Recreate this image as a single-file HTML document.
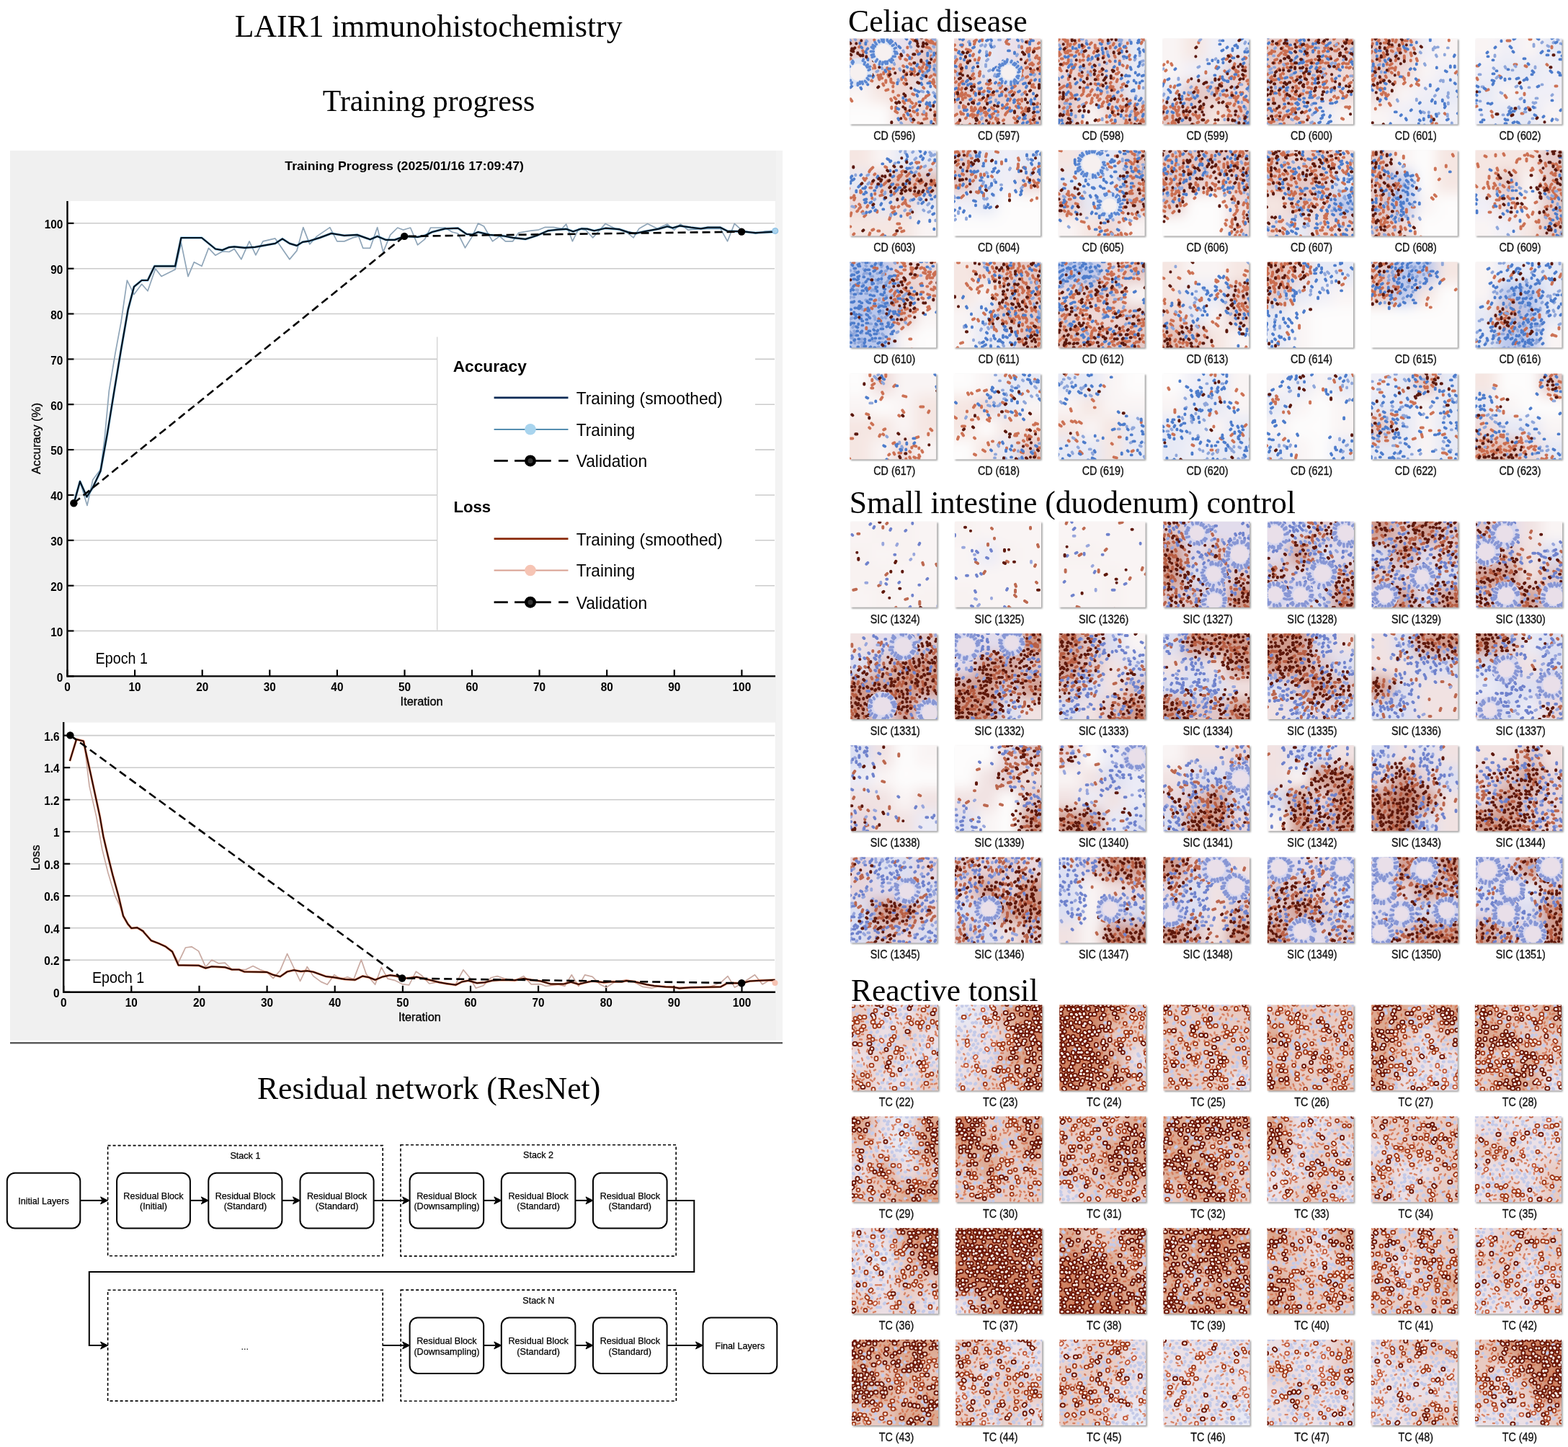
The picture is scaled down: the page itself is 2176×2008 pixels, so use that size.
<!DOCTYPE html>
<html><head><meta charset="utf-8"><title>LAIR1 immunohistochemistry</title>
<style>html,body{margin:0;padding:0;background:#fff;}body{width:2176px;height:2008px;overflow:hidden;}svg{display:block;}.cW{fill:#fdfcfc}.cw{fill:#f9f4f4}.cs{fill:#f9f3f2}.cp{fill:#f5e6e2}.cl{fill:#f0eff7}.cg{fill:#e9e2ee}.cb{fill:#e6e9f5}.cB{fill:#b9c7ec}.cm{fill:#eed9d8}.cM{fill:#e4c8c6}.cr{fill:#eed6d0}.cR{fill:#e2bcb2}.cD{fill:#d4a090}.sW{fill:#fdfcfc}.sw{fill:#f9f4f4}.ss{fill:#f8f2f1}.sp{fill:#f1e2e2}.sl{fill:#ebebf6}.sg{fill:#e2dcec}.sb{fill:#dcdff2}.sB{fill:#cdd4f0}.sm{fill:#e8d6dc}.sM{fill:#e0c6c8}.sr{fill:#eccfc8}.sR{fill:#cf9a8c}.sD{fill:#b87868}.t1{fill:#e8e9f4}.t2{fill:#ebe0e6}.t3{fill:#e8cac2}.t4{fill:#dca890}.t5{fill:#cc8466}</style>
</head><body>
<svg width="2176" height="2008" viewBox="0 0 2176 2008">
<defs><filter id="bl" x="-30%" y="-30%" width="160%" height="160%"><feGaussianBlur stdDeviation="9"/></filter><filter id="sh" x="-10%" y="-10%" width="120%" height="120%"><feGaussianBlur stdDeviation="0.9"/></filter><rect id="q00" x="-20" y="-20" width="51" height="51"/><rect id="q01" x="30" y="-20" width="31" height="51"/><rect id="q02" x="60" y="-20" width="31" height="51"/><rect id="q03" x="90" y="-20" width="51" height="51"/><rect id="q10" x="-20" y="30" width="51" height="31"/><rect id="q11" x="30" y="30" width="31" height="31"/><rect id="q12" x="60" y="30" width="31" height="31"/><rect id="q13" x="90" y="30" width="51" height="31"/><rect id="q20" x="-20" y="60" width="51" height="31"/><rect id="q21" x="30" y="60" width="31" height="31"/><rect id="q22" x="60" y="60" width="31" height="31"/><rect id="q23" x="90" y="60" width="51" height="31"/><rect id="q30" x="-20" y="90" width="51" height="51"/><rect id="q31" x="30" y="90" width="31" height="51"/><rect id="q32" x="60" y="90" width="31" height="51"/><rect id="q33" x="90" y="90" width="51" height="51"/></defs>
<rect width="2176" height="2008" fill="#fff"/>
<text x="594.6" y="50.7" font-family="'Liberation Serif', 'Times New Roman', serif" font-size="43.7" text-anchor="middle" textLength="537.8" lengthAdjust="spacingAndGlyphs">LAIR1 immunohistochemistry</text>
<text x="595.1" y="153.5" font-family="'Liberation Serif', 'Times New Roman', serif" font-size="42" text-anchor="middle" textLength="294.5" lengthAdjust="spacingAndGlyphs">Training progress</text>
<text x="595.1" y="1525" font-family="'Liberation Serif', 'Times New Roman', serif" font-size="43.7" text-anchor="middle" textLength="476.4" lengthAdjust="spacingAndGlyphs">Residual network (ResNet)</text>
<rect x="14" y="209" width="1072" height="1235" fill="#f0f0f0"/>
<rect x="1077" y="209" width="9" height="1235" fill="#f3f3f3"/>
<rect x="14" y="1446.2" width="1072" height="2.2" fill="#4a4a4a"/>
<text x="561.1" y="235.6" font-family="'Liberation Sans', Arial, sans-serif" font-weight="bold" font-size="16.6" text-anchor="middle" textLength="331.6" lengthAdjust="spacingAndGlyphs">Training Progress (2025/01/16 17:09:47)</text>
<rect x="93.5" y="279" width="982.5" height="659.4" fill="#fff"/>
<line x1="102.5" y1="875.5" x2="1075" y2="875.5" stroke="#cbcbcb" stroke-width="1.6"/>
<line x1="102.5" y1="812.7" x2="1075" y2="812.7" stroke="#cbcbcb" stroke-width="1.6"/>
<line x1="102.5" y1="749.8" x2="1075" y2="749.8" stroke="#cbcbcb" stroke-width="1.6"/>
<line x1="102.5" y1="687.0" x2="1075" y2="687.0" stroke="#cbcbcb" stroke-width="1.6"/>
<line x1="102.5" y1="624.1" x2="1075" y2="624.1" stroke="#cbcbcb" stroke-width="1.6"/>
<line x1="102.5" y1="561.2" x2="1075" y2="561.2" stroke="#cbcbcb" stroke-width="1.6"/>
<line x1="102.5" y1="498.4" x2="1075" y2="498.4" stroke="#cbcbcb" stroke-width="1.6"/>
<line x1="102.5" y1="435.5" x2="1075" y2="435.5" stroke="#cbcbcb" stroke-width="1.6"/>
<line x1="102.5" y1="372.7" x2="1075" y2="372.7" stroke="#cbcbcb" stroke-width="1.6"/>
<line x1="102.5" y1="309.8" x2="1075" y2="309.8" stroke="#cbcbcb" stroke-width="1.6"/>
<rect x="606.7" y="467.5" width="441.3" height="406.5" fill="#fff"/>
<line x1="606.7" y1="467.5" x2="606.7" y2="874.4" stroke="#cfcfcf" stroke-width="1.2"/>
<line x1="93.5" y1="938.4" x2="102.5" y2="938.4" stroke="#000" stroke-width="2.2"/>
<text x="87.4" y="945.7" font-family="'Liberation Sans', Arial, sans-serif" font-weight="bold" font-size="16.4" text-anchor="end" textLength="8.6" lengthAdjust="spacingAndGlyphs">0</text>
<line x1="93.5" y1="875.5" x2="102.5" y2="875.5" stroke="#000" stroke-width="2.2"/>
<text x="87.4" y="882.8" font-family="'Liberation Sans', Arial, sans-serif" font-weight="bold" font-size="16.4" text-anchor="end" textLength="17.1" lengthAdjust="spacingAndGlyphs">10</text>
<line x1="93.5" y1="812.7" x2="102.5" y2="812.7" stroke="#000" stroke-width="2.2"/>
<text x="87.4" y="820.0" font-family="'Liberation Sans', Arial, sans-serif" font-weight="bold" font-size="16.4" text-anchor="end" textLength="17.1" lengthAdjust="spacingAndGlyphs">20</text>
<line x1="93.5" y1="749.8" x2="102.5" y2="749.8" stroke="#000" stroke-width="2.2"/>
<text x="87.4" y="757.1" font-family="'Liberation Sans', Arial, sans-serif" font-weight="bold" font-size="16.4" text-anchor="end" textLength="17.1" lengthAdjust="spacingAndGlyphs">30</text>
<line x1="93.5" y1="687.0" x2="102.5" y2="687.0" stroke="#000" stroke-width="2.2"/>
<text x="87.4" y="694.3" font-family="'Liberation Sans', Arial, sans-serif" font-weight="bold" font-size="16.4" text-anchor="end" textLength="17.1" lengthAdjust="spacingAndGlyphs">40</text>
<line x1="93.5" y1="624.1" x2="102.5" y2="624.1" stroke="#000" stroke-width="2.2"/>
<text x="87.4" y="631.4" font-family="'Liberation Sans', Arial, sans-serif" font-weight="bold" font-size="16.4" text-anchor="end" textLength="17.1" lengthAdjust="spacingAndGlyphs">50</text>
<line x1="93.5" y1="561.2" x2="102.5" y2="561.2" stroke="#000" stroke-width="2.2"/>
<text x="87.4" y="568.5" font-family="'Liberation Sans', Arial, sans-serif" font-weight="bold" font-size="16.4" text-anchor="end" textLength="17.1" lengthAdjust="spacingAndGlyphs">60</text>
<line x1="93.5" y1="498.4" x2="102.5" y2="498.4" stroke="#000" stroke-width="2.2"/>
<text x="87.4" y="505.7" font-family="'Liberation Sans', Arial, sans-serif" font-weight="bold" font-size="16.4" text-anchor="end" textLength="17.1" lengthAdjust="spacingAndGlyphs">70</text>
<line x1="93.5" y1="435.5" x2="102.5" y2="435.5" stroke="#000" stroke-width="2.2"/>
<text x="87.4" y="442.8" font-family="'Liberation Sans', Arial, sans-serif" font-weight="bold" font-size="16.4" text-anchor="end" textLength="17.1" lengthAdjust="spacingAndGlyphs">80</text>
<line x1="93.5" y1="372.7" x2="102.5" y2="372.7" stroke="#000" stroke-width="2.2"/>
<text x="87.4" y="380.0" font-family="'Liberation Sans', Arial, sans-serif" font-weight="bold" font-size="16.4" text-anchor="end" textLength="17.1" lengthAdjust="spacingAndGlyphs">90</text>
<line x1="93.5" y1="309.8" x2="102.5" y2="309.8" stroke="#000" stroke-width="2.2"/>
<text x="87.4" y="317.1" font-family="'Liberation Sans', Arial, sans-serif" font-weight="bold" font-size="16.4" text-anchor="end" textLength="25.7" lengthAdjust="spacingAndGlyphs">100</text>
<line x1="93.5" y1="938.4" x2="93.5" y2="929.4" stroke="#000" stroke-width="2.2"/>
<text x="93.5" y="958.8" font-family="'Liberation Sans', Arial, sans-serif" font-weight="bold" font-size="16.4" text-anchor="middle" textLength="8.6" lengthAdjust="spacingAndGlyphs">0</text>
<line x1="187.1" y1="938.4" x2="187.1" y2="929.4" stroke="#000" stroke-width="2.2"/>
<text x="187.1" y="958.8" font-family="'Liberation Sans', Arial, sans-serif" font-weight="bold" font-size="16.4" text-anchor="middle" textLength="17.1" lengthAdjust="spacingAndGlyphs">10</text>
<line x1="280.7" y1="938.4" x2="280.7" y2="929.4" stroke="#000" stroke-width="2.2"/>
<text x="280.7" y="958.8" font-family="'Liberation Sans', Arial, sans-serif" font-weight="bold" font-size="16.4" text-anchor="middle" textLength="17.1" lengthAdjust="spacingAndGlyphs">20</text>
<line x1="374.3" y1="938.4" x2="374.3" y2="929.4" stroke="#000" stroke-width="2.2"/>
<text x="374.3" y="958.8" font-family="'Liberation Sans', Arial, sans-serif" font-weight="bold" font-size="16.4" text-anchor="middle" textLength="17.1" lengthAdjust="spacingAndGlyphs">30</text>
<line x1="467.9" y1="938.4" x2="467.9" y2="929.4" stroke="#000" stroke-width="2.2"/>
<text x="467.9" y="958.8" font-family="'Liberation Sans', Arial, sans-serif" font-weight="bold" font-size="16.4" text-anchor="middle" textLength="17.1" lengthAdjust="spacingAndGlyphs">40</text>
<line x1="561.5" y1="938.4" x2="561.5" y2="929.4" stroke="#000" stroke-width="2.2"/>
<text x="561.5" y="958.8" font-family="'Liberation Sans', Arial, sans-serif" font-weight="bold" font-size="16.4" text-anchor="middle" textLength="17.1" lengthAdjust="spacingAndGlyphs">50</text>
<line x1="655.0" y1="938.4" x2="655.0" y2="929.4" stroke="#000" stroke-width="2.2"/>
<text x="655.0" y="958.8" font-family="'Liberation Sans', Arial, sans-serif" font-weight="bold" font-size="16.4" text-anchor="middle" textLength="17.1" lengthAdjust="spacingAndGlyphs">60</text>
<line x1="748.6" y1="938.4" x2="748.6" y2="929.4" stroke="#000" stroke-width="2.2"/>
<text x="748.6" y="958.8" font-family="'Liberation Sans', Arial, sans-serif" font-weight="bold" font-size="16.4" text-anchor="middle" textLength="17.1" lengthAdjust="spacingAndGlyphs">70</text>
<line x1="842.2" y1="938.4" x2="842.2" y2="929.4" stroke="#000" stroke-width="2.2"/>
<text x="842.2" y="958.8" font-family="'Liberation Sans', Arial, sans-serif" font-weight="bold" font-size="16.4" text-anchor="middle" textLength="17.1" lengthAdjust="spacingAndGlyphs">80</text>
<line x1="935.8" y1="938.4" x2="935.8" y2="929.4" stroke="#000" stroke-width="2.2"/>
<text x="935.8" y="958.8" font-family="'Liberation Sans', Arial, sans-serif" font-weight="bold" font-size="16.4" text-anchor="middle" textLength="17.1" lengthAdjust="spacingAndGlyphs">90</text>
<line x1="1029.4" y1="938.4" x2="1029.4" y2="929.4" stroke="#000" stroke-width="2.2"/>
<text x="1029.4" y="958.8" font-family="'Liberation Sans', Arial, sans-serif" font-weight="bold" font-size="16.4" text-anchor="middle" textLength="25.7" lengthAdjust="spacingAndGlyphs">100</text>
<line x1="93.5" y1="279" x2="93.5" y2="939.4" stroke="#000" stroke-width="2.4"/>
<line x1="92.5" y1="938.4" x2="1076" y2="938.4" stroke="#000" stroke-width="2.4"/>
<text x="585.1" y="978.9" font-family="'Liberation Sans', Arial, sans-serif" font-size="17.2" text-anchor="middle" stroke="#000" stroke-width="0.35" textLength="59" lengthAdjust="spacingAndGlyphs">Iteration</text>
<text transform="translate(55.6,608.5) rotate(-90)" font-family="'Liberation Sans', Arial, sans-serif" font-size="16.8" text-anchor="middle" stroke="#000" stroke-width="0.3" textLength="99" lengthAdjust="spacingAndGlyphs">Accuracy (%)</text>
<text x="132.6" y="920.6" font-family="'Liberation Sans', Arial, sans-serif" font-size="21.4" textLength="72.4" lengthAdjust="spacingAndGlyphs">Epoch 1</text>
<polyline points="102.6,695.5 111.0,668.1 121.0,701.4 128.8,665.7 139.5,651.4 145.0,610.0 151.4,541.9 160.0,490.0 168.1,446.7 176.4,389.0 186.0,408.6 196.7,394.3 205.0,403.8 215.7,372.9 224.0,383.6 243.1,374.0 251.4,337.1 261.0,383.6 269.3,363.8 280.0,369.3 289.5,344.3 299.0,354.3 308.6,349.0 318.1,349.5 325.2,345.5 334.8,359.8 346.0,334.9 354.9,353.9 364.9,334.9 381.9,330.9 401.9,359.9 411.9,347.9 420.8,315.6 429.8,338.9 439.8,327.9 457.8,315.6 467.8,334.9 477.8,334.9 489.7,329.9 497.7,327.9 503.7,344.3 513.7,344.3 523.7,315.6 531.7,349.9 541.7,325.9 551.7,316.0 559.6,319.0 569.6,316.0 579.6,339.9 589.6,331.9 597.6,316.0 617.6,316.0 627.5,322.0 635.5,324.0 645.5,343.9 655.5,327.9 663.5,310.0 671.5,314.0 683.5,334.9 693.4,327.9 701.4,334.9 711.7,334.8 719.5,323.1 737.0,320.2 746.7,319.2 756.5,315.3 768.1,315.3 779.8,317.3 785.7,311.0 794.4,334.8 803.2,317.3 812.9,319.2 822.7,329.9 840.2,310.4 853.8,317.3 869.4,322.1 879.1,329.9 886.9,317.3 898.6,310.4 912.2,317.3 925.9,311.0 935.6,319.2 944.3,311.0 955.1,319.2 972.6,317.3 984.3,317.3 999.8,317.3 1009.6,334.8 1019.3,310.4 1029.0,319.2 1048.5,324.1 1062.2,320.8 1075.8,320.2" fill="none" stroke="#8fa5b8" stroke-width="1.7" stroke-linejoin="round"/>
<polyline points="103.8,694.3 111.0,668.1 120.5,689.5 128.8,676.4 139.5,653.8 149.0,601.4 158.6,541.9 168.1,484.8 177.6,430.0 186.0,397.9 196.7,389.0 205.0,389.0 214.5,369.3 243.1,369.3 251.4,330.0 280.0,330.0 299.0,345.5 308.6,347.1 318.1,343.1 325.2,342.4 339.5,343.8 354.0,342.9 367.9,340.3 381.9,337.9 391.9,331.3 401.9,337.9 411.9,340.9 419.9,335.9 429.8,334.3 443.8,329.9 459.8,323.9 477.8,326.9 495.7,325.9 513.7,332.3 523.7,327.9 535.7,332.9 547.7,332.9 561.6,327.9 579.6,328.9 589.6,326.9 599.6,322.0 617.6,317.4 635.5,316.6 647.5,324.9 655.5,325.5 663.5,322.0 679.5,325.9 699.4,327.5 711.7,329.9 729.2,331.9 744.8,327.0 760.4,320.2 774.0,318.6 785.7,317.8 795.4,321.2 807.1,317.3 814.9,317.6 824.6,320.2 840.2,316.7 859.7,318.2 871.3,322.1 881.1,324.1 894.7,321.2 914.2,317.6 925.9,314.3 933.6,316.3 943.4,313.4 959.0,315.7 972.6,317.3 982.3,315.7 999.8,315.7 1009.6,320.8 1029.0,321.2 1048.5,323.1 1075.8,321.7" fill="none" stroke="#35a0dc" stroke-width="3.4" stroke-linejoin="round" opacity="0.5"/>
<polyline points="103.8,694.3 111.0,668.1 120.5,689.5 128.8,676.4 139.5,653.8 149.0,601.4 158.6,541.9 168.1,484.8 177.6,430.0 186.0,397.9 196.7,389.0 205.0,389.0 214.5,369.3 243.1,369.3 251.4,330.0 280.0,330.0 299.0,345.5 308.6,347.1 318.1,343.1 325.2,342.4 339.5,343.8 354.0,342.9 367.9,340.3 381.9,337.9 391.9,331.3 401.9,337.9 411.9,340.9 419.9,335.9 429.8,334.3 443.8,329.9 459.8,323.9 477.8,326.9 495.7,325.9 513.7,332.3 523.7,327.9 535.7,332.9 547.7,332.9 561.6,327.9 579.6,328.9 589.6,326.9 599.6,322.0 617.6,317.4 635.5,316.6 647.5,324.9 655.5,325.5 663.5,322.0 679.5,325.9 699.4,327.5 711.7,329.9 729.2,331.9 744.8,327.0 760.4,320.2 774.0,318.6 785.7,317.8 795.4,321.2 807.1,317.3 814.9,317.6 824.6,320.2 840.2,316.7 859.7,318.2 871.3,322.1 881.1,324.1 894.7,321.2 914.2,317.6 925.9,314.3 933.6,316.3 943.4,313.4 959.0,315.7 972.6,317.3 982.3,315.7 999.8,315.7 1009.6,320.8 1029.0,321.2 1048.5,323.1 1075.8,321.7" fill="none" stroke="#04121f" stroke-width="2.2" stroke-linejoin="round"/>
<polyline points="102.4,698.2 561.2,327.9 1029.1,321.6" fill="none" stroke="#000" stroke-width="2.6" stroke-dasharray="11,6"/>
<circle cx="102.4" cy="698.2" r="5.2" fill="#000"/>
<circle cx="561.2" cy="327.9" r="5.2" fill="#000"/>
<circle cx="1029.1" cy="321.6" r="5.2" fill="#000"/>
<circle cx="1075.8" cy="320.4" r="4" fill="#a9d3ee" stroke="#7fb8e0" stroke-width="1"/>
<text x="628.7" y="515.6" font-family="'Liberation Sans', Arial, sans-serif" font-weight="bold" font-size="22.7">Accuracy</text>
<line x1="685.6" y1="551.8" x2="788.5" y2="551.8" stroke="#0a2a55" stroke-width="2.8"/>
<text x="799.7" y="560.7" font-family="'Liberation Sans', Arial, sans-serif" font-size="24" textLength="203.2" lengthAdjust="spacingAndGlyphs">Training (smoothed)</text>
<line x1="685.6" y1="595.8" x2="788.5" y2="595.8" stroke="#3d7ea6" stroke-width="1.8"/>
<circle cx="736" cy="595.8" r="7.8" fill="#a8d4ee"/>
<text x="799.7" y="604.7" font-family="'Liberation Sans', Arial, sans-serif" font-size="24" textLength="81.5" lengthAdjust="spacingAndGlyphs">Training</text>
<line x1="685.6" y1="639.4" x2="704.8" y2="639.4" stroke="#000" stroke-width="2.8"/>
<line x1="714.1" y1="639.4" x2="731" y2="639.4" stroke="#000" stroke-width="2.8"/>
<line x1="741" y1="639.4" x2="764.7" y2="639.4" stroke="#000" stroke-width="2.8"/>
<line x1="775.2" y1="639.4" x2="788.5" y2="639.4" stroke="#000" stroke-width="2.8"/>
<circle cx="736" cy="639.4" r="8" fill="#000"/><circle cx="736" cy="639.4" r="3.5" fill="#333"/>
<text x="799.7" y="648.3" font-family="'Liberation Sans', Arial, sans-serif" font-size="24" textLength="98.4" lengthAdjust="spacingAndGlyphs">Validation</text>
<text x="629.4" y="710.6" font-family="'Liberation Sans', Arial, sans-serif" font-weight="bold" font-size="22.2">Loss</text>
<line x1="685.6" y1="747.6" x2="788.5" y2="747.6" stroke="#8a2a08" stroke-width="2.8"/>
<text x="799.7" y="756.5" font-family="'Liberation Sans', Arial, sans-serif" font-size="24" textLength="203.2" lengthAdjust="spacingAndGlyphs">Training (smoothed)</text>
<line x1="685.6" y1="791.5" x2="788.5" y2="791.5" stroke="#d8a090" stroke-width="1.8"/>
<circle cx="736" cy="791.5" r="7.8" fill="#f6c4b4"/>
<text x="799.7" y="800.4" font-family="'Liberation Sans', Arial, sans-serif" font-size="24" textLength="81.5" lengthAdjust="spacingAndGlyphs">Training</text>
<line x1="685.6" y1="835.7" x2="704.8" y2="835.7" stroke="#000" stroke-width="2.8"/>
<line x1="714.1" y1="835.7" x2="731" y2="835.7" stroke="#000" stroke-width="2.8"/>
<line x1="741" y1="835.7" x2="764.7" y2="835.7" stroke="#000" stroke-width="2.8"/>
<line x1="775.2" y1="835.7" x2="788.5" y2="835.7" stroke="#000" stroke-width="2.8"/>
<circle cx="736" cy="835.7" r="8" fill="#000"/><circle cx="736" cy="835.7" r="3.5" fill="#333"/>
<text x="799.7" y="844.6" font-family="'Liberation Sans', Arial, sans-serif" font-size="24" textLength="98.4" lengthAdjust="spacingAndGlyphs">Validation</text>
<rect x="88.2" y="1002.6" width="987.8" height="374.79999999999995" fill="#fff"/>
<line x1="97.2" y1="1332.3" x2="1075" y2="1332.3" stroke="#cbcbcb" stroke-width="1.6"/>
<line x1="97.2" y1="1287.8" x2="1075" y2="1287.8" stroke="#cbcbcb" stroke-width="1.6"/>
<line x1="97.2" y1="1243.2" x2="1075" y2="1243.2" stroke="#cbcbcb" stroke-width="1.6"/>
<line x1="97.2" y1="1198.7" x2="1075" y2="1198.7" stroke="#cbcbcb" stroke-width="1.6"/>
<line x1="97.2" y1="1154.2" x2="1075" y2="1154.2" stroke="#cbcbcb" stroke-width="1.6"/>
<line x1="97.2" y1="1109.7" x2="1075" y2="1109.7" stroke="#cbcbcb" stroke-width="1.6"/>
<line x1="97.2" y1="1065.2" x2="1075" y2="1065.2" stroke="#cbcbcb" stroke-width="1.6"/>
<line x1="97.2" y1="1020.6" x2="1075" y2="1020.6" stroke="#cbcbcb" stroke-width="1.6"/>
<line x1="88.2" y1="1376.8" x2="97.2" y2="1376.8" stroke="#000" stroke-width="2.2"/>
<text x="82.6" y="1383.8" font-family="'Liberation Sans', Arial, sans-serif" font-weight="bold" font-size="16.4" text-anchor="end" textLength="8.6" lengthAdjust="spacingAndGlyphs">0</text>
<line x1="88.2" y1="1332.3" x2="97.2" y2="1332.3" stroke="#000" stroke-width="2.2"/>
<text x="82.6" y="1339.3" font-family="'Liberation Sans', Arial, sans-serif" font-weight="bold" font-size="16.4" text-anchor="end" textLength="21.4" lengthAdjust="spacingAndGlyphs">0.2</text>
<line x1="88.2" y1="1287.8" x2="97.2" y2="1287.8" stroke="#000" stroke-width="2.2"/>
<text x="82.6" y="1294.8" font-family="'Liberation Sans', Arial, sans-serif" font-weight="bold" font-size="16.4" text-anchor="end" textLength="21.4" lengthAdjust="spacingAndGlyphs">0.4</text>
<line x1="88.2" y1="1243.2" x2="97.2" y2="1243.2" stroke="#000" stroke-width="2.2"/>
<text x="82.6" y="1250.2" font-family="'Liberation Sans', Arial, sans-serif" font-weight="bold" font-size="16.4" text-anchor="end" textLength="21.4" lengthAdjust="spacingAndGlyphs">0.6</text>
<line x1="88.2" y1="1198.7" x2="97.2" y2="1198.7" stroke="#000" stroke-width="2.2"/>
<text x="82.6" y="1205.7" font-family="'Liberation Sans', Arial, sans-serif" font-weight="bold" font-size="16.4" text-anchor="end" textLength="21.4" lengthAdjust="spacingAndGlyphs">0.8</text>
<line x1="88.2" y1="1154.2" x2="97.2" y2="1154.2" stroke="#000" stroke-width="2.2"/>
<text x="82.6" y="1161.2" font-family="'Liberation Sans', Arial, sans-serif" font-weight="bold" font-size="16.4" text-anchor="end" textLength="8.6" lengthAdjust="spacingAndGlyphs">1</text>
<line x1="88.2" y1="1109.7" x2="97.2" y2="1109.7" stroke="#000" stroke-width="2.2"/>
<text x="82.6" y="1116.7" font-family="'Liberation Sans', Arial, sans-serif" font-weight="bold" font-size="16.4" text-anchor="end" textLength="21.4" lengthAdjust="spacingAndGlyphs">1.2</text>
<line x1="88.2" y1="1065.2" x2="97.2" y2="1065.2" stroke="#000" stroke-width="2.2"/>
<text x="82.6" y="1072.2" font-family="'Liberation Sans', Arial, sans-serif" font-weight="bold" font-size="16.4" text-anchor="end" textLength="21.4" lengthAdjust="spacingAndGlyphs">1.4</text>
<line x1="88.2" y1="1020.6" x2="97.2" y2="1020.6" stroke="#000" stroke-width="2.2"/>
<text x="82.6" y="1027.6" font-family="'Liberation Sans', Arial, sans-serif" font-weight="bold" font-size="16.4" text-anchor="end" textLength="21.4" lengthAdjust="spacingAndGlyphs">1.6</text>
<line x1="88.2" y1="1376.8" x2="88.2" y2="1367.8" stroke="#000" stroke-width="2.2"/>
<text x="88.2" y="1397.2" font-family="'Liberation Sans', Arial, sans-serif" font-weight="bold" font-size="16.4" text-anchor="middle" textLength="8.6" lengthAdjust="spacingAndGlyphs">0</text>
<line x1="182.3" y1="1376.8" x2="182.3" y2="1367.8" stroke="#000" stroke-width="2.2"/>
<text x="182.3" y="1397.2" font-family="'Liberation Sans', Arial, sans-serif" font-weight="bold" font-size="16.4" text-anchor="middle" textLength="17.1" lengthAdjust="spacingAndGlyphs">10</text>
<line x1="276.5" y1="1376.8" x2="276.5" y2="1367.8" stroke="#000" stroke-width="2.2"/>
<text x="276.5" y="1397.2" font-family="'Liberation Sans', Arial, sans-serif" font-weight="bold" font-size="16.4" text-anchor="middle" textLength="17.1" lengthAdjust="spacingAndGlyphs">20</text>
<line x1="370.6" y1="1376.8" x2="370.6" y2="1367.8" stroke="#000" stroke-width="2.2"/>
<text x="370.6" y="1397.2" font-family="'Liberation Sans', Arial, sans-serif" font-weight="bold" font-size="16.4" text-anchor="middle" textLength="17.1" lengthAdjust="spacingAndGlyphs">30</text>
<line x1="464.7" y1="1376.8" x2="464.7" y2="1367.8" stroke="#000" stroke-width="2.2"/>
<text x="464.7" y="1397.2" font-family="'Liberation Sans', Arial, sans-serif" font-weight="bold" font-size="16.4" text-anchor="middle" textLength="17.1" lengthAdjust="spacingAndGlyphs">40</text>
<line x1="558.9" y1="1376.8" x2="558.9" y2="1367.8" stroke="#000" stroke-width="2.2"/>
<text x="558.9" y="1397.2" font-family="'Liberation Sans', Arial, sans-serif" font-weight="bold" font-size="16.4" text-anchor="middle" textLength="17.1" lengthAdjust="spacingAndGlyphs">50</text>
<line x1="653.0" y1="1376.8" x2="653.0" y2="1367.8" stroke="#000" stroke-width="2.2"/>
<text x="653.0" y="1397.2" font-family="'Liberation Sans', Arial, sans-serif" font-weight="bold" font-size="16.4" text-anchor="middle" textLength="17.1" lengthAdjust="spacingAndGlyphs">60</text>
<line x1="747.1" y1="1376.8" x2="747.1" y2="1367.8" stroke="#000" stroke-width="2.2"/>
<text x="747.1" y="1397.2" font-family="'Liberation Sans', Arial, sans-serif" font-weight="bold" font-size="16.4" text-anchor="middle" textLength="17.1" lengthAdjust="spacingAndGlyphs">70</text>
<line x1="841.2" y1="1376.8" x2="841.2" y2="1367.8" stroke="#000" stroke-width="2.2"/>
<text x="841.2" y="1397.2" font-family="'Liberation Sans', Arial, sans-serif" font-weight="bold" font-size="16.4" text-anchor="middle" textLength="17.1" lengthAdjust="spacingAndGlyphs">80</text>
<line x1="935.4" y1="1376.8" x2="935.4" y2="1367.8" stroke="#000" stroke-width="2.2"/>
<text x="935.4" y="1397.2" font-family="'Liberation Sans', Arial, sans-serif" font-weight="bold" font-size="16.4" text-anchor="middle" textLength="17.1" lengthAdjust="spacingAndGlyphs">90</text>
<line x1="1029.5" y1="1376.8" x2="1029.5" y2="1367.8" stroke="#000" stroke-width="2.2"/>
<text x="1029.5" y="1397.2" font-family="'Liberation Sans', Arial, sans-serif" font-weight="bold" font-size="16.4" text-anchor="middle" textLength="25.7" lengthAdjust="spacingAndGlyphs">100</text>
<line x1="88.2" y1="1002" x2="88.2" y2="1377.8" stroke="#000" stroke-width="2.4"/>
<line x1="87.2" y1="1376.8" x2="1076" y2="1376.8" stroke="#000" stroke-width="2.4"/>
<text x="582.4" y="1416.8" font-family="'Liberation Sans', Arial, sans-serif" font-size="17.2" text-anchor="middle" stroke="#000" stroke-width="0.35" textLength="59" lengthAdjust="spacingAndGlyphs">Iteration</text>
<text transform="translate(55.4,1190.2) rotate(-90)" font-family="'Liberation Sans', Arial, sans-serif" font-size="16.8" text-anchor="middle" stroke="#000" stroke-width="0.3">Loss</text>
<text x="127.9" y="1363.9" font-family="'Liberation Sans', Arial, sans-serif" font-size="21.4" textLength="72.4" lengthAdjust="spacingAndGlyphs">Epoch 1</text>
<polyline points="106.1,1026.5 116.7,1029.2 124.0,1090.9 133.7,1133.1 141.8,1178.5 149.9,1211.0 159.7,1243.5 166.2,1256.4 171.0,1271.1 177.5,1282.4 182.4,1288.1 190.5,1287.3 200.2,1294.3 209.9,1305.3 219.6,1308.9 229.4,1313.3 239.1,1320.6 247.6,1335.7 257.4,1315.0 265.9,1313.8 275.6,1319.9 285.4,1341.8 293.9,1332.0 303.6,1336.9 312.2,1336.2 321.9,1345.5 331.6,1345.5 341.0,1345.5 351.1,1340.6 360.8,1345.5 370.6,1349.1 379.1,1357.6 388.8,1346.7 398.6,1323.5 408.7,1345.0 416.6,1361.5 426.2,1341.5 434.9,1354.6 445.4,1362.4 454.2,1366.3 463.8,1352.8 473.4,1358.9 482.1,1355.8 490.9,1358.9 501.3,1331.8 508.3,1351.9 520.6,1366.3 529.3,1342.3 538.0,1358.1 548.5,1360.7 558.1,1365.6 567.7,1366.8 577.4,1348.1 585.2,1353.7 595.7,1365.0 609.7,1362.4 620.2,1365.9 632.4,1365.6 642.9,1345.8 651.6,1356.3 660.4,1371.2 670.8,1367.7 681.3,1356.8 690.1,1354.6 700.5,1358.1 714.5,1360.7 726.8,1354.6 737.2,1365.9 750.0,1365.6 757.5,1368.5 775.0,1365.9 783.7,1368.5 793.3,1352.8 802.9,1368.5 811.6,1352.8 822.1,1355.4 832.6,1365.9 841.3,1370.3 853.6,1362.4 869.3,1359.8 879.8,1362.4 892.0,1369.4 904.3,1371.2 914.7,1368.5 934.0,1369.8 958.4,1370.3 984.6,1369.8 1000.3,1363.3 1010.0,1354.6 1019.6,1370.3 1030.0,1364.2 1047.5,1352.8 1058.0,1365.9 1066.8,1360.7 1075.5,1362.4" fill="none" stroke="#c9aaa2" stroke-width="1.7" stroke-linejoin="round"/>
<polyline points="96.9,1056.0 106.1,1026.0 115.8,1028.4 119.9,1047.1 125.6,1073.0 133.7,1110.4 138.6,1133.1 143.4,1160.7 149.9,1188.3 156.4,1214.3 164.5,1243.5 171.0,1271.1 177.5,1282.4 182.4,1288.1 190.5,1287.3 198.6,1292.2 200.2,1294.3 209.9,1305.3 219.6,1308.9 229.4,1313.3 239.1,1320.6 247.6,1339.4 275.6,1339.8 285.4,1343.5 293.9,1341.3 312.2,1342.3 321.9,1345.5 331.6,1345.5 338.9,1348.4 370.6,1349.1 379.1,1352.8 388.8,1355.2 398.6,1348.4 407.9,1346.2 417.5,1348.1 426.2,1347.2 434.9,1348.8 452.4,1355.1 462.9,1356.3 478.6,1358.9 492.6,1359.8 503.1,1354.6 511.8,1356.3 520.6,1359.8 531.0,1355.4 541.5,1353.3 550.3,1354.6 558.1,1357.5 567.7,1357.2 578.2,1355.8 592.2,1358.9 609.7,1363.3 620.2,1365.0 632.4,1366.8 641.1,1362.4 649.9,1360.7 662.1,1364.2 672.6,1363.3 683.1,1360.7 697.0,1359.8 714.5,1360.3 726.8,1358.1 737.2,1359.8 750.5,1361.5 764.5,1365.6 781.9,1365.6 792.4,1362.8 802.9,1365.9 813.4,1363.3 822.1,1361.5 837.9,1363.3 848.3,1362.4 862.3,1362.4 869.3,1361.0 879.8,1362.1 897.3,1366.3 907.7,1368.0 923.5,1369.4 934.0,1369.8 942.7,1371.5 958.4,1370.3 984.6,1369.8 1000.3,1369.4 1009.1,1364.5 1019.6,1364.2 1029.2,1364.5 1040.5,1361.5 1054.5,1360.7 1075.5,1359.8" fill="none" stroke="#e8541a" stroke-width="3.2" stroke-linejoin="round" opacity="0.6"/>
<polyline points="96.9,1056.0 106.1,1026.0 115.8,1028.4 119.9,1047.1 125.6,1073.0 133.7,1110.4 138.6,1133.1 143.4,1160.7 149.9,1188.3 156.4,1214.3 164.5,1243.5 171.0,1271.1 177.5,1282.4 182.4,1288.1 190.5,1287.3 198.6,1292.2 200.2,1294.3 209.9,1305.3 219.6,1308.9 229.4,1313.3 239.1,1320.6 247.6,1339.4 275.6,1339.8 285.4,1343.5 293.9,1341.3 312.2,1342.3 321.9,1345.5 331.6,1345.5 338.9,1348.4 370.6,1349.1 379.1,1352.8 388.8,1355.2 398.6,1348.4 407.9,1346.2 417.5,1348.1 426.2,1347.2 434.9,1348.8 452.4,1355.1 462.9,1356.3 478.6,1358.9 492.6,1359.8 503.1,1354.6 511.8,1356.3 520.6,1359.8 531.0,1355.4 541.5,1353.3 550.3,1354.6 558.1,1357.5 567.7,1357.2 578.2,1355.8 592.2,1358.9 609.7,1363.3 620.2,1365.0 632.4,1366.8 641.1,1362.4 649.9,1360.7 662.1,1364.2 672.6,1363.3 683.1,1360.7 697.0,1359.8 714.5,1360.3 726.8,1358.1 737.2,1359.8 750.5,1361.5 764.5,1365.6 781.9,1365.6 792.4,1362.8 802.9,1365.9 813.4,1363.3 822.1,1361.5 837.9,1363.3 848.3,1362.4 862.3,1362.4 869.3,1361.0 879.8,1362.1 897.3,1366.3 907.7,1368.0 923.5,1369.4 934.0,1369.8 942.7,1371.5 958.4,1370.3 984.6,1369.8 1000.3,1369.4 1009.1,1364.5 1019.6,1364.2 1029.2,1364.5 1040.5,1361.5 1054.5,1360.7 1075.5,1359.8" fill="none" stroke="#2a0800" stroke-width="2.0" stroke-linejoin="round"/>
<polyline points="97.4,1020.4 558.1,1357.5 1029.2,1364.3" fill="none" stroke="#000" stroke-width="2.6" stroke-dasharray="11,6"/>
<circle cx="97.4" cy="1020.4" r="5.2" fill="#000"/>
<circle cx="558.1" cy="1357.5" r="5.2" fill="#000"/>
<circle cx="1029.2" cy="1364.3" r="5.2" fill="#000"/>
<circle cx="1075.5" cy="1364" r="4" fill="#f6c2b2"/>
<rect x="149.6" y="1589.6" width="381.6" height="153.20000000000005" fill="none" stroke="#000" stroke-width="1.6" stroke-dasharray="4,3"/>
<text x="340.4" y="1608.1" font-family="'Liberation Sans', Arial, sans-serif" font-size="12.6" text-anchor="middle" stroke="#000" stroke-width="0.25">Stack 1</text>
<rect x="556.0" y="1588.8" width="382.20000000000005" height="154.29999999999995" fill="none" stroke="#000" stroke-width="1.6" stroke-dasharray="4,3"/>
<text x="747.1" y="1607.3" font-family="'Liberation Sans', Arial, sans-serif" font-size="12.6" text-anchor="middle" stroke="#000" stroke-width="0.25">Stack 2</text>
<rect x="149.6" y="1790.3" width="381.6" height="153.79999999999995" fill="none" stroke="#000" stroke-width="1.6" stroke-dasharray="4,3"/>
<rect x="556.2" y="1790.1" width="382.19999999999993" height="154.10000000000014" fill="none" stroke="#000" stroke-width="1.6" stroke-dasharray="4,3"/>
<text x="747.3" y="1808.6" font-family="'Liberation Sans', Arial, sans-serif" font-size="12.6" text-anchor="middle" stroke="#000" stroke-width="0.25">Stack N</text>
<text x="339.7" y="1872.5" font-family="'Liberation Sans', Arial, sans-serif" font-size="12.6" text-anchor="middle">...</text>
<rect x="9.8" y="1627.8" width="101.5" height="76.60000000000014" rx="11" ry="11" fill="#fff" stroke="#000" stroke-width="2"/>
<text x="60.5" y="1670.8" font-family="'Liberation Sans', Arial, sans-serif" font-size="12.6" text-anchor="middle" stroke="#000" stroke-width="0.25">Initial Layers</text>
<rect x="162.1" y="1627.8" width="101.79999999999998" height="76.60000000000014" rx="11" ry="11" fill="#fff" stroke="#000" stroke-width="2"/>
<text x="213.0" y="1663.6" font-family="'Liberation Sans', Arial, sans-serif" font-size="12.6" text-anchor="middle" stroke="#000" stroke-width="0.25">Residual Block</text>
<text x="213.0" y="1678.3" font-family="'Liberation Sans', Arial, sans-serif" font-size="12.6" text-anchor="middle" stroke="#000" stroke-width="0.25">(Initial)</text>
<rect x="289.3" y="1627.8" width="102.09999999999997" height="76.60000000000014" rx="11" ry="11" fill="#fff" stroke="#000" stroke-width="2"/>
<text x="340.4" y="1663.6" font-family="'Liberation Sans', Arial, sans-serif" font-size="12.6" text-anchor="middle" stroke="#000" stroke-width="0.25">Residual Block</text>
<text x="340.4" y="1678.3" font-family="'Liberation Sans', Arial, sans-serif" font-size="12.6" text-anchor="middle" stroke="#000" stroke-width="0.25">(Standard)</text>
<rect x="416.5" y="1627.8" width="102.10000000000002" height="76.60000000000014" rx="11" ry="11" fill="#fff" stroke="#000" stroke-width="2"/>
<text x="467.6" y="1663.6" font-family="'Liberation Sans', Arial, sans-serif" font-size="12.6" text-anchor="middle" stroke="#000" stroke-width="0.25">Residual Block</text>
<text x="467.6" y="1678.3" font-family="'Liberation Sans', Arial, sans-serif" font-size="12.6" text-anchor="middle" stroke="#000" stroke-width="0.25">(Standard)</text>
<rect x="568.6" y="1627.8" width="102.60000000000002" height="76.60000000000014" rx="11" ry="11" fill="#fff" stroke="#000" stroke-width="2"/>
<text x="619.9" y="1663.6" font-family="'Liberation Sans', Arial, sans-serif" font-size="12.6" text-anchor="middle" stroke="#000" stroke-width="0.25">Residual Block</text>
<text x="619.9" y="1678.3" font-family="'Liberation Sans', Arial, sans-serif" font-size="12.6" text-anchor="middle" stroke="#000" stroke-width="0.25">(Downsampling)</text>
<rect x="695.8" y="1627.8" width="102.60000000000002" height="76.60000000000014" rx="11" ry="11" fill="#fff" stroke="#000" stroke-width="2"/>
<text x="747.1" y="1663.6" font-family="'Liberation Sans', Arial, sans-serif" font-size="12.6" text-anchor="middle" stroke="#000" stroke-width="0.25">Residual Block</text>
<text x="747.1" y="1678.3" font-family="'Liberation Sans', Arial, sans-serif" font-size="12.6" text-anchor="middle" stroke="#000" stroke-width="0.25">(Standard)</text>
<rect x="823.0" y="1627.8" width="102.60000000000002" height="76.60000000000014" rx="11" ry="11" fill="#fff" stroke="#000" stroke-width="2"/>
<text x="874.3" y="1663.6" font-family="'Liberation Sans', Arial, sans-serif" font-size="12.6" text-anchor="middle" stroke="#000" stroke-width="0.25">Residual Block</text>
<text x="874.3" y="1678.3" font-family="'Liberation Sans', Arial, sans-serif" font-size="12.6" text-anchor="middle" stroke="#000" stroke-width="0.25">(Standard)</text>
<rect x="568.6" y="1828.5" width="102.60000000000002" height="77.5" rx="11" ry="11" fill="#fff" stroke="#000" stroke-width="2"/>
<text x="619.9" y="1864.8" font-family="'Liberation Sans', Arial, sans-serif" font-size="12.6" text-anchor="middle" stroke="#000" stroke-width="0.25">Residual Block</text>
<text x="619.9" y="1879.5" font-family="'Liberation Sans', Arial, sans-serif" font-size="12.6" text-anchor="middle" stroke="#000" stroke-width="0.25">(Downsampling)</text>
<rect x="695.8" y="1828.5" width="102.60000000000002" height="77.5" rx="11" ry="11" fill="#fff" stroke="#000" stroke-width="2"/>
<text x="747.1" y="1864.8" font-family="'Liberation Sans', Arial, sans-serif" font-size="12.6" text-anchor="middle" stroke="#000" stroke-width="0.25">Residual Block</text>
<text x="747.1" y="1879.5" font-family="'Liberation Sans', Arial, sans-serif" font-size="12.6" text-anchor="middle" stroke="#000" stroke-width="0.25">(Standard)</text>
<rect x="823.0" y="1828.5" width="102.60000000000002" height="77.5" rx="11" ry="11" fill="#fff" stroke="#000" stroke-width="2"/>
<text x="874.3" y="1864.8" font-family="'Liberation Sans', Arial, sans-serif" font-size="12.6" text-anchor="middle" stroke="#000" stroke-width="0.25">Residual Block</text>
<text x="874.3" y="1879.5" font-family="'Liberation Sans', Arial, sans-serif" font-size="12.6" text-anchor="middle" stroke="#000" stroke-width="0.25">(Standard)</text>
<rect x="975.5" y="1828.5" width="102.79999999999995" height="77.5" rx="11" ry="11" fill="#fff" stroke="#000" stroke-width="2"/>
<text x="1026.9" y="1872.0" font-family="'Liberation Sans', Arial, sans-serif" font-size="12.6" text-anchor="middle" stroke="#000" stroke-width="0.25">Final Layers</text>
<line x1="111.3" y1="1665.9" x2="141.6" y2="1665.9" stroke="#000" stroke-width="2"/>
<path d="M149.6,1665.9 L139.6,1660.9 L142.1,1665.9 L139.6,1670.9 Z" fill="#000" stroke="#000" stroke-width="1"/>
<line x1="263.9" y1="1665.9" x2="281.3" y2="1665.9" stroke="#000" stroke-width="2"/>
<path d="M289.3,1665.9 L279.3,1660.9 L281.8,1665.9 L279.3,1670.9 Z" fill="#000" stroke="#000" stroke-width="1"/>
<line x1="391.4" y1="1665.9" x2="408.5" y2="1665.9" stroke="#000" stroke-width="2"/>
<path d="M416.5,1665.9 L406.5,1660.9 L409.0,1665.9 L406.5,1670.9 Z" fill="#000" stroke="#000" stroke-width="1"/>
<line x1="518.6" y1="1665.9" x2="560.6" y2="1665.9" stroke="#000" stroke-width="2"/>
<path d="M568.6,1665.9 L558.6,1660.9 L561.1,1665.9 L558.6,1670.9 Z" fill="#000" stroke="#000" stroke-width="1"/>
<line x1="671.2" y1="1665.9" x2="687.8" y2="1665.9" stroke="#000" stroke-width="2"/>
<path d="M695.8,1665.9 L685.8,1660.9 L688.3,1665.9 L685.8,1670.9 Z" fill="#000" stroke="#000" stroke-width="1"/>
<line x1="798.4" y1="1665.9" x2="815.0" y2="1665.9" stroke="#000" stroke-width="2"/>
<path d="M823.0,1665.9 L813.0,1660.9 L815.5,1665.9 L813.0,1670.9 Z" fill="#000" stroke="#000" stroke-width="1"/>
<polyline points="925.6,1665.9 963.3,1665.9 963.3,1765.1 123.8,1765.1 123.8,1867.1 141.6,1867.1" fill="none" stroke="#000" stroke-width="2"/>
<path d="M149.6,1867.1 L139.6,1862.1 L142.1,1867.1 L139.6,1872.1 Z" fill="#000" stroke="#000" stroke-width="1"/>
<line x1="531.2" y1="1867.0" x2="560.6" y2="1867.0" stroke="#000" stroke-width="2"/>
<path d="M568.6,1867.0 L558.6,1862.0 L561.1,1867.0 L558.6,1872.0 Z" fill="#000" stroke="#000" stroke-width="1"/>
<line x1="671.2" y1="1867.0" x2="687.8" y2="1867.0" stroke="#000" stroke-width="2"/>
<path d="M695.8,1867.0 L685.8,1862.0 L688.3,1867.0 L685.8,1872.0 Z" fill="#000" stroke="#000" stroke-width="1"/>
<line x1="798.4" y1="1867.0" x2="815.0" y2="1867.0" stroke="#000" stroke-width="2"/>
<path d="M823.0,1867.0 L813.0,1862.0 L815.5,1867.0 L813.0,1872.0 Z" fill="#000" stroke="#000" stroke-width="1"/>
<line x1="925.6" y1="1867.0" x2="967.5" y2="1867.0" stroke="#000" stroke-width="2"/>
<path d="M975.5,1867.0 L965.5,1862.0 L968.0,1867.0 L965.5,1872.0 Z" fill="#000" stroke="#000" stroke-width="1"/>
<text x="1177" y="43.9" font-family="'Liberation Serif', 'Times New Roman', serif" font-size="43.7" textLength="248.6" lengthAdjust="spacingAndGlyphs">Celiac disease</text>
<text x="1178.8" y="712.2" font-family="'Liberation Serif', 'Times New Roman', serif" font-size="43.7" textLength="619.2" lengthAdjust="spacingAndGlyphs">Small intestine (duodenum) control</text>
<text x="1181" y="1389.3" font-family="'Liberation Serif', 'Times New Roman', serif" font-size="43.7" textLength="259.5" lengthAdjust="spacingAndGlyphs">Reactive tonsil</text>
<rect x="1180.9" y="55" width="120" height="119" fill="#9a9a9a" filter="url(#sh)"/><svg x="1179.3" y="53.4" width="120" height="119"><g filter="url(#bl)"><use href="#q00" class="cM"/><use href="#q01" class="cg"/><use href="#q02" class="cg"/><use href="#q03" class="cM"/><use href="#q10" class="cg"/><use href="#q11" class="cr"/><use href="#q12" class="cm"/><use href="#q13" class="cM"/><use href="#q20" class="cw"/><use href="#q21" class="cp"/><use href="#q22" class="cr"/><use href="#q23" class="cb"/><use href="#q30" class="cW"/><use href="#q31" class="cW"/><use href="#q32" class="cm"/><use href="#q33" class="cr"/></g><path d="M34 2l1 2m51-4l3 3m17-1l3 2m4-1l2 2m-5 0l3 1m3 1l3 1m2-2l1 2m-108 3l-1 1m23-1l1 2m43-1l0 1m26-1l4 1m1 1l1 2m-94 1l1 2m74-2l2 3m-26 6l1 2m10-5l1 1m32 0l0 3m8-3l0 3m-120 1l1 2m37 1l1 3m7-7l0 4m14-3l1 0m15 1l2 1m7-3l-1 1m33 2l-1 2m5-4l1 1m-111 4l3 2m19 2l1 4m48-6l2 1m17-2l1 2m-95 3l-1 1m22 0l2 2m21-1l1 2m8-1l-1 0m14-4l1 1m14 3l1 4m6-6l3 3m2-4l0 1m6-1l-1 3m-59 5l0 2m8-3l0 2m24 0l-2 3m7-5l2 0m15 0l3 2m-65 3l4 1m0-2l0 2m10-2l1 3m35-3l1 1m23 1l-2 2m6-4l3 1m-112 7l1 2m20-2l2 1m9-5l1 3m4-2l-3 0m8 3l0 3m7-5l0 4m15-5l0 2m5-1l1 2m38-1l1 4m-71 2l1 2m11-4l3 1m14 0l2 2m34-4l1 1m3-1l1 3m-56 3l0 1m42 1l1 1m15-3l2 2m-67 3l-3 1m10 1l0 1m7 5l1 0m19-2l2 1m17 2l-1 2m5-4l-3 2m-106 4l2 3m54-3l1 2m4-4l2 2m19 1l-2 1m21-2l-1 2m-27 1l2 3m9-2l2 2m5 0l0 1m-34 4l0 2m6-2l0 3m26-4l-3 2m21-2l-1 3m-44 4l3 2m13-2l-1 1m10-1l2 1m28 0l3 1m-46 3l0 2m9-2l1 2m9-4l0 2m7-1l1 0m4-1l0 3m-29 4l1 1m29-1l-4 1m15-1l0 2m-32 2l1 1m8 1l2 1m24-3l0 2" stroke="#c6603f" stroke-width="4.0" stroke-linecap="round" opacity="0.88"/><path d="M0 2l1 1m6-3l1 2m15 1l1 1m91-4l1 1m4-1l-1 2m-83 6l0 1m48 2l1 1m31-1l1 1m-43 5l1 2m36-2l2 1m2 7l-1 1m-53 8l1 2m56 1l-1 1m-98 4l1 2m24-4l1 2m24 0l1 2m51-5l1 2m-120 4l1 1m36-1l-2 1m70 1l-3 1m14-3l2 2m-53 10l1 2m31 14l3 1m14 1l2 2m-34 17l0 1m19 6l0 2m18 4l1 1m-38 3l1 3m-14 3l1 1" stroke="#8ea6da" stroke-width="3.9" stroke-linecap="round"/><path d="M78 0l1 1m14-1l0 2m-79 4l0 1m8-1l0 2m28-2l0 2m13-1l1 2m20-4l-1 2m-67 5l1 1m8 1l-1 1m40-1l0 3m4-6l2 2m-48 5l1 2m11 0l0 1m21-5l0 2m53 2l0 2m9-2l0 3m-34 3l0 2m14-7l-2 1m13 0l0 2m-83 4l0 2m24-3l-1 2m10-1l-1 1m50 2l1 2m-105 0l2 2m4-2l1 1m33 0l3 1m48 1l-1 2m14-2l1 1m-52 5l-2 0m25-3l1 1m5 2l2 1m24-5l0 2m6 2l0 1m-68 1l1 2m47-1l0 1m13-2l-2 1m14 0l1 1m-106 3l-1 0m17 3l-1 2m42-1l0 1m27-3l2 1m-4 3l1 1m-76 7l1 1m41-3l0 2m33-1l1 2m8-2l3 0m-108 4l-2 2m14 0l1 2m96-4l0 1m-22 4l1 1m3 1l2 1m12 0l1 1m-16 3l1 2m24 0l2 2m-46 0l0 1m4 2l0 1m18 2l2 0m9 1l-1 2m5-2l-1 3m8-4l-1 1m-51 8l2 1m44-5l0 1m-18 5l-1 1m-13 4l1 2m-14 5l1 2m45 2l0 2" stroke="#4d7ccb" stroke-width="3.9" stroke-linecap="round"/><path d="M16 3h0m75 0l2 1m6-5l1 0m-100 7l1 1m8 0h0m29-1l0 2m56-1h0m8-1l0 2m4-1l1 1m-104 6l1 1m3-2l-1 1m88-4l1 1m6 0l1 0m-100 6l1 0m2 1l-1 0m7 2l0 1m89-3h0m21 2l0 1m-120 1l1 1m12 0l1 1m3-1l0 1m5 1l0 1m48-4l1 2m16-2l2 0m-56 8l-1 1m66-1l0 2m14-3h0m-23 5l-1 0m21 0l1 0m-70 6h0m-17 5l1 1m38 2h0m12-3l0 1m-62 5l1 0m9 1h0m8-2l0 1m25-1l-1 1m24-1h0m7-1l-1 1m10-1l-1 1m12 2l0 1m-27 10h0m15-2l2 1m-56 5l-1 1m46 1h0m-10 8h0m2 2l0 1m-13 9l1 1m3-2l1 1m5 6h0m3 2l0 1m20-5h0m19 0l0 1m-33 6h0m29-1h0m6 7l0 1m-47 4h0m17 1l1 1m-31 3l0 1m42 1l-1 1m17 0h0" stroke="#5a180c" stroke-width="4.1" stroke-linecap="round"/><circle cx="12" cy="47" r="19.8" fill="#dde4f4"/><circle cx="47" cy="19" r="19.5" fill="#dde4f4"/><circle cx="12" cy="47" r="11.8" fill="#f6f0f0"/><circle cx="47" cy="19" r="11.5" fill="#f6f0f0"/><path d="M-2 50l-4 1m4-4l-4-1m4-2l-4 1m3-5l-2 0m5-1l-3-3m7-1l-1-2m2 0l-1-2m14 0l1-2m1 7l1-3m2 5l2-2m-1 4l4-1m-2 5l2-1m-2 9l3 0m-5 3l2 2m-5 2l2 2m-6-1l1 3m-4-3l0 3m-3-1l0 3m-8-4l-1 2m-1-5l-2 1m36-48l-3-2m5-1l-2-3m6 0l-1-2m5 1l-1-4m3 5l0-4m5 2l0-3m2 5l3-3m-1 5l3-3m0 6l2-1m1 5l2-1m-2 5l3 1m-2 2l3 0m-6 4l3 0m-5 3l2 2m-5 0l3 3m-6-1l0 3m-3-3l1 3m-4-2l-1 3m-3-4l-1 4m-3-7l-2 3m-2-7l-3 1m2-4l-3 1m3-5l-4 0m4-4l-3-2" stroke="#5d88d2" stroke-width="3.6" stroke-linecap="round"/></svg>
<rect x="1325.6" y="55" width="120" height="119" fill="#9a9a9a" filter="url(#sh)"/><svg x="1324" y="53.4" width="120" height="119"><g filter="url(#bl)"><use href="#q00" class="cm"/><use href="#q01" class="cb"/><use href="#q02" class="cg"/><use href="#q03" class="cm"/><use href="#q10" class="cM"/><use href="#q11" class="cb"/><use href="#q12" class="cg"/><use href="#q13" class="cM"/><use href="#q20" class="cM"/><use href="#q21" class="cm"/><use href="#q22" class="cM"/><use href="#q23" class="cm"/><use href="#q30" class="cm"/><use href="#q31" class="cM"/><use href="#q32" class="cm"/><use href="#q33" class="cM"/></g><path d="M31 2l-3 2m11-3l0 2m35-1l-2 3m30-1l0 2m4-6l1 3m-106 6l-1 1m12-1l-1 2m18-6l-1 3m45-1l3 1m42-2l-1 1m-117 8l3 1m14-1l4 1m73-5l0 2m8 1l-1 4m4-5l0 3m7-2l-2 3m8-4l-3 1m-92 3l-2 1m29 2l-1 3m52-5l2 1m1-1l-1 2m-76 2l-1 2m89 0l-2 3m-109 2l-2 3m17-1l-1 2m11-4l0 1m6-3l-1 3m68 0l-2 2m18-5l-1 1m4-1l-2 2m-118 5l-3 1m11 1l0 3m99-5l-3 2m5 0l-1 1m10-4l-2 2m-109 3l0 1m94 1l-2 1m22-2l-3 1m-119 5l2 1m9-2l-1 2m26 0l-1 2m60-4l-1 3m13-1l3 2m1-4l-3 1m8-2l1 1m3 0l0 2m-93 3l-2 3m11-3l-1 3m45 1l-1 1m15-3l1 2m7 0l-2 1m-100 1l-1 2m13 2l-2 2m18-6l-1 1m59 1l-1 3m22-2l-1 1m-103 1l-1 1m5 2l0 2m21-1l-2 1m21-3l-2 1m6-1l-3 2m16-3l-2 2m21-1l0 1m27 1l-2 1m-102 4l0 2m5-2l-1 2m37-2l4 1m15-4l-2 3m21-3l-3 2m30 0l-4-1m-105 8l-2 2m10-2l-2 3m19-4l0 2m7-4l1 4m6-3l-2 2m27-1l-1 1m14-2l-3 2m7 0l-1 2m16-3l-2 2m-91 4l0 4m7-6l-3 2m6-4l-1 2m7 2l-3-1m36-1l-4 0m21 1l0 1m-60 3l0 2m4-3l-1 0m13 4l-1 1m8-2l3 0m8-2l-2 4m34-3l-1 2m13-1l-2 1m6-2l0 3m-93 1l-3 1m76 2l-1 1m16-2l2 1m25-1l-1 2m-102 1l0 3m3-1l-1 2m9-2l0 2m5-1l1 2m7-2l-2 3m17-3l3 2m15-3l-3 2m10-1l0 2m9-4l2 2m5 0l1 1m6-1l-1 2m-90 4l1 3m14-5l4 0m0-2l-1 3m13-2l-3 2m7 1l-2 1m18-2l1 1m14-1l-2 2m23-2l-2 2m8-4l-2 2m-96 4l-3 2m10-3l2 1m12 0l-3 2m6-1l-2 3m7-4l-1 2m14-3l-2 3m11-3l-3 2m20-2l-1 2m17 2l0 1m24-2l-2 2m-93 1l-1 1m37-2l-2 2m7-1l0 2m3 0l-1 3m9-2l-1 1m15-4l2 2m12-1l-1 1m10 1l-1 2m-101 3l-1 1m3-3l0 2m16 1l-2 3m15-6l-1 4m15-4l-1 3m6-1l-1 3m32-4l2 0m20 1l2 3m4-5l-1 1m-93 4l0 2" stroke="#c6603f" stroke-width="4.0" stroke-linecap="round" opacity="0.88"/><path d="M21 4l-1 1m42-3l2 0m30 0l1 2m-56 5l-2 1m7-1l-1 2m8-4l-1 1m6 3l-1 1m35-2l0 2m-45 6l0 3m-43 4l-1 2m87-5l-1 2m-40 5l-2 2m60-2l0 1m-61 6l0 3m45 3l0 1m-84 5l0 3m20-6l1 0m24-1l-2 1m-7 7l0 1m16-3l-1 2m16 0l-1 1m41-3l-1 1m-64 7l0 2m44-2l-1 1m6-4l-2 2m-60 12l0 1m30-5l-2 0m12 6l-1 1m-35 5l3 1m36 0l2 2m16-3l-1 1m-43 4l-2 1m9 2l0 2m-51 7l0 2m31 8l-1 1m24 1l-1 1m-21 3l-1 2" stroke="#8ea6da" stroke-width="3.9" stroke-linecap="round"/><path d="M8 0l0 1m5 0l-1 1m24 1l-1 1m12-2l-2 1m6-2l1 2m25-3l-2 0m13 2l1 1m21 0l-3 0m-98 6l2 0m11-2l0 2m83-4l0 3m-77 4l-2 1m25-3l1 2m-45 6l-1 2m30-3l-1 2m42-2l-2 0m9 2l0 2m-73 1l-2 0m13 1l0 1m24-1l-1 1m59-2l0 3m-95 2l0 1m5 1l0 1m54 1l0 1m-35 2l-1 0m56-1l-1 1m34-1l1 2m-122 3l3 1m14 0l0 2m10-1l-1 1m29 1l-1 2m6-4l-2 0m35 0l0 2m-4 3l-1 1m-27 6l0 1m46-3l-1 0m15-1l-2 0m-100 9l-2 2m96-3l-1 1m7-1l0 2m-105 4l-2 0m7 1l0 1m5-2l-2 0m14-2l-2 1m24-1l-1 1m18 0l-1 1m14-3l0 2m11 0l-3 1m-93 6l-2 1m37-1l-2 1m45-2l-1 1m21-3l-1 2m-51 6l-2-1m13 0l-1 0m32 0l-2 1m-90 3l0 3m31-4l0 3m33 0l0 1m3-3l0 2m44-3l0 1m-104 7l-2 1m20-1l-2 1m53-1l-1 2m10-1l-1 1m24-1l-1 2m6-4l0 1m-77 6l-2 1m18-3l-2 1m13 0l-1 1m6 2l0 1m17-5l-1 1m25 0l-1 2m-33 5l-2 1m17-3l1 2m21 0l0 2m5-3l-1 0m-101 4l0 1m4-1l-1 1m17 1l-1 2m16-4l-1 1m10 1l-1 0m23-1l-2 1m37 1l2 0m-98 3l0 2m30 0l1 2m49-2l-2 1m-6 2l-1 1m9 0l-2 0m-57 8l-1 1m57-3l-1 1m7-2l-1 1m15 0l-1 0" stroke="#4d7ccb" stroke-width="3.9" stroke-linecap="round"/><path d="M100 5h0m-88 14l1 1m6-1l-1 1m77-1l1 1m15-2l-1 1m-94 6l0 1m82-4l-1 0m-75 9h0m71-2h0m-74 4l0 1m60-1l0 1m20 0h0m-88 7l-1 1m23-3h0m73 3h0m10 0h0m-33 2h0m-74 5l-1 0m4 2h0m7 1h0m65-1l0 1m4-3h0m-79 6l-2 1m15-1l1 1m27 2l-1 1m30 5h0m26-2l-1 0m14 2l0 1m-101 4l-1 1m8-3h0m4 0h0m44 3l-1 1m47-4l0 2m-113 6l0 2m20-6l-1 1m31 2l-1 1m52-3l-1 1m-70 3l0 1m12 2l0 1m35-2l-1 1m20-1h0m14 1l-1 1m-114 5h0m41-3l-1 1m59 1l0 1m-90 4h0m11 2h0m5-2h0m2 0l0 1m19 0l0 1m56-2h0m9 2l-1 0m11 0l1 1m-80 4l1 1m13-4h0m5 1l-1 0m44 3l-1 1m-19 3l0 2m20-3l-1 1m8 1l-1 1m11-3h0m-24 5l-1 1m-88 7l0 1m23-3l-1 0m2 2l-1 1m14 0h0m66-2l-1 1m9-3l0 1m-89 8l0 1m18-2l0 2m14-3l-1 1m8 1l0 1m19-5h0m-82 6l0 1m5-1h0m94 0l1 0" stroke="#5a180c" stroke-width="4.1" stroke-linecap="round"/><circle cx="76" cy="47" r="18.3" fill="#dde4f4"/><circle cx="76" cy="47" r="10.3" fill="#f6f0f0"/><path d="M66 56l-2 1m-2-5l-3 1m4-4l-3 1m3-5l-3-1m3-3l-1-1m3-2l-2-2m5 1l-1-2m4 0l-1-3m3 1l1-4m5 4l1-2m2 5l2-2m0 3l2-2m1 5l2-2m1 5l3-2m-4 6l2-1m-3 6l2 0m-3 1l2 2m-5 2l3 3m-4-1l1 4m-5-3l0 4m-7-4l-1 2m-4-3l-1 3" stroke="#5d88d2" stroke-width="3.6" stroke-linecap="round"/></svg>
<rect x="1470.3" y="55" width="120" height="119" fill="#9a9a9a" filter="url(#sh)"/><svg x="1468.7" y="53.4" width="120" height="119"><g filter="url(#bl)"><use href="#q00" class="cM"/><use href="#q01" class="cm"/><use href="#q02" class="cM"/><use href="#q03" class="cb"/><use href="#q10" class="cm"/><use href="#q11" class="cM"/><use href="#q12" class="cm"/><use href="#q13" class="cb"/><use href="#q20" class="cM"/><use href="#q21" class="cm"/><use href="#q22" class="cM"/><use href="#q23" class="cb"/><use href="#q30" class="cM"/><use href="#q31" class="cw"/><use href="#q32" class="cm"/><use href="#q33" class="cM"/></g><path d="M1 1l-2 2m8-2l3 1m3 1l-3 1m20-4l-1 3m29-2l-1 1m4 1l0 2m55-5l3 2m1-1l2 2m-109 3l0 2m4 0l-1 2m8-4l-2 2m24-2l-2 2m7 1l0 4m26-6l-1 2m20-3l0 1m20-2l-1 2m-103 5l-3 2m27-3l-2 2m21 1l-3 0m20-3l0 2m14 1l-3 3m8-6l3 2m-93 6l-1 4m9-5l1 2m3-3l0 3m4-3l-3 0m13 0l-2 2m25-1l-1 2m-46 2l-2 2m18-1l-3 0m13-2l0 1m5 0l1 3m7-1l-1 2m22-2l0 2m15-2l1 2m20-3l-1 2m-98 6l-2 1m8-4l-2 0m10 1l0 3m16-2l0 2m5-2l-1 0m37 1l1 1m13-1l0 3m15-5l-1 0m-91 5l-2 3m7-3l-2 1m13 1l-2 3m22-4l-1 1m46 1l1 1m-88 3l1 3m16-5l2 3m61-1l0 2m14-5l-1 3m-93 2l2 2m14-1l-1 4m28-2l-1 3m14-3l-1 0m3-2l0 1m24 2l-1 1m-54 1l0 2m4 1l-1 1m10-3l-1 1m15 0l-2 2m28-4l-2 0m-66 6l0 2m41-1l0 1m22-2l-1 1m6 1l-1 3m-65 2l0 2m25 0l0 1m10-2l2 1m7 0l-2 1m15-4l-1 1m19 1l-2 1m-86 5l-1 1m6-4l-3 2m8-1l-1 0m5-1l0 2m19 1l-1 0m38-3l-2 2m5-1l-2 3m14-2l-1 0m25-2l0 3m-77 2l0 3m12-3l-2 3m15 0l-1 3m19-6l-1 1m-74 9l-2 3m16-8l2 3m15-2l-2 2m10-1l-2 2m4-2l-1 1m8-1l-1 1m5 0l-1 3m15-2l-2 3m5-3l-1 1m17-2l-1 1m-88 3l-4 0m18 2l-2 1m9-4l-3 1m30 0l-1 4m12-3l-2 2m13 0l-1 2m15-3l-1 3m8-4l0 2m10 0l-3 2m-86 0l-2 2m30-1l-2 2m10-3l-2 2m18-2l-2 3m46 0l-1 3m-98 2l-1 1m9-2l-2 1m15-2l-1 1m33-1l-4 1m18 0l-1 4m12-5l2 3m2-2l-2 3m8-4l0 2m2-2l-4 1m24-2l-1 2m4 2l0 2m-108 1l0 4m64-3l-1 1m7-3l0 1m12-1l-1 2m12-2l0 2m4 2l1 1m6-5l-2 3m-103 3l3 1m52 1l0 2m10-3l2 1m16 0l-1 0m13-3l0 1m2 0l-2 3m15-4l0 3m-65 6l-2 1m19-1l-1 1m21-1l0 4m16-4l-1 1m8-2l-3 3m-89 4l0 2m8-6l0 2m35-1l-1 0m8 2l0 1m4-3l-2 3m19-2l-3 1m8-1l0 4m18-6l-3 0m-96 6l-3 2m68-2l-1 3" stroke="#c6603f" stroke-width="4.0" stroke-linecap="round" opacity="0.88"/><path d="M34 1l-2 0m7 2l0 2m46-5l-1 3m4-1l-1 2m12-2l0 1m-98 6l1 1m69-5l0 1m16 1l-1 1m-53 9l-1 2m36-1l0 2m45 3l0 1m-95 6l0 2m28-4l-1 2m46-3l0 1m16 0l-1 2m12 1l-3 1m-58 4l0 1m10-3l0 1m51 1l-1 1m-83 3l2 1m-6 3l2 1m9 1l0 1m80-2l0 1m-107 4l0 1m30-2l1 2m73 17l0 1m-50 5l0 1m21-4l-1 1m20 8l-1 2m-98 8l3 0m23 1l-2 1m85-4l-1 2m-104 5l-1 2m-4 4l0 2m94-2l-1 1m-77 5l0 2m-5 5l0 1m42-4l0 2m30-3l0 1m-61 10l-1 1" stroke="#8ea6da" stroke-width="3.9" stroke-linecap="round"/><path d="M112 2l-1 1m-82 6l0 3m10-5l1 1m18-1l2 1m9-2l0 1m16 1l0 2m16-5l0 2m11-2l-2 1m-107 8l-1 1m18-3l0 2m5 0l-1 0m18-1l1 0m18 0l0 3m19-4l-1 1m14-2l-2 1m21 2l-1 1m-49 4l0 2m26-4l0 2m25-1l0 2m5-4l1 2m-110 7l1 1m4-1l-1 1m11-2l-2 1m25 1l0 2m6-4l-1 1m4-2l-1 1m14-1l1 2m20 0l2 0m3 1l0 1m12-3l-1 2m-64 2l-1 2m38 1l0 1m-62 4l2 0m66-2l0 2m28-3l0 2m-98 3l-1 2m8 0l-2 1m11-2l-1 1m17-1l0 1m31-1l-1 1m23 0l1 3m11-5l-1 1m-44 6l-1 0m41 2l0 1m-101 5l-1 1m62-2l-1 2m28-3l-1 1m6 0l-3 0m16-2l-2 1m9 0l-3 1m-116 3l0 2m31 0l0 1m57-3l-1 1m18 2l0 1m12 0l-1 0m-103 5l-1 2m14-5l-2 2m32 0l-1 0m42-3l-1 1m12 0l0 1m5-1l0 1m-72 6l-2 0m16 1l-1 2m14-4l-1 2m-53 5l-1 1m45-3l2 1m23 1l-1 1m21-3l-1 1m3-2l0 2m-94 4l0 1m15 0l-3 1m54 1l-1 1m-47 3l-2 1m80-2l0 1m6 2l-1 0m3-3l-1 2m-97 6l-1 0m55 0l-1 1m30-2l-2 1m12 0l-1 1m-53 1l0 3m24-1l2 2m-64 7l0 2m16 1l0 2m38-2l-1 2m16-3l0 2m13-2l-1 2m19-3l-1 3m-116 5l0 2m4-2l0 1m74-1l0 2m28-5l0 2m-106 3l-1 3m6 0l-1 1" stroke="#4d7ccb" stroke-width="3.9" stroke-linecap="round"/><path d="M19 1l0 2m4 0h0m46-1l0 1m5-2h0m6 0l0 1m-73 6h0m26 1l0 1m-24 4l-1 1m58-1h0m-28 3l-2 1m19-1l-1 1m23 1l0 1m8 0l-1 1m11-3h0m-70 12h0m30-2l0 1m7-2h0m-59 9l1 0m31 1l0 1m15-1l1 1m13-5h0m-3 9l1 1m-50 2h0m21 2h0m17-3l1 1m24-1l1 1m1 0l-1 1m-60 6l0 1m34-4l0 1m11 0h0m12 2l0 1m15-2h0m-65 5h0m17-1l0 1m12 1l-1 0m13 0l-1 1m3-4l-1 1m8 0h0m-73 9l1 0m34-4l1 1m9 2h0m21-1h0m-36 6h0m32-3l0 1m33 0l-1 0m-92 9h0m5 0l0 2m67-5h0m-67 8l0 1m0 2l-1 1m18 0h0m50 0l-1 2m5-3l0 1m17 0h0m-42 8h0m42 0l-1 1m-93 1l0 1m35-1l-1 1m34 1l0 1m38 0l1 1m-90 2h0m12 0l-1 1m7-1l0 1m6 0l0 1m33 0l0 1m14-3l-1 1m-85 4l-1 2m5-1l-1 1m77-2h0m-69 6l2 1m36 1l-1 1m48-1h0m-86 4l-1 1m5-2l-1 2m11 0l-1 0m14-1l0 1m66 1l0 1m8-1l-2 0m-4 1h0" stroke="#5a180c" stroke-width="4.1" stroke-linecap="round"/></svg>
<rect x="1615" y="55" width="120" height="119" fill="#9a9a9a" filter="url(#sh)"/><svg x="1613.4" y="53.4" width="120" height="119"><g filter="url(#bl)"><use href="#q00" class="cw"/><use href="#q01" class="cp"/><use href="#q02" class="cl"/><use href="#q03" class="cb"/><use href="#q10" class="cw"/><use href="#q11" class="cl"/><use href="#q12" class="cb"/><use href="#q13" class="cM"/><use href="#q20" class="cb"/><use href="#q21" class="cM"/><use href="#q22" class="cM"/><use href="#q23" class="cm"/><use href="#q30" class="cM"/><use href="#q31" class="cM"/><use href="#q32" class="cp"/><use href="#q33" class="cM"/></g><path d="M50 5l0 1m44 17l2 3m18 0l0 1m-24 1l-2 1m28-2l-1 1m-113 8l-1 1m6-5l0 1m5 2l1 2m87-2l-1 3m-24 1l-1 2m23 0l3 2m15-3l-2 3m-108 1l-1 1m56 1l0 2m26-3l1 1m15-2l0 3m3-1l-2 1m-23 6l0 2m16-2l-3 2m12-4l0 1m10 0l-2 1m-110 5l-1 3m34-3l-1 2m65-6l-1 2m19 2l-1 1m4-2l0 2m-39 3l-2 2m27-2l-1 1m13 0l1 1m-109 2l0 1m6-1l-1 2m31 0l-1 2m18-3l-2 1m12 1l2 2m-55 2l-2 3m30-4l0 3m26-3l0 4m2-4l-1 1m20 2l0 2m12-2l2 2m1-2l0 1m-75 0l0 2m50 0l-2 0m6 1l-2 1m12 0l-1 2m6-2l-2 2m-103 4l-2 3m37-5l-2 0m7-1l-3 2m41-2l-3 2m27-1l0 3m2-5l-1 1m10-1l0 3m2 0l2 1m-97 3l-1 2m72-1l-2 1m5-1l-1 1m7 0l-1 2m19-6l1 1m-117 6l-2 2m5 0l-3 2m11-4l-2 1m6 0l-2 2m7-2l1 1m12 0l-2 3m23-3l-2 2m52-3l2 1m-90 3l2 3m2-3l-1 2m56 1l0 2m14-5l2 2m15-3l1 3m-109 3l-3 2m9 2l0 2m8-3l0 3m6-6l1 3m2-1l-1 1m7-3l1 3m5-1l-1 1m8-2l1 1m3 0l1 2m4-1l-3 2m37-2l-2 1m9-2l-1 2m4-1l-1 0m11 1l1 2m7-3l2 3m-112 0l0 2m12 2l-2 3m38-8l-2 2m14 3l-3 3m-61-1l0 1m9 1l0 2m6-4l-1 3m4-2l1 3m25-1l-1 3m8-6l-2 1m25 1l-1 1m23 2l-1 3" stroke="#c6603f" stroke-width="4.0" stroke-linecap="round" opacity="0.88"/><path d="M53 1l-2 2m29 0l-1 0m36 2l-1 2m3 7l-1 1m-54 14l0 1m12-2l-1 1m-72 13l-2 1m52-4l-2 1m44 4l-1 1m-70 10l0 2m47 4l-1 0m42 3l-2 0m-68 3l-1 1m62 0l-1 2m-64 5l2 1m2-1l1 1m22-4l1 1m5 2l-1 2m51-6l1 2m-118 4l-1 2m41 0l0 2m7-1l-2 1m33-4l0 2m15 3l-2 0m17 6l0 1m5 7l0 2m5 4l1 0m0 5l0 1m-35 4l0 1m21-2l0 1m-6 3l2 2m18 1l0 1" stroke="#8ea6da" stroke-width="3.9" stroke-linecap="round"/><path d="M84 3l-1 0m28-3l-2 1m-29 7l-1 0m23 1l-2 1m22-3l-2 0m-30 5l-1 1m8 1l0 3m7-6l0 2m-20 3l-2 1m32 1l0 1m5-1l-2 1m4 5l1 1m-53 5l0 1m8 0l0 2m8-5l-2 1m16-2l-2 0m16 1l-2 1m-46 6l-2 0m21-2l0 1m29 0l-1 1m-94 7l-1 1m61-3l-2 2m15 4l-2 1m-39 5l-1 1m23-2l1 0m10 2l0 2m19-5l-2 0m-91 6l-2 1m77 0l2 1m5 1l-2 0m6-4l0 1m-94 7l-1 3m24-2l-3 1m70-5l-1 0m-23 7l-1 2m52 0l-1 1m4-4l-1 2m-112 3l2 2m1 1l0 1m19 0l0 1m55-4l-2 1m19 2l0 1m-75 4l0 1m21-2l0 1m62-3l-1 1m7 2l-1 1m-107 1l-1 2m20 0l-1 1m18-3l1 1m76 2l0 1m-107 5l0 2m16-3l-2 1m12 0l0 1m65-4l0 1m8 5l0 1m-106 6l-1 2m7-1l2 1m103-1l-1 2m-2 4l2 1m-89 4l-1 1m87-1l1 2m4 2l-2 2" stroke="#4d7ccb" stroke-width="3.9" stroke-linecap="round"/><path d="M107 2l-1 1m-59 9l-1 1m0 12h0m45-1l1 1m13 0l-1 0m-10 6l-1 1m15 4h0m14 0h0m-23 4l-1 1m7-2h0m6 0h0m0 5h0m4 1l-1 0m-24 4h0m21 1l1 1m-72 5h0m10 2l0 1m23-3l0 2m5-1h0m30-1l-1 1m5-1h0m-54 6l-1 1m4-2l-1 0m19 3l0 1m-2 4h0m5-3l-1 0m15 1l-1 1m9-1l-1 1m-59 6l-1 1m46-3h0m-66 6l0 1m49-1l0 1m24 0l1 0m-79 5l-1 1m6-2l1 1m37-2l-1 0m-54 6l0 1m19 0h0m27-2l-1 1m6 3l0 1m21-3h0m6-1l-1 1m-55 5l0 1m14 1h0m3-1h0m8-1l-1 1m17-1l-1 1m21-1l1 1m-89 7l-2 0m30-1l0 1m4-2l0 1m5 0l-1 1m9 0h0m6-4l-1 0m4 4h0m47-1l-1 0m-44 5h0m44 0h0m-82 7h0m5-2l-1 1m10-2l-1 0m6 1l0 2m19 0l-2 0m18 0h0m4 0h0m14-1l0 1m6 0l0 1m3 0h0m15-5l-1 2m-92 4l0 1m19 3l-1 1m66-3l0 1m7 0h0" stroke="#5a180c" stroke-width="4.1" stroke-linecap="round"/></svg>
<rect x="1759.7" y="55" width="120" height="119" fill="#9a9a9a" filter="url(#sh)"/><svg x="1758.1" y="53.4" width="120" height="119"><g filter="url(#bl)"><use href="#q00" class="cM"/><use href="#q01" class="cM"/><use href="#q02" class="cM"/><use href="#q03" class="cM"/><use href="#q10" class="cM"/><use href="#q11" class="cM"/><use href="#q12" class="cM"/><use href="#q13" class="cm"/><use href="#q20" class="cM"/><use href="#q21" class="cM"/><use href="#q22" class="cm"/><use href="#q23" class="cm"/><use href="#q30" class="cM"/><use href="#q31" class="cm"/><use href="#q32" class="cb"/><use href="#q33" class="cw"/></g><path d="M19 3l-3 2m25-2l1 2m27-2l-1 1m26-4l-1 1m14 3l3 2m7-3l-4 1m-105 4l-1 0m10 0l-2 1m41 0l-2 1m25-3l-2-1m22 1l-1 0m19-2l-3 2m-114 6l-1 1m23-1l-2 1m10-3l-3-1m8 4l-4 0m16-2l-2-1m13 0l-2 4m7-4l-2 1m19 1l1 0m4 0l1 4m10-7l-2 0m6 5l-1 0m-95 5l-2 2m5-5l-1 4m5-3l-3 0m12 2l-1 1m4-4l3 0m3 1l-3 1m40-3l-2 1m8 1l0 2m8-3l-2 1m16-1l3 0m13 2l2 0m-95 4l-1 1m8-2l3 1m30 0l-1 1m26 1l3 2m3-2l0 2m-74 2l-3 1m47 1l-3 1m7-2l-3 1m9-2l-1 0m10 2l-3 0m24-2l-3 2m22-2l-2 3m-104 2l-3 0m11-1l-2 1m12 1l-4 1m11 0l-2-1m22 2l-2 0m11-3l-4 0m16-1l-3 1m11 0l-4 0m19 2l-2 1m9-3l-2 1m8 0l-3 0m-107 4l-2-1m16 4l-2 2m8-3l0 1m5-2l2 1m44-1l-3 2m28-2l-2 2m14-2l-1 0m6 0l-2 1m-112 8l-1 1m6 3l-2 2m14-5l0 2m4-3l-1-1m20 5l2 0m8-4l0 4m21-1l-2 1m11-4l-3 2m32 1l1 1m10-1l-3 0m-110 5l-2 1m6-1l-3 1m11-3l-3 0m17 0l-2-1m30 1l1 1m19 3l-2 3m9-6l1 3m17-4l-1 3m-87 3l-1 0m20-1l-2-1m20 2l-1 2m7-1l0 1m19-3l-4 1m39 0l-3 2m-74 3l1 0m3 3l-3 0m18-1l-2 0m5 1l0 1m12-3l-1 0m6 1l1 1m4-1l-1 0m8 1l-2 1m32-1l1 1m-111 5l-2 1m16-3l-1 1m12-2l-1 1m23 2l-3 0m47-2l3 3m-87 2l-1-2m9 2l0 4m13-5l2 1m9-1l-3 0m20 2l-3 2m30-1l-1 1m13-1l2 2m3-3l-1 2m-101 2l0 3m14-2l1 2m12-4l-2 2m6 0l-2 0m51 1l-1 1m11-4l-2 1m-62 8l-2 0m-30 6l-1 1m23-3l-2 2m13 0l-2 2m6-2l-2 3m30-3l2 3m42-5l-3 0m6 0l-1 2m-114 2l-3 0m15 1l-2-1m9 4l-2 0m18-1l1 3m19-4l-3 2m-38 4l-2 1m13-1l-2 3m5-4l-1 1m9-3l-4 1m25 3l1 2m-40 2l-3 0m8-1l-1 2m19-4l-2 2m5 0l-2 1m64 0l-2-1m-98 6l-3-1m7-1l-3 0m17 3l-1 3m28-5l-4 0m19 2l-1 1" stroke="#c6603f" stroke-width="4.0" stroke-linecap="round" opacity="0.88"/><path d="M97 8l-1 1m-84 4l-1 1m39 0l2 1m20-2l-2 0m49 1l-2 1m-117 8l-1 1m10 0l1 0m28 6l-1 1m70-2l-1 1m-106 6l-2 0m25 0l1 1m67-3l-2 1m6-1l0 1m-89 7l-2 1m7-3l-1 0m70 2l-2 0m11-4l-2 2m-80 7l-3 1m44-3l-1 0m30 2l-1 1m-41 2l-2 1m31 0l2 0m14 0l-1 1m39 0l-2 0m-113 6l-2 0m45-1l2 1m-45 10l-2 2m11-3l0 2m39 3l0 1m43-1l-2-1m-63 12l-1 0m44-1l-2 1m-7 8l-1 1m-22 13l-3 0m27 0l-1 1m-49 7l-1 0m21-1l2 1m-36 5l-2 2m43-1l-1 2m23-5l-2 1m-58 3l-1 1" stroke="#8ea6da" stroke-width="3.9" stroke-linecap="round"/><path d="M2 -1l-2-1m28 5l-2 0m21-1l-2 1m6-2l1 2m-49 3l-1 1m31 2l-1 0m15-2l0 1m17-1l0 1m5-2l-1 1m16 2l-2 1m6-4l-2 1m-18 6l-1 0m-33 7l-2-1m14-2l2 1m16-1l0 2m21-1l-1 0m32 2l-1 0m6-2l-1 2m-78 5l-2 2m13-6l-1 1m26 2l-2 1m46-1l-1 1m-120 4l-2 0m51 1l-2 1m38-2l-2-1m-38 6l-2 1m7-2l-2 1m22 0l-2 1m49-3l-1 1m4 2l-2 1m-57 3l-2 2m9-1l-1 2m37-3l0 1m-72 4l-1 0m8 3l-2 1m22-2l-3 0m45-2l-2-1m1 9l-1 0m-83 5l-1-1m12-2l-3 1m43 1l-1 2m29-3l-1 1m-26 6l-3 0m14 1l-2 1m-58 5l-2 0m11-1l-2 1m74-2l-1 0m6 2l-1 1m-77 2l-1 0m34 2l-1 1m24-1l-1 1m7-4l-1 3m-76 2l-2 0m50 2l-1 1m57-2l0 1m-114 7l-1 0m44 0l-2-1m8-1l-1 0m8-1l1 0m3 0l-2 0m45 1l-1 0m-80 8l-1 0m18-2l-2 1m4 1l-1 1m8-4l1 1m16 1l-3 0m13-3l-2 0m15 3l-3 0m9-2l-2 1m-90 8l-2 0m42 0l-2 1m10-4l-1 0m4 0l-1 1m18 1l2 0m-69 4l1 1m23-1l-2 1m32-2l-1 1m9 2l-2 1m12-2l-1 0m-78 6l-1 1m81-2l-2 1m11 0l-1 2m-10 1l-2 1m-55 8l-2 0m28-2l-1 0m29-1l-2 1m13 1l-1 1m5-4l-3 1m0 5l-1 1" stroke="#4d7ccb" stroke-width="3.9" stroke-linecap="round"/><path d="M8 4h0m18-2l1 0m31 0h0m14 0h0m8 1l-1 1m5-3l-1-1m28 1l0 1m-97 5l-1 0m12-1l-1 1m4 0h0m11 1h0m12 0l-2 1m23-3l-1-1m37 1l1 1m1-1h0m10 0l-1 1m-99 7h0m21-2l-1 0m49 2l1 1m15-4h0m5 3l-1 1m-70 3l1 1m13-1h0m3 2l-1 1m47-1l-1 1m-71 4l-1 1m44-1l-2 0m31-2l-1 1m7 1l-2 0m13-3l-2-1m-98 10h0m6-3l-1 0m7-1h0m3 3l-1 1m14-2l1 0m25 0l-1 1m17-2h0m21 0l0 1m-101 5h0m32 0l-2 0m23 0h0m-28 6l-1 0m6 0l0 2m7-1h0m4-1l-1 1m6 1h0m31-4l1 1m6 0l1 0m27 2l0 1m-108 4l-1 1m6-3h0m5 0h0m8 1l-1 0m21 3h0m4-3l-1 1m16-1l0 1m5 0l-1 0m-63 5l0 1m36 1l-1 1m13-5l-1 0m32 1h0m-48 7l-1 1m12-2h0m2 1l-1-1m17-1l0 1m6-2h0m45 3l-1 1m-120 2h0m5 0l-1 1m6 2l-1 0m15-2l-1 1m4 1l-1 1m5-3l-1 0m16 0l-2 1m6 2l-1 1m22-4l-1 1m24-2h0m6 3l0 1m-95 4h0m17-1h0m13 1h0m15-1l-1-1m18 2l-1 1m27-1l0 1m16-3h0m5 0l-1 1m-113 4h0m6 2l-1 0m12-2l-1 1m24 1l-1 1m27-2l-1 1m13 1l-1 0m36-1l-1 1m5-1l-1 1m-116 4l-1 1m5-2h0m23 0l0 1m4 2l-1-1m15 0l-1 1m32-2h0m0 6l-1 0m-74 7l-1 0m10-1l-2 0m21 0h0m27-1l-1 0m-42 8h0m3-3l0 1m23 8h0m9-1l-1 1m-42 5l1 0m11 0h0m98-3h0m-114 6h0m6 1h0m22-3h0m26 4h0" stroke="#5a180c" stroke-width="4.1" stroke-linecap="round"/></svg>
<rect x="1904.4" y="55" width="120" height="119" fill="#9a9a9a" filter="url(#sh)"/><svg x="1902.8" y="53.4" width="120" height="119"><g filter="url(#bl)"><use href="#q00" class="cM"/><use href="#q01" class="cM"/><use href="#q02" class="cl"/><use href="#q03" class="cw"/><use href="#q10" class="cM"/><use href="#q11" class="cm"/><use href="#q12" class="cw"/><use href="#q13" class="cl"/><use href="#q20" class="cm"/><use href="#q21" class="cw"/><use href="#q22" class="cl"/><use href="#q23" class="cb"/><use href="#q30" class="cw"/><use href="#q31" class="cl"/><use href="#q32" class="cb"/><use href="#q33" class="cl"/></g><path d="M2 0l-1 2m10 0l-2 3m11-4l2 2m8-3l0 3m5-1l-1 3m13-2l3 0m5 0l1 2m52-3l0 1m-106 4l-1 3m17-4l3 0m22-1l1 3m-37 7l-1 4m19-8l-3 3m8-3l-3 0m10 3l1 3m2-3l0 2m19-3l1 2m-59 3l-1 2m17 0l1 2m10-5l2 1m17-2l1 2m7 2l1 4m-37 1l-2 1m29-2l0 4m-45 3l1 1m9-4l1 3m23-3l-1 3m21-1l0 1m8-3l1 3m-42 3l0 2m7-1l-3 2m-21 3l2 3m18-1l-1 3m4-4l2 0m4-1l-1 4m-5 3l1 1m9-1l0 3m14-2l0 3m67-5l-2 2m-113 2l-3 2m19 0l1 2m23-1l0 1m-42 3l1 2m2-4l-2 3m12-1l-2 2m33-4l0 2m20 1l-2 1m-31 1l0 2m14-1l-2 2m18 0l2 1m1 0l0 1m-58 1l1 3m4 0l3 1m40-5l-1 1m-38 8l0 1m-3 2l1 1m5-2l0 2m4 0l-3 3m-8 11l-1 0m13-2l2 3m-21 4l0 1m77 10l1 2m18-6l1 1m-18 12l-1 3m6-2l1 0" stroke="#c6603f" stroke-width="4.0" stroke-linecap="round" opacity="0.88"/><path d="M86 14l0 2m2-4l1 1m4-1l-1 0m14 1l1 0m-72 7l-1 2m34-3l1 1m21 3l1 2m11-3l0 1m-90 13l-2 1m64-2l1 2m-75 3l2 1m12 5l0 1m-8 4l0 1m91 6l-1 1m4-1l0 2m-25 9l1 1m31 5l0 2m-18 2l-1 1m18 0l1 2m-71 3l1 2m26-3l0 2m44 3l0 2m-35 11l2 1m6-1l0 1m14 1l-2 1m14 0l0 3m6 9l0 2" stroke="#8ea6da" stroke-width="3.9" stroke-linecap="round"/><path d="M52 -1l-1 1m31 1l0 2m-74 3l0 2m48 1l-1 0m8-4l0 1m-18 5l1 2m3 1l2 1m-45 1l1 2m4-1l2 0m-5 7l0 1m108-2l-1 2m-96 5l1 2m5-4l-1 1m-21 6l0 3m14-2l0 2m46-3l0 1m-8 6l-1 1m6-1l1 1m30-3l0 1m19-3l0 2m6-2l0 2m-113 5l-2 0m18 2l1 0m83-2l2 1m-63 7l-2 0m81-3l1 2m-60 4l1 1m47 0l0 1m-91 4l2 1m61 1l0 2m34-4l1 1m-117 3l-1 1m20 2l0 1m74 0l-2 2m-90-1l1 1m10-1l1 1m106 1l1 1m2 6l-1 1m-108 4l-1 2m8-4l1 1m64 1l-1 2m15-2l0 2m-31 2l-1 1m22-2l0 2m13 0l0 2m1 2l-1 2m-67 6l-2 0m23-3l-1 1m13 1l1 2m53 0l-2 1m-78 2l-1 1m39 0l0 2m10-4l1 3m-43 3l1 2m18 0l1 1m5-3l0 2m11 0l-1 2m24-3l-2 1m-78 5l-1 2m40-2l0 3m8-1l0 1" stroke="#4d7ccb" stroke-width="3.9" stroke-linecap="round"/><path d="M7 0l-1 1m19 2l0 1m17-3l1 1m-30 5h0m11 0l1 1m4 1h0m10 0l0 1m10-1h0m-49 2l0 1m12 0l0 1m7 0l0 1m50-3l1 1m-48 5l0 1m19 2l-1 0m20 0l1 1m-47 3l0 2m8-4l1 0m12 2l-1 1m-26 4h0m19 1l0 1m11-3h0m8 3l0 1m-5 3h0m-30 6l0 1m-6 4l1 1m16-3h0m-10 9l0 1m21-3h0m-15 7l-1 1m8 0l1 1m-23 4l1 1m5-3l0 1m4-2h0m17 2l1 1m-24 11h0m22-3l0 1m-20 10l0 1m78 28l0 1m-85 4h0m15 2l1 2" stroke="#5a180c" stroke-width="4.1" stroke-linecap="round"/></svg>
<rect x="2049.1" y="55" width="120" height="119" fill="#9a9a9a" filter="url(#sh)"/><svg x="2047.5" y="53.4" width="120" height="119"><g filter="url(#bl)"><use href="#q00" class="cw"/><use href="#q01" class="cl"/><use href="#q02" class="cw"/><use href="#q03" class="cb"/><use href="#q10" class="cl"/><use href="#q11" class="cb"/><use href="#q12" class="cb"/><use href="#q13" class="cl"/><use href="#q20" class="cb"/><use href="#q21" class="cw"/><use href="#q22" class="cl"/><use href="#q23" class="cl"/><use href="#q30" class="cl"/><use href="#q31" class="cb"/><use href="#q32" class="cb"/><use href="#q33" class="cw"/></g><path d="M44 3l4 0m27-2l2 0m29 10l0 2m-52 23l3 0m42 0l1 1m-98 1l2 0m65 0l2 1m-38 13l2 1m-33 2l1 2m108 9l2 0m-98 6l3-1m39 4l1 0m-17 4l2 3m25-6l0 2m-66 16l-3 1m74 1l2 1m-53 4l1 1m0 5l1 2m40-5l2 0" stroke="#c6603f" stroke-width="4.0" stroke-linecap="round" opacity="0.88"/><path d="M114 1l1 1m-34 6l0 3m12-6l-1 1m16 0l1-1m9 2l1 0m-19 3l2 1m-75 12l0 2m93 4l1-1m-96 13l1 1m15-3l1 2m13-3l1 1m27 0l0 2m-32 3l1 0m-47 6l2 0m24 3l-2 2m63 9l1 0m-84 3l2 0m47-1l-2 1m18 1l1 0m-40 7l2 1m70 2l-1 1m-44 5l2-1m20 0l2 0m-86 7l1 0m5-3l1 0m73 2l2 1m1-1l1 0m-38 7l1-1m13 0l1 2m21-1l1 0m-29 4l2-1m12 3l2 0m-62 4l1 0m29 0l1 0m40 5l1 0m32 1l2 1m-40 5l1-2m14 5l2 1" stroke="#8ea6da" stroke-width="3.9" stroke-linecap="round"/><path d="M36 3l0 1m17-3l2-1m31 0l2 1m18-1l2-1m3 7l2-1m8 3l1-1m-95 6l1-1m20-1l2 2m-33 6l-1 1m36-2l1 1m38 1l2-2m8-1l1 0m13 2l2 0m-100 6l1 0m81-2l2 0m19 1l2 0m-98 6l1 0m44-2l-2 0m50 1l2 0m-114 8l1-1m67-1l1 1m-45 9l1 0m15-2l1 0m33 2l2 2m23-2l2 2m9 0l2 1m-93 1l2 0m52 1l1 0m38 1l2 0m-96 7l3 1m9-4l1-1m5 2l0 2m6-2l1 0m9 0l3-1m7 3l2-1m2-2l1 2m-47 5l-1 2m-22 2l2 1m8 2l2 1m49-3l1 2m24-3l-2 1m-81 7l1 0m-5 4l1 1m-1 7l1 0m66 0l0 2m38-2l1 0m-90 4l1 0m5 0l-2 1m29 6l-1 1m21-1l-1 1m11-3l1 1m-75 3l2 0m39 2l2 2m3-2l2 0m64-1l1-1m-74 7l2-2m35 2l2 1m11 1l-1 1m-84 4l2 0m29-1l1 1m2 0l1 0m62-1l-1 2m-99 2l2 0m32 2l2 0m9-1l2-1m4 0l2 1m-33 4l1-1m34 0l1 1" stroke="#4d7ccb" stroke-width="3.9" stroke-linecap="round"/><path d="M108 23l1 0m-5 17l1 0m-44 22l1-1m-60 13h0m53 23l1 0m19 2l1 0m-47 6l2 0m19 2l2-1m33 5l1-1m10 6h0" stroke="#5a180c" stroke-width="4.1" stroke-linecap="round"/></svg>
<rect x="1180.9" y="210" width="120" height="119" fill="#9a9a9a" filter="url(#sh)"/><svg x="1179.3" y="208.4" width="120" height="119"><g filter="url(#bl)"><use href="#q00" class="cp"/><use href="#q01" class="cw"/><use href="#q02" class="cb"/><use href="#q03" class="cb"/><use href="#q10" class="cb"/><use href="#q11" class="cM"/><use href="#q12" class="cR"/><use href="#q13" class="cR"/><use href="#q20" class="cm"/><use href="#q21" class="cb"/><use href="#q22" class="cm"/><use href="#q23" class="cb"/><use href="#q30" class="cp"/><use href="#q31" class="cp"/><use href="#q32" class="cp"/><use href="#q33" class="cw"/></g><path d="M92 17l1 1m3-1l-3 0m24 0l-2 2m-83 5l-3 3m20-4l2 1m48-1l-2 2m-69 3l-1 2m47-1l-2 1m41-3l-2 1m-76 5l-1 1m35 1l-2 2m5-3l-2 3m10-2l-1 1m4-4l-1 1m14 0l1 2m-78 4l2 3m2-3l-1 1m31 2l-1 1m16-4l-1 2m27-1l-1 2m24 0l-3 2m-82 0l-2 3m20-2l-3 3m11-1l-1 2m10-1l-2 0m26-1l-1 1m11-4l-3 2m14 1l2 1m4-2l-3 1m-116 6l-1 2m32-3l-2 0m57 1l-2 1m24-1l1 2m-93 1l0 3m1-1l-1 1m30-3l-1 2m19 0l-2 3m51-3l-4 0m-102 5l-1 2m30-5l0 1m11 1l-4 1m47-2l3 0m2 1l-2 2m6-3l-2 1m-94 4l-1 0m6 0l-1 3m25-3l0 1m46 2l0 1m-64 5l1 1m61-3l-2 2m4-3l1 3m-70 3l-1 1m8 0l-2 2m12-4l-1 2m34-1l0 2m4-1l-2 2m8-3l-1 1m13-2l3 1m-72 6l-1 1m8 0l-1 1m21-2l0 2m24-1l-3 2m-57 0l-1 4m21-1l-2 2m60-4l0 2m3-2l-2 0m-25 5l-1 3m11 6l3 0m-68 4l-1 0m71 2l-2 0m-36 2l-2 1m10 1l-2 0m36 0l-3 1m-66 3l-1 1m23-2l-1 3m19-1l-3 3m21-4l-3 2" stroke="#c6603f" stroke-width="4.0" stroke-linecap="round" opacity="0.88"/><path d="M71 0l-1 2m7-1l0 3m11-2l-1 1m24 0l2 2m-1 2l1 1m5-2l-2 1m-24 4l-2 2m21 0l-1 1m-47 4l-1 1m60-2l2 0m-37 7l-2 1m20-3l-2 1m18-1l1 2m-30 6l-2 2m-82 2l0 1m18-1l-2 1m3 10l-2 2m18 0l-2 1m8 10l0 1m0 1l-1 1m-13 7l-1 1m51 0l-1 1m13-4l-1 2m-1 5l0 1m15 0l-2 2m-105 2l3 1m71 4l-1 1m9-1l-1 1m18-1l1 1m8 1l-2 1m-91 2l2 0m37 1l0 2m27 2l0 1m35 3l0 1" stroke="#8ea6da" stroke-width="3.9" stroke-linecap="round"/><path d="M97 0l1 2m7 1l-1 2m-25 1l1 3m19-1l-1 1m-46 3l2 1m3 2l-1 1m23-3l-1 2m24-4l-1 2m17 0l0 2m-72 4l-1 0m23-2l-1 0m19 1l-2 1m-5 6l1 1m2-1l1 0m12-1l-1 1m-38 3l0 1m9-1l-1 0m21 2l1 1m-83 5l-2 2m15-4l-1 1m24 1l-1 2m23-2l-2 1m51-4l-2 2m-105 6l0 1m3-2l-1 1m78-1l0 1m-82 3l0 2m59 1l-2 1m20-2l0 1m44 0l-1 1m-107 1l-2 2m7 2l-1 0m4-2l-1 2m17-3l-1 2m7-3l-1 1m27 2l-2 0m44 0l-2 1m-101 3l0 2m13 0l1 1m12-3l-1 0m32-1l-2 2m44 0l1 1m-90 3l1 0m10 0l0 2m28-1l-1 1m47-2l-1 2m8-1l1 1m7 1l-1 1m-95 3l-3 1m28-2l0 1m26-2l-1 2m16 0l-2 1m12-1l-1 1m15-1l1 0m-91 4l-2 1m9-1l-2 1m16 1l-1 2m14-4l-1 1m46-1l-2 2m-67 5l-1 1m83-2l-1 2m-91 6l0 1m6-2l-2 1m9-3l-1 1m12-2l-1 0m18 6l-2 1m9 2l0 1m46-4l-2 1m-4 8l0 2m-15 0l-1 2m22 8l0 1m-68 9l0 2" stroke="#4d7ccb" stroke-width="3.9" stroke-linecap="round"/><path d="M72 11h0m7 5l0 1m-74 6l0 1m56-2l1 1m10 0l-1 0m-19 5l1 1m8 1h0m17 0l-1 0m-32 6h0m4 0l0 1m7-3l0 1m34 0l-1 1m19-2l1 0m-76 8l-1 1m9-4l-1 1m4 1l-1 2m12-1l-1 1m26-1l-1 1m20-2l0 1m14 0l0 1m-96 3l-1 1m24 0l-1 0m35 0l0 1m9-3l0 1m13-3h0m10 4l-1 2m-49 2l-1 1m8 0l-1 1m15-2l-1 1m14 0l1 0m28-3h0m-62 8l0 1m16-3l-1 1m6 0l-1 1m6-2l1 1m6 1h0m6 0l-1 2m7-3l-1 2m14-2l-1 1m-42 3l-1 0m-21 6l-1 0m17 2l0 1m40 0h0m-73 6l-1 1m55 10h0m-68 25l-1 1m48 0l-1 0m-2 9h0" stroke="#5a180c" stroke-width="4.1" stroke-linecap="round"/></svg>
<rect x="1325.6" y="210" width="120" height="119" fill="#9a9a9a" filter="url(#sh)"/><svg x="1324" y="208.4" width="120" height="119"><g filter="url(#bl)"><use href="#q00" class="cM"/><use href="#q01" class="cb"/><use href="#q02" class="cl"/><use href="#q03" class="cb"/><use href="#q10" class="cM"/><use href="#q11" class="cb"/><use href="#q12" class="cl"/><use href="#q13" class="cm"/><use href="#q20" class="cl"/><use href="#q21" class="cb"/><use href="#q22" class="cW"/><use href="#q23" class="cW"/><use href="#q30" class="cW"/><use href="#q31" class="cW"/><use href="#q32" class="cW"/><use href="#q33" class="cW"/></g><path d="M4 2l-3 1m4-1l2 3m6-5l0 2m7 0l-1 3m3-5l0 1m36 1l3 1m-43 4l0 1m27-3l-1 4m-38 5l-3 1m17 0l0 3m4-7l1 0m19 3l0 1m45-4l1 3m-84 5l-2 2m16-4l1 3m45-4l0 3m23 0l0 2m-69 1l-1 3m70-2l-1 3m11-2l-3 0m16 1l-2 2m8-5l-1 1m-116 7l-2 1m12 2l2 1m13-1l-2 1m6 2l0 2m7-5l0 3m5-3l0 2m10 1l1 1m-26 5l-1 1m76-5l0 1m8 3l2 3m-104 3l-1 4m92-5l0 2m18-4l-2 1m-112 3l0 3m15-2l-1 1m22-2l-1 1m61-1l-3 0m11 0l0 3m8-3l1 2m-85 7l2 1m2-3l-1 3m-21 4l-3 3m31-6l0 4m36-3l0 3m31 5l-1 1m8-4l0 1m7 1l1 2" stroke="#c6603f" stroke-width="4.0" stroke-linecap="round" opacity="0.88"/><path d="M22 7l1 1m92-2l-2 1m-102 6l-1 0m92-1l1 1m-25 12l-1 2m44-1l-2 1m-74 4l1 1m62-1l-1 3m-51 7l0 2m-15 1l-1 3m25 1l1 0m-16 3l-2 2m47-2l-2 2m-93 11l1 2m54-4l0 1m-14 4l1 1m4-1l-1 1m-3 9l0 3m-36 5l0 3m-5 3l-1 0m2 5l-1 1m16-3l0 2" stroke="#8ea6da" stroke-width="3.9" stroke-linecap="round"/><path d="M36 3l-1 2m81-4l-2 2m7 1l-1 2m-118 2l-1 2m30-3l0 2m4-2l0 2m66-3l0 2m9-2l0 1m-38 6l0 2m35-2l2 1m-68 4l0 1m17-3l0 2m49 0l1 2m10-2l0 1m-93 2l-1 1m16 0l1 0m16 3l-2 1m42-2l2 2m-87 1l0 2m11 0l1 1m4-1l0 2m5-2l-2 1m24-1l-2 1m9-1l-2 2m30-3l0 2m10 0l0 2m18-5l-1 3m4-1l0 1m-119 5l-1 1m6-1l1 1m39 0l0 1m72-4l1 1m-98 7l0 2m14-1l2 0m1-4l-1 0m58 4l1 1m20-2l2 1m-106 5l-1 2m40-3l0 3m6-5l0 1m26-2l1 2m19-1l1 1m-99 7l0 1m30-1l0 2m8-5l0 2m22 2l-1 2m-48 4l1 2m20-3l1 1m46-3l1 2m8-2l-1 2m-40 3l1 1m39-1l-1 1m-85 4l-2 0m22 4l3 1m-30 0l-1 1m48 3l0 1m-39 4l0 1m22-5l0 1m15 2l-1 1m7-1l-2 1m-48 3l-1 1m14 0l-1 2m9 5l0 1" stroke="#4d7ccb" stroke-width="3.9" stroke-linecap="round"/><path d="M29 1l1 2m-23 4l-1 1m8-1h0m-14 3l1 0m29 4l-1 1m4-2l1 2m19-1l-1 1m61-4h0m-111 5l-1 1m12 2l0 1m11-3h0m3 2l-1 1m-17 4h0m9 5h0m75 0h0m17 2l-1 1m-108 7l-1 0m8 2l0 1m4-1l-1 0m6-1h0m88 1l0 1m-83 5h0m89 2l1 1m-89 8h0m21-3l1 1m32 13l0 1m-17 8l-1 1" stroke="#5a180c" stroke-width="4.1" stroke-linecap="round"/></svg>
<rect x="1470.3" y="210" width="120" height="119" fill="#9a9a9a" filter="url(#sh)"/><svg x="1468.7" y="208.4" width="120" height="119"><g filter="url(#bl)"><use href="#q00" class="cp"/><use href="#q01" class="cg"/><use href="#q02" class="cb"/><use href="#q03" class="cM"/><use href="#q10" class="cb"/><use href="#q11" class="cb"/><use href="#q12" class="cb"/><use href="#q13" class="cM"/><use href="#q20" class="cM"/><use href="#q21" class="cb"/><use href="#q22" class="cg"/><use href="#q23" class="cM"/><use href="#q30" class="cw"/><use href="#q31" class="cp"/><use href="#q32" class="cm"/><use href="#q33" class="cw"/></g><path d="M0 0l4 1m43 0l2 2m51-1l1 0m15-2l2 2m-39 6l1 0m23-3l3 1m0 0l0 1m-61 7l2 2m51-1l3 2m5-5l2 3m7-4l-3 2m-63 6l4 0m14 0l2 0m14-1l2-2m9 2l0 1m8 0l2 0m2-3l1-1m-36 8l3 1m33 1l1 1m-2 2l3 0m-87 9l2 2m18-2l4 0m10-1l3 1m41-1l1 0m12-4l2-1m-10 7l-2 1m-95 8l2 1m102-2l2 1m4-2l0 3m-39 3l2-2m14 1l-3 0m12 0l1 0m7 3l2 3m5-4l0 2m2-2l2 1m-109 4l0 3m56-3l2 3m13-3l2 0m15-1l-3 2m19-2l4 1m-1 0l2 0m-123 3l1 1m11 0l3 2m4-1l3 2m-1 0l2 1m10-1l-1 2m67-6l4 0m15 3l4 0m-105 5l-2 0m81 1l-1 0m10 0l4 0m0-2l-3 2m-103 4l2 0m6-1l-1 3m14-1l3 1m74-3l2 2m1-3l3 1m6-1l2 0m-105 7l3 0m37 0l1 2m39 0l1-1m-83 5l1 1m5 0l-1 3m45-2l3 2m13-5l2-1m12 4l2 1m29-5l-3 1m-104 6l0 2m4-3l2 1m84-1l1 1m5-1l1 2m10-1l2 2m-31 4l1 3m15-4l3 1m-77 4l4 1m48 0l1 0m14 1l1 2m-58 3l1 3m14-2l1 1m7 4l3-1m5 3l2 2m-18 1l-1 1m12-1l2 0m9 2l2 1m2-3l0 4m4-6l1 4m5-3l2 1m6-2l-1 1" stroke="#c6603f" stroke-width="4.0" stroke-linecap="round" opacity="0.88"/><path d="M67 0l-1 1m45 4l-1 2m-81 7l1 2m28-4l1 1m30-1l0 3m28 5l1 0m-66 1l2 1m3 1l2 1m7 1l2 2m23-1l2 1m17-5l1 1m7 1l0 2m-2 4l-1 1m-71 5l-1 3m19-6l0 2m21 4l2 2m5 9l2 0m-56 8l1 1m-30 5l2 1m44 2l2 1m44 1l2 1m-46 2l2 1m12-1l1 1m-13 4l1 1m23 7l2 0m-18 3l1-1m45 3l2 2m-74 2l1 0m35 0l1 3m23 0l2 1m-87 8l1 1m59 9l1 1" stroke="#8ea6da" stroke-width="3.9" stroke-linecap="round"/><path d="M60 0l1 0m24 2l1 1m9-2l2 1m9-1l2 1m4 1l1 0m-56 3l2-1m9 2l1 0m22-2l2 0m-70 8l0 3m51-3l1 0m3 2l-2 1m18-2l3 0m13-2l2-1m-89 7l1 2m34-2l1 1m13-3l1 1m-44 8l3 0m31-2l2 1m13-2l1 0m14 0l2 1m6 0l0 2m-77 5l0 2m3-4l2 1m26-2l1 1m22 2l2 0m22-1l2 1m7 0l1-1m-76 5l2 1m14 1l2 1m19-1l1 1m22-1l-1 1m13-1l2 1m5-1l2-1m-110 5l-2 0m33 1l0 2m25-3l0 2m27-3l2 1m21-2l2 0m-97 5l1 0m22 4l1 1m24-4l1 1m6 1l2-1m15 2l1 1m10-2l2 0m-96 7l2 0m26-3l1 0m11 2l2 1m0-1l1 1m8-3l1 1m3 2l2 0m22-2l1 0m14 0l0 1m-20 2l1 1m7 3l2 2m-47 3l1 2m7-2l2 2m13-2l1 0m6-3l2 1m7 3l1 0m-76 5l1 2m13-5l1 0m8 0l2 1m0 0l2 0m21 2l2 1m19-3l1 2m12 0l2 0m24 0l2-1m-110 4l-1 1m42 0l0 2m14-3l-3 1m17 1l2 2m-71 3l1 0m11-1l-1 2m47-3l1 1m-43 8l2 1m21-1l-1 2m6 0l1 0m4 3l0 3m-55 3l1 1m22-3l1 1m41 0l2 0m24-1l1 1m-31 5l2 0m-14 9l2 0m5 3l2-1m22-2l2 1m-20 6l1 0" stroke="#4d7ccb" stroke-width="3.9" stroke-linecap="round"/><path d="M91 0l1 0m29 1l2 0m-41 7l0 1m35-1l1 0m3 5l1 0m-12 3h0m11 8h0m-116 3l1 1m90 3l-1 0m-9 5h0m4 0l1 0m26 5h0m-88 6l1 1m63-4l1 0m27-1l2 0m-100 9l0 1m-19 3l1-1m22-1h0m84 1l1 0m-83 5l-1 1m64 3l-1 0m3-4l1 0m18 0h0m-112 8h0m120-1h0m-36 5h0m11 1h0m22 2h0m-115 2l2 0m22 1l1 1m52 1h0m6 0l1 0m6-1l1 0m10-2l2 0m13 1h0m-117 6l2 0m106 2h0m-84 3h0m5 0h0m66-1h0m-38 13h0m10-2h0" stroke="#5a180c" stroke-width="4.1" stroke-linecap="round"/><circle cx="46" cy="19" r="20.9" fill="#dde4f4"/><circle cx="71" cy="77" r="18.2" fill="#dde4f4"/><circle cx="46" cy="19" r="12.9" fill="#f6f0f0"/><circle cx="71" cy="77" r="10.2" fill="#f6f0f0"/><path d="M43 4l0-3m4 2l0-3m3 3l1-4m3 6l3-2m1 3l3-2m1 13l2 0m-1 3l2 1m-4 3l2 1m-4 3l2 1m-2 1l2 2m-6 0l1 2m-5 1l1 3m-4-4l0 4m-8-6l-1 4m-2-3l-2 3m-1-6l-2 3m-1-6l-4 2m3-6l-3 2m2-6l-2 1m3-5l-2 0m3-2l-3-2m5-2l-3-2m5 0l-2-3m7 1l-1-3m35 86l0 4m-3-1l1 3m-8-6l-1 2m-1-2l-2 2m-3-10l-3 1m4-5l-3 1m2-5l-2-1m4 0l-2-1m8-7l-1-2m3 1l0-2m9 3l0-2m4 4l2-3m1 7l2-2m-2 5l3-2m0 5l3-1m-4 5l2 0m-3 4l3 1m-5 3l2 2m-6-2l2 2" stroke="#5d88d2" stroke-width="3.6" stroke-linecap="round"/></svg>
<rect x="1615" y="210" width="120" height="119" fill="#9a9a9a" filter="url(#sh)"/><svg x="1613.4" y="208.4" width="120" height="119"><g filter="url(#bl)"><use href="#q00" class="cM"/><use href="#q01" class="cM"/><use href="#q02" class="cM"/><use href="#q03" class="cM"/><use href="#q10" class="cM"/><use href="#q11" class="cM"/><use href="#q12" class="cm"/><use href="#q13" class="cM"/><use href="#q20" class="cM"/><use href="#q21" class="cW"/><use href="#q22" class="cW"/><use href="#q23" class="cm"/><use href="#q30" class="cW"/><use href="#q31" class="cW"/><use href="#q32" class="cW"/><use href="#q33" class="cm"/></g><path d="M22 0l2 3m36 0l1 1m19-1l-1 3m23-5l-2 2m8-2l-1 4m4-3l1 3m-98 1l0 2m5 1l0 1m6-5l-1 3m13-3l2 1m2 3l0 1m27-3l0 3m43-2l-1 1m-99 5l-4 0m22 0l0 1m23-2l1 3m-51 3l1 1m16-2l-1 3m20-5l-2 1m43-1l-1 0m7 3l0 3m5-5l0 3m6-4l1 2m4 1l3 1m0-3l-2 3m13-2l0 2m6-2l-3 1m-105 5l-1 2m12-2l0 2m4-4l0 2m14-3l0 2m35 1l1 3m7-5l0 2m34 1l-2 3m-110 2l0 2m11-4l1 1m17-2l0 3m3 0l1 1m40 0l-2 2m10-5l-1 2m12-3l-1 2m10-1l1 1m-108 3l1 2m16 2l0 3m6-5l4 1m33-1l1 2m5 0l-1 2m38-2l-1 1m-103 4l1 2m10-3l2 2m12-2l-1 2m6-1l0 2m55-1l-1 2m24-4l2 1m-107 4l-4 1m6 1l-3 1m10-3l-2 2m10 0l2 3m15-3l1 2m8-4l0 3m3 0l0 3m12-6l0 4m8-3l3 2m2 0l-1 2m11-3l1 1m9-4l-1 1m13 1l0 3m11-1l-1 2m-110 2l0 2m57-1l1 3m13-3l3 0m26-2l0 2m-92 2l-1 1m6 1l3 1m0-2l1 3m23-4l-1 3m12 0l0 1m5-2l0 4m11-6l0 1m18 2l3 1m8-2l0 1m5-1l2 3m-96 0l0 3m5-3l-1 1m55 1l2 2m12-4l0 1m12 3l0 3m23-4l-2 3m-104 3l0 1m2-4l0 2m11-2l-1 2m18-2l-1 1m56 0l0 3m-94 1l-2 2m20 0l1 4m8-2l-3 2m56-6l-2 1m29 1l-1 3m4-4l2 3m-115 3l1 1m5-2l1 3m78-3l1 2m13-2l1 2m15-1l0 2m-118 4l3 1m13 0l-2 2m89-4l0 2m1-2l-1 2m10 0l-1 4m-11-1l-2 2m-93 4l1 1m81 2l1 0m8-1l-1 3m17-6l0 1m-26 8l1 2m8-4l1 3m15-4l2 4m-20 3l2 1m11-1l-3 1m-22 3l-1 2m15 1l-1 2m9-2l-1 1m7-3l-1 2m-8 5l-1 2m7-2l0 1m-7 2l0 3" stroke="#c6603f" stroke-width="4.0" stroke-linecap="round" opacity="0.88"/><path d="M18 3l0 1m20-2l1 1m6-4l0 2m15 7l-1 1m13 4l1 0m-51 7l-1 0m88-4l1 2m-52 7l1 1m3 5l-1 2m21-5l0 2m-70 3l-1 0m32 0l-1 1m75 7l2 2m2 4l-1 1m-119 3l0 2m17 0l-1 0m6-1l2 2m2-2l0 1m86 5l0 1m-105 3l-1 1m80-1l-1 1m32-2l2 1m-118 7l-1 1m115-1l0 2m-17 2l-2 0m23 18l0 3m-8 22l0 1" stroke="#8ea6da" stroke-width="3.9" stroke-linecap="round"/><path d="M94 1l1 2m-87 5l-2 1m23-4l-1 1m29 0l1 2m15-1l0 1m5-3l1 1m11 3l0 1m11-3l0 1m16 0l-1 2m-111 1l-1 2m15 0l0 2m28-4l-1 2m17 1l1 1m31-4l-1 1m7 0l0 1m-88 3l0 2m39 1l-1 2m4-2l0 2m-52 4l1 2m4-5l0 1m8 2l0 2m19-4l-1 0m61-2l-1 2m-93 4l0 2m44 0l0 2m14-1l-2 2m55-1l0 2m9-4l0 1m-115 3l-2-1m25 1l0 2m27-1l0 1m30-2l0 2m16 0l0 1m16-1l-1 1m-101 4l0 1m17 0l0 2m5-5l0 2m53-1l0 1m30-1l1 1m-91 3l-2 2m59-1l0 1m23 0l0 1m-61 7l0 2m34-5l-1 2m8 0l-1 2m4-2l-1 1m5-2l-1 2m16-2l0 2m-106 6l-1 1m80-5l-1 1m8 2l0 1m-93 1l0 1m31 0l-2 0m4 0l0 1m14-2l-1 1m21 1l-1 1m-43 5l0 2m-9 1l1 1m79 10l0 2m28 0l-2 2m-5 14l0 2m-22 13l0 2m23 1l0 2" stroke="#4d7ccb" stroke-width="3.9" stroke-linecap="round"/><path d="M2 0h0m9 1l-1 1m21-2l1 1m1-1h0m17 2l0 1m4-3l1 1m20 0l0 1m7-2l0 1m6 0h0m29-1l-1 0m-116 5l0 2m51 0l-1 1m47-2h0m9 2l1 0m-73 6l0 1m4-1l0 1m17-3h0m12 1l-1 0m20-1h0m18-1l0 1m13 0l-1 0m-87 6h0m7-1l-1 0m29 2l0 1m5-4l0 1m5 3l0 1m-30 3l1 1m4 0l0 1m13-4l0 1m7 0l-1 1m5-2h0m18 1l0 1m8-2l2 0m3 2l0 1m8 0l0 1m-99 3l1 1m15-1l1 1m21-2h0m21 2l-1 1m24-3l-2 1m23 2l0 1m-80 1l0 1m3-1h0m41 0l0 1m9-1l0 1m7 1h0m15-1l1 1m-107 4l0 1m42-1l1 1m4-1l0 1m3 0h0m19-1h0m29 0l0 1m9 2l1 0m-89 4h0m15 1l-1 1m40-4h0m23 1l-1 1m-86 6h0m24-1l0 1m5 0l-1 1m15-1l0 1m9-1h0m52 0h0m-116 3l-1 1m29 0l0 1m12 0l1 0m25-3l0 1m47 0l-1 0m-91 8h0m73 5h0m-68 3l0 1m77 0l0 2m17 1h0m-102 2l0 1m59-1l0 1m-56 6l0 1m-20 7h0m114-2h0m-16 4l0 2m17-1h0m-116 4h0m102 4l0 1m17-5l-1 0m-20 11h0" stroke="#5a180c" stroke-width="4.1" stroke-linecap="round"/></svg>
<rect x="1759.7" y="210" width="120" height="119" fill="#9a9a9a" filter="url(#sh)"/><svg x="1758.1" y="208.4" width="120" height="119"><g filter="url(#bl)"><use href="#q00" class="cM"/><use href="#q01" class="cm"/><use href="#q02" class="cM"/><use href="#q03" class="cm"/><use href="#q10" class="cM"/><use href="#q11" class="cM"/><use href="#q12" class="cM"/><use href="#q13" class="cb"/><use href="#q20" class="cp"/><use href="#q21" class="cM"/><use href="#q22" class="cm"/><use href="#q23" class="cB"/><use href="#q30" class="cm"/><use href="#q31" class="cb"/><use href="#q32" class="cm"/><use href="#q33" class="cm"/></g><path d="M7 3l1 2m15-2l1 2m39-5l4 0m10 1l1 2m10-3l2-1m21 2l2 3m-93 1l2 2m3 0l2 1m5-1l4-1m11 0l3 2m14-2l1 1m21 1l3 0m6-2l3-1m-92 7l2 0m44 1l1 1m10-1l-2 0m19-2l1 4m8-1l2-1m8-2l1 3m6-4l1 0m-106 10l2 1m4-5l-1 3m23-1l1 1m36 0l-2 0m21-3l-1 1m7 1l0 3m3-1l-1 2m23-5l0 3m5-3l1 4m-121 4l0 3m21-6l3-2m26 2l1 0m2 0l1 1m6 1l-1 1m52-3l1 4m-110 4l2 1m8-3l1 1m3-2l0 3m10 0l2 3m5-4l3 1m25-1l2 1m2-2l2 0m20 1l1 2m16-3l2 3m4-2l-1 4m-100 3l2 0m6-1l-1 3m5-5l2 1m11 2l-1 1m11-3l-1 2m23-2l2 2m9-2l1 1m10 0l1 1m-87 4l3 1m0-1l1 2m27-4l0 3m10-2l2 2m18-1l1 3m12-3l4 0m2-2l1 0m8 0l3 1m-93 8l2 0m10-2l3 0m12 2l1 1m10-4l1 2m21 0l1 0m14 1l0 2m28-4l3 2m11 0l2 0m-88 2l1 0m12 4l1 1m-48 2l1 1m7 0l1 1m6-3l4 0m1 1l1 0m14 1l0 3m5-2l1 2m20-3l2 3m15-3l2 3m3-6l3 0m20 3l4-1m8 1l3 2m-90 2l2 1m6-2l-1 3m9-2l3-1m44 3l2 1m5-3l1 2m20 0l1 3m-56 1l3 1m9 0l-3 0m-51 6l2 0m15 1l2 2m9-5l1 3m2-3l1 1m6 1l1 1m6 0l1 1m14-5l-1 1m-48 6l2 1m14-1l0 2m8-3l-1 2m20 0l-2 2m24-3l3 2m-62 4l-3 1m42 6l3 0m-1-2l2-1m-62 9l-1 1m32-3l2 0m3 0l1 3m21-4l3 1m23-2l3 0m-92 6l3 0m14 1l1 1m4 1l-1 4m42-7l1 4m15-5l3 0m0 3l1 2m6-2l0 3m9-5l3 2m-96 7l3 2m52-3l1 0m12 1l1 2m4-5l-1 1m-87 6l2 0m4-2l1 2m8 2l1 2m46-4l1 4m4-5l3 0m11-1l2 1m-43 8l-1 3m34-6l3 0m7 2l1 1m12-2l1 3m3 1l2 0" stroke="#c6603f" stroke-width="4.0" stroke-linecap="round" opacity="0.88"/><path d="M3 3l2 1m25-2l-2 1m44 3l1 0m44 8l1 1m-94 2l1 0m11-1l1 1m14 2l1 0m-51 17l1 2m48-5l1 3m45 0l1 1m21-1l2 2m-8 2l1 0m-18 7l2 1m-84 2l1 3m16 4l1 2m21-4l-1 1m17 2l2 2m30-4l2 1m19-1l1 0m-51 7l0 2m37-1l0 1m-57 3l2 0m5 1l2 0m47-3l2 2m-5 7l1 1m13-2l2-1m-78 6l2 1m49 0l1 0m21 0l2 1m-67 2l-1 1m41 0l1 0m-51 7l0 2m-27 6l0 1m15 2l1 1m28-1l-2 1m20-2l-1 1m-74 5l2 1m29-4l1 2m19 0l2 1m4-2l1 0m46 1l1 0m-33 13l0 2" stroke="#8ea6da" stroke-width="3.9" stroke-linecap="round"/><path d="M50 2l0 1m20-1l2 0m25 0l2 1m7 1l1 1m-107 4l2 1m47-4l1 1m27 1l1 2m40-4l1 2m2-2l1 1m-106 6l-1 1m42-2l3 1m6-2l2-1m10 8l-1 1m25-3l2-1m1 4l-2 1m8-3l1 1m-92 3l1 2m9 1l2 0m5 2l2 0m5-2l1 1m33 0l2 1m20-3l1 2m15-1l2 2m-78 4l1 1m41 0l1 0m-44 2l-2 0m76 0l1 2m-96 5l1 0m79 0l1 1m8-2l0 3m10-2l-2 1m5-2l2 2m-100 3l0 3m90-3l2 0m7-1l2 0m-100 9l-2 0m21-1l-1 0m15 2l-3 0m11 0l2 0m3-4l2 2m2 0l3 0m3 0l-2 1m14-2l0 2m19 1l1 1m7-2l-1 3m-70 1l2 1m23 1l2 1m-49 1l1 1m51 2l-1 3m8-2l-2 0m31-1l2-1m4-2l1 0m-89 7l2 1m3-1l-1 1m54 0l0 1m5-1l1 1m19-3l2-1m0 5l0 1m-72 0l-1 1m51 2l2 1m6-1l1 2m9-3l1 1m7 1l2 1m-75 4l1 2m39-5l-1 2m-29 4l2 1m16-1l1 1m7-1l1 2m10-3l2 2m4-2l2 1m8 1l2 1m6-3l1 0m-101 10l0 2m29-5l1 2m21-1l1 1m21-2l2 1m9-1l2-1m-69 8l3 0m0 0l1 1m30-4l0 2m27 1l0 2m-27 4l1 1m14-3l1 1m36-1l1 1m-114 5l2 0m24-2l2-1m31 5l3 0m15-2l0 1m15-3l1 2m12-1l2 0m-115 5l2 1m26 2l2 2m4-3l2 1m7-4l-2 0m69 1l1 1m-98 8l1 0m14-4l0 1m12-1l1 1m54 1l1 2m10-3l0 1m3 0l2 1m8 0l1 1" stroke="#4d7ccb" stroke-width="3.9" stroke-linecap="round"/><path d="M12 3l1 0m3-3l1 1m23-1l1 0m4 3l0 1m29-3h0m10 2h0m17-3l1 0m-93 5l1 0m4 3l1 1m14-2h0m11-1l1 1m48 1l1 0m12-2h0m-99 7l0 1m10-3h0m13-1l1 1m14 2l1 0m6-1h0m25 1l1 1m9-1l0 1m13-3h0m-82 7h0m50 1l1 0m10-2l1 1m-70 6l0 1m5 0l1 1m54-4l1 0m6 1h0m13-1l0 1m4 2l-1 1m4-1h0m-87 3h0m19 0l1 1m24 2l0 2m6-5h0m40 3l1 0m20-1l1 0m-112 4l0 2m49-2l0 2m7-3l-2 1m15 0l1 0m-52 7l1 0m2-1h0m11-1h0m15 2l1 0m15-2l-2 0m-58 6l0 1m8 0l1 1m50-3h0m4 1l1 0m9 0h0m8-2l1 1m-74 9l1 1m12-1l0 1m-29 8l0 1m8-3l0 1m44 1h0m10-1h0m4 0h0m21 0l-1 1m-64 4l0 1m24 0h0m37-1l1 0m-51 8l1 0m44-1l1 1m-80 5h0m24-1l1 1m39-1l1 0m1 1l1 0m-31 6l0 1m9-3h0m16 1l1 1m-11 4l-1 0m8 1l1 0m48-3l1 1m11 2l1 1m-113 2h0m5 0l-1 1m-9 7l1 1m49 0h0m-34 10h0m82-2l1 1m18-1h0m-56 6l1 2" stroke="#5a180c" stroke-width="4.1" stroke-linecap="round"/></svg>
<rect x="1904.4" y="210" width="120" height="119" fill="#9a9a9a" filter="url(#sh)"/><svg x="1902.8" y="208.4" width="120" height="119"><g filter="url(#bl)"><use href="#q00" class="cM"/><use href="#q01" class="cw"/><use href="#q02" class="cW"/><use href="#q03" class="cp"/><use href="#q10" class="cM"/><use href="#q11" class="cB"/><use href="#q12" class="cW"/><use href="#q13" class="cp"/><use href="#q20" class="cM"/><use href="#q21" class="cB"/><use href="#q22" class="cw"/><use href="#q23" class="cW"/><use href="#q30" class="cM"/><use href="#q31" class="cm"/><use href="#q32" class="cW"/><use href="#q33" class="cW"/></g><path d="M3 3l0 4m31-3l0 2m-35 2l0 4m17-6l-2 2m31 0l0 3m68-5l1 2m-110 7l-1 3m9-7l-2 3m4 3l-1 1m4-2l0 1m29 3l0 2m-30 2l0 3m73-2l0 2m15-6l0 2m-102 5l0 3m3-3l0 2m7 1l-2 3m37-4l2 4m-42 3l2 1m15-2l1 1m38-3l1 2m-63 5l-1 2m14-5l0 1m52 0l-1 3m30-2l-1 1m-87 4l2 1m3 2l0 3m12-3l-1 3m11-5l1 1m3-1l-1 2m-36 1l0 2m26 0l-1 3m9-4l-1 3m7-3l-1 1m-33 12l1 0m5 0l1 1m74-2l2 2m-76 3l0 2m11-3l-1 2m60-2l2 2m-63 4l0 2m12-2l0 4m-29 3l-2 3m7-4l3 2m9-2l1 4m33-3l3 0m-43 4l0 3m19-1l1 2m12-5l0 4m-36 2l-1 1m10 2l1 1m-20 3l1 3m10-1l-1 3m4-6l3 2m-18 3l1 1m11 3l2 2m3-6l-1 3m5-2l-1 0m6 0l1 1m23-1l1 2m-28 3l-3 2m9 0l2 1m0-2l-1 1m9-1l1 4m5-2l1 2m-40 0l0 1m53 2l0 3m-50 0l-1 3m14-2l1 1m5-2l1 2m10-2l-1 3m29 1l0 1" stroke="#c6603f" stroke-width="4.0" stroke-linecap="round" opacity="0.88"/><path d="M45 22l-1 1m-15 10l-1 2m-20 5l-1 2m16-3l0 1m23 7l-1 2m7-4l0 2m8-3l0 1m-24 13l0 2m32-6l-2 2m-41 4l0 3m8 1l-1 1m-12 8l1 2m36 0l1 2m-47 6l-3 1m28 3l0 2m13 2l-1 1m10-1l0 1m-27 4l1 1m7-2l0 3m28-4l1 2m-60 11l-2 1m-5 5l1 2m31-5l0 1m-15 6l2 1" stroke="#8ea6da" stroke-width="3.9" stroke-linecap="round"/><path d="M16 0l0 1m-2 8l0 2m13-5l-1 1m-21 7l-2 1m36 3l1 1m-37 6l1 1m7-4l0 3m7 3l2 2m3 0l1 2m26-1l0 1m60-2l-1 0m-107 4l1 1m30 1l1 0m13-2l1 2m2-4l1 3m7 0l-3 1m-26 3l1 0m10 2l-1 1m10 0l2 2m5-3l1 1m-43 11l-1 2m34-6l1 2m3 1l0 1m6-4l1 1m-40 7l-1 1m4-3l0 1m23 0l1 0m5 2l-2 0m3 2l0 2m6-1l2 1m-52 5l0 2m23 0l1 1m4-3l3 1m1-2l-2 0m13 2l0 2m-47 2l-1 1m5-1l0 1m22 2l1 1m11-4l1 2m3-2l0 2m8 0l1 1m7-3l-1 0m7 1l0 2m-50 2l1 2m14-1l0 2m9-4l1 2m2 2l0 1m-37 1l-2 1m37 0l0 2m3 1l0 3m-16 2l-1 1m13-2l1 1m-8 2l-1 2m18-1l0 2m-17 3l0 1m-34 6l0 1m53-3l1 1m0 7l1 0" stroke="#4d7ccb" stroke-width="3.9" stroke-linecap="round"/><path d="M7 3l0 2m7-3l0 1m-7 3h0m15 0l0 2m6 5h0m-27 4l-1 1m7-1l0 2m20-2l1 2m-22 4l0 1m16-3l-1 0m15 10l0 1m-23 4l0 2m5-4h0m-18 9l0 1m18 1l1 1m12 2l1 1m-26 0h0m17 0l1 1m39 2l0 1m-64 3h0m7 0l0 2m9-2l-1 0m15 0l0 1m9-2h0m-21 6l-1 1m14-1l1 1m10 2l0 1m-40 4h0m12 6h0m-10 3h0m-1 4l0 1m28 2l-1 0m-26 5l0 1m3-3h0m3 9l1 1m14-5l-1 1m20 2l0 1m-36 2l0 2m6 6h0m6-1h0m40 1l1 1m-46 2h0m5 1l-1 0m22 2l-1 1m-32 5l-1 1m41 0l-1 0" stroke="#5a180c" stroke-width="4.1" stroke-linecap="round"/></svg>
<rect x="2049.1" y="210" width="120" height="119" fill="#9a9a9a" filter="url(#sh)"/><svg x="2047.5" y="208.4" width="120" height="119"><g filter="url(#bl)"><use href="#q00" class="cp"/><use href="#q01" class="cp"/><use href="#q02" class="cp"/><use href="#q03" class="cM"/><use href="#q10" class="cp"/><use href="#q11" class="cM"/><use href="#q12" class="cw"/><use href="#q13" class="cM"/><use href="#q20" class="cl"/><use href="#q21" class="cm"/><use href="#q22" class="cw"/><use href="#q23" class="cM"/><use href="#q30" class="cw"/><use href="#q31" class="cl"/><use href="#q32" class="cp"/><use href="#q33" class="cM"/></g><path d="M83 0l3 2m36 0l0 2m-109 4l2 1m13-3l0 2m11-3l1 2m29 0l-1 0m4-2l1 2m4 1l3 1m42-1l1 2m-65 4l-1 3m5-5l-2 0m11 0l0 3m-68 4l1 4m86-6l-2 1m9 0l1 4m9-3l2 1m3-1l1 1m-83 5l1 3m48-3l1 2m33-2l2 2m3-4l-3 0m-74 5l1 1m11-1l3 3m21-3l1 0m12 0l2 3m14 0l-1 1m-86 4l0 3m9-7l3 1m65 3l0 1m12-3l3 1m0-3l-2 2m-79 5l2 1m76 2l3 2m-94 0l0 3m9-1l2 3m23-5l-4 1m43 2l1 3m6-3l2 3m7-3l-1 1m-105 1l2 2m10 1l-1 1m7-3l1 3m6-2l0 2m6 0l-1 2m8-6l2 2m7 0l-1 3m49-2l1 1m8-2l-1 3m7-2l-1 1m-76 4l1 1m67-3l1 3m5-2l2 3m6-4l3 0m-100 7l2 2m25 0l0 1m66-3l2 2m6-4l1 2m-91 7l4 0m1-3l3 1m10 0l2 1m19-2l1 0m35 1l2 1m5-3l-1 2m-83 7l0 4m24-5l3 0m31-1l-2 1m-58 5l0 1m9-2l0 3m22-4l-1 4m8-1l1 3m4-3l3 2m26-2l3-1m5-1l0 1m-86 8l2 0m59 0l-1 3m38-6l1 1m-62 7l-1 1m17-2l2 3m23-5l0 3m4-1l-1 1m-52 4l-1 2m41 0l0 3m15-5l3 2m12-2l2 3m-52 4l-2 3m18-6l1 1m27 2l1 2m3-4l-1 3m-52 3l0 3m27-3l0 2m-4 10l-1 3m23-4l0 1" stroke="#c6603f" stroke-width="4.0" stroke-linecap="round" opacity="0.88"/><path d="M122 24l1 2m-89 21l0 1m16 3l2 0m9 1l2 1m-33 4l0 1m15-3l1 1m23 1l2 1m40-1l2 0m-7 6l2 1m-8 1l2 2m12 7l0 2m-2 6l2 2m-17 9l1 1m5 8l1 1m-74 4l1 2m88 5l0 3m-74 0l1 1" stroke="#8ea6da" stroke-width="3.9" stroke-linecap="round"/><path d="M99 -1l1 1m17 10l2 0m-99 17l2 1m99 0l1 2m-5 4l0 2m-67 5l0 1m7 4l0 2m-5 8l-1 0m5 0l1 0m22 1l1 0m-79 5l-1 2m30-3l1 2m8 0l-2 1m25-4l2 2m32-2l1 1m-96 7l1 1m51-2l-2 0m64-1l1 2m-115 6l0 1m45-1l0 2m61-5l0 1m-80 5l2 1m88 1l0 1m-115 4l0 3m42-3l1 1m13 0l0 1m6-3l1 2m43-2l2-1m-72 6l1 1m72-1l2 1m6 2l2 1m-1-1l1 0m-59 6l0 2m45-2l1 0m5-4l1 2m-10 6l1 1m-8 5l0 1m8 0l0 2m-52 2l0 1m58-2l0 2m2 5l2 1m-26 2l1 2" stroke="#4d7ccb" stroke-width="3.9" stroke-linecap="round"/><path d="M107 2h0m3-1l-1 1m9 1l-1 0m-28 5l0 1m11-4h0m8 0l1 0m9 3l-2 0m-26 6l1 1m11 2l2 0m13-1l0 1m-23 8h0m14-3l0 1m-61 8h0m64-4l1 1m7 1l1 0m-88 6h0m17-1l1 1m27 0l1 0m-44 3l1 1m61 0l-1 2m17 0l1 0m6-2l1 1m-75 4l1 1m68 0l0 1m3 1l1 1m-41 4h0m8 0h0m5-3l-1 1m10 3l1 2m-14-1l1 0m2 5l1 1m7-4l-1 0m-6 8l1 1m-75 1l0 1m22 0l2 0m18 0h0m32-1l1 1m31 2l-1 1m-82 5l1 1m18-2l1 0m5 0l1 1m-15 5h0m62 0l0 1m-63 5l1 0m39 0l0 1m6-2l0 1m4-4h0m-65 11l1 0m86 8l1 0m-20 5l1 0m7-2l1 1m7 1l0 1m-17 3l1 1m3-1l0 1m-6 4h0m22 1h0" stroke="#5a180c" stroke-width="4.1" stroke-linecap="round"/></svg>
<rect x="1180.9" y="365" width="120" height="119" fill="#9a9a9a" filter="url(#sh)"/><svg x="1179.3" y="363.4" width="120" height="119"><g filter="url(#bl)"><use href="#q00" class="cB"/><use href="#q01" class="cB"/><use href="#q02" class="cm"/><use href="#q03" class="cm"/><use href="#q10" class="cB"/><use href="#q11" class="cB"/><use href="#q12" class="cM"/><use href="#q13" class="cm"/><use href="#q20" class="cB"/><use href="#q21" class="cB"/><use href="#q22" class="cM"/><use href="#q23" class="cw"/><use href="#q30" class="cB"/><use href="#q31" class="cB"/><use href="#q32" class="cw"/><use href="#q33" class="cW"/></g><path d="M6 1l-2 1m62-1l-3-2m11 0l-2 1m4 2l-2 0m44-2l-3-1m-80 9l-2 0m5 1l-2 1m41-4l-2-1m13 4l-3-1m15 0l-2 1m-31 5l-3-2m11-1l2 0m9 2l0 3m2-6l-3 0m20 2l-2-3m9 5l-3 0m10 0l-3 3m-67 0l-3 0m21 2l-2 1m7-4l-2 0m24 3l-1 1m12-4l-3-1m9 3l-3 1m11-3l-2 3m-51 5l-1 0m22-2l3 0m17-1l0 2m8-1l-4 0m-55 6l-1 1m21-2l-1-1m8 3l-3 2m20-1l-2 1m15-3l-2 2m-99 3l-4-1m20 4l-2 2m82-4l-1 0m10 1l3 2m-62 2l-2 2m8 0l-2 3m16-5l-3-2m7 4l-2 1m22 0l-3 0m17-3l-3-1m-51 6l-1 3m8-1l-3 2m23-2l-4-1m26 1l-3-1m10 2l-2 0m-80 6l-2 1m13-3l0 2m16-1l-2 1m11-1l3 0m27-1l-2-1m-34 5l-4 1m-32 8l1 1m5-4l-3 0m28-1l-3-2m52 4l-2 1m-86 3l-2 1m52 0l-4 0m12-2l-3 1m14 3l-3 1m6-4l-2 0m19-1l-3 2m-36 5l-3 0m7-1l-3 0m11 4l-2 0m-42 4l3 3m35-4l-2 3m-14 3l-1 0m7 2l-2-1m18-1l-3 3m-58 4l0 2m51-2l-2 2m-17 14l-2 0m32 0l-2 0m3 14l2 1" stroke="#c6603f" stroke-width="4.0" stroke-linecap="round" opacity="0.88"/><path d="M0 0l-1 0m19 0l-2-2m11 3l-1 0m15 0l-1 1m23 0l-1-1m45-1l-2-1m-82 7l-1-1m23 0l-1 2m67 2l1 1m-111 2l-1 0m9 2l-2-1m13-2l-1-1m32 2l-2 1m-29 3l-1 2m5-2l-2-1m10 5l-3 0m10-4l-1 0m9 1l-2 2m54 0l-1 0m-62 6l1 1m16 0l-1 2m-52 3l-1 1m20-2l-1 0m23-2l-2 2m5-2l-1 1m8 1l-1-1m19 0l-2 0m-64 7l1 0m51-1l-1 0m-43 4l-2 0m22 0l-1 1m5 0l-2-1m-31 5l-2-2m12 2l-1-1m13 1l-2 0m29 3l-1 0m8 0l1 0m16 0l-1 1m5-4l-2 1m-76 4l-2 1m7-1l-1 0m17 4l3 1m16-3l0 2m48-2l-2 1m-47 7l2 2m5-4l-2-1m15 0l-2-1m-4 5l-1 0m18 4l-1 1m-52 1l-2-1m30 3l0 2m-29 4l-1 0m13-3l-1-1m5 5l1 0m8-4l-1 1m6-1l-1 0m-43 7l-2 1m34-2l0 3m9-3l1 1m5 0l-1-1m-48 7l-2 0m31 2l-2 0m27-2l-2 0m25 1l-1-1m-71 5l-2 2m32-1l-2 0m4-2l-2 0m10 1l-1 0m-45 8l2 2m4-3l2 2m59-1l-2 1m-60 2l0 2m12-3l-2 0m25 0l-1 0m8 3l-2-2m-41 6l-3-1m17 2l-2 0m30-1l-2 0m-37 5l0 2m7-2l-2 1m5-1l-2 0m20-1l-3 0m13 2l-1 0m-27 3l0 3m23 0l-2 2" stroke="#8ea6da" stroke-width="3.9" stroke-linecap="round"/><path d="M13 3l-2 1m13-3l-2 0m14 1l-1 2m9-3l-1 3m57-4l-2 0m-94 5l-1-1m5 5l-2 0m8-3l-2 0m19 0l-1 0m22 1l1 2m19-2l-2 0m38 0l-1 0m9-1l-1 0m-103 8l-2 1m12-4l-1 1m6-1l-2 0m10 1l-2 1m11 0l-2 2m16-5l-1 0m-54 8l-1 1m4-1l-3 0m10 2l-2 1m17-5l0 1m30 3l-3 0m8-1l-2 0m-54 5l-2 0m7 0l-2 1m9-4l1 0m6 3l-1 0m15 0l-1 1m5-2l0 1m11-1l-1-1m-41 7l-2 1m12-3l-1 1m9 0l0 3m2-1l-2 0m32 0l-3 0m-54 3l-1 1m14-1l-2 1m6 2l-1 1m14-1l0 1m2-2l-2 0m14-2l-2 0m38 3l-1 0m16-3l-2 0m-100 6l2 1m4-1l-2-1m16 2l-2 0m6-2l1 2m14 0l0 1m10 1l0 1m1-5l-2-1m21 5l-2-2m24 1l-1 0m-81 4l-2 0m10-1l-1 0m14 2l-1 0m6 1l-2 0m14-1l-3-1m56 0l-1 0m-68 7l-2 0m23-2l-2 1m18 0l3 0m16-1l-2-1m27 0l-2 1m-106 6l-1 0m4-1l-2 1m10-1l-1 0m4 2l-1 0m9-1l-1-1m4 2l-1 0m8 1l-1 0m18-1l-3 1m26-3l-1-2m16 4l-2 1m-80 6l-1 0m7-3l-1 0m3 1l-2 2m11 0l1 2m15-4l-1 1m5-2l-2 0m7 1l-3 0m-45 4l-1 0m5 4l-1 2m8-7l-2-1m16 3l-2 1m17 0l-2 1m16-1l-1 1m8 0l-3 0m9 0l-1 0m53 0l-1 1m-111 3l-1 1m5-1l2 1m8-1l2 1m29-2l-2 2m11-3l-2 1m7 2l-2-1m39 0l-1 0m-95 4l-2 1m9 1l-2 0m10 1l-1 0m4-3l1 1m33 2l-3 0m-52 5l-3 0m9 1l0 1m6-5l-1 0m8 3l-2 0m13 1l1 1m4-5l-2 0m6 4l-2 0m10-1l1 2m-53 0l-2-1m12 5l-2-1m9-2l-1 0m36 1l-2 1m7 0l-2 1m4-3l-1-1m-48 9l-1 0m7 0l-2 2m13-2l-2 0m7-2l1 1m5 0l-1 1m8-3l-3 0m18 3l-2 1m-57 5l-2 0m11 0l-2 0m16-3l-2 0m6 3l-1-1m9-1l-3 0m25 0l-2 0m-50 8l-1 1m7-2l-1 0m9 0l0 1m10-2l0 1m5-1l-1 0m7 0l-1 0m10-2l-1 0m-48 8l-2 0m21-1l-1 2m8-4l-1 0m14 3l-2 1m11-2l-1 1m-49 6l1 1m11-1l-1 0m11-1l-2 0m9 1l-1 1m7 0l-1 0m15-2l-3 0" stroke="#4d7ccb" stroke-width="3.9" stroke-linecap="round"/><path d="M85 3l-1 0m11 1l-1 0m20-3l-1 0m-20 7l-1 1m-7 8l-1 0m7 1l-1 0m-89 7h0m29 0l1 0m30 1l-2-1m16-3l1 1m1 2h0m-5 3l-1 0m50 1h0m-74 5l0 1m14-1h0m7-1l-1 0m6-1h0m5 4h0m-6 6l-1-1m12 3l-1 1m11-1l0 1m-36 5h0m23 3l-1-1m16 0h0m21 1l0-1m-58 5l1 0m18 1l-1 1m8-2l1 0m17 0h0m3 0h0m-36 4h0m7 2h0m8-3h0m6 4l-1 1m-37 1h0m32 1l0 1m-82 4h0m49 0h0m51-1h0m-89 6h0m45-1l-1 1m9 3h0m6 0l-1 0m19-3h0m-36 36h0m9-3l-1 0m-17 5l1 1" stroke="#5a180c" stroke-width="4.1" stroke-linecap="round"/></svg>
<rect x="1325.6" y="365" width="120" height="119" fill="#9a9a9a" filter="url(#sh)"/><svg x="1324" y="363.4" width="120" height="119"><g filter="url(#bl)"><use href="#q00" class="cp"/><use href="#q01" class="cm"/><use href="#q02" class="cM"/><use href="#q03" class="cM"/><use href="#q10" class="cp"/><use href="#q11" class="cw"/><use href="#q12" class="cM"/><use href="#q13" class="cM"/><use href="#q20" class="cw"/><use href="#q21" class="cb"/><use href="#q22" class="cR"/><use href="#q23" class="cM"/><use href="#q30" class="cw"/><use href="#q31" class="cb"/><use href="#q32" class="cb"/><use href="#q33" class="cR"/></g><path d="M7 1l-2 0m40 2l3 1m7-4l1 2m17 1l0 2m10-2l-1 3m8-4l1 4m-73 0l0 1m35 0l1 2m28-1l-3 1m10 0l-1 3m8-6l1 3m6-3l2 2m13-3l4 1m-1 1l-1 3m-93 3l3 1m19 0l0 1m7-2l1 1m11-3l0 2m6-2l1 0m3 3l0 1m12-1l1 1m2-3l1 3m6-1l3 3m8-6l3 1m-78 7l0 3m5-3l1 2m11-1l1 2m20-6l-1 1m6 1l-1 2m24-2l0 1m7 0l1 3m-85 2l2 2m27-2l4 1m11-2l2 3m9-4l0 1m14 0l0 2m19-1l2 3m1-3l1 2m-100 4l2 3m14-6l0 1m36 2l1 2m26-4l1 1m3 0l0 2m13-3l1 2m-92 6l2 2m9-2l-1 2m7-5l-3 1m21 0l0 3m7-4l0 2m19-1l0 2m8-1l3 0m1 2l1 4m22-7l-2 2m-81 5l-1 2m13-4l-1 3m34-2l4 1m4-2l0 2m9-1l-2 3m8-4l1 1m1 1l3 1m8-1l1 2m-64 3l1 1m4-2l2 1m11-1l0 3m19-3l0 1m12-3l1 2m3 1l0 1m12-2l-3 1m7 0l1 2m-66 2l1 2m30 0l0 4m9-3l0 4m7-7l-2 1m16 0l2 2m-48 4l3 2m24-1l0 3m6-6l1 3m-42 3l0 1m1 1l2 1m40 0l2 3m-54 1l-2 2m9-4l-1 1m13-2l2 2m9 1l0 2m5-3l2 0m7 1l1 1m8-3l0 2m4-2l2 3m-73 2l2 2m9 0l0 4m37-2l-3 1m10-3l0 4m-68 2l-2 1m7 0l1 2m20-2l-1 3m14-2l2 3m8-7l1 2m4 0l2 2m6-4l1 2m4-3l1 2m3-1l2 3m13 0l3 3m-67 1l-1 2m23-3l1 2m10-1l0 1m12 1l0 2m6-6l-1 2m9 1l-2 0m-52 5l1 4m46-4l2 3m2-2l1 2m10-2l-4 0m8 0l0 2m-63 1l1 2m29 0l0 3m6-5l0 2m17 1l-4 1m14-3l-2 2m2 4l1 1m-27 6l-1 2m24-3l-2 0m5 0l2 3m-111 2l-3 1m81-2l1 0m5 2l3 1m19-1l-1 3m-112 3l-1 1m104-1l0 3" stroke="#c6603f" stroke-width="4.0" stroke-linecap="round" opacity="0.88"/><path d="M41 0l1 2m79 0l2 1m-81 4l2 1m22 12l-1 1m-17 3l0 1m36 1l-1 2m22-5l0 1m2 4l0 1m8-1l0 2m-35 6l1 0m-2 13l0 2m31-1l-2 1m3 7l0 2m6 9l1 3m-57 2l-2 1m18-1l1 1m40-1l1 1m-75 11l-2 1m76-5l0 1m-104 6l0 2m33 0l1 2m4-3l0 1m-14 2l-1 2m-10 13l0 1m24-2l0 2m-16 3l1 1m32 2l1 2m14 3l1 1" stroke="#8ea6da" stroke-width="3.9" stroke-linecap="round"/><path d="M51 1l-1 1m29-2l0 1m38 2l0 1m-71 4l0 2m33-5l-2 0m28 4l0 1m8-5l1 1m-68 5l1 1m61-1l0 1m-52 6l1 1m6 0l0 1m24-2l-1 1m7-2l1 2m27 0l1 1m-88 4l0 2m15 1l0 2m26 2l1 1m38 4l1 2m-5 3l-2 2m-95 5l-1 2m72-6l-2 2m-30 12l1 1m-36 3l1 2m20-2l0 2m33-3l0 1m9 2l1 1m38-3l1 2m-76 1l1 2m6 2l-1 1m26-1l1 1m-53 2l0 1m33 1l-1 2m13-3l0 1m17-3l-1 2m14 1l-3 0m11 0l1 2m-60 3l2 1m66-3l2 1m-78 5l0 2m51-1l-1 1m-74 3l1 2m8 0l0 1m44-2l2 1m-1 4l1 1m2-1l0 2m12 1l0 1m16-4l0 1m5-1l-1 2m10-1l1 3m-71 0l1 1m9 3l0 1m13-1l0 3m10-4l-1 1m9-1l1 2m15 0l2 1m-60 2l2 2m10-2l1 1m6 1l1 1m8-5l2 1m-33 6l-2 1m24-2l-2 0m5 1l2 1m10 0l2 1m5-1l-1 3m-54 2l1 1m8 0l1 2m4-5l-2 1m9 0l0 2m10 0l2 2" stroke="#4d7ccb" stroke-width="3.9" stroke-linecap="round"/><path d="M29 1l0 1m6 1h0m34 0l0 1m38-1l1 1m2-4l0 2m-51 6l0 1m7-1l0 1m8-2l1 2m-12 2l0 1m22 1l0 1m34-1h0m-89 4l1 0m54 0h0m32 2l0 1m-54 2h0m10 1l1 0m17 1h0m29 2h0m-64 1l1 0m6 1l0 1m13 2l-1 1m9-1l1 0m4 0l-1 1m33-4l0 1m-52 5h0m33 1l0 1m2 0h0m-36 5l1 0m5-2h0m11 1l0 1m36 0l0 2m-120 5l0 1m67-4h0m13-1h0m32 1h0m-60 5l1 1m14 2h0m5-3l-1 1m12 0h0m17-2l1 0m20 3h0m-59 5l0 1m4-3l0 1m13 2l1 1m1 0l-1 0m8-1l1 1m5-4l0 1m20 1h0m6-2h0m-115 7h0m80 1h0m4-2l1 1m9 0l1 1m11 0l1 0m-19 3l1 0m-21 6l1 1m-26 7l0 1m12-3l-1 1m-6 7h0m13 0l1 0m12-4l0 1m-2 9l1 0m11-4l0 1m21 0l2 1m-96 7l1 0m62-1l0 1m27 5l1 1m4-2h0m3 1h0m-26 5l2 0m8-1l1 1m7-3l-1 1m5 2l1 1m-12 4l0 1m8-3h0m5 1h0m-33 4h0m17 0h0m5 3h0m11 0l0 1" stroke="#5a180c" stroke-width="4.1" stroke-linecap="round"/></svg>
<rect x="1470.3" y="365" width="120" height="119" fill="#9a9a9a" filter="url(#sh)"/><svg x="1468.7" y="363.4" width="120" height="119"><g filter="url(#bl)"><use href="#q00" class="cB"/><use href="#q01" class="cB"/><use href="#q02" class="cm"/><use href="#q03" class="cM"/><use href="#q10" class="cm"/><use href="#q11" class="cM"/><use href="#q12" class="cM"/><use href="#q13" class="cw"/><use href="#q20" class="cM"/><use href="#q21" class="cm"/><use href="#q22" class="cm"/><use href="#q23" class="cM"/><use href="#q30" class="cR"/><use href="#q31" class="cM"/><use href="#q32" class="cM"/><use href="#q33" class="cM"/></g><path d="M11 2l-1 1m62 0l-2 0m19-2l-1 1m8-2l-2 0m14 2l-1 0m-34 5l-3 2m21-3l-3 1m12-1l-3 0m11 3l-3 1m-87 3l0 4m56-3l-2 3m12-6l0 1m9 2l-2 3m17-5l-1 1m13-1l-3 1m-49 4l1 0m8 0l-3 2m10 1l-1 1m28-5l-2 1m-81 8l-2 2m31-3l-2 1m9-4l1 2m2 0l3 1m20-2l1 0m14 1l-1 0m6 0l2 1m-80 7l0 2m29-5l-2 0m9 1l-3 3m-43 1l-2 3m14 0l-3 2m46-1l-3 2m14-6l-3 1m-86 6l-2 0m36-1l-3 2m16 0l-3 1m23-3l-3-1m16 1l2 1m1 2l-2 0m15-1l-4-1m-89 4l-4 0m25 1l-3 1m22 1l-2 2m16-4l-4 1m-34 3l-1 0m4 0l0 1m21 3l-2 0m7-2l-1 0m9-1l0 2m6-3l-2-1m8 4l-1 2m20-3l-3 1m10-3l-2 0m-83 8l-3 1m24-3l3 1m6 1l-1 3m21-6l-3 0m24 1l-2 1m16 1l-3-1m-63 8l-1 1m30-1l-4 1m25-1l-2 0m-44 2l0 4m8-3l-4 0m21 1l-3-1m10-1l0 1m3 3l-2 0m9-3l-3 1m8 1l-2 2m13-2l-3 1m7-3l-1 0m8 1l-1 1m-91 4l-3 2m9-2l-2 1m18-3l3 0m7 2l-2 0m52 1l-2 1m23 0l-2 2m-99 0l-1 2m17 0l1 1m1-3l-2 2m10 0l-1 0m9 1l-3-1m58-2l-3-1m22 4l-2 0m-111 4l-3 3m39-2l-1 1m12-4l0 1m3 3l-1 0m7-1l-1 1m15-4l-1 0m40 3l-3 1m7-2l1 3m1-2l-1 2m-110 3l-1 0m19 1l-2 0m20 0l-3-2m8 3l-1 2m21-2l-3 1m23-3l-1 1m14-1l-2 1m18-3l-3 1m-108 5l3 2m13-2l-3 0m7-1l-3 3m14-1l-4 1m12 0l-1 4m6-5l-2 0m8 2l-1 0m6-4l-1 2m5-1l1 3m18-1l-3 3m7-4l1 1m10 1l-2 3m6-3l-2 3m12-6l-1 0m-96 9l0 2m28-3l-1 1m15-1l-3-1m17 0l1 1m41 0l2 0m-115 6l-1 1m4-4l1 1m17 2l-3 0m7 0l-3-1m23-2l-3 1m29-1l-2 1m35-1l-2-1m11 2l-2 2m-113 2l-2 2m46-1l-4 0m8 1l-2 2m14 0l-1 1m17-5l-3 1m11 1l-3 2m11-4l-4-1m10 1l-4 1m11 2l-1 0m7-2l-4 0m10 0l3 1m-110 4l-1 2m21-1l-2 2m12-3l-1 1m30 1l-1 2m3-1l0 3m6-6l-2-1m20 3l2 1m13-2l1 2m-98 2l-2 1m83-2l-2 1" stroke="#c6603f" stroke-width="4.0" stroke-linecap="round" opacity="0.88"/><path d="M18 2l-2 1m14-2l-1 2m15-1l2 1m-46 4l-1 2m78-2l-2 1m-62 4l-1 1m20-2l-1 2m11-1l2 0m8-2l1 0m3 2l-2 1m35-2l-2 1m31-1l0 2m-68 7l-2 1m9-5l-1 1m50-1l-1 1m-91 5l-2 1m7-1l-2 1m36-1l2 1m29 1l-1 0m-76 6l-2 1m25-1l-2 0m10-3l-1 1m13-1l-1 0m-43 7l-3 1m15-2l-1 0m14 2l0 2m55-3l-1 1m-56 4l2 1m30 4l-3 0m19 2l-2 0m5 6l-2 0m10-1l-1 1m-82 10l-1 1m20-1l-1 0m68 0l-1 2m-66 3l-2 0m41 6l-1 0m34 2l-2 0m8 0l-2 0m-98 5l-1 1m62-4l-1 1m-51 4l-1 1m84 3l-1 1m-79 1l3 1m8 12l-1 1m17-2l-2-2m45 4l1 0" stroke="#8ea6da" stroke-width="3.9" stroke-linecap="round"/><path d="M1 4l-1 0m8-3l-2 0m17-1l-1 0m13 0l-1 0m4 3l-3 0m26-3l3 0m39 1l-1 1m16 1l-2-1m-110 3l-1 0m9 3l-2 1m5 0l-1 1m7-4l-2 1m10 1l-1 0m3-3l1 1m5 2l-1 2m7-3l-1 1m7-1l1 1m3-3l2 1m39 0l-2 1m-91 6l-2 1m6-3l-2 1m19-1l-1 0m4 3l1 0m19-1l-3 1m16-2l-2 1m11 0l-2-1m34 0l1 1m9 1l0 2m-105 2l-2 2m13 0l-2 2m7-3l-1 1m15 0l-1 1m5-1l-2 0m7 0l-3 1m-40 1l0 1m5 2l-1 1m18-1l-1 1m11-4l1 1m4-2l-2 1m6 0l-1 0m38 0l-1 2m16-1l-2 0m8-1l-3 1m-85 4l-3 0m36 3l-2 0m31-3l0 1m9 3l-3 1m-80 2l-1 1m47-2l-2 1m22 3l-2 1m-51 0l-1 1m5 2l0 2m44-5l-1 1m13 3l-2 1m35-2l-2 1m-88 2l-1 1m29 1l1 2m47-3l-2 1m-83 4l-1 0m5-1l-2 1m109 2l-1 1m-118 5l2 2m8-6l-1 1m10 2l-2 1m6-2l-2 0m43-1l-1 2m57-1l-1 1m-118 6l-1 0m36-2l-2 1m7 2l-2 0m13-4l0 1m17 2l-1 2m4-1l0 1m-69 1l-1 1m5-1l-2 1m79 1l-1 2m25-2l-3 0m-38 6l2 2m49-5l-1 1m-51 4l-2 1m13 0l-1 0m-58 9l-2 0m6-3l-1 0m27-1l-1 1m52 2l-1 0m-79 2l-1 2m90 0l-2 0m-71 4l-2 1m40-1l-2 1m6 2l-1 1m38-4l-2 2m-78 6l-2 1m76-1l-2 0m-70 3l-1 1m7 1l-1 2m15-4l-1 0m40 2l-2 0m-56 6l-2 0m31-2l-2 1m7 2l-1 1m-8 5l0 1m23-3l1 0m17-1l-1 1" stroke="#4d7ccb" stroke-width="3.9" stroke-linecap="round"/><path d="M83 2h0m28 0h0m10 1l-1 0m-36 3h0m34-1l0 1m3 0l-1 1m-109 11h0m18-2h0m46 8h0m-72 4l0 1m54 0h0m23-1h0m-41 7l1 2m18-2l-1-1m7 0l-1 0m12 0l-1 2m20 0l-1 1m28-2l-1 1m-114 6l-1 1m20-3l0 1m28-2l-1 0m3 2l-1 1m35 0l-1 0m-59 2l-2 0m9 0h0m16 1l0 1m16 0l0 1m-67 4h0m32 1l-1 1m1 3l-1 1m12 0h0m24 1l-1 0m-56 3l-1 1m9 2l-1 0m28-2l-1 0m-33 4l-1 0m8 3l-1 0m95-3l-2 1m6 3h0m-117 1l-1 0m17 2h0m9 1l-1 0m10 0h0m10 1l0 2m36-5l-1 0m7 2l-1 1m20 0h0m16-2h0m-39 4l-1 0m14 2h0m9-3h0m8 5l-1 0m10-2h0m-118 6h0m26 0l0 1m6-1h0m70 1l-2 0m-100 3h0m21 0l-1 1m10-2l-2 1m8 2h0m18 1l1 1m3-3h0m20-1l-1 1m5 2l0 1m-84 2l1 0m9 0h0m6-2l0 1m80 0l-1 1m-95 3h0m7 5h0m6-2l-1 1m14-2l-1 0m30 1h0m12-3l0 1m11 1l-1 0m9 1l-1 0m10 0l-2 0m17-1l0 2m-100 6l0 1m39-4l1 1m12-2l-1 0m4 2l-1 1m13 0h0m4 0l-1 0m9-1l-1 1m11-2l1 0m12 2h0m-104 5l0 2m2-1l-1 1m6-1l-1 0m7 0l-1 1m6-1l-1 0m15-2l-1 1m15 0l-1 0m36 1l-2 0m-88 2l-1 0m9 0l0 1m14 3l-1 0m15-4h0m8 0l-1 0m13 2h0m35-2l2 0m13 2l0 1m-71 3l0 2" stroke="#5a180c" stroke-width="4.1" stroke-linecap="round"/></svg>
<rect x="1615" y="365" width="120" height="119" fill="#9a9a9a" filter="url(#sh)"/><svg x="1613.4" y="363.4" width="120" height="119"><g filter="url(#bl)"><use href="#q00" class="cp"/><use href="#q01" class="cw"/><use href="#q02" class="cw"/><use href="#q03" class="cp"/><use href="#q10" class="cp"/><use href="#q11" class="cb"/><use href="#q12" class="cb"/><use href="#q13" class="cM"/><use href="#q20" class="cm"/><use href="#q21" class="cb"/><use href="#q22" class="cw"/><use href="#q23" class="cM"/><use href="#q30" class="cR"/><use href="#q31" class="cM"/><use href="#q32" class="cp"/><use href="#q33" class="cw"/></g><path d="M36 13l2 3m3-1l1 1m48-5l0 2m25-1l3 1m-5 5l2 1m-116 3l3 1m20-1l2 1m50 2l3 2m12-5l2 3m-45 3l0 2m28-3l1 1m27-1l0 2m5 1l1 2m-14 1l2 1m16 0l2 3m3-3l1 3m3-1l1 1m-108 1l1 1m65 1l1 1m24-2l1 3m6-2l-1 1m7-3l-2 1m-39 5l-2 2m29 1l1 1m-102 4l-1 2m20-1l2 3m27-3l1 1m2-4l0 3m22-4l-3 2m27 0l2 3m11-4l-1 0m-109 7l0 1m103 0l-1 1m5-1l2 1m-90 1l2 2m20-2l1 2m59-1l2 2m4-2l2 1m5 0l1 1m-112 5l1 2m17-1l1 1m22-4l1 1m59-1l1 1m5-2l2 2m3 2l2 2m-103 1l1 1m15 2l-1 3m-20 3l3 1m10-4l0 3m53-3l-2 0m-65 8l3 3m16-4l3 0m36-2l1 1m4 2l3 3m-52 0l2 2m23-2l0 1m-50 6l-2 1m21-1l2 2m15-2l2 2m20-4l3 2m60-3l2 0m-121 8l1 3m9-2l-3 1m39-3l0 3m10-1l1 2m-41 4l-1 2m29-2l1 2m-37 1l0 3m13-3l1 1m5-1l-1 2m5-1l2 1m17-1l-1 2m-51 3l1 2m18-4l1 3m9 1l0 2m5-6l0 1m11 2l0 4m24-6l1 1m46 1l-1 3" stroke="#c6603f" stroke-width="4.0" stroke-linecap="round" opacity="0.88"/><path d="M118 0l2 2m-102 4l0 1m5 34l1 2m22-2l1 0m10-3l2 1m-14 11l2 2m-2 4l-1 1m44-1l-1 1m-49 6l1 1m-21 5l1 1m33-4l1 1m-53 6l0 1m40 0l1 1m54-3l-1 1m-65 7l1 2m-17 9l2 2m32-4l2 2m-21 8l1 1" stroke="#8ea6da" stroke-width="3.9" stroke-linecap="round"/><path d="M78 20l2 2m5-2l-1 2m34 3l-1 2m-68 4l2 0m37-2l2 2m-32 5l-2 0m17-2l2 1m16 0l1 1m-59 5l2 2m27-3l1 3m12-4l-2 1m-32 4l0 1m21-1l-1 1m7 1l-2 1m19-2l2 2m-23 5l1 1m9-2l-1 1m9 1l2 2m35-4l1 1m-107 5l0 1m87-3l0 2m21-3l1 2m-109 4l-1 1m17-1l-1 1m21 3l1 0m8-2l-1 2m1 4l1 1m29-1l1 2m13-2l1 2m19-3l2 1m-102 6l1 1m33-1l-1 0m7-1l0 1m28-3l1 0m22 1l1 2m5-2l1 2m-71 5l-1 2m53-3l1 1m10-1l0 1m-106 6l-2 1m38-4l1 2m58 2l1 1m20-3l1 3m-118 3l1 2m101-2l0 1m10 2l0 3m-84 7l-1 2m9-3l1 1m64-5l1 2m9 0l-1 2m6-2l0 2m-79 3l1 1m62 10l0 1m-59 4l1 1" stroke="#4d7ccb" stroke-width="3.9" stroke-linecap="round"/><path d="M41 0l1 1m-31 13h0m103 15h0m4 1h0m-108 3l1 1m25 0l0 1m65-1h0m0 5l0 1m-10 6l-1 1m9-1l0 1m13 0l0 1m5-4l0 1m-22 8l1 0m-73 4l0 2m74-1l0 1m18-2h0m-54 4h0m29 3l1 1m4-5l1 1m3 3h0m-98 4l1 1m78 5h0m21 0h0m5-1l1 0m-2 5h0m11 0h0m-22 7l1 1m13-1l1 0m-107 4l1 0m24 1l0 1m6 0l1 1m6-3h0m17 2l0 1m56-4l-1 1m-106 8l0 1m21-1l1 1m12-5l0 1m49 1l0 2m18-4l1 1m-85 5l0 1m26 2l1 0m60-2l2 0m-106 7l0 1m4-1l0 1m15-1h0m4 1h0m7-1l1 1m25-3h0m-59 5h0m4 3l0 1m32-1l1 0m16 0l1 0m11-4l0 2m-61 7l0 1m4-2l1 1m13 1h0m15-2l1 1m8 0h0m-48 2h0m27 1h0" stroke="#5a180c" stroke-width="4.1" stroke-linecap="round"/></svg>
<rect x="1759.7" y="365" width="120" height="119" fill="#9a9a9a" filter="url(#sh)"/><svg x="1758.1" y="363.4" width="120" height="119"><g filter="url(#bl)"><use href="#q00" class="cR"/><use href="#q01" class="cm"/><use href="#q02" class="cb"/><use href="#q03" class="cb"/><use href="#q10" class="cM"/><use href="#q11" class="cb"/><use href="#q12" class="cl"/><use href="#q13" class="cw"/><use href="#q20" class="cb"/><use href="#q21" class="cw"/><use href="#q22" class="cW"/><use href="#q23" class="cW"/><use href="#q30" class="cb"/><use href="#q31" class="cw"/><use href="#q32" class="cW"/><use href="#q33" class="cW"/></g><path d="M6 0l0 3m7-3l-1 2m8 1l1 3m4-4l0 2m4-2l0 1m13-3l-2 2m17 1l0 2m-56 4l-1 4m20-5l1 4m12-4l2 0m16-2l0 4m10-3l-1 2m-60 5l1 1m7-1l0 2m23-3l-1 2m6-4l1 2m23 0l1 3m40-4l2 0m-101 4l-2 2m8-1l-1 3m9 0l-3 3m15-3l2 3m6-5l1 2m2 0l1 2m7-4l-2 2m10-3l2 1m-52 7l1 4m11-7l0 1m92-1l-1 1m-107 7l0 2m8-5l1 2m3 1l-1 2m9-4l1 4m7-2l1 4m28-6l-1 2m49 1l-2 1m-95 2l1 3m0-1l1 2m12-4l1 2m9 0l0 4m-22 1l0 1m19-2l1 0m21-1l-2 1m-32 5l0 2m-17 3l1 3m16-4l1-1m14 5l1 2m-16 3l2 1m5-2l0 3m10-3l1 2m-36 2l0 3m45 24l0 4m-17 6l2 3m-14 10l0 4" stroke="#c6603f" stroke-width="4.0" stroke-linecap="round" opacity="0.88"/><path d="M84 14l2 2m10-3l1 2m-17 1l1 2m31 0l1 1m-83 7l0 1m60 0l0 2m-13 7l0 2m7-6l0 1m-68 9l0 3m9-5l0 2m20-2l1 2m15-3l0 2m17-3l1 1m-18 6l-1 1m-33 5l1 0m-20 10l0 2m3 17l1 1m6 8l0 3m-17 2l-1 1m11-2l0 1m-12 5l0 2m40 5l0 1" stroke="#8ea6da" stroke-width="3.9" stroke-linecap="round"/><path d="M51 2l2 0m19 2l0 2m30-5l0 2m2-2l0 1m-49 3l2 2m12 2l-1 2m8-3l0 2m19-5l-1 0m23 3l2 2m-53 1l0 1m10 2l-1 1m-9 1l2 0m22 4l-1 1m16-5l0 1m-70 8l1 2m33-2l-1 2m13-3l1 2m14 0l0 1m-34 7l1 1m-58 6l-1 3m32-5l2 1m3 2l0 2m32-2l1 1m10-3l1 3m19-3l-1 0m-76 4l0 3m9 0l2 1m1-5l0 2m-28 7l1 1m26-1l0 2m33-5l0 2m-70 17l0 3m18-2l0 1m33-2l-1 2m-49 4l1 1m10-1l0 2m28-5l1 2m-19 5l0 2m7-1l2 2m9-4l1 1m-42 7l0 2m11-4l0 1m14 0l1 1m8-1l1 1m-36 3l0 2m12-2l-1 2m19-1l1 1m5 5l1 2m-28 3l1 1m8 2l1 2m-19 3l0 2m12-3l1 1m8-4l0 1m4 2l1 1m6-3l0 2m-24 3l0 1m8 2l1 1m-9 3l0 1m31 1l2 2" stroke="#4d7ccb" stroke-width="3.9" stroke-linecap="round"/><path d="M3 2l0 2m30-2l-1 0m13-1l0 2m-39 2l0 2m6-2h0m11 2h0m15 0l1 1m8-3h0m-33 8l0 1m2-3l0 1m23 0l0 1m11 1h0m-25 5h0m27 0l1 1m-52 3l0 2m11-3l0 1m12-1l-2 0m25 2h0m3-2l1 0m-32 9l0 1m81-4l0 1m-96 7l-1 0m14-1l0 1m11-1l0 1m24-1h0m-51 5l-1 0m4 4l-1 1m-2 9l0 2m6 0l0 1m7 1l1 1m46 7l-1 0m-57 47l0 1m9 2l0 1" stroke="#5a180c" stroke-width="4.1" stroke-linecap="round"/></svg>
<rect x="1904.4" y="365" width="120" height="119" fill="#9a9a9a" filter="url(#sh)"/><svg x="1902.8" y="363.4" width="120" height="119"><g filter="url(#bl)"><use href="#q00" class="cM"/><use href="#q01" class="cB"/><use href="#q02" class="cB"/><use href="#q03" class="cp"/><use href="#q10" class="cM"/><use href="#q11" class="cB"/><use href="#q12" class="cp"/><use href="#q13" class="cW"/><use href="#q20" class="cW"/><use href="#q21" class="cW"/><use href="#q22" class="cW"/><use href="#q23" class="cW"/><use href="#q30" class="cW"/><use href="#q31" class="cW"/><use href="#q32" class="cW"/><use href="#q33" class="cW"/></g><path d="M7 0l-2 1m14 2l-3 0m13 0l-2 2m50 3l0 4m-77-1l-1 2m6-2l-2 2m34 0l4 1m27 0l-3 0m-57 4l-2 2m28-1l-1 0m48-2l0 2m-76 3l-2 1m11 2l-3 2m6-5l-4-1m21 0l-1 0m68 3l-3 2m-95 1l1 1m6 2l-2 3m16-4l-1 1m-7 6l-3 2m18-4l2 1m3 0l-1 3m3-3l-2 3m-35 2l1 1m3 0l-1 4m36-4l-3 2m81-5l-1 1m-111 7l-1 1m9-2l-3 1m12 0l-3 1m-20 3l0 2m7 1l0 2m10-6l1 1m16 1l-2 1m47-2l-1 2m-44 6l-2 3m45-3l0 2m5 3l1 0" stroke="#c6603f" stroke-width="4.0" stroke-linecap="round" opacity="0.88"/><path d="M0 1l-1 0m39-1l-1 2m38-1l-2 1m9-1l-2 1m19-1l0 3m-43 2l-1 1m6 0l-2 2m9-2l0 1m-38 5l-1 2m24-2l0 2m27-1l-1 1m-62 4l-1 0m9 0l-1 2m7-3l-1 1m15 1l0 1m12-3l0 2m7 0l-1 1m10-4l0 1m-48 7l-1 1m27 2l2 1m15-1l0 1m-16 5l-2 1m8 6l0 1m-13 8l-1 1m-25 5l0 1m9 0l1 0m11 1l0 2" stroke="#8ea6da" stroke-width="3.9" stroke-linecap="round"/><path d="M36 2l-2 1m10-1l-1 1m8 0l-1 2m6-5l-2 1m10 0l2 1m1-1l-1 1m11-2l1 2m-69 5l-2 2m22-2l-1 1m6 0l0 2m6-1l-1 1m4-3l-1 1m9 0l-1 0m24-2l-1 1m-50 6l-1 0m35-1l-1 1m6-1l1 0m9-1l-1 1m15 1l-3 0m9 1l-2 2m-90 4l-1 2m13-5l0 1m41-1l-1 3m31-1l-1 0m9 1l1 1m-61 2l1 3m7-3l-1 1m8-3l-1 1m13 0l-1 1m5 2l0 1m13-3l1 1m1 0l0 2m-61 4l-2 1m22-3l1 2m2-1l-2 1m6 1l0 1m19-1l-2 1m15-2l-2 0m4-3l-1 1m20 0l-1 2m-92 3l-1 1m5 1l-1 3m6-3l-2 1m14-1l0 3m19-5l-1 2m15 0l0 1m11-1l-1 1m17 0l-2 2m-69 2l0 2m6 0l-1 1m28-5l2 1m14 0l-1 0m-59 6l-1 2m27-1l-2 1m15-4l-1 1m11 3l-1 1m6-2l-1 2m-26 2l-2 2m31 1l1 0m-46 4l-1 1m33-2l2 1m15 0l-2 0m-35 6l0 2m15-5l-2 1" stroke="#4d7ccb" stroke-width="3.9" stroke-linecap="round"/><path d="M13 2l-1 1m9-1h0m-18 3l0 1m11-1l-2 1m13 1l-1 0m-12 6l-1 1m7-1l0 1m20-2l-1 1m6-1h0m-5 5l0 1m-37 3l0 1m52 3l0 1m-45 5h0m56 5h0m-39 4l-1 1m5 0l0 1m5-4h0m-17 7l0 1m-15 12l0 1m6-4h0m17 2l0 1" stroke="#5a180c" stroke-width="4.1" stroke-linecap="round"/></svg>
<rect x="2049.1" y="365" width="120" height="119" fill="#9a9a9a" filter="url(#sh)"/><svg x="2047.5" y="363.4" width="120" height="119"><g filter="url(#bl)"><use href="#q00" class="cw"/><use href="#q01" class="cb"/><use href="#q02" class="cb"/><use href="#q03" class="cb"/><use href="#q10" class="cw"/><use href="#q11" class="cB"/><use href="#q12" class="cB"/><use href="#q13" class="cb"/><use href="#q20" class="cb"/><use href="#q21" class="cR"/><use href="#q22" class="cB"/><use href="#q23" class="cb"/><use href="#q30" class="cb"/><use href="#q31" class="cB"/><use href="#q32" class="cB"/><use href="#q33" class="cw"/></g><path d="M46 6l0 2m32 1l-1 1m-50 10l-1 2m25-5l-2 3m47 0l2 3m21-6l-2 4m-82 4l-2 2m74 1l-1 3m-17 8l-3 3m2 2l0 3m-41 2l0 2m3 2l3 0m-35 2l-1 2m3 6l-2 2m13-2l0 2m13 5l-1 1m11-3l-3 2m-11 2l3 2m46-1l0 4m-59 2l3 1m9-2l-2 1m29-1l-2 1m13-1l-2 2m-54 4l0 2m12-2l3 2m1 5l0 3m12-4l-2 2m21 0l-3 3m48-4l0 2m-64 3l-2 4m-17 0l-3 1m42-1l0 3m35-2l-1 1m6 1l-3-1m-107 8l-3 1m35-1l-1 2m24-1l-2 3" stroke="#c6603f" stroke-width="4.0" stroke-linecap="round" opacity="0.88"/><path d="M35 2l-2 0m7-1l-1 1m78-1l0 2m-68 3l-1 1m-24 7l-1 1m56-1l-1 1m16-2l-1 1m28-3l2 0m-52 14l-1 2m21-1l-1 1m-18 2l-1 1m-6 6l-2 1m-36 4l-2 1m12-3l-2 2m12-1l-2 1m10-1l-1 0m63 0l-2 1m-85 2l0 1m18 4l-1 1m6-3l-2 0m23 0l0 1m4-1l-1 0m24 1l-1 1m4-1l0 3m6-5l-1 0m-61 13l-1 2m46-4l-1 1m18-1l-1 1m-66 5l0 1m20-1l-1 2m7-4l0 2m7 0l2 2m12 0l0 3m-15 0l-1 1m34-1l1 2m-64 3l-3-1m20 2l-1 1m17-2l-1 2m22-3l2 0m10 2l-1 2m-100 5l-2 0m43 0l2 1m2-2l-1 2m-48 1l-1 0m56 3l-1 1m58 0l-2 1m-47 1l-2 1m18 0l-2 0m8-2l-2 2m-86 8l-1 1m56-4l1 2m26-2l0 1m4 0l-1 0m-59 6l-2 2m12-3l-2 0m13-1l2 1m-51 8l-2 1m65-4l-1 1m22 2l0 2m-69 0l-1 2m9 0l-1 1m8-1l-1 0m54 1l-1 0m5-3l-2 1m-85 6l0 3m39-1l-2 1m8-1l0 2m9-2l-2 2m8-5l-1 0m14 2l-2 1m3 2l-1 0m4 0l-2 0" stroke="#8ea6da" stroke-width="3.9" stroke-linecap="round"/><path d="M51 4l-1 2m22-5l2 1m5 0l0 3m22-2l-1 1m-81 5l-2 1m41-1l-1 1m3-1l2 1m27-4l-1 1m13-2l-3 0m6 2l-1 1m-67 6l-1 0m10-3l-1 1m12 0l-1 2m5 0l0 2m23-5l-1 2m30 1l-2 2m-78 0l-1 1m51 2l-2-1m-33 8l-2 0m5-4l0 1m28-1l0 1m8 2l1 1m7-4l-1 2m9-1l2 2m2-2l1 2m15-1l-1 0m-99 5l-2 1m42 1l0 2m23-3l-2 1m5-2l1 1m-64 3l0 1m5 1l-2 1m23 0l-1 1m7-2l-1 1m7-1l-2 1m10-4l1 1m5 1l-1 2m-23 2l0 2m10-1l0 2m6 1l1 1m4-2l-2 2m8-2l0 2m13-2l1 1m-52 6l1 2m11-6l0 2m39 1l-1 1m23-2l-2 0m8-1l-1 1m-93 3l0 1m8-1l-1 1m24 0l0 2m3-2l-1 1m8 0l-2 0m5-1l-1 1m8-1l-2 1m8 2l0 2m7-5l-1 0m15 3l0 1m6-3l-2 2m-86 4l-1 2m17-2l0 2m25-2l-3 0m5-2l-1 2m10 0l-2 0m3 1l-1 0m25-1l-2 2m10-4l-1 0m12 3l0 1m-109 3l-3 1m42 1l2 1m24-5l-2 0m27 2l0 1m16-1l-1 2m-62 2l-1 0m9 3l-1 1m25-4l-2 0m5 1l-1 2m15-1l-2 1m-64 2l-2 2m38 0l-2 2m13-3l-2 1m23 1l-2 1m17-2l-1 1m-96 5l-1 3m43-5l-1 0m10 3l-2 1m12-1l-2 1m11-1l-1 2m-40 2l-2 2m18-2l-1 2m8-3l-1 1m5 2l-1 1m9-1l-3 0m12-2l-2 2m-69 4l-3 1m34 0l-1 2m8-4l-1 1m17 0l-1 1m-71 4l1 0m16 0l-1 1m5 0l-1 1m14-4l-1 2m8 1l1 2m16-3l0 1m2 1l-2 1m30-4l-1 1m-83 5l0 2m15 0l0 2m20-3l0 3m12-2l0 1m4-1l-1 1m9-3l-2 1m18-2l0 2m6-3l1 2m-84 4l-1 1m9 1l1 3m8-3l-1 1m9-1l-1 2m9-2l1 1m3-2l-2 0m8 1l-2 1m7 1l-1 1m11-1l-1 2m10-2l-2 1m6-1l1 1m11-3l-2 2m-83 2l-1 1m9 3l-1 1m40-3l-1 2m9-2l-2 1m10-2l0 3m5-4l-1 2m4 0l-2 1m19 0l-1 1m-88 3l0 1m62-1l1 1m11-3l-1 0m-54 6l-1 0" stroke="#4d7ccb" stroke-width="3.9" stroke-linecap="round"/><path d="M88 2l0 1m18-1l0 1m-39 2h0m-14 9l0 1m10 1l-1 1m-23 7l0 1m18 0h0m9-2l0 1m44 0l0 1m-47 19l0 1m-10 11l-1 0m-18 13h0m4-4l0 1m40 0l1 1m-51 7l0 1m22-3h0m5 0l0 1m-19 4l0 2m11-1l-1 0m-28 7h0m13 0l-2 1m12-4l0 2m4 0l-1 0m11 0l-1 1m-26 3l0 1m6 2l0 1m10-4l2 1m32 7l1 1m-2 2l-1 1" stroke="#5a180c" stroke-width="4.1" stroke-linecap="round"/></svg>
<rect x="1180.9" y="520" width="120" height="119" fill="#9a9a9a" filter="url(#sh)"/><svg x="1179.3" y="518.4" width="120" height="119"><g filter="url(#bl)"><use href="#q00" class="cW"/><use href="#q01" class="cm"/><use href="#q02" class="cw"/><use href="#q03" class="cw"/><use href="#q10" class="cw"/><use href="#q11" class="cW"/><use href="#q12" class="cw"/><use href="#q13" class="cp"/><use href="#q20" class="cp"/><use href="#q21" class="cp"/><use href="#q22" class="cw"/><use href="#q23" class="cp"/><use href="#q30" class="cp"/><use href="#q31" class="cw"/><use href="#q32" class="cm"/><use href="#q33" class="cw"/></g><path d="M28 1l0 2m22-2l0 3m-19 4l0 2m3 4l-3 2m11-6l2 3m-14 7l2 0m31-4l-2 2m-16 8l1 2m28 3l4 1m-33 1l-2 3m59 10l-4 0m-25 5l2 3m35-2l-1 2m-86 2l3 1m42 1l1 1m-39 10l2 2m-5 4l1 1m21 1l-2 1m65-1l2 2m-72 6l-1 2m5-3l1 1m62-2l0 2m-108 5l3 0m91-2l-3 1m-30 7l-2 1m26 5l0 1m3-3l3 1m4 2l0 1m-13 4l1 1m16-2l1 2m-46 3l-1 1m7-3l1 2m6-2l3 0m25 3l1 2m-97 3l-2 0m80 0l0 2m5-4l1 2m5-2l2 1m4 0l1 1m-43 2l-1 2" stroke="#c6603f" stroke-width="4.0" stroke-linecap="round" opacity="0.88"/><path d="M34 4l2 2m4-5l-1 1m-2 5l2 1m6 4l2 2m-19 27l3 0m20 46l1 1m17 7l0 2m3 4l1 2" stroke="#8ea6da" stroke-width="3.9" stroke-linecap="round"/><path d="M44 3l1 2m73-4l1 1m-73 5l2 1m17 9l1 0m54 1l1 2m-98 13l2 1m11 4l0 1m54 51l-2 0m-9 6l0 2m11-2l-1 1m-42 3l2 1m15-2l1 2m1-3l-1 1m5 6l1 1m1 0l-1 1m7-2l0 1m-27 13l1 2" stroke="#4d7ccb" stroke-width="3.9" stroke-linecap="round"/><path d="M42 6l-1 1m-21 7l0 1m101 9l1 1m-119 32l1 1m69 0l1 1m-47 2l0 1m-19 22l2 0m57-1l1 1m9 7h0m33 8h0m-33 12l1 0m-9 4l1 2m3 4l1 2" stroke="#5a180c" stroke-width="4.1" stroke-linecap="round"/></svg>
<rect x="1325.6" y="520" width="120" height="119" fill="#9a9a9a" filter="url(#sh)"/><svg x="1324" y="518.4" width="120" height="119"><g filter="url(#bl)"><use href="#q00" class="cW"/><use href="#q01" class="cw"/><use href="#q02" class="cb"/><use href="#q03" class="cb"/><use href="#q10" class="cp"/><use href="#q11" class="cm"/><use href="#q12" class="cb"/><use href="#q13" class="cw"/><use href="#q20" class="cp"/><use href="#q21" class="cW"/><use href="#q22" class="cp"/><use href="#q23" class="cp"/><use href="#q30" class="cW"/><use href="#q31" class="cp"/><use href="#q32" class="cb"/><use href="#q33" class="cM"/></g><path d="M72 1l-1 2m6 0l2 3m4-3l3 2m26 3l1 1m-38 3l2 1m-42 10l-3 1m10 0l3-1m57 1l1 1m16 0l3 1m-103 1l1 2m4-2l1 1m54 2l2 2m14-4l-1 1m-27 11l2 1m-40 3l-2 3m11-2l0 2m-20 5l0 1m27-1l1 1m26-1l3 1m10-1l2 3m-25 2l0 1m23 0l2 0m-87 2l3 2m21 2l2 0m7-3l1 2m12 1l3 2m0-5l1 1m27 0l2 3m34 4l3 1m-105 3l4 0m95-2l2 0m-11 7l1 0m10 2l1 1m3-4l2 1m-107 5l2 3m71 0l3 0m2-3l-4 1m14 1l0 1m5 0l3 2m-101 0l-1 3m23-2l1 1m73-2l0 4m15-2l0 2m-70 4l1 3m5-5l1 0m9 2l-1 2m26-2l2 0m6-3l1 1m-24 9l0 1m27-5l2 1m14 3l3 0m-79 3l3 2m41-2l-1 1m-55 5l2 1m63-4l3 1m16 0l1 4m9-3l1 1m-6 5l1 0" stroke="#c6603f" stroke-width="4.0" stroke-linecap="round" opacity="0.88"/><path d="M58 2l-1 0m38 7l1 1m-33 0l1 0m47 1l2 0m-33 7l1 1m8-2l1 1m22 0l2 2m-47 3l1 0m53 0l3 1m-75 7l2 1m21-4l1 2m34 1l1 1m7-2l1 1m-47 4l2 0m-26 3l0 1m10 1l1 1m8 1l-1 2m34-5l2 2m-52 3l3 1m10 0l1 0m10 14l0 2m-54-1l-1 2m102 35l2 0m-59 2l1 2m27 6l0 1m20-1l1 0m-52 5l-1 0m-1 5l1 0m14 0l1 1m18 0l2 2" stroke="#8ea6da" stroke-width="3.9" stroke-linecap="round"/><path d="M96 1l2 1m7 0l-1 1m-20 3l1 2m17 0l3 1m11 0l1 1m-11 2l1 2m8-2l2 0m-64 7l1 1m31 0l2 0m-35 2l1 2m5 1l-2 1m23-3l2 1m-35 5l1 1m22-2l1 1m21-1l1 0m-41 5l-2 1m23 3l1 0m7-1l0 2m38-3l2 2m-118 3l1 1m30 1l2 2m53-5l0 2m-33 3l1 1m-14 6l0 1m37 1l2 1m14-4l0 1m-48 6l1 1m43-2l1 1m4 6l1 1m-30 31l1 2m12 3l0 1m33-1l2 1m-64 5l1 1m20-1l0 2m6-3l1 1m15 0l2 2m11 1l2 2m-30 5l1 0m14 0l1 2m-10 3l1 1" stroke="#4d7ccb" stroke-width="3.9" stroke-linecap="round"/><path d="M61 25l1 1m28-1l0 1m-7 8l1 1m-12 7l-1 1m-5 10l1 0m-38 5l0 1m76-4l1 1m-80 18l1 1m-13 2l-1 1m58 2l1 1m33-3l1 1m-29 5l1 0m35 0h0m-36 4h0m28 3h0m2 5h0m15-2h0m-26 7h0m10 3h0m10 2l1 1m-48 10l0 1m17 0l1 1m13-2l1 1m5-2h0m6 0l-1 0" stroke="#5a180c" stroke-width="4.1" stroke-linecap="round"/></svg>
<rect x="1470.3" y="520" width="120" height="119" fill="#9a9a9a" filter="url(#sh)"/><svg x="1468.7" y="518.4" width="120" height="119"><g filter="url(#bl)"><use href="#q00" class="cb"/><use href="#q01" class="cb"/><use href="#q02" class="cw"/><use href="#q03" class="cW"/><use href="#q10" class="cw"/><use href="#q11" class="cp"/><use href="#q12" class="cw"/><use href="#q13" class="cw"/><use href="#q20" class="cp"/><use href="#q21" class="cw"/><use href="#q22" class="cp"/><use href="#q23" class="cb"/><use href="#q30" class="cb"/><use href="#q31" class="cb"/><use href="#q32" class="cp"/><use href="#q33" class="cb"/></g><path d="M11 0l-1 2m14-2l3 1m36 16l1 1m-17 18l2 2m1 9l1 0m-34 2l1 3m-12 15l2 3m10-4l2 1m3-1l2 2m4-1l3 2m83-3l0 2m-114 3l3 2m22 9l1 3m-3 7l2 2m58-6l2 0m-72 5l1 1m59 3l1 1m-45 10l3 3m69-3l2-1m-27 9l4 1" stroke="#c6603f" stroke-width="4.0" stroke-linecap="round" opacity="0.88"/><path d="M7 8l1 0m6-2l2 1m7-2l0 1m-18 6l-1 2m15-2l-1 1m-9 6l-1 1m4-3l1 1m18 2l1 2m4-4l-2 2m-22 3l0 1m32 6l2 1m-43 8l2 2m105 21l1 1m-16 10l0 1m8 1l2 0m-22 2l2 0m17 0l2-1m-84 13l2 1m12-3l1 1m19 5l1 0m45 3l2-1m19 1l1 1m-95 5l1 1m85-3l2 1m-72 4l2 0m-45 7l-1 2m20-5l1 2m27-1l1 2m71 3l1 2" stroke="#8ea6da" stroke-width="3.9" stroke-linecap="round"/><path d="M41 2l2 1m3-2l0 1m27 3l1 0m-74 9l1 2m18 2l2 1m3-3l0 1m14-1l0 1m8 0l1 1m11-1l1-1m-43 9l-1 2m13-2l1 1m1 1l2 0m5 3l1 1m15-3l2 1m-45 6l2 1m-4 5l2 1m73 11l1 1m10 5l1 0m20 4l0 2m-31 4l2 2m5-1l1 0m-3 1l2 0m25 1l2 1m-40 4l-3 1m21-1l1 1m19 2l1 1m-66 5l0 1m50-2l1 0m15-1l1 0m-56 5l0 1m33-1l0 2m-60 4l2 1m67-2l2 0m9 2l1-1m-105 5l1 0m-9 4l1 0m46 3l1 2m45-2l1 1m13-2l0 1m-96 6l2 1m13-3l2 1m57-2l0 2m13 1l1 0m11-3l1 2m-108 6l0 1m41-2l0 1m2 0l2 1m-10 1l3 1" stroke="#4d7ccb" stroke-width="3.9" stroke-linecap="round"/><path d="M8 0h0m34 22l1 1m13 2l1 0m33 30l1 0m-74 28h0" stroke="#5a180c" stroke-width="4.1" stroke-linecap="round"/></svg>
<rect x="1615" y="520" width="120" height="119" fill="#9a9a9a" filter="url(#sh)"/><svg x="1613.4" y="518.4" width="120" height="119"><g filter="url(#bl)"><use href="#q00" class="cW"/><use href="#q01" class="cl"/><use href="#q02" class="cb"/><use href="#q03" class="cw"/><use href="#q10" class="cw"/><use href="#q11" class="cb"/><use href="#q12" class="cb"/><use href="#q13" class="cw"/><use href="#q20" class="cb"/><use href="#q21" class="cb"/><use href="#q22" class="cw"/><use href="#q23" class="cb"/><use href="#q30" class="cb"/><use href="#q31" class="cl"/><use href="#q32" class="cb"/><use href="#q33" class="cb"/></g><path d="M68 1l-1 1m6-1l0 2m-65 17l1 2m59 3l-1 3m36-6l-1 2m8 4l2 2m-33 3l1 3m22 4l2 1m-5 6l0 1m-82 2l0 4m57-1l1 2m-9 0l-1 3m-58 14l2 1m62 0l0 1m45-3l-2 2m-100 11l2 1m81-1l-2 2m15-3l2 3m-32 4l2 1m15 2l2 2m-58 4l2 1m26 6l-2 0m8 1l1 2" stroke="#c6603f" stroke-width="4.0" stroke-linecap="round" opacity="0.88"/><path d="M61 14l1 0m20 0l2 0m-9 10l-1 1m-43 9l1 1m35-2l1 1m-10 8l1 2m1-3l2 2m-29 4l-2 1m15 7l0 1m-19 5l1 2m12-3l0 2m17 2l1 1m-18 1l1 2m-35 12l2 0m4-3l1 1m47-1l1 1m-23 4l0 1m11 3l1 2m43 15l1 1m5-3l0 1m7 0l2 1m-57 2l1 1m4 1l0 1m21-2l-1 3m20-4l0 2m2 1l1 1m-80 4l0 1m45-4l-1 1m7 0l-1 1m-7 6l-1 2m24-1l2 0m18-1l1 1m7-2l-2 0m-86 4l2 1" stroke="#8ea6da" stroke-width="3.9" stroke-linecap="round"/><path d="M56 -1l1 2m26-1l1 1m5 0l0 3m-39 5l1 0m21 0l-1 1m-47 0l0 1m65 0l-1 2m-55 5l2 1m17 0l2 1m14 0l0 1m9-2l-1 2m9-2l1 2m-47 2l1 1m7 1l0 2m2-3l0 2m5-1l0 1m23-2l-1 2m7-5l-1 1m-42 8l1 2m7-2l2 2m1-4l1 1m12 2l0 1m4-4l1 2m-25 12l0 1m29-2l0 1m13-3l0 1m7 0l2 1m-4 5l2 2m-62 1l1 0m20 1l-2 1m5 0l-2 1m11-1l2 1m1-2l-1 2m33 0l1 2m5-4l-1 1m-73 5l0 1m9 1l2 2m-35 4l0 2m7-2l2 0m6-4l1 0m20 3l0 1m7-4l0 2m-37 5l1 1m15 1l2 0m20-2l0 1m44-1l0 1m-95 5l1 1m16-2l-1 2m10-3l-1 1m71-1l1 1m7 1l1 2m5-2l1 1m-111 5l1 1m19-3l0 1m5 1l2 1m6 0l1 1m61-4l-1 1m6 3l0 2m6-3l2 2m3-4l1 0m-104 7l2 1m73-1l0 2m24-1l-2 2m-102 4l-3 0m9-4l1 1m6 1l0 1m10-3l1 2m15 0l0 1m4 0l3 0m0-2l-1 1m34-1l2 1m21 0l1 1m-53 4l-1 2m11-4l2 1m12 1l-1 0m9 0l2 1m21-1l2 1m-107 5l2 0m57-2l0 1m6 0l0 1m6-1l-1 0m17-1l1 2m25 1l0 3m5-5l0 2m-33 2l0 3m29 0l-3 0m-73 3l0 2m72 1l2 2m-109 2l0 1m10 1l1 1m53-2l0 1m6 0l1 2m-64 0l1 2m44-2l1 1" stroke="#4d7ccb" stroke-width="3.9" stroke-linecap="round"/><path d="M73 13h0m5-2l0 1m-21 17l-1 1m24 9l1 1m-35 9l1 1m-24 15l0 1m44 12l1 1m54 11l0 2m-119 4h0m22 23l1 1m70-4l1 1" stroke="#5a180c" stroke-width="4.1" stroke-linecap="round"/></svg>
<rect x="1759.7" y="520" width="120" height="119" fill="#9a9a9a" filter="url(#sh)"/><svg x="1758.1" y="518.4" width="120" height="119"><g filter="url(#bl)"><use href="#q00" class="cw"/><use href="#q01" class="cb"/><use href="#q02" class="cw"/><use href="#q03" class="cb"/><use href="#q10" class="cb"/><use href="#q11" class="cw"/><use href="#q12" class="cW"/><use href="#q13" class="cw"/><use href="#q20" class="cw"/><use href="#q21" class="cW"/><use href="#q22" class="cW"/><use href="#q23" class="cw"/><use href="#q30" class="cb"/><use href="#q31" class="cw"/><use href="#q32" class="cW"/><use href="#q33" class="cb"/></g><path d="M119 0l0 1m2-1l-1 3m-27 6l1 3m8 7l1 4m-25-2l0 2m-65 8l1 1m-6 4l1 3m4-4l3 1m-4 3l0 3m48-3l0 2m-37 12l0 1m7-1l1 2m91 22l0 3m-97 10l-2 2m-23 8l-1 1m42 12l-1 4m77-7l-1 1m-111 7l-2 0m20 3l0 2" stroke="#c6603f" stroke-width="4.0" stroke-linecap="round" opacity="0.88"/><path d="M86 7l2 0m24 2l1 2m-70 1l0 1m75 0l0 1m-53 3l1 2m39-3l0 2m6 1l0 1m-78 4l-2 1m-26 4l-2 2m112 5l-1 1m-109 16l1 2m95 35l0 2m-84 7l0 2m7-1l2 1m7-2l-1 2m80-2l-2 1m-4 8l-1 1m-103 9l0 2m18-2l-1 2m-2 0l3 1" stroke="#8ea6da" stroke-width="3.9" stroke-linecap="round"/><path d="M34 4l0 1m7-2l0 1m22-3l-1 1m48 0l-1 2m-78 1l-2 2m4-1l-1 2m9-2l-1 2m62-2l-1 1m-79 4l-1 1m31-1l0 1m55-2l-1 1m-86 6l-2 1m12 1l1 1m-22 2l-2 1m75-1l0 3m7 0l0 1m-45 3l0 2m39-3l2 1m36 6l-2 2m-113 4l-1 1m106-4l-1 2m-102 7l-2 1m19-3l2 1m80 15l0 2m-98 3l-1 2m3-3l0 2m12-1l2 2m-12 4l-2 1m-10 10l2 1m14 0l-1 1m26-1l1 2m-40 5l1 0m5 1l-2 0m81-4l-1 1m-57 4l0 1m77-1l-1 2m12-2l0 1m-113 8l-1 1m24-1l0 2m12-4l0 1m55 1l0 2m-91 3l-1 2m16-2l0 3m78-4l-1 0m7 0l-1 2m14-2l1 1m-101 4l-1 2m19-1l0 2m55-3l1 2m3 5l1 2m12-3l-1 1" stroke="#4d7ccb" stroke-width="3.9" stroke-linecap="round"/><path d="M50 3l1 1m44-1l1 1m-50 1l1 1m-2 14l0 1m6 1l1 1m-48 6l-1 0m86 5l0 2m-56 8l-1 2m86 39l0 1m-105 20l-1 1" stroke="#5a180c" stroke-width="4.1" stroke-linecap="round"/></svg>
<rect x="1904.4" y="520" width="120" height="119" fill="#9a9a9a" filter="url(#sh)"/><svg x="1902.8" y="518.4" width="120" height="119"><g filter="url(#bl)"><use href="#q00" class="cl"/><use href="#q01" class="cb"/><use href="#q02" class="cM"/><use href="#q03" class="cb"/><use href="#q10" class="cb"/><use href="#q11" class="cb"/><use href="#q12" class="cw"/><use href="#q13" class="cb"/><use href="#q20" class="cM"/><use href="#q21" class="cb"/><use href="#q22" class="cw"/><use href="#q23" class="cb"/><use href="#q30" class="cb"/><use href="#q31" class="cb"/><use href="#q32" class="cw"/><use href="#q33" class="cb"/></g><path d="M61 2l3 1m22-2l3-1m1 3l0 3m-70-1l4-1m9 4l1 1m50-1l3 0m-77 6l2 0m4-3l2 0m44 0l2 0m10 1l2 1m-74 7l1 1m35-1l1 0m35-2l1 2m3-2l0 2m6-4l2 2m-74 8l3 0m29-3l1 2m71-1l-3 0m-13 5l0 1m-59 10l1 0m13-1l3 1m3 1l-2 1m48-4l2-1m-100 15l1-1m96 2l1 0m-95 4l0 1m16-2l2 1m3 1l3-1m47-1l3-2m16 1l3 0m-102 6l3 1m8 1l2-1m26-1l3 1m-17 5l2 3m-30 1l1 2m7-1l1 1m3-2l0 3m60 1l-3 0m-60 2l2 2m70 0l2 0m11 0l1 0m-72 3l2 0m45 2l1 4m28-3l3-1m-82 4l1 0m37 3l3-1m57-3l3 2m-118 8l3 2m3-6l2 1m12-1l-3 0m14 7l3 1m62 9l3 0m2 1l1 1m3 5l3 0" stroke="#c6603f" stroke-width="4.0" stroke-linecap="round" opacity="0.88"/><path d="M33 1l2 0m59-1l2 0m-84 9l1 0m11-4l2 0m20 3l2 2m23-2l3 0m42-3l1 0m-116 6l1 0m7 11l3 0m100 13l1 1m8-1l0 2m-3 3l1-1m-105 5l1 1m14 0l1 1m11 1l3-1m38 1l2-2m17 1l1 0m-74 5l2 0m14 7l2 0m26-1l1-1m-51 5l0 2m25-3l2-1m53 1l-1 2m-57 7l1 1m5 4l-1 0m-25 3l3 0m84 1l1 0m-110 5l-1 1m18 0l2 1m-11 6l-2 0m32 5l1 0m59-2l1 1m-93 7l2 0m20-2l2 0m57 6l1 0m9-2l2 1m9 1l1 0m-73 5l-1 0m19 1l1 0m11 0l1-1m52 3l1 1m-116 2l0 2m31-1l3 1m11-1l0 1" stroke="#8ea6da" stroke-width="3.9" stroke-linecap="round"/><path d="M58 3l0 2m59-3l-2 2m-63 4l1 2m8-2l1 1m6-4l1 2m43 2l-2 0m-87 6l1 0m54-4l-1 1m-43 6l1 0m25-1l2 1m6 0l1 0m20 2l0 2m23-5l1 0m-74 9l1 2m26-3l2 1m27-3l0 2m6-1l-2 1m-82 6l1 1m15-2l1 1m39-3l2-2m33 3l1 2m8-1l2 1m-69 3l1 2m40-2l1 0m-90 7l2 1m13-2l-1 1m12-1l2-1m55 0l2 1m15-1l1 1m10-1l2 1m-115 6l1 2m47-4l3 1m5 0l-2 2m9-1l1 1m-47 6l2 1m15-1l2 0m3-3l1 0m61 3l0 1m9-3l1 2m10-2l2 1m-56 3l2 2m27-2l1 0m10 3l1 1m-90 1l1 0m11 3l2 1m4-1l1 1m14-3l2 0m24 0l1 0m-79 9l2 2m10-3l-1 1m10-4l2 1m12 1l1 1m65-1l1 0m9 0l1 1m7-1l1 0m-99 6l1 1m1 0l1 1m21-3l2 0m56 2l2 1m15-4l2 1m0 0l1 2m-110 5l2 1m2-4l2 0m49 3l2 1m49-5l1 0m2 3l1 1m-113 6l2 1m23-5l-1 2m5-2l0 3m50 0l2 0m5-2l-2 1m-91 5l2 1m27-1l1 1m3-2l-1 0m5 1l1 0m7 2l2-1m53-1l2 0m-57 8l2 1m58-5l2 2m-109 6l2 0m50 0l1 1m52-2l2 0m-100 7l1 1m33 0l-1 2m26-3l2-1m17 2l2 0m21 0l2 1m12-5l1-1m-109 7l2 2m17-2l-1 1m86 1l2 0m-120 3l0 3m12-2l1 0m12 1l3 0m2-1l2 2m12-3l2 0m51 4l1 2m19-3l0 1m5 2l1 1" stroke="#4d7ccb" stroke-width="3.9" stroke-linecap="round"/><path d="M76 0l1 1m1 4l0 2m10 1l1 1m4-3h0m-7 6l1 1m3 1l0 1m7-1l1 0m-47 6l1 0m27 5h0m29-3l0-1m-69 6h0m25 3l1 0m1-2l2 1m-7 3l1 2m-54 4l0 1m61 8h0m36-3l2 0m-107 12l0 1m5 12l1 0m22 4l0 1m-27 5l0 2m29-2l0 1m5-2l1-1m-23 5l-1 1" stroke="#5a180c" stroke-width="4.1" stroke-linecap="round"/></svg>
<rect x="2049.1" y="520" width="120" height="119" fill="#9a9a9a" filter="url(#sh)"/><svg x="2047.5" y="518.4" width="120" height="119"><g filter="url(#bl)"><use href="#q00" class="cp"/><use href="#q01" class="cW"/><use href="#q02" class="cW"/><use href="#q03" class="cM"/><use href="#q10" class="cb"/><use href="#q11" class="cw"/><use href="#q12" class="cW"/><use href="#q13" class="cW"/><use href="#q20" class="cm"/><use href="#q21" class="cb"/><use href="#q22" class="cb"/><use href="#q23" class="cw"/><use href="#q30" class="cR"/><use href="#q31" class="cR"/><use href="#q32" class="cm"/><use href="#q33" class="cb"/></g><path d="M106 2l-2 2m6-4l2 1m-22 11l1 1m28-1l-3-1m-87 6l-3-1m64 2l0-2m27 4l-1-1m-14 3l-1-1m3 9l-3-1m12 2l-3-1m-80 3l-1-1m10 3l-3 1m70 0l-1-1m13-2l-2 0m-85 14l-1-1m-7 5l-2-1m10 0l-1 1m9 1l0 3m-27 3l-3 0m49 1l-3 0m-52 2l-1-1m9 9l-3 1m14 8l3 2m-18 4l-2 0m31 1l-1 0m4 0l0 3m29-6l-3 1m-49 9l2 0m12-3l-2 2m10-3l-3-1m28 2l1 3m11-2l-2-3m-66 6l4 1m18 1l0 1m11 1l1 1m4-2l-2 0m18-2l-3 2m7 0l-3-1m-45 7l-1 1m9-4l-1 1m11 1l-3 2m15-2l1 1m8-2l-3 1m14 1l-1 0m7 1l1 1m4-3l-2 1m8-1l-2 0m-73 4l-3 1m6 1l-3 1m16-1l-3 1m13-3l-2 0m7 1l3 1m4 0l1 0m4-3l-2 0m19 4l-2 2m16-4l-2-1m-76 8l-2 1m10-2l-2 1m6-3l-1-2m13 2l-3-1m10 0l-2 0m65 4l-1 0m-95 2l-2 0m38 4l-2 1m20-5l-1-1m6 3l-1 1m34 1l-3-1m7-1l-1 1m9-3l-1 2" stroke="#c6603f" stroke-width="4.0" stroke-linecap="round" opacity="0.88"/><path d="M102 9l-2 1m-73 11l-2-1m85 18l-2 0m-74 14l-2-1m-14 6l-2 1m9 0l-1 0m49 0l-2 1m-48 4l-2-2m42 3l-1 0m-33 4l-2-1m52 0l2 1m-67 6l-2 1m23-2l-1 0m6 1l-2 0m25 2l-1 1m4 1l-1 0m-20 6l-1 0m31 0l-1-1m15 0l-1-1m-65 9l-1 0m60-1l-2 0m-8 4l-2 0m-56 8l-1 0m77 0l-2 1m12-2l-1 0m-6 6l-2 0m10-1l-2 1m-55 5l-2 1m21-1l-2 1m23-2l-1 0m39 0l-1 0m-34 8l-1 0m32 0l-1 0" stroke="#8ea6da" stroke-width="3.9" stroke-linecap="round"/><path d="M98 3l-1-1m-6 7l2 0m20-4l-1-1m2 11l-2 0m-19 3l-2 1m22 5l-2 0m8 1l-1 0m-112 2l0 2m6 1l-1 0m74-2l1 1m-85 5l-2 1m8 1l-2 0m8-2l-3 0m11-1l-1-1m3 8l-1-3m-21 8l-1 1m7-1l-1 1m6-2l0 1m65 3l-1 1m-67 0l-2 1m5 0l1 1m-10 7l-3 1m29-1l-1 0m90-3l-1 1m-109 5l-1 1m80-1l2 1m-73 7l-1 0m19 0l-2 1m12-2l-1 1m30 3l-2-1m-65 7l-2 1m29 1l0 1m7-1l-1 0m46-3l-3 0m-78 6l1 1m9 2l-1 1m11-1l-2 1m7-5l-2-1m89 3l-1 0m-114 7l-3 0m46-1l1 3m51-2l-1 0m-38 4l-2 1m23-2l-3 1m-75 7l1 0m88 2l-1 0m22 2l-2-1m-29 6l0 1m9-2l-2 0m29 1l2 2m-48 2l1 1m40 3l-2 1m9 1l-2 1" stroke="#4d7ccb" stroke-width="3.9" stroke-linecap="round"/><path d="M96 5h0m9 3l-1 0m-2 3l-1 0m6 0h0m-7 5h0m8 0l-1 0m5 4l-1 1m-4 1l1 0m-63 14l-1 0m69-3l-1 0m-77 13h0m-30 12l-1 0m-2 22l-1-1m16 6h0m-5 4l0 1m46-1l-1 0m21 1h0m-76 3h0m9 4l-1 0m8-3h0m4 1h0m29 0h0m-45 7l-1 0m59 0h0m-63 2h0m30 2l-1 0m25-1l-1 1m9 0h0m-38 6l-1 1m17 0l-1 0m10 0l-1 0m8 0h0m13-1h0m-64 3l-1 2m9-1l-2 0m7-1l-1 0m7 2l-1 0m6 0l-2 1m8-1h0m11-1l-1 0m6 1l-1 0" stroke="#5a180c" stroke-width="4.1" stroke-linecap="round"/></svg>
<rect x="1181.9" y="725.4" width="120" height="119" fill="#9a9a9a" filter="url(#sh)"/><svg x="1180.3" y="723.8" width="120" height="119"><g filter="url(#bl)"><use href="#q00" class="sw"/><use href="#q01" class="ss"/><use href="#q02" class="ss"/><use href="#q03" class="sw"/><use href="#q10" class="ss"/><use href="#q11" class="sw"/><use href="#q12" class="ss"/><use href="#q13" class="sw"/><use href="#q20" class="ss"/><use href="#q21" class="ss"/><use href="#q22" class="sw"/><use href="#q23" class="sw"/><use href="#q30" class="sw"/><use href="#q31" class="ss"/><use href="#q32" class="sw"/><use href="#q33" class="ss"/></g><path d="M51 2l-1 1m-5 4l0 2m-33 8l-2 0m90 40l1 3m18-1l1 2m-69 11l-2 2m-8 14l-2 1m-31 5l-4 1m75 12l-3 1m20 3l0 4m-33 4l1 3" stroke="#b4563a" stroke-width="4.0" stroke-linecap="round" opacity="0.88"/><path d="M45 30l0 2m20-1l-1 2m24 12l0 1m-4 6l-1 1m-60 32l-2 0m21-1l0 2m79 31l0 1" stroke="#98a6dc" stroke-width="3.9" stroke-linecap="round"/><path d="M28 3l-1 1m59-2l0 1m-53 4l-1 2m24 1l-1 2m22 0l-1 1m-74 5l1 1m93 11l-1 2m-33 14l-1 0m-37 11l-2 2m28 21l1 0m56-1l-1 1m-57 6l1 1m18-3l-1 1m29 3l-1 0m-9 14l0 1m-3 15l-1 1" stroke="#6f82cc" stroke-width="3.9" stroke-linecap="round"/><path d="M41 1l-1 0m-31 42h0m2 8l0 2m52 2l-1 2m-6 12l0 1m16-1l0 1m-26 27l-1 1m24-5l-1 0m-14 13h0m43 13l1 1" stroke="#5e180b" stroke-width="4.1" stroke-linecap="round"/></svg>
<rect x="1326.5" y="725.4" width="120" height="119" fill="#9a9a9a" filter="url(#sh)"/><svg x="1325" y="723.8" width="120" height="119"><g filter="url(#bl)"><use href="#q00" class="ss"/><use href="#q01" class="sw"/><use href="#q02" class="sw"/><use href="#q03" class="sw"/><use href="#q10" class="sw"/><use href="#q11" class="sl"/><use href="#q12" class="ss"/><use href="#q13" class="sw"/><use href="#q20" class="sw"/><use href="#q21" class="sw"/><use href="#q22" class="sw"/><use href="#q23" class="sw"/><use href="#q30" class="ss"/><use href="#q31" class="sw"/><use href="#q32" class="sw"/><use href="#q33" class="sw"/></g><path d="M51 9l1 1m53-2l0 2m-50 13l0 1m-9 7l0 2m69-1l1 3m-87 21l3 2m40-3l2 1m38 4l-1 2m-69 7l-2 3m73 12l1 1m-30 2l1 3m-1 5l0 3m-1 4l2 2m12 6l3 2m-25 6l2 2" stroke="#b4563a" stroke-width="4.0" stroke-linecap="round" opacity="0.88"/><path d="M11 36l2 0m14 10l1 0m78 9l0 2m-78 50l2 1m21-2l0 1m-17 8l-2 2" stroke="#98a6dc" stroke-width="3.9" stroke-linecap="round"/><path d="M0 18l0 2m24 20l0 1m6 0l2 2m18-4l1 2m-23 11l1 1m15-3l2 1m-30 24l2 0m12-1l1 2m5-4l1 1m-36 5l1 1m26 17l1 2m44-5l-1 2m-49 22l2 1m44 0l2 2" stroke="#6f82cc" stroke-width="3.9" stroke-linecap="round"/><path d="M14 8l1 0m7 5h0m47 26l0 2m6-2h0m-7 18l2 1m12-2l1 0m34 39l-2 0" stroke="#5e180b" stroke-width="4.1" stroke-linecap="round"/></svg>
<rect x="1471.2" y="725.4" width="120" height="119" fill="#9a9a9a" filter="url(#sh)"/><svg x="1469.6" y="723.8" width="120" height="119"><g filter="url(#bl)"><use href="#q00" class="sw"/><use href="#q01" class="sw"/><use href="#q02" class="sw"/><use href="#q03" class="sw"/><use href="#q10" class="ss"/><use href="#q11" class="ss"/><use href="#q12" class="sw"/><use href="#q13" class="sw"/><use href="#q20" class="sw"/><use href="#q21" class="sw"/><use href="#q22" class="ss"/><use href="#q23" class="sw"/><use href="#q30" class="sw"/><use href="#q31" class="sw"/><use href="#q32" class="ss"/><use href="#q33" class="sw"/></g><path d="M11 0l-1 3m78-2l-4 1m-49 7l-1 1m32 28l-2 2m-33 5l-3 2m88 17l-1 3m-106 0l0 3m46-3l0 3m66 2l-1 1m-21 5l-1 2m-73 38l3 1m49 2l0 1" stroke="#b4563a" stroke-width="4.0" stroke-linecap="round" opacity="0.88"/><path d="M22 20l-2 0m21 13l-2 1m8 27l-1 1m5 32l0 2" stroke="#98a6dc" stroke-width="3.9" stroke-linecap="round"/><path d="M17 -1l1 2m4 8l-2 2m49 7l-2 0m46 12l0 1m-101 16l-1 1m14-5l-2 1m12 0l0 2m25 0l1 0m-11 23l-1 2m-41 12l-1 1m86 2l-2 1m-14 8l-3 0m-54 7l-2 1" stroke="#6f82cc" stroke-width="3.9" stroke-linecap="round"/><path d="M102 11l-1 0m-90 24h0m-3 11l0 2m85 19h0m-27 6l-2 1m15 6l1 0m0 5h0m-48 14l0 1" stroke="#5e180b" stroke-width="4.1" stroke-linecap="round"/></svg>
<rect x="1615.8" y="725.4" width="120" height="119" fill="#9a9a9a" filter="url(#sh)"/><svg x="1614.2" y="723.8" width="120" height="119"><g filter="url(#bl)"><use href="#q00" class="sM"/><use href="#q01" class="sg"/><use href="#q02" class="sg"/><use href="#q03" class="sg"/><use href="#q10" class="sR"/><use href="#q11" class="sg"/><use href="#q12" class="sM"/><use href="#q13" class="sg"/><use href="#q20" class="sR"/><use href="#q21" class="sb"/><use href="#q22" class="sg"/><use href="#q23" class="sM"/><use href="#q30" class="sM"/><use href="#q31" class="sM"/><use href="#q32" class="sg"/><use href="#q33" class="sR"/></g><path d="M2 0l1 3m33-3l3 1m-18 4l-2 3m-9 5l1 3m52-5l2 2m-63 5l-1 3m6-3l1 3m10-1l2 3m5-7l1 1m1 3l1 3m28-3l0 2m12-5l1 2m-38 3l-1 2m6 1l1 1m39-1l0 2m-75 3l3 1m3-2l1 1m6-2l1 1m59 2l2 4m-71-1l-4 1m89-2l1 3m-91 4l0 1m17-2l1 2m11-3l1 1m36 2l-1 3m14-5l-1 2m6-3l1 3m3-3l1 3m-80 5l-1 2m4-2l3 3m2-2l1 2m13-3l2 1m30-4l2 2m13 1l0 3m-76 2l2 3m10-5l3 0m7 4l1 2m9-3l0 3m44-4l3 3m-79 3l3 3m13-3l1 1m5 0l1 3m10-4l-4 0m14 1l1 1m41-2l0 2m-74 4l0 3m16-2l-1 2m90-4l1 2m-111 3l0 1m78-1l2 3m-85 5l2 2m1-4l2 3m4-1l2 2m-3 2l-1 3m6-2l1 2m24-5l1 2m65-1l1 1m4 1l1 1m-111 4l1 2m22-1l2 1m57-2l-1 1m-58 5l1 2m48-5l2 0m18 3l0 2m28-5l1 4m-121 2l-1 1m17-1l0 4m23-4l3 2m34-1l3 3m18-4l3 0m11 1l-3 2m6 0l-2 1m-114 1l1 2m6 1l2 2m4-2l0 2m4-5l1 1m24 0l2 2m-19 5l1 1m2-1l-3 2m24-2l-1 4m43-4l3 1m-91 4l-2 3m32-5l1 1m4 0l1 2m50-3l0 1m10 1l4 1m-85 6l2 1m22-1l-1 1m65-1l-1 2m8-5l2 3m1-1l2 1m-8 2l1 3" stroke="#b4563a" stroke-width="4.0" stroke-linecap="round" opacity="0.88"/><path d="M46 7l0 2m17-4l2 2m4 0l1 1m-30 2l-2 1m34 2l1 1m48 5l-2 1m-112 3l-1 1m63 1l-2 1m15-1l0 2m17-4l0 3m7-4l1 1m-58 6l2 1m-48 3l0 2m10 1l-1 1m90-4l1 2m-39 4l0 2m41 4l1 1m-51 5l0 1m59-1l2 1m-45 4l1 3m7-4l1 1m31 1l2 2m8-1l-1 2m-96 9l1 1m36-4l-1 2m46-1l0 1m-66 4l-1 1m22 2l1 1m6-4l2 1m-9 7l2 1m17-4l1 1m-8 7l0 2m48-2l1 2m-38 1l0 1m-47 4l1 1m6 7l-1 2m14-3l-2 1m6-1l-2 0m-52 5l1 1m59 5l0 2" stroke="#98a6dc" stroke-width="3.9" stroke-linecap="round"/><path d="M24 0l2 2m21 1l1 2m3-1l1 1m59-3l-1 1m11-2l1 0m-122 5l0 2m9-2l-1 1m6 2l1 2m3-4l1 1m12-3l0 1m3 3l1 2m37-5l2 0m43-1l1 2m-109 5l0 2m13 0l0 1m33-5l2 1m11 0l-2 0m-32 7l1 1m26-2l1 1m38-1l1 2m6-3l-1 1m5-1l0 3m-88 6l2 1m14-3l1 1m8-3l1 1m2 2l2 1m18-1l1 0m21 0l1 2m19-3l0 2m5-2l2 1m-101 5l1 3m64-3l1 2m6-4l1 2m-72 4l1 0m51 2l1 1m31-3l0 2m-56 7l2 1m45-5l1 3m26-2l1 1m-70 6l1 1m5-2l2 2m6-2l2 1m17 0l1 2m31-3l1 2m-77 3l-1 1m12-2l-2 0m32 4l2 2m20-3l1 1m-49 4l-1 2m7-5l1 2m20-1l1 1m31-1l2 2m-84 4l2 1m6-1l-1 2m22-3l1 1m26 0l0 1m-43 5l0 1m9 0l0 1m11-2l1 1m23-1l2 2m22 0l1 1m-58 3l1 2m21-3l0 1m-47 5l1 2m40-4l1 1m16 0l1 1m-80 4l1 1m38 0l1 2m3 1l0 2m5-2l0 2m-58 3l-1 1m12-1l2 1m84-4l2 1m-70 6l1 1m15-2l2 1m36-1l0 1m10 2l1 2m10-6l1 1m-85 8l1 2m11-1l1 1m36-4l-1 0m9-1l0 2m21-2l0 2m-54 6l0 2m-38 4l1 1m37-2l-1 0m33-1l2 2m-74 5l3 0m12-2l0 1m30 1l1 1m8 0l-2 0m19-3l0 2m-26 3l0 1" stroke="#6f82cc" stroke-width="3.9" stroke-linecap="round"/><path d="M8 2l1 1m6-3l0 2m4 0h0m10 0l-1 0m-24 9h0m10 9l1 0m23-3l0 1m-38 6l1 1m12-3l0 1m6 2l1 0m2 3h0m3 6l0 1m2 0l0 1m9-4l2 1m20 0h0m11 1h0m-63 5l0 1m6 2h0m24 0h0m83-3h0m-116 7l1 1m69 0l1 1m15-4h0m32 1h0m-113 6l1 1m11 0l0 2m52-5l1 0m-64 7h0m3 2h0m56-1h0m27-1l0 1m10-1l0 1m-103 6l0 1m4-1l0 1m13-4l1 1m4 3h0m51 0h0m30-1h0m6 0h0m-109 5h0m9 1h0m7-3l1 1m8-1h0m7 4l1 1m37-6l1 1m28 2l0 2m-82 3h0m5 2h0m6-1l1 1m4-3l0 1m53-1l1 1m21 0l-1 1m-102 3h0m23 0l0 1m13-2h0m6 4l0 1m53-2l-1 1m17-4l1 1m-112 9l1 1m19-4h0m8 2h0m3-3l1 1m53 0h0m9 2l1 0m3-2l0 1m6 2h0m6-1l1 0m-110 6h0m23 0l0 1m3-1l0 1m4-3h0m17-2h0m53 2h0m4 3l0 2m-105 0l0 1m4-1h0m41 2h0m9-2l2 0m58 3l0 1m-92 3h0m24 0l0 1m42 0h0m15-3l1 1m7 0l0 2m4 0h0m-111 4l-1 1m8-3l0 1m18 0l-1 1m31-1l0 1m12-1l0 1m8-2l-2 0m15 4l1 1m5-1l0 1m5-5l0 1m6 0l1 1m-105 4h0m5 2l1 1m6-2l1 1m27-2l0 1m6-1l-1 1m48 2h0m8-3l-1 1m5-1l0 1m5 2l1 1m-112 2l0 1m17-1l0 1m18-1l1 1m36 0l1 1m9-3h0m6 2h0" stroke="#5e180b" stroke-width="4.1" stroke-linecap="round"/><circle cx="71" cy="110" r="18.6" fill="#d6d6ee"/><circle cx="70" cy="73" r="18.6" fill="#d6d6ee"/><circle cx="47" cy="16" r="18.3" fill="#d6d6ee"/><circle cx="106" cy="45" r="20.5" fill="#d6d6ee"/><circle cx="71" cy="110" r="10.6" fill="#e9dfe9"/><circle cx="70" cy="73" r="10.6" fill="#e9dfe9"/><circle cx="47" cy="16" r="10.3" fill="#e9dfe9"/><circle cx="106" cy="45" r="12.5" fill="#e9dfe9"/><path d="M74 97l1-3m3 4l1-3m1 4l1-2m2 5l2-2m-1 7l3-1m-3 3l3 0m-3 4l2 0m-3 4l2 1m-5 2l2 2m-4-1l1 4m-9-1l-1 4m-2-6l-2 4m-2-3l-1 2m0-6l-3 3m-1-7l-3 0m1-5l-3 1m6-3l-4 1m4-6l-3-1m7-2l-2-3m6-1l-1-2m4 1l-1-3m-12-17l-3 0m1-4l-2 0m4-3l-2-1m4-3l-2-1m9-3l0-3m3 2l-1-3m5 4l0-2m3 3l1-4m3 4l1-2m1 7l4-2m-4 6l3-2m-1 5l4 0m-3 3l2 1m-5 3l2 1m-3 2l2 2m-6 0l1 2m-8 1l-1 3m-4-4l-1 2m-2-4l-2 2m0-6l-3 2m2-5l-4 1m-22-64l-2-1m4-2l-2-1m3-2l-2-1m7-4l-1-3m6 2l0-3m2 3l1-4m3 6l1-3m2 4l1-2m1 5l3-2m1 5l3-1m-4 4l3-1m-5 9l2 1m-4 1l2 2m-5 0l1 3m-5-1l1 3m-3-4l0 3m-4-1l0 2m-5-4l-1 2m-1-9l-4 1m1-5l-2 0m64 16l-3-1m7-1l-2-2m3 2l0-2m3 1l0-4m6 4l0-3m3 2l1-3m2 7l3-3m0 4l2-2m-2 5l4-1m0 4l3 0m-4 6l4-1m-4 4l2 0m-4 3l3 1m-5 2l2 2m-3 1l1 3m-4-1l2 4m-7-3l1 4m-5-5l-1 4m-3-5l-1 4m-1-6l-2 3m-5-8l-3 2m3-6l-3 0m3-3l-2 0m3-2l-4-1m4-4l-2-2" stroke="#8796d4" stroke-width="3.6" stroke-linecap="round"/></svg>
<rect x="1760.5" y="725.4" width="120" height="119" fill="#9a9a9a" filter="url(#sh)"/><svg x="1758.9" y="723.8" width="120" height="119"><g filter="url(#bl)"><use href="#q00" class="sg"/><use href="#q01" class="sb"/><use href="#q02" class="sM"/><use href="#q03" class="sg"/><use href="#q10" class="sg"/><use href="#q11" class="sR"/><use href="#q12" class="sb"/><use href="#q13" class="sg"/><use href="#q20" class="sM"/><use href="#q21" class="sg"/><use href="#q22" class="sg"/><use href="#q23" class="sM"/><use href="#q30" class="sg"/><use href="#q31" class="sg"/><use href="#q32" class="sb"/><use href="#q33" class="sR"/></g><path d="M57 1l2 1m2-1l2 2m7 3l0 3m-58 2l1 0m34 8l1 1m15-1l1 1m8-4l1 1m6 1l-2 3m-24 1l4-1m5 1l0 4m-27 2l3 2m25-3l1 2m-17 5l2 0m6-1l-2 0m18 9l3 1m-16 2l0 2m30-1l2 3m-39 0l1 0m5 4l2 2m4-3l-1 2m-35 4l1 0m13-3l3 2m-36 7l3 2m0-3l1 2m-2 3l-2 1m17-3l2 1m73 0l2 1m15 1l-2 2m-104 3l-1 1m25-2l2 0m62-1l4 1m4 7l3 1m-105 2l-3 2m17 12l3 2m74-5l2 2m6-2l3 1m9 1l1 2m-67 3l3 1m53-2l2 0m-1 6l-1 1m-2 3l2 2m4 0l-4 1m-45 5l0 2m44-4l-2 2" stroke="#b4563a" stroke-width="4.0" stroke-linecap="round" opacity="0.88"/><path d="M49 2l2 2m-11 2l-2 1m15 5l1 1m-29 5l1 1m78-1l1 1m-22 4l2 2m12 0l0 1m10-2l2 1m6 0l2 2m-103 2l2 2m36-4l1 1m13 1l1 2m6 0l0 1m4-2l1 0m42-1l-1 2m-86 5l1 1m-32 2l-1 1m24-1l2 1m6 1l1 1m29-2l2 2m3-3l-1 1m28 0l2 2m13-1l-2 0m-77 4l0 1m45-1l1 1m-57 6l1 3m26-3l0 2m72-4l2 1m-57 5l0 2m43 1l-1 2m-103-1l2 2m64-2l1 0m-68 8l2 1m58-3l2 0m7 2l1 1m-17 3l1 1m-34 4l-1 1m31 0l-2 0m34 0l0 1m-50 4l-2 1m70 8l1 1m-62 4l3 0m42-1l2 1m-49 5l1 1m20-3l-2 0m14 2l1-1m11-2l1 1m-40 5l-2 2m12-1l2 1m7 1l2 0m7-4l1 1m38-1l1 1m-99 5l-1 1m66 3l1 2m3-4l3 0m-43 5l-2 1m39 1l2 0m-38 1l2 1" stroke="#98a6dc" stroke-width="3.9" stroke-linecap="round"/><path d="M23 1l1 1m12-1l1 2m8-1l1 0m20-1l1 2m-48 4l2 2m2-2l2 1m6-2l1 1m3 1l1 1m8-3l1 2m5-2l1 0m13 2l2 1m7-1l0 1m7-3l0 1m13 1l0 1m-90 2l2 0m11 2l1 0m7-2l-1 0m8 2l-1 1m6-2l1 2m3-3l2 2m5-3l2 2m11 2l-1 1m15-4l2 0m37 2l1 1m-112 4l0 1m12-1l0 3m5-3l1 1m79-2l-2 2m15-1l1 1m3-2l1 2m-100 4l2 1m10 1l1 1m8-4l1 1m30 1l2 2m6-1l2 1m34-1l1 0m-68 3l1 2m11-1l1 1m45-1l1 2m-98 2l-1 1m66-1l1 1m15-1l0 1m28 1l1 0m-108 5l-1 2m4-3l1 2m33 0l-1 2m12-3l-1 0m31 2l1 2m17-3l0 2m-45 1l-1 2m6-1l2 0m7 0l0 1m39 0l2 1m1-3l-1 3m-41 3l1 2m2-1l2 1m26-3l-1 1m17 0l2 2m-76 4l1 0m7 0l3 1m25-2l1 3m6-2l2-1m-70 9l0 1m38-1l2 1m32-3l2 2m4-3l1 1m7 2l1 0m-54 2l2 1m22 1l-1 0m7 1l2 2m19-3l2 1m-69 2l1 0m36 4l2 0m33-1l-1 0m8-2l2 0m-119 5l1 1m33 1l1 1m21-1l1 1m64-3l1 1m-103 7l1 2m4-4l1 1m18 1l2 1m7-3l-1 1m10 1l2 0m11 0l0 1m7-3l1 2m-83 3l1 0m11 1l2 2m24-2l2 1m5-1l1 1m7-1l2 0m4 2l0 1m2-1l0 1m11-3l-1 3m9-4l1 1m-69 6l2 1m14-1l0 2m6 0l1 2m9-4l2 1m55 1l2 1m10-4l0 1m-109 3l1 3m7-2l1 1m5-1l1 2m11 2l1 0m56-2l1 1m-83 3l-1 2m35-1l0 1m39-1l1 2m-77 5l-1 0m37-1l0 2m62-2l0 2m-101 1l0 1m14 2l2 0m1-3l2 0m10 1l0 1m27-2l2 0m15 0l1 1m9 1l0 1m-53 3l1 1" stroke="#6f82cc" stroke-width="3.9" stroke-linecap="round"/><path d="M75 2h0m13 1h0m7-3l1 0m-39 7l1 1m27 0h0m-16 3l1 1m11 0l1 0m7 1l1 1m3-3l0 1m-59 7l1 1m31-1l0 1m17-3h0m5 0h0m-30 5h0m32 0l1 0m-52 7h0m0 4l2 0m9-1l1 0m13 4l1 1m2-2l0 1m15-2h0m-33 5l1 1m30 0l0 1m-56 4l1 1m15 0l1 1m4-2h0m8 0h0m-52 6l1 0m82-1l1 1m-62 8h0m28-4l0 1m15 0h0m49 2l0 1m6-4l1 0m-81 8l1 2m8-4h0m24 0l2 0m33 1l1 1m-103 3l1 1m11 1l1 0m29-1l-1 1m45 1l0 1m-90 5h0m5-2h0m15 2h0m62 0l1 0m20-2h0m-98 4h0m6 0l0 1m5-1l2 0m78 1l1 0m11 2l1 1m6-4l-1 1m-117 5l1 0m10 0l1 0m84 2h0m3-2l1 1m6-1l0 1m6-2h0m7 2h0m2-1l-2 0m-99 5l1 1m6 2l1 2m67-4l1 2m8-2h0m7 3l1 0m6-4l1 0m2 4l1 1m-41 1l1 1m13 5l1 1m4-2h0m12 2h0m6 0l1 1m-28 3l1 0m24 3h0m-48 2l1 1m27-1h0m21 4h0m-26 5h0m2 0h0m8-4l1 0m9 1l1 0m3 0l1 0" stroke="#5e180b" stroke-width="4.1" stroke-linecap="round"/><circle cx="46" cy="102" r="18.6" fill="#d6d6ee"/><circle cx="10" cy="18" r="20.6" fill="#d6d6ee"/><circle cx="76" cy="72" r="20.1" fill="#d6d6ee"/><circle cx="109" cy="16" r="19.4" fill="#d6d6ee"/><circle cx="11" cy="101" r="18.6" fill="#d6d6ee"/><circle cx="46" cy="102" r="10.6" fill="#e9dfe9"/><circle cx="10" cy="18" r="12.6" fill="#e9dfe9"/><circle cx="76" cy="72" r="12.1" fill="#e9dfe9"/><circle cx="109" cy="16" r="11.4" fill="#e9dfe9"/><circle cx="11" cy="101" r="10.6" fill="#e9dfe9"/><path d="M41 116l-1 2m-4-4l-1 2m0-4l-3 2m2-7l-4 1m1-5l-3 1m4-5l-4 1m4-2l-3-2m5-4l-3-1m10-3l0-3m5 3l-1-4m6 5l2-4m2 7l2-2m-2 4l3-2m1 4l3 0m-2 6l3 0m-4 2l3 1m-3 4l2 1m-8 1l3 3m-5 0l2 4m-5-4l1 3m-5-3l-1 3m-17-91l2 1m-6 1l3 1m-7 2l2 2m-3 1l1 3m-3-3l0 4m-6-3l0 2m-2-3l-1 2m-3-2l-1 2m-2-6l-2 4m-1-5l-3 2m2-7l-3 0m2-3l-2 0m2-4l-2 0m3-3l-3 0m4-5l-2-2m4 0l-1-2m5 2l-1-4m4-1l-1-3m5 3l0-3m3 3l2-3m1 5l2-2m2 5l2-3m1 6l3-2m-3 3l3-1m1 6l2-1m-5 3l4-1m47 40l-2-4m5 5l0-4m2 4l2-2m3 3l2-3m0 5l3-2m-1 4l2-1m0 6l3-1m-2 4l3-1m-4 6l3 1m-4 1l4 1m-5 4l2 1m-6 1l2 3m-4-3l1 3m-6 0l1 4m-7-5l-1 3m-6-6l-1 1m-1-5l-3 1m0-5l-3 1m2-5l-2 1m7-7l-3-2m5-1l-4-2m4-2l-2-2m6-1l-1-2m25-37l-3 1m4-3l-3 0m3-5l-3-1m4-3l-3-2m6 0l-2-2m7 0l0-3m5 1l1-2m3 6l0-4m5 6l2-2m1 6l3-3m-1 4l4-1m-5 6l4 1m-4 2l3 1m-3 4l3 1m-4 2l1 2m-5-2l2 3m-6-2l2 4m-4-1l0 4m-5-4l0 4m-4-5l-2 3m0-6l-2 4m-2-6l-3 1m3-5l-3 3m-84 64l-1-3m5 3l1-3m1 4l1-3m2 5l4-2m0 4l3-3m-3 6l3-3m-1 7l3 0m-2 2l3 1m-5 4l4 1m-10 6l1 3m-5-1l1 3m-5-4l0 3m-5-6l-2 3m-1-4l-2 2m1-5l-2 2m1-6l-4 1m4-4l-3 1m3-5l-3-1m4-2l-2-1m5-2l-2-2m3-1l-1-2" stroke="#8796d4" stroke-width="3.6" stroke-linecap="round"/></svg>
<rect x="1905.1" y="725.4" width="120" height="119" fill="#9a9a9a" filter="url(#sh)"/><svg x="1903.5" y="723.8" width="120" height="119"><g filter="url(#bl)"><use href="#q00" class="sR"/><use href="#q01" class="sM"/><use href="#q02" class="sR"/><use href="#q03" class="sM"/><use href="#q10" class="sb"/><use href="#q11" class="sR"/><use href="#q12" class="sg"/><use href="#q13" class="sM"/><use href="#q20" class="sM"/><use href="#q21" class="sg"/><use href="#q22" class="sg"/><use href="#q23" class="sb"/><use href="#q30" class="sg"/><use href="#q31" class="sR"/><use href="#q32" class="sg"/><use href="#q33" class="sR"/></g><path d="M20 2l1 1m13-3l0 1m7 1l-3 1m46-3l-3 1m-55 8l-1 4m16-5l2 2m1-2l-1 1m20-1l-3 1m8-3l-2 0m37 3l-2 1m-93 1l-1 3m39-3l-3 1m42 1l-2 1m-69 5l2 2m51-3l-1 0m13 0l2 0m38 0l-1 2m-115 4l-1 0m5-1l-3 1m49 0l1 2m2-3l2 2m3-3l-1 3m7-2l0 2m19-4l-1 0m3 3l0 2m17-4l-1 2m9-2l-1 0m10 1l-1 0m-104 7l-1-1m17-2l-1 0m20 2l1 1m20 0l-4 1m27-2l3 1m2-3l-2 1m18 2l1 0m-69 5l-4 1m16 0l3 1m26-2l-2 2m6-3l-1 0m12 1l-1 3m-71 2l-1 1m9 0l-2 0m12-2l4 0m45-1l-2 3m19 0l-2 1m-88 4l-2 1m22-2l0 4m17-5l-1 1m-25 6l-1 3m59-3l-3 3m-40 1l-2 1m56 1l2 0m6 0l-2 1m-66 3l-1 1m18-2l-1 1m-6 5l2 2m4-2l-2 0m44 3l-2 0m18 1l-1 1m-111 4l-3 2m17-3l-2 0m74-1l-1 0m-79 7l-3 2m11-2l-3 1m32-4l-2 1m38 2l-1 1m-72 4l-3 0m100-1l1 2m-88 2l0 1m91 1l1 3m-94 3l-3-2m37 2l-1 1m24-2l-1 3m16-4l-4 1m25 0l1 0m4 1l-1 4m-4 0l1 3m-100 3l-2 2m103-1l-2 0m-97 3l-1 2m17-2l-1 1m10 2l-1 1m37-3l-2 1m31 1l-3 1m-73 1l-2 3m14-1l-2 2m28 0l-3 2m21-2l-3-1m26-2l-2 3m6-3l3 0m3 1l-3 1" stroke="#b4563a" stroke-width="4.0" stroke-linecap="round" opacity="0.88"/><path d="M0 6l-2 1m29 0l-1 2m10-4l0 1m14 8l-2 1m42-2l1 1m14-1l0 2m0 1l-1 1m8 3l-2 1m-90 4l-1 1m-13 4l-1 1m24-2l-2 1m41-2l-1-2m46 16l-1 1m-99 1l1 1m11 0l-1 1m96-1l-2 1m-117 6l-2 0m53-1l-1 1m27-1l-1 1m-66 4l-1 1m31-3l-1 1m42 3l-1 0m-64 5l0 2m8-3l-1 2m14 5l-3 0m6 6l-1 2m27-2l0 1m-65 1l-1 1m84 2l1 2m35-5l-1 2m-104 6l-2 0m47-3l-1 2m36 6l-2 0m-58 4l0 2m15-1l0 2m-13 8l-1 0m10 3l-1 1m23 2l0 1m4-1l-2 1m-44 3l-2 1" stroke="#98a6dc" stroke-width="3.9" stroke-linecap="round"/><path d="M31 0l-2 1m22-1l-2 0m53 0l-1 0m9 1l-1 0m-1 5l-2 2m10 1l0 2m-115 2l0 2m38 2l-1-1m7 1l-2 1m46 0l-1 1m-62 5l-2 0m4 0l-1 1m74-3l0 1m-55 7l0 1m43-4l-1 1m-54 5l-1 2m38 1l0 2m7-4l-2 1m43-1l-1 1m-110 6l3 1m14-1l-1 0m7-1l-2 2m29-4l0 2m2-1l1 2m23-3l-2 1m14 0l-1 1m-93 7l-1 0m65-4l1 1m16 2l-2 0m27 0l-2 1m-99 5l-2 1m8 0l1 0m2 0l-1 0m7-2l-2 1m36-2l0 2m54-2l-1 2m-82 6l-1 0m46 0l0 1m25-3l-1 1m5 0l2 1m7-1l0 1m11-2l-1 0m-118 8l-1 0m13-1l-2 1m62-4l0 2m28-1l-1 1m3 2l-1 0m15-2l-2 0m-109 4l-1 0m19 3l-1 1m49-2l-2 1m11-3l-1 1m9-2l1 0m3 3l1 2m17-3l0 1m-110 3l-1 1m34 1l-2 1m11 1l-1 1m40-2l-2 1m30-1l-2 1m6-1l-1 2m-98 1l0 1m17 1l-1 0m7 1l-1-1m39-2l-2 1m19-1l-3 0m-61 7l-1 0m16 1l1 2m10-2l-1 0m38 1l-1 1m15-3l-2 1m12 1l-2 0m-63 3l0 3m-34 2l1 3m25-4l2 0m26 1l-1 1m19 1l-1 0m16-2l-1 1m9-2l-2 0m-111 7l1 1m4-1l-2 1m14-1l-1 0m8 1l-1 1m27 0l-1 1m39-2l-2 0m-63 7l-1 2m5-2l-3 0m28-2l-1 2m12-1l-2 0m19-2l-2 1m5 2l-1 0m8-1l1 1m-87 3l-2 0m4 1l-1 1m80-1l-2 1m8-2l-2 0m-88 5l0 1m5 2l-1 1m10-4l-2 1m6-1l-1 0m34 1l1 2" stroke="#6f82cc" stroke-width="3.9" stroke-linecap="round"/><path d="M8 0h0m3 3h0m35-1h0m12 1l0 1m2-2l-1 0m16 1l0 2m2-5l-1 0m14 3l-1 1m6-3l-1 1m12 1h0m10-2l-1 1m-109 6h0m5-3h0m8 4l-1 0m34-3l-1 1m7-2l-1 1m14 0l-1 1m11 1h0m5 0l-1 0m5 1h0m4 0l1 0m15-4l0 1m-96 5l-1-1m6 2h0m2 0l0 1m8-2l0 1m29-1l1 1m4 0l-1 0m4 1h0m5 2l0 2m28-5l-1 1m13 1l-1 0m7-1h0m-98 6h0m32-3h0m10 0l-1 0m11 3l0 1m14 0l-1 1m11-2l1 1m3 0l-1 0m24-2h0m-86 5l-1 0m5-1h0m7 0l1 1m27 1l-1 0m5 1l-1 1m17-3l-1 1m-92 5l0 1m9 0l0 1m30-4l-1 1m18 3h0m2 0l0 1m18-4l-1 1m31 0l-1 0m4 0l-1 1m-107 3h0m16 2h0m4-2h0m8 2l-1 0m17 1l-1 1m9-1h0m44-3l-1 0m12 1l-1 1m-61 5l-2 0m20-2l-1 0m9 2h0m33 1l-1 1m-70 2h0m5 1h0m11 1l-1 1m43-1l1 1m5-3h0m13 1l-1 1m-84 6l-1 1m18-3l-1 0m22 1l-1 1m22-2l-1 0m31-1l0 1m-110 6l-1 1m40 1h0m10-3h0m-47 6l-1 0m22 1l1 1m10-1h0m9 1l-1 0m41-3l0 1m6 2l-2 1m19-3l-1 0m-110 6l-1 0m17 3l-1 0m12-3l0 1m-2 8h0m17 4l-1 0m73-3l0 1m-112 5h0m88 2l0 1m8-2l-1 0m-86 5h0m15-2l0 1m8 3l-1 0m56-2l-2 0m13-1l-1 0m10 2h0m-100 7l-1 0m30-3l-1 0m27 0h0m18-1l1 1m-57 8l0 1m5-1h0m6-3l-1 0m8 4l-1 0m12-1h0m28-2l-2 0m12 0l-1 0m6 3l-1 1m9-5l0 1m-52 5h0m15 2l0 1m34-3l-1 1m6 0l2 0m-87 6h0m28-1h0m6 1h0m2-3l0 1m33 3h0m5-2h0m6-2h0m13 2h0m-78 5h0m15 1l1 1m11-2l-1 1m19-1l-1 0m17 2h0m5-2l0 1m-75 4l-1 0" stroke="#5e180b" stroke-width="4.1" stroke-linecap="round"/><circle cx="70" cy="77" r="18.1" fill="#d6d6ee"/><circle cx="19" cy="103" r="18.1" fill="#d6d6ee"/><circle cx="70" cy="77" r="10.1" fill="#e9dfe9"/><circle cx="19" cy="103" r="10.1" fill="#e9dfe9"/><path d="M82 86l2 1m-9 1l2 4m-6 0l-1 3m-5-6l-2 2m-2-5l-2 3m1-6l-2 1m0-4l-3 2m2-6l-2 0m3-1l-4-1m7-4l-4-1m4-1l-2-3m4 0l-1-2m6 2l-1-2m5 0l0-2m3 2l1-2m2 4l1-2m1 5l2-2m-1 6l4-2m-2 6l4-1m-3 2l3 0m-54 29l3 0m-6 3l2 1m-4 2l2 4m-6-2l2 3m-3-2l0 3m-4-1l0 4m-4-4l-1 3m-2-5l-2 2m-1-6l-2 2m0-5l-2 1m0-3l-3 1m3-5l-4-1m7-1l-4-2m4-4l-2-2m6 1l-3-3m6 2l-2-4m5 2l0-4m3 4l1-2m2 3l1-4m2 7l4-2m0 3l2-2m-1 7l3-1m-3 3l2 0" stroke="#8796d4" stroke-width="3.6" stroke-linecap="round"/></svg>
<rect x="2049.8" y="725.4" width="120" height="119" fill="#9a9a9a" filter="url(#sh)"/><svg x="2048.2" y="723.8" width="120" height="119"><g filter="url(#bl)"><use href="#q00" class="sM"/><use href="#q01" class="sg"/><use href="#q02" class="sp"/><use href="#q03" class="sw"/><use href="#q10" class="sg"/><use href="#q11" class="sM"/><use href="#q12" class="sp"/><use href="#q13" class="sb"/><use href="#q20" class="sR"/><use href="#q21" class="sR"/><use href="#q22" class="sp"/><use href="#q23" class="sM"/><use href="#q30" class="sM"/><use href="#q31" class="sg"/><use href="#q32" class="sR"/><use href="#q33" class="sg"/></g><path d="M25 0l1 1m-11 8l1 0m11-3l1 0m-14 8l1 1m62-2l-1 2m-57 5l0 2m10-3l3 1m-26 1l2 3m12-2l1 1m54-1l1 1m-64 8l1 1m21-1l0 2m54-2l1 1m-55 4l2 0m27 2l2 1m53 2l1 1m-118 3l1 1m37 1l3 2m16-4l3 1m-26 6l4 1m33-3l3-1m-56 9l2 2m4-5l2 0m72 3l1 2m16-4l3 2m-65 3l1 1m-35 5l1 1m28 0l1 2m10-4l3 0m25 3l2 3m18-3l3 1m6-2l4 1m-121 2l1 1m19-1l2 0m2 1l2 1m7-1l-3 0m17-1l1 0m24 2l4 1m-75 7l2 4m6-6l-1 0m4-2l2 1m14 1l2 1m4-3l2 3m36-1l2 0m-44 4l0 3m15-4l1 1m12 3l2 1m31-3l3 3m-75 1l1 2m31 1l3 1m2-1l3 1m42-3l1 2m5-1l1 3m-94 4l1 2m2-2l2 3m22-7l0 1m45 1l2 2m0-3l3 2m-29 4l3 1m23-3l0 2m-61 8l1 1m58-3l-3 1m17-3l3 2m1 2l4-2m-39 5l2 3m1-1l0 3m18-4l2 0m-87 5l3 2m8-2l3 0m47 0l3 0m10 4l0 2" stroke="#b4563a" stroke-width="4.0" stroke-linecap="round" opacity="0.88"/><path d="M5 0l0 2m7 0l1 0m31-1l2 2m-44 2l1 0m33 10l1 1m9-5l2 2m4-1l1 1m-50 10l2 2m17 0l-1 2m13-4l0 2m-5 3l1 0m77 3l1 1m-63 3l-1 2m-27 2l2 1m80 0l1 1m8-1l-1 1m-58 5l0 1m14 3l0 2m41-2l-1 1m-86 9l-1 1m28 16l1 2m-46 3l1 2m121 0l1 1m-34 4l0 1m-88 10l2 1m71-1l1 1m8 1l2 1m14-3l1 1m20 0l1 1m-51 5l-2 2m44-4l1 2m4-3l2 1m-103 7l0 3m68-5l2 1m-61 6l1 1m22-1l2 2m56-2l2 1" stroke="#98a6dc" stroke-width="3.9" stroke-linecap="round"/><path d="M39 0l2 1m12 0l1 1m-8 4l1 2m-29 3l2 2m4 2l2 0m3-4l3 1m7 2l1 1m-37 5l1 2m4-3l2 1m15-1l1 1m16 0l2 1m-33 1l1 1m33 2l-1 2m-40 1l2-1m14 2l0 1m21-1l1 0m10-2l-1 0m6 0l2 2m58-1l1 1m-78 4l2 0m79 0l0 2m-118 7l1 0m11-1l1 0m34 0l1 1m46-1l-2 0m14-1l2-1m-64 5l1 0m31 0l3 0m4 0l2 1m2 1l1 2m17-1l3-1m0-2l2 1m-97 8l2 1m4-3l1 0m23 2l2 0m46-4l3 1m24-1l2 0m-117 6l2 1m23-1l-1 1m8 0l3 1m21-1l2 2m11-2l2-1m18 2l-1 0m-4 7l2 1m27-5l-2 1m-17 7l-2 0m15-2l2 1m-7 8l0 1m3-5l-2 1m-67 6l-1 0m53 1l2 0m8-3l1 1m7 0l2 1m4 0l1 0m-6 8l2 1m-114 3l2 1m4 0l1 1m4-1l1 0m16-3l2 1m-25 8l0 1m17-4l2 2m75-3l1 1m20 3l1 0m-110 2l0 1m28-2l1 1m6 4l2 1m61-2l2 1m-90 3l1 2m72-1l1 1m5 3l0 1m7-2l1 0m1 4l1 0m-109 5l0 1m31-2l1 0m24-2l2 0m0 0l1 0m40 1l0 1m12 1l1 0m2 0l1 0" stroke="#6f82cc" stroke-width="3.9" stroke-linecap="round"/><path d="M0 4h0m17-3l1 1m17-2h0m-19 8l1 1m-14 3h0m2 2l1 1m5 3l1 0m78 0l1 0m-84 12l1 1m37 0l-1 0m-32 2h0m16 1h0m21 1h0m-41 4h0m26 0l1 1m3 0h0m-5 6l0 2m-6 2l1 0m11-1h0m11 2l1 0m5 1l1 1m31 0l0 1m14-3l1 1m10 1l1 1m-115 1l0 1m14 3l0 1m20-2h0m19-3l2 1m-48 8l1 0m34-4h0m2 3h0m51 1l0 1m-82 0h0m13 4h0m6-3l-1 1m4 0l-1 1m9 1h0m13 0l1 1m12-1l0 1m27-3l1 0m-91 4h0m8 0h0m14 2l1 1m11 1l1 0m13-2h0m63 0l1 0m-100 6l-1 1m8 1l-1 0m27-1l1 0m51-3l1 1m-96 5l1 1m3 0l1 1m7-3l1 1m21 2l1 1m10-3l1 0m15 2l-1 1m16-2l0 1m10 0h0m25-2h0m-54 8l0 1m11-2l-1 1m11 0l1 1m-85 1l2 0m24 3l1 1m5-3l0 1m19 1h0m9-3h0m7 2l1 1m2 0l0 1m9-4h0m-74 9h0m13 0l1 0m7 0l1 0m22-3l1 1m16 1l1 1m40 0l2 0m-110 2l2 1m5 1l1 1m5 0l1 1m58-1l0 1m17-2h0m-87 5l-1 0m5 0l1 2m9 0l1 1m6-1l1 0m7-2l2 0m31 0l0 1m15-2l1 0m-67 5l0 1m62 2l1 0m1 1l1 1m6-2l-1 1" stroke="#5e180b" stroke-width="4.1" stroke-linecap="round"/><circle cx="42" cy="103" r="19.6" fill="#d6d6ee"/><circle cx="14" cy="42" r="19.7" fill="#d6d6ee"/><circle cx="109" cy="104" r="19.8" fill="#d6d6ee"/><circle cx="40" cy="17" r="19.7" fill="#d6d6ee"/><circle cx="42" cy="103" r="11.6" fill="#e9dfe9"/><circle cx="14" cy="42" r="11.7" fill="#e9dfe9"/><circle cx="109" cy="104" r="11.8" fill="#e9dfe9"/><circle cx="40" cy="17" r="11.7" fill="#e9dfe9"/><path d="M36 116l-1 4m-2-6l-2 2m-1-4l-2 1m-1-6l-4 2m5-4l-4 1m4-3l-4-1m5-3l-4-2m5-3l-3-1m7-1l-2-2m3 0l-3-4m6 2l-1-3m5 5l0-4m5 2l1-4m1 5l2-3m1 8l2-2m-1 3l2-2m0 6l4-1m-2 4l2-1m-6 9l3 3m-2 0l1 2m-5 1l1 3m-3-2l2 2m-6-1l-1 3m-27-66l0 4m-5-3l0 4m-3-5l-1 3m-1-5l-2 3m-2-6l-2 1m-1-3l-2 0m3-5l-2 1m0-5l-3 0m6-3l-2-1m4 0l-3-3m5-1l-2-3m8-2l0-4m3 5l-1-2m4 4l2-4m3 4l2-3m2 6l2-3m1 6l3-2m-3 4l3-2m-3 11l3 0m-6 4l4 1m-5 0l3 1m-6 1l1 3m77 60l-3 3m1-5l-3 2m-1-5l-2 1m3-5l-4 0m4-5l-3-1m6-5l-3-2m3-1l-2-2m7-1l-2-3m5 3l-2-4m5 2l0-3m3 5l1-3m3 2l2-3m2 6l2-2m-1 6l4-1m-1 9l3 0m-4 2l3 2m-6 5l2 1m-5 1l2 2m-5-1l1 4m-5-1l0 2m-4-2l0 2m-3-2l0 2m-68-91l-1 3m-3-5l-1 2m-4-8l-4 1m2-5l-2 0m3-2l-4-1m6-4l-3-3m4 0l-4-2m6 0l-2-2m5 0l-1-4m7 1l-1-3m3 3l0-2m4 5l1-3m3 3l1-2m6 10l2 0m-2 6l3 1m-4 3l4 0m-6 2l2 1m-4 3l1 2m-3 1l2 2m-8-2l2 4" stroke="#8796d4" stroke-width="3.6" stroke-linecap="round"/></svg>
<rect x="1181.9" y="880.6" width="120" height="119" fill="#9a9a9a" filter="url(#sh)"/><svg x="1180.3" y="879" width="120" height="119"><g filter="url(#bl)"><use href="#q00" class="sp"/><use href="#q01" class="sg"/><use href="#q02" class="sg"/><use href="#q03" class="sM"/><use href="#q10" class="sb"/><use href="#q11" class="sM"/><use href="#q12" class="sR"/><use href="#q13" class="sR"/><use href="#q20" class="sR"/><use href="#q21" class="sR"/><use href="#q22" class="sR"/><use href="#q23" class="sR"/><use href="#q30" class="sR"/><use href="#q31" class="sg"/><use href="#q32" class="sR"/><use href="#q33" class="sg"/></g><path d="M111 1l1 3m-110 11l0 3m37-5l2 3m2-4l0 2m10 3l1 1m59 0l2 3m-109 2l-1 2m26-1l0 1m9 0l-1 1m79-4l0 3m-57 4l0 2m45-1l0 2m10-5l-1 1m-92 6l2 2m58-2l-1 3m22-1l1 1m-80 3l1 3m11-2l-2 2m11-2l0 2m20-3l-1 2m17-3l1 4m38-3l1 2m-110 4l2 2m6-2l1 1m40-1l2 3m6-6l2 3m14 0l1 3m15-4l2 3m15-4l2 3m1-2l0 4m-94 1l1 2m12-1l0 3m18-4l0 2m14 0l1 3m15-4l1 4m4-3l2 1m-87 5l-1 2m43-5l3 2m31 1l2 2m31-2l-1 3m5-3l-1 4m-91-1l1 2m6-3l2 3m24 1l-1 2m18-5l-1 1m6 0l-1 2m14-4l0 1m16-1l4 0m-114 7l0 3m8-3l-1 3m6 0l1 1m21-3l1 1m29-1l-1 2m6-3l1 2m26-2l1 3m16-3l2 3m-53 2l-2 1m7-2l0 2m18-1l1 4m11-4l1 1m14 1l-1 4m-109 0l-2 1m59 1l0 4m20-6l-1 1m14-1l1 3m-94 3l2 3m2-2l1 2m49-5l1 3m3 1l1 2m6-4l0 3m-14 1l1 4m30-3l0 2m3-1l1 0m-20 7l-2 2m23-5l2 1m-76 7l1 3m66-5l3 2m24 0l2 2m-111 3l0 1m5-2l1 3m17-4l0 1m39 2l-1 3m28-6l1 1m4 0l1 1m-93 4l0 2m65-3l1 1m8-1l1 1m-77 6l0 3m18-5l0 2m17 1l2 2m48-3l1 4" stroke="#b4563a" stroke-width="4.0" stroke-linecap="round" opacity="0.88"/><path d="M94 1l0 1m24 0l0 1m-96 11l-1 2m57-5l2 2m15-2l0 1m-56 4l-2 0m43 4l0 1m36-3l1 1m-105 2l1 1m53 3l0 2m36-2l0 2m-58 0l0 1m49-1l0 1m-52 8l-1 3m29 14l0 1m-38 15l2 1m14-5l0 1m-11 27l1 1m64 9l0 1m-6 7l-2 2m8 0l2 1m-6 6l2 0" stroke="#98a6dc" stroke-width="3.9" stroke-linecap="round"/><path d="M32 3l0 1m53-1l2 1m-69 2l1 1m16-2l2 2m11 1l1 0m29 0l0 2m9-4l1 1m10 0l-1 1m-47 6l0 1m7-4l0 1m5 0l2 0m-18 4l0 2m10 1l-1 2m7-5l1 1m19 0l1 1m-39 4l1 2m17-2l2 0m9 0l1 1m6 0l1 1m25-2l2 1m-106 8l1 2m9-4l1 3m12-5l1 1m9 2l1 1m5 0l-1 2m33-4l2 1m-72 3l-1 2m17-1l1 1m13-1l2 2m26 5l0 1m-55 3l-1 2m31-1l1 2m2-4l1 0m72 2l-1 2m-77 3l1 1m10-2l-2 0m34-1l1 3m33 0l-1 2m-109 2l0 1m37 1l1 1m16-2l1 0m32-3l1 1m-83 6l1 2m31 1l-2 1m-14 1l-2 1m32 2l0 1m-35 1l1 2m65 1l0 2m-60 4l3 0m24 3l0 2m33-2l0 1m18 12l1 1m15-2l-2 2m-80 2l2 1m52 1l0 1m-44 5l1 0m72-1l1 0m-90 6l0 1m5-2l0 2m21-1l0 2m29-2l1 2m33-1l-1 2m-7 0l0 2m8-2l1 2m-14 4l-1 1" stroke="#6f82cc" stroke-width="3.9" stroke-linecap="round"/><path d="M86 7h0m11-2l0 1m11 0l1 1m10 1h0m-44 3l-1 0m25 3h0m7-2l0 1m4 1l0 2m8-5h0m-45 6l0 1m17-1h0m3 0l1 1m6-1l0 1m7-2l0 1m-25 6l-1 0m14 0h0m17 1l0 1m10 0l0 1m-44 4l0 1m7-2l0 1m14-1l1 1m10-3h0m-97 9h0m39-3h0m5 3l0 1m7-2h0m3-1l0 1m9-1l-1 1m12 0h0m8 1l0 2m5-4h0m13 3h0m5-4l-1 1m4 2l0 2m-93 1l0 1m27 0l0 1m18 0h0m4 0l-1 1m12-3l0 2m8-1l0 1m5-1h0m7 0l2 1m4 0h0m2-1l1 1m-118 6h0m26 0h0m22 0h0m27 0l0 1m6-1l0 1m10-2l1 1m4-3l0 1m12 3l0 2m-107 3l0 1m12-4l-1 1m8 2l0 1m32-5h0m11 2l0 1m20-1h0m19 0h0m16 0l0 1m-100 3h0m6 1l-1 1m23-1l0 1m22-1l1 1m4-2h0m7-1l0 2m14 1l0 2m9-2l1 1m5-2l-1 0m3 0h0m-106 6h0m6-2l1 0m7 4l1 1m25-5h0m13 3l-2 0m11-1l0 2m7-3l1 1m17 2l1 1m7-5l-1 1m9 3l-1 0m9 0h0m-110 5l0 1m29-1l0 1m23-3l0 2m5-2l-1 0m16 2l0 1m8-3l0 1m5 1h0m4-2l-1 1m11 1l0 2m10-5l1 0m-113 8l-1 0m5 0h0m7 0l0 1m10-1l1 1m9-3h0m6-1l1 0m7 3l1 1m1-3h0m7 0l0 1m4-1l0 1m33-1l0 1m14 2h0m4-1h0m-108 5h0m9 0l0 2m6-5h0m12 1l-1 0m6 1l-1 1m5-3l1 1m4 4l1 0m6-2l-1 1m5 0l1 0m9-1l1 1m5 0l0 1m7-3l1 1m21-2l0 1m7 1l1 1m9-1l0 1m5 0l1 1m-109 3h0m11 2l0 1m5-1l1 1m4-2l0 1m6-1l1 0m4-1l-1 2m28-2l0 1m6-2l0 1m13 1h0m8-3l0 1m7 1l1 0m11-1l1 1m-120 5l0 1m9-1l0 1m3 1l0 1m6-2l0 1m5-3l0 1m5-1l1 0m7 0l-1 1m4-1l1 0m12 1h0m11 1h0m5-2h0m5 1h0m6 1l-2 1m19-3h0m8 3l1 1m-105 4l-1 1m8-1l0 1m4 0h0m9 0l0 1m6-4l0 2m3-1h0m15-1l0 1m28 0l0 1m6-1h0m5 0h0m23 2l-1 1m-103 3l0 1m7-3l1 0m4 1h0m9-1l1 1m4 1l0 1m18-3h0m17 3l1 1m3-1h0m6 0l1 0m5-1l-1 1m-67 2h0m7 1l0 1m49-1h0m4 0l0 1m8 1l0 1m4-4l1 0m-75 8l0 1m2 1l0 1m6-4h0m8 2l0 1m14 0l0 1m23-4l0 1m-55 3h0m4 4h0m11-4h0m16 4l1 1m36-4l0 1m2 1l0 1m18 0l-1 1m5-2h0m-75 2l0 1" stroke="#5e180b" stroke-width="4.1" stroke-linecap="round"/><circle cx="73" cy="18" r="20.0" fill="#d6d6ee"/><circle cx="44" cy="101" r="20.4" fill="#d6d6ee"/><circle cx="110" cy="110" r="18.9" fill="#d6d6ee"/><circle cx="73" cy="18" r="12.0" fill="#e9dfe9"/><circle cx="44" cy="101" r="12.4" fill="#e9dfe9"/><circle cx="110" cy="110" r="10.9" fill="#e9dfe9"/><path d="M86 24l3 1m-5 1l3 2m-5 3l1 3m-3-2l1 2m-5-1l1 2m-6-2l-1 2m-1-3l-2 4m-1-6l-2 4m-1-7l-2 4m-2-5l-2 2m1-5l-4 0m5-4l-4 0m4-7l-3-1m4-3l-2-2m4 0l-3-3m11-1l0-3m3 4l0-3m4 1l0-2m4 6l1-2m0 4l2-2m4 8l4-1m-5 4l2-1m-1 4l4 2m-42 65l2-2m1 5l3-2m0 4l2-2m-1 7l4-1m-2 4l4-1m-3 4l3 0m-5 5l3 1m-5 5l1 2m-7-1l2 3m-4 0l0 2m-3-1l-1 4m-8-8l-2 3m0-4l-2 4m-2-6l-3 3m1-7l-2 2m2-7l-3 1m4-2l-3-1m3-4l-2-2m2-1l-2-1m6-1l-1-2m5-2l-1-2m8 2l1-3m3 3l1-2m65 12l1-4m0 5l2-3m2 3l2-2m3 10l3-1m-2 5l3 0m-6 6l3 2m-5 1l4 2m-8 0l1 3m-8 1l1 3m-4-5l0 2m-5-2l-1 2m1-5l-2 2m0-5l-2 1m1-4l-3 1m0-5l-3 0m4-5l-4 0m4-3l-2-2m6 0l-3-1m6-2l-2-3m6 3l-1-3m4 1l-1-4" stroke="#8796d4" stroke-width="3.6" stroke-linecap="round"/></svg>
<rect x="1326.5" y="880.6" width="120" height="119" fill="#9a9a9a" filter="url(#sh)"/><svg x="1325" y="879" width="120" height="119"><g filter="url(#bl)"><use href="#q00" class="sg"/><use href="#q01" class="sg"/><use href="#q02" class="sg"/><use href="#q03" class="sR"/><use href="#q10" class="sg"/><use href="#q11" class="sR"/><use href="#q12" class="sR"/><use href="#q13" class="sM"/><use href="#q20" class="sR"/><use href="#q21" class="sR"/><use href="#q22" class="sM"/><use href="#q23" class="sR"/><use href="#q30" class="sR"/><use href="#q31" class="sR"/><use href="#q32" class="sb"/><use href="#q33" class="sp"/></g><path d="M13 2l-1 0m78 0l-1 1m11-3l0 2m8 0l-1 0m12 0l-3-1m-4 4l-1 1m-10 5l-1 0m6 3l-2-2m8 2l-3 2m10-5l-1 1m4-1l-2 1m-34 7l1 2m5-1l-4 0m14-4l-2 0m12 2l-2-1m5-1l0 3m-40 4l-1 0m36 1l-2 0m10-1l-1 1m-66 5l-2 3m7-5l2 2m45-2l-1 1m-45 8l2 1m7-4l-3 0m26 3l-2 0m-47 5l0 4m28-4l-1 2m50-4l-4 0m-56 7l-2 1m6-1l-1 1m51-3l-2 1m-46 7l-1 1m53 0l-3 1m-109 3l0 1m52 0l-4 0m10-3l-3 0m9-1l0 2m5 2l1 4m7-4l-1 3m14-6l0 1m-62 5l-1 0m28 2l-3-1m22 0l-1 1m12 1l-3 0m9 0l2 2m19-6l-3 0m-40 5l-3 0m36 2l-2-1m-83 8l-1 1m38-3l2 3m8-2l-2 4m13-3l-4-1m32 1l-2 0m17-2l0 1m-122 5l-2 2m16-1l-2 0m14-2l-2 1m4 1l-4 1m12-4l0 1m38 1l-3 1m36-1l2 2m11-2l-3 0m-116 8l-4 2m25-5l-1 1m7-1l-1 1m45 1l-3 2m15-5l-3-1m11 3l-3 0m-81 3l-3 0m15 3l-2 1m12-3l-4 0m8 4l-2 0m21-3l-1 0m-33 8l-1 0m5-4l-2 1m18 0l-1 1m20 0l-2-1m23-1l1 0m18 2l0 4m13-5l-2 1m-94 7l-3 1m5-3l-1 1m13-1l3 2m11-1l2 2m52-2l-2 1m-83 4l-4 2m17-3l-3 0m7 0l-3 0m16 2l-3 1m46-4l-3-2m13 6l-1 1m12-4l2 1m-73 4l-3 2m69-2l0 1m-70 6l-1 1m6 0l-2 1m9-3l-1 0m3-1l-2 2m26-1l-1-1m-67 6l-1 2" stroke="#b4563a" stroke-width="4.0" stroke-linecap="round" opacity="0.88"/><path d="M3 8l2 1m13-2l-2 0m-3 7l-1 1m4-2l1 1m-10 4l1 0m86 0l-2 0m-91 11l-1 1m11 1l-2 0m2 5l-2 0m4 4l-1 0m60-2l0 3m-56 7l0 2m78 2l-1 0m13 0l-1 1m-74 4l-1 2m78-4l2 0m-69 7l-1 2m44 0l-2 1m20-5l-1 1m-37 13l0 2m22-2l1 1m-21 3l-2 0m-6 4l-1 1m51 8l-1 0m-35 4l-1 0m51 6l0 2m-48 3l1 1m2-1l-1 1m-13 4l-2-1m16 6l1 0m12-1l-1 1" stroke="#98a6dc" stroke-width="3.9" stroke-linecap="round"/><path d="M2 1l-2 1m18 0l-2 2m10-3l-2-1m6 3l-1 0m4 0l-2 0m16-3l-2 0m15 1l-2-1m19 0l-1-1m-65 7l-2-2m13 5l-2-1m9-2l-1 1m11-1l-1-2m7 4l0 2m60-5l-2 2m-79 7l-1 0m15-4l-2 0m10 2l-1-1m21 3l-2-2m8 0l-1 1m19 1l-1-1m-66 4l-2 0m13 2l-1 1m6-2l-1 2m9-1l-1 0m17-3l1 2m7 0l1 2m35-2l-1-1m-94 7l-2 1m26-1l-2 0m5-2l-2 0m10 0l-1 0m19 0l-1 1m13-1l-2 1m46-1l2 0m-96 6l-2 1m12 2l-1 1m10-4l-2 0m26 1l-1 1m-46 7l-2 0m29-1l-2-1m26-2l-1 1m31 2l-2 0m8-1l-2-1m8 2l-1 1m-112 5l-1 3m-1-1l0 1m22 2l1 2m47-5l-1 0m48 2l-1 0m-111 3l-1 1m15 1l1 0m2 1l-2 0m80-2l-1 2m13 0l-2 1m-27 5l-1 0m36-1l1 1m-108 3l-1 1m94-1l-2 1m-35 5l0 1m-39 6l-2 0m32 6l-2 1m20-1l-1 0m-7 2l-2 0m-1 8l-1 1m-13 5l-1 2m32-3l-2 1m3 6l-1 0m8-1l-2 1m-33 4l-1 0m-2 6l-2 1m23-4l1 1m-51 7l2 1m49 0l1 3m7-2l-2 1m-24 1l-1 2" stroke="#6f82cc" stroke-width="3.9" stroke-linecap="round"/><path d="M110 2l-1 0m11-1l-1 0m-24 5h0m5 1h0m17 2l-1 0m-34 3h0m11 0l-2 0m-36 13l-1 0m34 0h0m8-1l-1 0m7-2l-1 0m6 3l-1 0m-67 6l-1 0m22-4l-2 1m20-1l-1 0m15 2l0 1m5 0h0m8-1h0m5 1h0m5-2l-1 0m-114 5l-1 0m28 1l-1 0m12 1l-1 0m8 0l1 1m17-2h0m15 2h0m4-2h0m14 1h0m5-3l-1 0m-71 9l-1 0m24 0l1 0m3 0h0m8-2h0m13 1h0m13 1h0m3-3l-1 1m15 1l-1 0m-71 7h0m6-1l-1 1m7-3l-1 0m21 1h0m11 0h0m7 1h0m6 2l-1 0m6-2h0m4-1l-1 0m5 3l-1 1m-75 1h0m7 0l-1 0m5 1h0m5-1l-1 0m7 0h0m6 1l-1 0m13 0l-1 0m4 2l0 1m9-2h0m-41 3h0m7 2l-2 0m6 1h0m39 1l-1 0m11-2l-2 0m15 0l-1 0m11-1h0m-120 7l-1 1m5-1l-1 0m42-1l-2 0m5 1l-2 1m14-3l-1 0m5 0l-1 0m10-1h0m-75 9l-1 1m7-2h0m13-1l-1 0m3-1l-1-1m14 1l-1 0m7 1h0m5 0l-2-1m7 1l-1 1m9 0h0m5 0l0 1m17 0l-1 0m5-2h0m4 0l-1 0m7 2l-2 0m7-3l-1 0m12-1l-1 0m11 3h0m-118 4h0m3-1l-1 0m8 0l1 1m12 2l0 1m11-3h0m5 1h0m3-1l-1 0m52 3h0m17-1h0m7-1h0m-112 7l-1 0m12 0l-1 1m21-5l-1 0m7 3l-1 1m9-3h0m32 0l-1-1m29 1h0m-103 7l-2 0m7-1h0m5 1h0m17-1l-2 0m6 0l2 1m4 1l-2 0m9 1l-1 1m10-3l-1 1m17 0h0m18-2l1 1m15 0l-2 0m9 1h0m2 0h0m-118 5l-1 0m9-1l1 1m12-2l-1 0m16 1l1 1m6-3h0m10 2l-1 0m8-1h0m26 1h0m28 1l0 2m-114 2l-1 0m4 2l-1 1m8-3l-1 0m17-1l-1 0m4 2h0m56-1l-1-1m30 3l0 1m-115 4l1 1m3 0l-1 0m19-2l0 1m12-2h0m10 3l-2 0m5-3h0m13-1l1 1m3 2l-1-1m10 0h0m28 1l-1 0m9-3h0m-109 6l1 1m3 1l-1 0m13-1l-1 0m17 1h0m13-1l-1 0m5 2l-1-1m14-1l-1 1m4 2l0-1m-66 3l-1 0m6 0l0 1m5-1l-1 0m10 1l-1-1m5 2l-1-1m6 2l0-1m11-3l-1 0m8 3l-2 0m12-2l-1 0m-53 8l0 1m3-3l-1 1m6-1l-2 0m9 1l-1-1m36 3l-1 0m5-3l-1 1" stroke="#5e180b" stroke-width="4.1" stroke-linecap="round"/><circle cx="16" cy="18" r="20.5" fill="#d6d6ee"/><circle cx="79" cy="13" r="18.3" fill="#d6d6ee"/><circle cx="16" cy="18" r="12.5" fill="#e9dfe9"/><circle cx="79" cy="13" r="10.3" fill="#e9dfe9"/><path d="M3 11l-3-1m3-4l-2-1m6 0l-3-2m9-2l-1-3m6 5l1-3m3 5l1-4m2 4l3-3m-1 6l2-1m2 4l2-1m-3 4l4-1m-3 4l2-1m-4 8l3 1m-5 4l2 2m-4-1l2 3m-10-1l-1 4m-3-3l0 3m-6-6l-1 4m-2-5l-3 2m1-7l-4 0m1-2l-3 1m5-6l-4-1m4-1l-3-1m72 9l-3 2m0-5l-2 1m1-3l-3 0m2-4l-3-1m3-3l-3-1m7-3l-2-3m3 0l-1-2m4 1l-2-4m5 2l0-2m3 3l0-4m4 4l1-3m2 4l3-3m1 4l2-3m0 8l2 0m-3 3l4 1m-2 3l3 0m-6 5l2 3m-5 1l2 2m-9 0l1 4m-5-3l0 3m-3-5l-1 4" stroke="#8796d4" stroke-width="3.6" stroke-linecap="round"/></svg>
<rect x="1471.2" y="880.6" width="120" height="119" fill="#9a9a9a" filter="url(#sh)"/><svg x="1469.6" y="879" width="120" height="119"><g filter="url(#bl)"><use href="#q00" class="sR"/><use href="#q01" class="sM"/><use href="#q02" class="sb"/><use href="#q03" class="sw"/><use href="#q10" class="sR"/><use href="#q11" class="sM"/><use href="#q12" class="sp"/><use href="#q13" class="sb"/><use href="#q20" class="sM"/><use href="#q21" class="sb"/><use href="#q22" class="sp"/><use href="#q23" class="sM"/><use href="#q30" class="sb"/><use href="#q31" class="sp"/><use href="#q32" class="sM"/><use href="#q33" class="sR"/></g><path d="M8 3l2 2m12-2l-3 1m15-4l-2 0m8 2l-3 1m19-2l-1 0m-53 7l-2 1m8-3l-3-2m6 4l-2 0m13-2l-4 1m28 1l-3-1m41 2l1 3m-61-2l-2 1m6 1l-4 1m-5 5l-2-3m15 4l-2 1m11 0l1 1m13-4l-1 0m-29 6l1 2m-23 5l0 1m4-3l-4 0m21 3l-3 1m24-3l1 2m-44 4l-3-1m13 1l-3 0m10 1l-2 2m21-4l-1 0m12 2l-4 0m-29 4l-3 1m11-2l-4 1m5 6l-2 1m13-3l-2 3m10-2l-1-1m8 3l1 0m3-2l-1 3m39 0l-1-1m24-1l-1-1m-71 7l-4 1m43-3l-1 1m17 0l2 2m18-3l-2 0m-105 9l-2 1m7-3l3 2m38-1l-3 2m-48 1l-3 1m15-1l-3-1m9 3l-1 3m22-3l-2 0m53 0l-2 0m-93 5l-3 0m52-1l-2 2m30 0l-3 1m-55 2l-3 2m11 1l-3 1m10-4l-2-1m4 2l-3 0m-28 6l-2-1m5-1l0 2m106-2l-1 2m-90 7l-1-1m21-2l0 1m5 1l-1 2m33-1l-3 0m14-2l-2 0m10 1l-1 1m17 0l-2 0m-24 5l-1-1m14 1l-1 3m18-5l-2 1m-105 4l-3-1m67 3l-3 0m-13 7l-3 0m24-4l-1-1m13 1l-2-1m12 0l-3 2m9 1l-2 0m-35 4l-1-1m13 3l-1 4m-24 0l-2 1m18 1l-4-1m39 0l-2 2m-37 4l-3-1m8 0l-2 1m9 1l-3-1m8-1l-2-1m6 3l-2-1m6-1l-2 0m13-2l-1 1m8 1l-4-1m5 4l-2-1" stroke="#b4563a" stroke-width="4.0" stroke-linecap="round" opacity="0.88"/><path d="M75 3l1 2m11-5l0 1m-55 7l-3 0m67 11l-2 0m-37 11l-1 2m35 3l-1 1m7-1l-1 0m-36 6l-2-1m53 1l-2-1m-1 5l-1 0m-62 13l2 0m13 6l-1 1m-17 3l-2-1m60 0l-1 2m18 0l-2 1m-65 4l0 1m-25 4l0 1m83-3l-2 2m-31 7l-1 1m-57 2l-1 0m25 13l-1 0m-37 3l-2 1m28-1l-1 2m50 0l-1 0m-65 6l-2 0m7 4l-1 2m64 1l-2 1m5 0l-2-1" stroke="#98a6dc" stroke-width="3.9" stroke-linecap="round"/><path d="M46 4l-2 0m40-3l-1 0m12 2l-3 0m-62 4l-2 2m23-1l-2 0m30 0l-2 1m-28 2l-2 0m16 3l-2 1m55-2l-2-1m-84 7l-2 1m20-3l-2-1m15 0l-3-1m27 3l-2 0m38 1l-1 1m-103 3l-1 2m40-3l-2 0m9 1l-1 2m12 0l0 1m6-1l-1-1m10 0l-2-1m17 1l1 2m-54 4l-1 2m14-5l-3 1m32-1l-2 0m22 3l-1 1m5-1l-1 0m-70 6l-2-2m23 1l-1 1m39-1l-1-1m-61 7l0 2m56-4l-2-1m19 1l-1 0m-16 4l-1 0m-79 9l-1 0m12-3l-1 0m9 3l-1-1m18 2l-1 0m50-4l-1 1m10 0l-2-1m-84 7l1 2m7 0l-3 0m29-2l1 1m22 1l-1 1m6-4l-1 1m28 2l-2 0m7-3l0 2m-108 5l-1 2m21-4l2 1m5 1l-1 0m63 1l-2 1m-95 1l-2 0m17 3l-2 1m11-2l-3 0m8 0l1 0m59 2l-1 1m11-2l-1 3m8-5l-1 1m-98 6l-1 0m45-1l-1 0m51 2l-1 0m5 1l-2-1m-89 4l-2 1m19-2l-2 1m11-1l-3 0m10 3l-1 2m36-4l-1 0m27 2l-1 0m-82 3l-3 1m14 0l-1-1m72-1l-2 0m-85 8l-3-1m18-1l-2-2m30 2l-1 0m12 0l-2 0m-75 6l-1 0m18-1l-1 1m-11 6l-1 0m17 1l-1 1m5-3l-2 0m20 0l-2-1m15 1l1 2m32 0l-2 0m-77 7l-1 0m7-3l-2 0m19 0l-2 0m16 0l-1 0m41 0l-2 0m14 2l-1 1m-92 3l-2-1m15-1l-3 0m65 3l0 1m16-3l-2 1m-86 8l-2 0m31-3l0 2m18-2l-1 0m-19 5l-1 0" stroke="#6f82cc" stroke-width="3.9" stroke-linecap="round"/><path d="M3 0l-1-1m11 3l-1 0m8-1l-1 0m33 2l-1 0m10-2l-1 0m47-1l-1 1m-87 6l0 1m22-1l-1 0m22 0l-1 0m-57 4l-1 1m2 0l-1 1m9-1l-1 1m5 1l-1 0m21-2l-1 0m8 0l-1-1m13 0l1 1m-57 7h0m5-1l-1-1m8 1l-1 0m12-2l1 0m27 4h0m-52 5l-1 1m11-3l-1 0m3 0l-1-1m30 2h0m4-2l-1 1m10 2l-1 1m-39 2h0m7 0h0m11 2h0m5-1l1 1m4-1l-1 0m29 1l0 1m-62 2l-1 0m16 2l0 1m8-3l-1 0m-29 7l-2 0m11 1h0m1 1l-1 0m19-1l-1 0m9 1h0m2 0h0m12-4h0m-50 6l-1 1m6 2l-1 0m7-2h0m6-1l1 0m13 4h0m-29 1h0m5 0l-1-1m6 2l-1 1m11 1l-1 0m13 0l-1 0m18-1l0 1m21-2h0m-71 7l0 1m4-4l-1 1m17 3h0m21 0h0m53-2l1 0m5-1l-1 0m5 2l-2 0m-103 5l0 1m31-2l1 1m-20 6h0m11-1l1 1m20-2l-1 0m45 0l-1-1m-86 6l-1 0m9 1l-1 1m108 1l-1 1m-115 4l-1-1m29 0l-1 1m67-1h0m-86 5h0m6 0h0m64 1l-1 0m30 1h0m-106 3l-1 0m14 3h0m14-3h0m55 2l1 0m17 1l-1 1m13-4l-1 1m3 0l-1 0m-52 6h0m28 2h0m3-2l-1 1m6-1h0m6 2h0m6-2h0m6 0h0m-41 5l-1 0m25 2l-2 0m24-1l-1 0m-95 4l-1 1m34-1h0m5-1h0m32 3h0m13-1h0m5 1l-1 1m3-1h0m-112 3l-1 1m71-1l1 2m16 0l-1 0m8-2h0m11 2h0m7 1h0m7 1h0m-53 1l2 1m36 1h0" stroke="#5e180b" stroke-width="4.1" stroke-linecap="round"/></svg>
<rect x="1615.8" y="880.6" width="120" height="119" fill="#9a9a9a" filter="url(#sh)"/><svg x="1614.2" y="879" width="120" height="119"><g filter="url(#bl)"><use href="#q00" class="sb"/><use href="#q01" class="sR"/><use href="#q02" class="sR"/><use href="#q03" class="sR"/><use href="#q10" class="sp"/><use href="#q11" class="sb"/><use href="#q12" class="sp"/><use href="#q13" class="sR"/><use href="#q20" class="sb"/><use href="#q21" class="sb"/><use href="#q22" class="sb"/><use href="#q23" class="sp"/><use href="#q30" class="sR"/><use href="#q31" class="sM"/><use href="#q32" class="sM"/><use href="#q33" class="sR"/></g><path d="M42 1l-1 3m9-2l-1 3m24-3l-2 0m14-1l-3 0m-63 7l-3 2m19-4l-1 1m26 2l-3 0m30-4l-3 1m9-1l-1 1m7 3l2 3m-55 0l-3 0m9 2l-3-2m23 2l-4 0m15-2l2 2m8 1l-1 1m-85 0l-3 1m7 1l0 1m34-3l-3 0m18 3l-2 1m24-1l-3 3m9-3l-4-2m11 3l-2 0m6-1l2 3m5-3l-3 1m13-2l-1 1m-76 6l-4 0m47-3l1 0m14 2l-3-1m10 3l-2-1m-8 4l0 4m23-6l-3-1m-29 8l0 3m20 0l-1 0m-87 3l1 3m54-4l-4 0m34 9l-2 1m18-3l-3 1m-37 5l-2 1m31-4l-2 1m6 5l0 1m10-1l-2 1m-37 4l2 3m10-2l3 1m8 1l-2 0m9-2l-2 0m-50 14l-4 1m-11 1l-1 1m-33 8l-2 0m22-1l-1 1m28 0l-3 0m8-2l-1 0m-59 6l-4 2m9-2l-1 2m13-1l-2 2m54-4l1 3m28-2l-3 1m-92 4l-3 0m22 1l-2-1m10 1l-2 2m46-3l-1 0m19 1l-1 0m8-3l-2 1m19 0l-1 1m-98 4l0 1m3-1l-3 0m23 1l-1 0m30 0l2 0m27 0l-1 3m14-2l-2-2m-40 5l-3 0m28 4l-3 0m24-2l-3 1m-106 6l-2 1m6-2l-3 1m26-1l-2 3m6-3l-1 0m6-1l-3 2m16 0l-1 1m39-4l0 2m5 1l2 3m-103 0l-1 3m64-2l-2 1m25 1l-3 1m23-3l-3 0m15 2l-2 0m-47 2l3 0" stroke="#b4563a" stroke-width="4.0" stroke-linecap="round" opacity="0.88"/><path d="M7 3l-3 0m19-1l-1 0m-21 5l-2 1m4 10l-2 2m24-3l-1 0m1 6l0 1m46 8l1 2m-44 4l-2 2m29 7l-2 0m21 6l-2-1m-72 3l-2 2m20-1l2 1m13 6l-3 0m32 1l0 2m16-5l0 1m1 5l0 1m-79 7l-1 0m41-2l-2 1m31-2l0 1m30 1l-2 0m-91 4l-1 0m20-1l2 1m26 0l-2 1m-7 4l-2 1m25 0l2 1m25 0l-2 0m-47 6l-2-1m19 0l0 2m4-5l1 1m16 1l-2 2m-36 3l0 2m10-2l-1 1m36 5l-1 1m-44 6l-2 1m23 1l-2 0m26 4l-3 0m-81 5l-3-1m55-2l-1 0" stroke="#98a6dc" stroke-width="3.9" stroke-linecap="round"/><path d="M29 0l-2 1m6-1l-1 1m-26 6l-1-1m20 3l-2 2m8-6l0 2m88 0l-2 1m-115 3l-2 0m9 3l-1 1m4 0l0 1m16 2l-2 2m-19 5l-2 0m23-2l-2 1m8-1l-1 0m29-1l2 1m-55 5l-1 0m23 7l-3 1m12-1l-2 1m12-1l-1 2m-9 3l-1 3m6-2l0 1m8-1l0 2m11-4l-1 1m-60 7l-1 0m30 0l0 3m10-4l-1-1m66 2l-2-1m-83 6l-1 0m21-2l-2 0m7 1l2 0m-35 7l-1 0m33-2l-1 1m7-2l-1 1m6 0l-1 0m17 2l0 1m-70 4l-2 1m17-2l2 1m7 0l-1 0m24 1l-1 0m9 0l-1 1m15-1l-1 2m-59 3l-1 2m8-3l0 1m4 1l-2-1m7-1l0 1m16-2l-2 1m8 0l-3 0m25 2l-1-1m-45 6l1 1m1-4l-2 0m22 0l-1 0m6 2l-3 0m22-2l-2 1m-71 6l-1 0m13-1l0 2m9-1l-2 2m11-1l-2 1m12 0l-1-2m23-2l1 1m4 1l-2 2m8-2l-2 1m7-2l-1 0m23 2l3 0m-86 2l-2-2m11 2l2 0m47 0l-2 1m-31 5l1 1m16 1l-1 1m-29 4l0 2m10-2l0 1m23 0l-2 2m14-1l-2 0m-40 3l-2 0m9 0l-1 1m13-1l-2 2m10-1l-2 2m4-1l-1 0m7 0l0 2m-44 2l-1 1m39 1l-1 1m29-5l-1 1m-68 7l1 2m32-1l-1 1m-28 3l-3 0m20-2l-2 0m28 4l-1 0" stroke="#6f82cc" stroke-width="3.9" stroke-linecap="round"/><path d="M46 1h0m12 0h0m5-1h0m5 3h0m10-3l-1 0m11 3l-1 0m7 0l0 1m6-1l-1 1m5-3l0 2m10-3h0m4 3l-1 0m3-3h0m-78 6h0m2 3h0m7-3l0 1m4 1h0m18 0l-1 1m7-3l-1 0m7 2h0m20-3h0m6 0h0m10 0l1 0m-94 7l-1 0m7 0l-1 0m7 0h0m16 1l0 1m6-1h0m5 1l-1 0m13-1l-1 1m12-1h0m9-1h0m9 0l-1 0m4-2h0m8 3l0 1m-80 3l1 0m15 3l0 2m12-2l-1 1m9-3l-1 0m37 2l1 1m-67 3l-1 0m5 1h0m31-3h0m9 2l0 1m10-2h0m15-1h0m1-1l-1 1m-63 5l-1 0m10 2h0m9-1l-1 1m10-1l-2 0m10 1l0 1m15-2l-1 0m6 1l-1 0m7-1h0m10 0l0 1m-77 4h0m23-1l-1 0m23 2h0m4 3l-2 0m10-4h0m8 0l-1 0m7 3l-1 1m-32 3l-1 0m8 1l0 1m6-3l-2 1m8 0l-1 1m6-3l-1 0m3 1h0m8 1h0m4 0h0m-116 7h0m79-3l-1 0m6 2l1 1m20 0h0m12-2h0m-31 4l-1 0m6 1h0m14 1h0m-9 7h0m17-3h0m-1 6h0m-83 18l-2-1m54 0h0m-81 8l-2 1m32-4h0m4 2l0 1m13-1h0m33 0l-1 0m18-3l-1 1m14 2h0m-35 5l-1 1m11 0h0m7-2h0m22 1h0m-118 6l-1 0m13 0l-1 1m7 0h0m48-3l-1 1m55-1h0m-120 7l0 2m4-1l-1 0m9-3l-1 0m24 3l0 1m44-4l-1 1m4-1h0m25 2l-1 1m14 0h0m-120 2l-2 0m7 2h0m6-1l-1 1m7-2l-1 1m10 2l-1 0m9 1l-1 1m6-1l-1 0m39-2l1 1m7 1h0m14-2l-1 1m6-1l-1 1m9-1h0m9 0l-1 0m-118 7h0m19-4l-1 1m8 1l-1 1m52 0l1 0m3-2h0m23 2h0m3 1h0m8 1l-2 0m5-2l-1 0m-106 6l-1 0m6 0l1 1m10-2l-1 0m5 1l-1 0m47 0l-1 0m14 0h0m17 0h0m10-1l0 1m-74 2h0m55 1l-1 0m8 0h0" stroke="#5e180b" stroke-width="4.1" stroke-linecap="round"/></svg>
<rect x="1760.5" y="880.6" width="120" height="119" fill="#9a9a9a" filter="url(#sh)"/><svg x="1758.9" y="879" width="120" height="119"><g filter="url(#bl)"><use href="#q00" class="sR"/><use href="#q01" class="sR"/><use href="#q02" class="sb"/><use href="#q03" class="sp"/><use href="#q10" class="sR"/><use href="#q11" class="sR"/><use href="#q12" class="sM"/><use href="#q13" class="sb"/><use href="#q20" class="sb"/><use href="#q21" class="sM"/><use href="#q22" class="sR"/><use href="#q23" class="sM"/><use href="#q30" class="sp"/><use href="#q31" class="sb"/><use href="#q32" class="sm"/><use href="#q33" class="sb"/></g><path d="M0 1l1 2m12-3l-3 2m15-2l-1 3m7-2l-2 1m11 1l-2 2m6-3l-3 2m-29 3l-3 1m53 0l1 2m54-3l0 3m-3 4l-1 2m-69 1l-3 1m9-1l-1 1m12-1l-1 2m-53 5l-3 2m9-1l-4 0m44 0l-3 0m-12 6l-3 2m12-5l-4 0m7 0l2 1m15 1l-1 1m-63 2l-1 0m5 1l-2 1m35 1l1 2m30-5l-1 3m-65 4l-3 2m15-2l-1 3m7-4l4 0m21 1l1 1m23-2l-1 1m24 1l2 0m-97 5l-2 2m15-1l-1 1m33-1l-2 3m-40 3l1 2m30-5l-1 3m28-1l2 2m2-3l-2 1m-34 4l0 2m23-1l-2 3m5-4l0 2m13-1l-3 3m-45 2l-3 0m25 2l-3-1m17 1l-2 1m15-4l-2 2m-27 2l-3 1m7 2l-1 1m19-2l1 2m6-1l-2 0m28 0l-2 0m8-1l-2 1m-36 4l0 1m20 0l-1 2m11-2l1 1m27-3l-2 1m-110 8l0 3m70-4l0 2m12 0l0 3m-80 0l-4 1m40 0l-3 0m11-3l-2 4m52-4l0 4m-93 3l-3 1m10 1l2 1m30-4l-3 1m9 2l-1 2m6-1l-4 0m58-5l1 3m-66 6l-3 2m49-4l-2 3m16-4l-1 2m-110 7l-2 2m43-2l-3 2m18-2l-2 2m8-2l0 3m28-4l0 4m17-5l-3 1m-51 5l-1 1m16-3l1 4m26-4l-2 3m-46 8l0 2m36 0l2 1m9-2l-4 0m29 2l1 1" stroke="#b4563a" stroke-width="4.0" stroke-linecap="round" opacity="0.88"/><path d="M73 6l-2 0m-4 6l-2 0m7 2l-1 1m14-3l2 0m17 13l-2 1m16-3l1 2m-28 16l-1 1m25 5l-1 1m3 4l2 1m-108 4l0 2m29-1l-1 1m61-4l-1 2m-93 4l-1 2m7-1l-2 0m78 7l-1 1m20-2l-1 0m5 1l-2 1m-108 6l1 1m34 3l2 1m-36 2l0 2m16 0l-1 2m33-5l-1 1m14-1l0 2m58 2l-2 1m-14 1l2 2m6-2l-1 1m-75 7l2 1m78-4l-1 2m-96 5l-1 0m82 0l-1 1m10 0l-1 1m-67 4l-2 2m18-1l-2 0m15 0l-1 0m40-3l-3 0m-62 6l-2 1m71 0l-1 1m-23 3l1 1m21 0l-2 1m-102 4l0 2" stroke="#98a6dc" stroke-width="3.9" stroke-linecap="round"/><path d="M57 0l-1 2m8 0l-2 2m7-3l-1 3m5-1l1 1m5-1l-1 1m16-2l-2 1m-12 3l-1 2m4-1l1 1m10-3l0 2m-16 6l-1 1m18-1l-2 1m-16 4l-1 1m8-2l1 2m-8 6l-1 1m9-1l-3 1m6-2l0 1m-82 5l-1 1m73-1l0 2m40-3l-1 1m-67 5l2 1m64 0l-1 2m-66 3l-2 0m18-1l-1 1m36 0l-1 2m8-3l0 1m-30 6l-2 1m14-4l1 3m18 0l-1 0m-32 3l-1 1m9 2l-3 1m15-3l0 2m-91 5l-1 0m59 0l-3 1m18-4l-1 1m29 1l-1 1m9-3l1 2m5-1l-2 1m-82 4l-1 0m40 1l-3 1m-52 2l-2 1m12 0l-1 1m50 3l0 2m-71 0l-2 2m39-1l-1 1m36-1l-1 1m24 0l-1 2m-83 0l-3-1m8 5l-2 0m8-3l-2 1m24 2l-1 1m7-1l-1 0m30 0l-1 2m9-3l0 1m-72 6l-1 1m6-2l1 1m6-4l-1 0m58 4l-2 1m-67 2l1 2m5 1l-1 1m20-3l-2 1m51-1l-1 0m6-2l-1 1m-97 4l0 1m8-1l-1 1m6-1l-2 0m25 1l-1 1m9 2l-2 2m24-4l0 1m10-2l-2 1m28 1l-2 1m-59 2l-3 0m8 3l0 1m18-4l-1 1m50-1l-2 1m-94 5l-3 0m17 1l-2 1m53-1l-1 2m15-2l-1 1m-84 4l-1 1m23-1l-2 1m7-2l-1 1m11 0l-1 2m7 0l1 2m19-5l1 1m4 2l1 2m13-3l-1 2m6-3l-2 0m-76 5l-1 1m8 2l-1 1m13-2l-1 1m16-3l-1 2m8-3l-1 1m5 1l0 1m33 1l-1 0" stroke="#6f82cc" stroke-width="3.9" stroke-linecap="round"/><path d="M8 3l0 1m11-1l-1 1m18-1l-1 1m-35 4h0m20-3l-1 0m6 4h0m3-4h0m7 2h0m5-1h0m6-1l-1 1m8 3h0m5 0l1 0m9-3h0m-63 6h0m6 1h0m8-3h0m2 3l0 1m14-1l1 0m5-1l-1 0m6 2l-1 1m13-2l0 2m2-2l-1 1m47 0l0 1m-105 3l1 1m4-1l0 1m6-2l-1 1m5 0l-1 0m15 1l-1 0m7-3l-1 0m3 4h0m19-1l0 1m-56 5l-1 1m18-2l-1 1m9-2h0m5 1l1 1m4-3l2 1m3 2h0m19-1l0 1m8-1h0m-67 5h0m12 2l0 1m6-4l-1 1m4-2l-1 1m7 0l-1 1m30 0l-1 0m5 1l1 1m-48 4h0m4 0l-1 1m14-1l-1 0m4-1l-1 0m13 1l0 1m11 0l0 1m-55 2h0m11 0l-1 1m17 0h0m4-1h0m6 1h0m18-2l1 1m-41 7l-1 1m9 0l1 1m5-2l1 1m4 0l-1 0m6-2l1 0m9 2l1 1m6-3h0m5 2l1 1m8-3h0m11 0l0 1m-75 5h0m6-1l1 0m3 2h0m6-1h0m7-1l-1 1m11 1l-1 1m5-1l0 2m6-4l-1 1m26 2l0 1m13-3h0m16 2h0m6 0l0 1m-93 1h0m3 1l-1 1m26-1h0m29-1h0m10 2l-1 1m3-1l-1 1m-86 4l0 1m23-3l-1 1m25 3l-1 1m3-2l-1 0m16-1l1 0m13 2l-1-2m11 0l-1 1m13 1l-2 0m9-4l0 1m3 2l-1 0m-103 6l-1 1m9-5l-1 1m22 1l-1 1m19 0l-1 0m4-1h0m19 2l-1 0m11-2l-2 1m-58 3h0m16 1l-2 0m31 3l-1 1m6-2h0m15 0l-1 1m16-2l-1 0m9 0l0 2m-46 2l0 1m8-1l-1 0m28 0h0m4 2l0 1m7-1l-1 0m-71 6h0m26 0l-2 0m8-2l0 1m5 2l-1 1m5-2h0m14 0l1 0m4 0h0m14 0l-1 1m-79 4l-2 0m32-1l0 1m19 1l-2 0m5-3l-1 1m-27 7h0m3 0l1 1m8-1l-1 1m32 0l-1 1m-26 4h0m2-3l-1 1m20 1l-1 0m11 6h0m-45 4h0m18 5l0 1" stroke="#5e180b" stroke-width="4.1" stroke-linecap="round"/></svg>
<rect x="1905.1" y="880.6" width="120" height="119" fill="#9a9a9a" filter="url(#sh)"/><svg x="1903.5" y="879" width="120" height="119"><g filter="url(#bl)"><use href="#q00" class="sp"/><use href="#q01" class="sb"/><use href="#q02" class="sR"/><use href="#q03" class="sR"/><use href="#q10" class="sp"/><use href="#q11" class="sp"/><use href="#q12" class="sb"/><use href="#q13" class="sb"/><use href="#q20" class="sR"/><use href="#q21" class="sb"/><use href="#q22" class="sp"/><use href="#q23" class="sp"/><use href="#q30" class="sb"/><use href="#q31" class="sb"/><use href="#q32" class="sp"/><use href="#q33" class="sp"/></g><path d="M28 0l3 1m28 2l2 1m12-3l-1 1m29-2l-1 1m8 2l-1 2m2-3l1 3m-68 2l1 1m19-2l0 3m9-4l1 3m5 1l1 0m4-1l3 2m32-2l2 2m-30 4l-1 0m5-3l1 3m15-1l1 4m-20 2l2 3m8-6l2 2m-62 7l1 1m-1 3l0 3m75-4l3 2m-109 4l1 1m41-2l-1 1m37 0l1 1m6-1l2 3m22 3l-3 2m-5 2l1 2m-77 4l0 2m77 1l0 2m2 2l-1 0m-95 7l0 3m13-4l3 2m22-1l0 1m7-2l0 2m-52 5l-1 2m88-5l2 0m-96 8l-1 1m14-5l0 3m92-3l2 2m-110 7l-2 1m18 3l1 3m6-3l0 2m94-1l-1 3m-110 0l-1 2m75 1l0 1m-68 2l1 3m17 3l-3 2m18-1l1 3m50 0l-1 3m21-3l-1 3m-99 5l1 4m65-1l-2 0" stroke="#b4563a" stroke-width="4.0" stroke-linecap="round" opacity="0.88"/><path d="M33 7l1 1m22-2l3 0m-21 7l0 1m-37 4l1 1m37-3l1 2m11-2l1 2m48 7l1 1m-74 7l0 2m19 1l0 1m55 3l-2 0m5 0l-1 2m2 5l-1 2m-101 0l1 1m82 2l-2 1m38-4l1 1m-16 5l2 0m-84 11l0 1m85 7l-1 1m-75 6l1 1m3-2l1 1m-8 3l0 2m11 0l1 2m3 0l-2 1m-43 14l1 3m33-5l0 1m8 10l0 2m30-2l-2 1m-57 6l-2 1" stroke="#98a6dc" stroke-width="3.9" stroke-linecap="round"/><path d="M18 2l2 1m24 0l-1 1m20-2l-1 1m-62 5l2 1m42 5l0 1m8-4l1 2m-18 4l2 0m20 0l-1 1m37 1l2 0m21 1l-1 1m-71 2l-1 1m22-2l0 2m40-2l1 1m-77 6l2 1m16-3l-1 1m32-1l-1 2m12 2l0 2m-51 3l-2 1m20-4l-2 1m15 0l0 2m4-3l1 2m10-1l1 0m31 0l0 1m5 1l-2 0m-68 6l-1 0m4-1l1 1m7-2l2 1m8-1l1 2m4-3l1 1m8-1l0 1m2 2l0 1m6-1l1 0m18-4l1 2m-51 4l0 2m19 1l0 1m7-4l1 1m-73 5l2 1m43 2l2 2m3-4l-2 1m24-1l-2 2m9-3l0 1m10-2l0 3m-73 5l1 2m5-3l1 2m6-4l0 2m27 1l1 2m14-4l0 1m29 2l1 2m-77 2l1 0m33-1l0 2m-29 7l0 1m11-2l-1 1m32-3l1 1m-39 3l2 1m15-1l0 2m-44 6l1 2m32-3l-1 2m-22 4l2 1m17-1l1 0m2 0l0 1m-39 4l-1 0m12 2l1 1m13-1l-1 2m25-5l0 1m-57 4l-1 2m13 1l1 1m4-2l1 2m2-3l0 2m11 1l-1 2m6-4l1 2m4 0l1 1m7-3l1 1m-46 5l1 2m3-2l0 1m6 0l0 1m17-3l1 0m-28 6l1 2m5-4l0 1m6 0l-1 1m5-1l0 1m18-1l-2 0m16 1l0 1m-57 3l-1 3m6 0l0 1m24-4l2 1m-9 4l0 1m11-1l1 1m28-1l1 1m-55 5l0 2" stroke="#6f82cc" stroke-width="3.9" stroke-linecap="round"/><path d="M69 1l1 1m9-2h0m6 0h0m2 1l0 1m8 1l0 2m21-5l1 1m5 0l0 1m-69 4h0m12-1l0 1m26 2l1 0m2-2l0 1m6-1l-1 0m12 0l1 1m-56 5h0m9 0l1 0m8 2l-2 0m6-1l1 1m5-1l0 1m16 1h0m7-4h0m11 2h0m-52 5l0 1m9-1h0m4 1l-1 0m8-2h0m22-1l0 1m2 1l1 1m-62 7h0m13-4l0 1m9 1l1 1m12-3l1 1m7 2l0 1m1-3h0m19 2l0 1m4-2l0 1m-49 5l0 1m27-1l0 2m11-2h0m-69 4l0 2m43-4l0 1m22 2l0 1m6-3l0 1m5 1h0m-111 13l0 1m7 13h0m-5 6l0 1m4-3l-1 2m25 0l1 1m9-1h0m-35 4l1 1m3 1l-1 1m16-1l0 2m-19 3l0 1m7 0l1 0m-5 4l-1 1m-9 12l1 1m40 8l1 1m-5 14h0" stroke="#5e180b" stroke-width="4.1" stroke-linecap="round"/></svg>
<rect x="2049.8" y="880.6" width="120" height="119" fill="#9a9a9a" filter="url(#sh)"/><svg x="2048.2" y="879" width="120" height="119"><g filter="url(#bl)"><use href="#q00" class="sR"/><use href="#q01" class="sM"/><use href="#q02" class="sl"/><use href="#q03" class="sb"/><use href="#q10" class="sb"/><use href="#q11" class="sg"/><use href="#q12" class="sp"/><use href="#q13" class="sb"/><use href="#q20" class="sl"/><use href="#q21" class="sb"/><use href="#q22" class="sb"/><use href="#q23" class="sg"/><use href="#q30" class="sg"/><use href="#q31" class="sb"/><use href="#q32" class="sl"/><use href="#q33" class="sm"/></g><path d="M38 2l-2 0m20-1l-2 0m11-1l2 2m38-1l-1 1m16 1l1 1m-121 1l-1 1m42-1l-3 2m38-1l-3 1m40 0l1 1m-107 5l-3 2m24-1l-1 0m80-2l-2 2m-97 3l-4-1m21 3l-2 0m20 1l-3-1m18-1l-2 0m-50 5l-2-2m24 3l-1 1m-24 2l-2-2m48 5l-3 0m-40 9l-1-3m19 3l-3-2m-19 10l1 1m77-1l-2-3m33 3l-3 2m14-4l-3 2m-78 2l-2-1m65 9l-3 1m-87 5l-1 1m42-2l-3-1m59 5l-1-1m10 13l-3-1m1 24l-2 1m-67 4l2 2m64-4l2 0m-86 9l-2 2m-30 0l-4 1m106-1l-2 0m8 0l1 1" stroke="#b4563a" stroke-width="4.0" stroke-linecap="round" opacity="0.88"/><path d="M51 3l-1 1m0 8l-2 1m51 2l-2 0m12-2l-1-2m-2 5l-2 1m-79 6l-1 1m67-2l-2-1m10 3l-1 1m-78 3l-2 0m27 1l0 2m56-4l-1-1m11 5l-1 0m7-2l-2 0m-62 5l2 2m55-1l-2 1m-66 2l-2 1m42-1l-1 0m13 4l-2 1m-62 3l0 1m6 6l-1 0m16-3l-1 1m41 0l-1-1m-27 7l0 2m15-3l-2 1m42-1l-1 0m-115 4l-2-1m45 3l-1 1m6-1l-2 0m26-1l-2 0m22 1l1 1m-55 6l-2 0m48-3l-1 0m-74 6l3 0m30-1l-1 0m59 8l-2 0m-15 7l-1-1m-14 6l-2-1m9-2l-2 0m13 1l-2 0m-59 7l-1 1m19-3l1 2m43-1l0 2m31-3l-2-2m-17 7l-1 0m-82 8l-2 0m11-1l-1 2m29-1l-2 1m31-2l-2 1m32-2l-2 1m-55 5l2 1m48-2l-2-1m-97 8l-2-1m41-1l-1 0m70 4l-2-1" stroke="#98a6dc" stroke-width="3.9" stroke-linecap="round"/><path d="M33 4l1 2m40-2l0 2m23-5l-1 0m-63 5l1 0m16 2l0 3m4-3l-2 1m38-1l-1 0m18 1l-2-2m-68 6l2 1m78 1l-3 1m7-2l-1 1m-92 2l-2 0m16 0l-2 1m25 0l-1 0m24 2l-3-1m11 0l-2 1m8-1l-1 0m20 0l-1 0m-63 9l0 2m6-2l-1 1m6 1l-1 0m30-1l-1 2m-66 2l-2 2m41-2l-1 2m26-3l-1 0m13 4l-1 1m-103 1l-3 1m35 2l-2 0m70 1l-1 0m5-2l-2 1m12 1l-2-1m-108 4l1 2m12-1l-1 1m82-3l1 0m6 2l-2 0m-102 5l-1 0m12 0l0 1m4-2l1 1m43 1l1 1m38-3l-1 1m7 1l1 2m-99 3l-1-1m17 1l1 1m16-3l2 1m4 0l-1 0m44 1l-1-1m6-1l-1 1m-64 8l-3 0m7-3l-3 0m57 2l-2 2m18-3l-2 0m10-1l1 1m-67 6l-1 1m8-1l1 2m-13 2l1 2m9 0l-2 1m12 0l-1 1m6-2l-2-1m24 1l-1-1m23 1l0 3m-104 4l-1-1m44-2l0-1m7 2l-2-1m9 0l-2 0m13 1l0 1m22-3l-3 0m10-1l-1 0m-101 7l-1 0m29 1l-2-1m9 0l-2 0m7 0l3 1m-1 1l-2 1m7-3l-2 1m15 2l-1 2m29-4l-1 1m11-2l-2-1m8 3l-1 2m-85 3l-3 0m17 1l0 1m74-2l-2-1m13 1l-1 0m-83 6l0-1m7 1l-2-1m18-1l-2 1m43 2l2 0m-95 4l-1 0m33-1l1 1m6 0l-3 0m18 0l-2 0m17 1l-2 0m17 0l0 1m22-5l-2 0m-102 8l-1-1m15 0l-2 0m51 2l-2 0m-68 5l-2-1m26 2l-1 0m22-3l-3 0m30 1l-2-2m7 1l-2-1m42 3l-1-1m5-2l-1 0m-87 10l2 2m28-2l-1 0m2-2l-2 1m16-1l-1 2m42-1l-2 1" stroke="#6f82cc" stroke-width="3.9" stroke-linecap="round"/><path d="M3 0l-2 0m4 2l-2 0m10 0h0m6-1l-1 0m3 1l-2 0m9 0h0m-19 6l1 1m4-2l0 1m4 0l-2 0m7-2l0 1m8-1l-1 0m14 1l-1 1m23-1l-1 0m-63 4h0m11 2l0 1m3 0l-1-1m10-2h0m15-1l-2 0m8 2l-1 1m25-2l-1 0m27 3h0m-94 3h0m12 1h0m2 1l-1-1m21 2l-1-1m17-3l1 0m-50 6h0m11-1l-1 0m4 3l-1 1m21-1l-1 0m8 0l-2 0m11-1h0m-38 6l-1 1m14 0l-1 0m13 6l-1 0m-9 4l0 1m-19 3l-1 1m19 5l-1 0m54 0l-1 0m9 16l0 2m-90 28l-1 0m95 5l-1 0m14 2l-1 1m-6 1l-1-1m5 4l0 1m-92 2l-1 0m91 0l0 2m-13 6l-1 0m7-4l-1 0" stroke="#5e180b" stroke-width="4.1" stroke-linecap="round"/><circle cx="105" cy="71" r="20.0" fill="#d6d6ee"/><circle cx="19" cy="106" r="18.1" fill="#d6d6ee"/><circle cx="42" cy="49" r="19.5" fill="#d6d6ee"/><circle cx="105" cy="71" r="12.0" fill="#e9dfe9"/><circle cx="19" cy="106" r="10.1" fill="#e9dfe9"/><circle cx="42" cy="49" r="11.5" fill="#e9dfe9"/><path d="M106 86l1 3m-5-4l-1 3m-3-2l-1 2m0-5l-2 2m-2-5l-2 1m-1-3l-2 2m1-5l-3 0m4-8l-4 0m6-3l-3-3m4-1l-2-1m5 0l-1-3m7 0l-2-3m11 3l1-2m1 5l2-2m1 5l1-2m2 5l3 0m-3 4l4-1m-2 5l3 1m-4 1l3 1m-7 5l1 2m-5 2l2 2m-106 13l-2-2m5 0l-2-3m3 1l-2-3m8 1l0-4m5 2l0-3m3 4l1-3m2 8l2-3m0 3l2-2m-2 11l4 0m-3 4l2 1m-3 1l2 2m-6 0l2 4m-5 0l1 2m-4-1l0 2m-4-3l1 3m-4-3l-3 3m1-6l-2 1m-1-4l-3 2m2-8l-4 0m3-2l-3-1m25-63l-3-3m7 1l-3-3m7 0l-1-2m3 1l-1-3m6 2l0-2m4 3l2-3m5 10l2-1m-1 5l3 0m-1 2l4 0m-7 4l4 1m-5 2l3 3m-5 2l3 2m-6 1l2 2m-4-1l1 3m-10-3l0 4m-2-6l-2 3m-2-6l-2 3m0-8l-3 0m-1-3l-2 1m3-4l-2-1m3-5l-2-1" stroke="#8796d4" stroke-width="3.6" stroke-linecap="round"/></svg>
<rect x="1181.9" y="1035.8" width="120" height="119" fill="#9a9a9a" filter="url(#sh)"/><svg x="1180.3" y="1034.2" width="120" height="119"><g filter="url(#bl)"><use href="#q00" class="sb"/><use href="#q01" class="sp"/><use href="#q02" class="sW"/><use href="#q03" class="sw"/><use href="#q10" class="sl"/><use href="#q11" class="sw"/><use href="#q12" class="sW"/><use href="#q13" class="sW"/><use href="#q20" class="sp"/><use href="#q21" class="sp"/><use href="#q22" class="sw"/><use href="#q23" class="sp"/><use href="#q30" class="sm"/><use href="#q31" class="sp"/><use href="#q32" class="sp"/><use href="#q33" class="sl"/></g><path d="M67 12l0 3m-21 7l2 3m-42 11l-2 3m40 11l3 1m-28 10l0 1m76 7l2 1m-92 2l-1 2m34-3l1 3m-27 12l2 3m40-4l0 3m-30 2l1 1m-24 4l0 2m19 5l0 1m47-2l-1 4m-42 6l-3 1m16 1l-1 2" stroke="#b4563a" stroke-width="4.0" stroke-linecap="round" opacity="0.88"/><path d="M1 -1l1 1m4 17l1 1m-6 4l0 2m13 4l-1 2m23 34l0 1m64 19l1 2m-68 4l2 1m-34 8l-1 1m22-1l-1 1m1 8l0 2m97-4l0 1m-23 6l2 1m-80 2l0 2m70 3l1 2" stroke="#98a6dc" stroke-width="3.9" stroke-linecap="round"/><path d="M7 1l1 2m5 0l0 2m9-2l1 1m-15 3l1 1m11 0l-1 2m4-2l-2 1m-9 5l0 3m10-4l1 2m16-4l2 1m-38 7l0 1m5 2l0 2m5 2l-2 1m20-2l1 2m-29 15l0 1m28-3l1 3m-20 1l1 1m10-1l0 2m-22 15l2 1m21 0l1 2m41 7l1 1m24 13l-1 2m-84 4l1 3m45 1l0 1m64 1l0 1m-83 2l1 2m29-3l1 2m41-1l2 0m6 0l1 1m-113 5l-1 0m0 7l1 2m6-5l1 1m11 3l0 2m12-3l1 1m-10 5l2 0" stroke="#6f82cc" stroke-width="3.9" stroke-linecap="round"/><path d="M46 2l0 1m-27 26l-1 1m15 0l0 1m-28 14l0 1m-4 38l1 0m14 0l0 1m29 8l1 2m-40 12h0m14 0h0m53-2h0m-33 5l0 1m-37 6l0 1m3-3l0 2" stroke="#5e180b" stroke-width="4.1" stroke-linecap="round"/></svg>
<rect x="1326.5" y="1035.8" width="120" height="119" fill="#9a9a9a" filter="url(#sh)"/><svg x="1325" y="1034.2" width="120" height="119"><g filter="url(#bl)"><use href="#q00" class="sW"/><use href="#q01" class="sW"/><use href="#q02" class="sm"/><use href="#q03" class="sM"/><use href="#q10" class="sW"/><use href="#q11" class="sp"/><use href="#q12" class="sM"/><use href="#q13" class="sp"/><use href="#q20" class="sp"/><use href="#q21" class="sp"/><use href="#q22" class="sW"/><use href="#q23" class="sM"/><use href="#q30" class="sb"/><use href="#q31" class="sw"/><use href="#q32" class="sW"/><use href="#q33" class="sR"/></g><path d="M67 1l3 1m25-1l0 3m3-1l3 2m3-1l1 0m8 0l2 3m2-6l0 4m-35 4l-3 2m11-3l2 0m-18 3l2-1m0 2l3 2m12-4l4 0m4 3l2 0m12 1l3 0m-47 4l2 3m13-4l1 0m14 3l1 1m-29 4l2 1m4 0l0 3m7-4l4 2m6-2l2 1m6-2l-3 2m6-4l-1 3m12 0l4 1m-49 5l3 2m5-3l2 0m-47 3l-3 1m35 2l2-2m45-1l3 1m-42 5l3 0m12 2l3-2m19-1l1 1m9 0l2 0m-41 5l0 2m-4 5l-4 1m-16 4l1 4m3-3l2 0m1-2l2 1m26 1l2 2m-68 4l1 0m88 0l0 1m-26 4l3 0m12 0l-1 1m18-1l3 0m-119 7l1 1m12 2l-3 2m25 3l4 1m18-2l3 1m32 1l1 1m18-1l3-1m0 3l-2 1m-12 6l1 0m-82 10l-3 1m62-2l-2 1m17-4l2 1m9 0l2 1m-2 3l3 1m4 3l2 3m-40 0l3 0m12 2l4 0m2-1l3 1m7 5l2 0" stroke="#b4563a" stroke-width="4.0" stroke-linecap="round" opacity="0.88"/><path d="M73 8l-2 2m10-5l2 1m0 4l1 0m16 20l2 1m6 8l0 2m1 18l1 0m-16 1l1 1m24 14l2 0m-116 4l1 0m21-2l1-1m57 2l2 0m-86 11l1 0m11 2l0 2m103 7l1 0m-115 4l0 1m38 7l1 1m-41 6l1 2m24-2l1 1m-9 1l1 2" stroke="#98a6dc" stroke-width="3.9" stroke-linecap="round"/><path d="M51 3l1 0m9 0l2-1m28-1l2 0m28 1l2 0m-53 6l0 2m31-4l2-1m12 4l2 0m-49 3l-2 0m49-1l0 1m-81 11l1 1m16 1l1 1m27 10l1 0m-3 8l1 1m11 5l1 0m20 1l1 1m-34 5l1 1m4 0l2 0m26 11l1 2m-5 2l0 1m8-3l2 2m-15 7l-1 1m4-1l-3 1m-89 3l1 0m83 0l2 0m10-2l1 0m-93 5l0 1m100 2l2 0m-116 7l1 0m9 3l1 0m20 0l1 1m-26 5l3-1m11-1l1 1m9 1l2 0m-31 8l1 1m5-4l2 0m13 2l2 1m2 0l2 0m-21 4l2-1m25 0l0 1" stroke="#6f82cc" stroke-width="3.9" stroke-linecap="round"/><path d="M73 1l1 0m4-1l1 0m7 4l2 1m7 3l2-1m13 1l1 0m10-2l2 0m-61 4h0m33 3l2 0m-23 6h0m18-3l0 1m3-1l1 0m10 2h0m5-2h0m-26 15l1 0m20-4l1 1m6 0l1 0m7-1l1 1m-50 7l-1 0m15-2l1 0m9 4l1 0m3-2h0m-39 4l0 2m-1 4l1 0m6 2h0m20-2l2 1m-59 6l0 2m71-4l1 0m19 7l1 0m-43 5l0 1m21 4l1 1m-6 3h0m4 3l-2 1m-9 6h0m23 0h0m5-3l1 0m4 2l1 0m-9 5h0m-28 6h0m16-1l1-1m5 2l0 1m5-1l1 1m-33 4l1 1m10-2h0m22 1l1 1m3-2l1 1m3-1l1 0m-27 5l1 0m10 2l2 0m-20 3h0m12 0h0m6 1l0 2m-22 2h0m8 3l1 1m13-2h0m7 0l1 1m1-1l1 0m-27 6l1 0m10 1l1 0m6-1h0m12 1l0 1" stroke="#5e180b" stroke-width="4.1" stroke-linecap="round"/></svg>
<rect x="1471.2" y="1035.8" width="120" height="119" fill="#9a9a9a" filter="url(#sh)"/><svg x="1469.6" y="1034.2" width="120" height="119"><g filter="url(#bl)"><use href="#q00" class="sm"/><use href="#q01" class="sW"/><use href="#q02" class="sl"/><use href="#q03" class="sg"/><use href="#q10" class="sw"/><use href="#q11" class="sp"/><use href="#q12" class="sb"/><use href="#q13" class="sl"/><use href="#q20" class="sp"/><use href="#q21" class="sl"/><use href="#q22" class="sp"/><use href="#q23" class="sl"/><use href="#q30" class="sR"/><use href="#q31" class="sR"/><use href="#q32" class="sl"/><use href="#q33" class="sb"/></g><path d="M14 0l1 2m12 5l1 2m-26 2l2 0m7 0l1 0m27 2l3 0m63-1l1 0m-103 7l2 3m-2 0l3 2m-4 6l4-1m45-2l4-1m4 21l-1 3m-8 2l1 2m-28 26l1 1m26-3l2 0m-3 5l1 1m-49 5l3 2m31-1l1 0m33 1l-3 2m-52 3l-2 3m5-2l2 2m10 3l1 1m15-4l1 1m-40 4l1 2m9 2l3 0m26-3l2 2m3 1l2 0m3-1l1 4m11-3l0 1m22-4l-3 0m-83 5l1 1m23 1l4 0m8-2l2 3m52 5l0 3" stroke="#b4563a" stroke-width="4.0" stroke-linecap="round" opacity="0.88"/><path d="M80 1l2 2m-63 5l1 0m90-1l1 0m7 0l0 2m-83 5l2 1m51-2l2 0m-84 12l-1 1m69-3l1 1m4 1l1 1m8 2l1 2m-82 6l1 3m49-5l2 2m47-2l2-1m8 9l-1 2m6-6l2-1m-39 7l1 1m-40 9l2 1m-17 6l-1 2m10-1l0 2m74-2l-2 1m-72 4l1 0m61 2l1 0m-57 10l1 1m-2 15l2 1m16-1l2 1m11 8l2-1m20 5l1 1m14 4l0 1m-22 1l2 0m22 0l2 1m2 2l1 2" stroke="#98a6dc" stroke-width="3.9" stroke-linecap="round"/><path d="M4 2l1 0m24-2l2 0m44 1l2 1m22-2l1 0m-37 7l1 2m15-2l2 1m13 0l0 2m6-1l0 1m-83 1l3 0m53 3l0 1m22 0l-1 0m8-3l2 1m14 0l1 1m-25 2l2 1m6 1l2-1m0 1l0 1m11-2l-1 2m-87 5l1 1m68-2l2 1m2-2l0 1m7 2l-1 1m4-5l1 1m-33 7l2 1m6-2l1 2m8-2l0 1m21 1l1 0m-46 5l3 0m9 1l2 1m26-5l0 2m-83 4l-1 1m44 3l1 0m8-1l1 1m7-1l2 0m7 0l2 0m-35 5l0 2m9-3l1 2m16-2l-1 0m11 0l0 1m11-2l2 1m-55 5l2 2m15-1l2-1m38-1l2 1m-79 5l2 0m32 1l-1 2m12 0l1 1m-25 3l2 1m5-3l2 1m11-1l1 0m37 2l0 1m-59 6l1 1m53 0l1 1m7-4l1 1m-93 6l0 2m63-4l2 0m28 0l1 1m-88 10l2 0m2 0l2 2m78-3l1 2m-13 4l2-1m-59 7l2 1m56 2l1 0m-13 5l-1 1m19-5l1 0m-15 10l1 0m6-2l-1 1m17-3l-1 0m-89 7l1 1m16-2l1 0m45 3l1 1m9-4l1 1m-38 5l3 0m6 0l0 1m28 2l2 1" stroke="#6f82cc" stroke-width="3.9" stroke-linecap="round"/><path d="M17 2l1 0m-15 4l1 0m9 14l1 1m2-4l1 0m5-1l1 0m-6 6l2 0m60 44l2 0m-43 15l1 1m-28 3h0m-2 4h0m2 1l1 1m4-1l1 0m5-2h0m18 0l1 0m3 3h0m47-3h0m-62 8h0m5 0l1 1m3-3l1 0m16 0l1 1m32-2l2 0m7 1l1 1m1 2h0m-97 5h0m3 0l2 0m16-2h0m12-2l1-1m20 4h0m5 1l1 0m-59 2l1-1m9 4h0m10 0l1 1m3-1l1 1m12 0l1 0m-34 3h0m7 2l1 1m5-3l1 1m5 0l-1 0m19 1l1 1m-45 5l1 1m5-2h0m6-3l0 1m5-1l0 1m8 2l1 1m1-3l1 1m4 2h0m10-3l1 1m0-1l2 0m5-1l-1 1m13 1h0m-57 4l-1 0m26 0h0" stroke="#5e180b" stroke-width="4.1" stroke-linecap="round"/><circle cx="108" cy="16" r="19.4" fill="#d6d6ee"/><circle cx="108" cy="16" r="11.4" fill="#e9dfe9"/><path d="M109 29l1 3m-3-3l1 3m-6-2l-1 2m-1-4l-2 3m-1-5l-3 2m1-6l-2 1m2-5l-3 1m0-7l-2-1m6-3l-3-3m4 1l-2-2m7-1l-3-3m6 2l0-4m1 2l1-3m4 4l2-3m1 3l1-2m2 5l3-3m1 11l3-2m-1 4l3 0m-3 4l3 0m-4 5l3 2m-9 2l2 3m-6-1l2 3" stroke="#8796d4" stroke-width="3.6" stroke-linecap="round"/></svg>
<rect x="1615.8" y="1035.8" width="120" height="119" fill="#9a9a9a" filter="url(#sh)"/><svg x="1614.2" y="1034.2" width="120" height="119"><g filter="url(#bl)"><use href="#q00" class="sw"/><use href="#q01" class="sp"/><use href="#q02" class="sp"/><use href="#q03" class="sm"/><use href="#q10" class="sp"/><use href="#q11" class="sb"/><use href="#q12" class="sb"/><use href="#q13" class="sg"/><use href="#q20" class="sm"/><use href="#q21" class="sM"/><use href="#q22" class="sR"/><use href="#q23" class="sb"/><use href="#q30" class="sb"/><use href="#q31" class="sR"/><use href="#q32" class="sR"/><use href="#q33" class="sm"/></g><path d="M102 1l1 2m15-2l3 2m-19 11l0 1m5-2l0 3m8 1l1 3m-22 3l2 1m9 1l1 2m-84 3l2 2m75-2l-1 1m-86 4l2 2m3-2l-1 3m36-3l0 1m-22 5l1 1m80-4l1 1m-65 12l-4 0m6 1l0 1m-41 5l2 3m14-3l3 1m3-4l3 0m35 1l2 2m11-1l-3 2m8-2l1 2m-75 3l-3 2m44-2l1 3m20-2l0 1m-12 3l1 2m28-2l2 0m0-2l1 1m-43 7l2 3m2-1l1 3m6-3l0 2m13-3l-3 0m26 1l2 3m-67 3l2 3m3-7l0 2m16-1l2 0m4 0l2 3m10-1l1 3m11-3l0 1m35-1l1 1m-84 4l-2 2m28-4l0 3m13 0l3 0m7-1l1 1m18 0l1 2m-94 1l1 1m48 1l3 2m20-4l3 2m8-1l3 2m-61 4l-2 4m7-7l2 3m1-2l0 2m17 1l0 3m5-3l-1 1m16-2l0 3m34-3l2 0m-104 3l1 1m25 0l0 2m17-3l2 1m21 0l2 2m15-3l1 1m-30 7l3 2m46-2l3 1m-119 2l0 1m35 2l1 1m26-1l2 1m25-1l1 2m13-4l3 3m-66 3l1 1m19 1l1 2m8-3l2 2m2-3l1 1" stroke="#b4563a" stroke-width="4.0" stroke-linecap="round" opacity="0.88"/><path d="M97 5l-1 2m0 12l-1 1m15-2l1 2m-71 2l-1 0m6 0l0 2m38-1l0 3m17-3l0 2m15-3l1 1m-65 6l1 1m7 4l0 2m9-1l3 1m-47 5l-1 0m25 0l-1 0m11-3l0 3m30-3l0 2m-40 4l-1 1m8 0l2 0m33 1l1 2m-3 5l0 1m12-2l0 2m-59 4l1 1m47-3l1 1m-62 4l0 2m27 1l-2 1m30-2l1 1m17-1l2 2m-68 6l1 0m-22 7l1 1m29 1l1 1m5-4l0 2m40 2l-1 1m16-3l0 1m-100 3l1 1m10 2l1 1m23-2l1 1m4-2l2 1m21-1l2 1m-53 4l0 2m24-1l1 2m59-3l-2 0m7 0l2 1m5-1l1 2m-114 5l0 2m89-1l0 2m-53 1l1 1m84 0l1 2m-122 4l0 3m100-6l2 2m-99 13l2 1m84-2l1 1" stroke="#98a6dc" stroke-width="3.9" stroke-linecap="round"/><path d="M74 1l2 1m12 0l0 1m20-1l1 1m2-3l-2 1m4 7l0 1m-66 11l1 1m32-4l2 0m-45 8l-2 0m78-1l-2 1m-104 4l1 1m26-2l-2 0m41 3l0 2m23-6l-2 2m21-1l1 1m-15 5l2 2m3-1l2 2m8-5l1 2m-97 5l2 1m11 1l1 2m5-3l0 2m23-3l0 1m6-2l2 1m48 1l0 1m-78 5l-1 1m23 1l1 2m10-4l1 1m4 0l2 1m21-3l0 3m-79 4l-1 3m8-5l0 2m3-1l1 2m6-1l2 2m34-5l0 3m4-1l1 1m33 0l1 1m-111 3l-2 1m43-1l1 2m7-2l1 1m4 1l0 2m5-4l-1 2m14-4l0 1m19 1l1 1m5-2l1 2m17 1l1 2m-77 4l1 1m19-4l0 1m30-2l-1 1m14 3l1 2m5-5l0 2m-70 5l0 2m5-3l-1 1m70-1l0 1m-107 3l1 1m30 0l-1 1m42-2l1 3m29-3l-2 1m11 1l-1 2m-115 10l1 1m8-1l1 0m17 1l1 0m27-3l-2 1m43-2l1 1m11 2l1 2m5-5l2 1m-119 5l2 2m22 0l1 1m66-3l-1 2m31 0l0 1m-94 4l0 1m-10 3l-1 1m5 1l1 2m84-1l0 1m9-2l2 2m-109 2l2 2m8 0l1 1m2-3l-1 1m62-2l1 1m13 2l1 2m-89 4l2 0m12-3l0 1m35-1l1 1m21-1l-1 1m33 0l0 1m8-1l0 2m-105 3l1 1m3 1l2 2m8-4l-1 1m71-2l-2 0m11 0l0 1m12 1l-1 0m-118 4l2 2" stroke="#6f82cc" stroke-width="3.9" stroke-linecap="round"/><path d="M84 5h0m34 10l1 1m-14 2l1 1m-66 16l1 1m69 0l0 1m-10 1l0 1m-15 6l2 0m-42 19l0 1m51-2l0 1m-96 1h0m7 2l1 1m20-1h0m8 2h0m31 0h0m4-1l1 2m-60 3l1 1m10 1l-1 0m25-3l-2 1m21-1h0m21 3l0 1m-71 2l1 1m5-2l0 1m44 0l0 1m15 1l0 1m-58 3l1 1m25 1h0m31-1l1 0m10 0h0m4-2l1 1m-65 5l0 1m21 1l1 1m13 0h0m7-3h0m4 1l1 1m-64 3l0 1m5-2l1 1m29 1h0m8-2l1 1m14-1l1 0m10 1l1 0m12-1l-1 1m19 0l0 1m-115 4l1 1m45 0h0m8 2l0 1m11-3l0 1m3-2l1 0m5 3h0m9-1l1 0m8-2h0m-62 9l1 1m5-2h0m5-2l1 1m3-1l0 1m6 0l1 1m4-2h0m9 1l1 1m10-3l0 1m4 0l1 1m33 1h0m-86 3h0m14 2l1 0m5-2l1 1m2 2h0m19-3l0 1m5 0l0 1m10 1h0m11-2h0m-87 5h0m28 1h0m9 1l0 1m5-3l0 1m7 1l1 0m22-2l1 0m4 3l1 1m-45 1l1 1m11-2h0" stroke="#5e180b" stroke-width="4.1" stroke-linecap="round"/><circle cx="107" cy="47" r="19.7" fill="#d6d6ee"/><circle cx="107" cy="47" r="11.7" fill="#e9dfe9"/><path d="M102 33l0-2m4 0l-1-3m5 4l0-2m5 2l2-2m0 5l3-3m-1 7l2-3m0 6l2-1m0 3l3 0m-4 8l3 3m-7 1l2 1m-4 2l1 2m-4 1l1 4m-4-4l1 2m-6-3l0 2m-3-2l0 3m-3-6l-2 2m-2-3l-3 3m2-7l-2 1m0-3l-3 0m4-6l-3 1m4-2l-4-1m4-3l-3-1m5-4l-2-3m4 1l-2-1" stroke="#8796d4" stroke-width="3.6" stroke-linecap="round"/></svg>
<rect x="1760.5" y="1035.8" width="120" height="119" fill="#9a9a9a" filter="url(#sh)"/><svg x="1758.9" y="1034.2" width="120" height="119"><g filter="url(#bl)"><use href="#q00" class="sp"/><use href="#q01" class="sb"/><use href="#q02" class="sb"/><use href="#q03" class="sp"/><use href="#q10" class="sp"/><use href="#q11" class="sw"/><use href="#q12" class="sR"/><use href="#q13" class="sR"/><use href="#q20" class="sb"/><use href="#q21" class="sR"/><use href="#q22" class="sm"/><use href="#q23" class="sR"/><use href="#q30" class="sw"/><use href="#q31" class="sR"/><use href="#q32" class="sM"/><use href="#q33" class="sR"/></g><path d="M86 1l-1 1m-83 10l-2 1m71 1l2 0m10-3l0 2m-39 9l-4 0m39 8l-3-1m26 1l-1 1m9-4l-1 1m8 2l-2 2m-85 4l-1 3m51-4l3 2m3-3l-3 3m19-4l1 0m-32 6l1 2m11-3l0 1m16 1l-3 1m-34 6l-1 0m59-3l-2 0m-1 7l0 2m-61 6l-2 0m40-4l-1 2m20-1l2 0m-102 5l-1 1m22-1l-3 1m9 2l-1 2m32-2l-3 1m21-2l-2 0m15 0l0 3m9-5l-3 1m7 2l-1 2m-104 2l-2 1m25 0l-3 1m43-1l-2 1m29-4l0 1m15-1l-1 1m-109 4l1 2m33-1l-2 0m41 0l1 0m34 1l-2 3m-67 3l1 1m26-2l-3 2m23-1l1 0m20-3l0 2m-61 4l1 4m33-3l-1 1m10 1l-2-1m7 1l2 3m4-6l-2 2m-51 6l-1 2m9-5l-1 3m43 0l-1 1m15-2l-3 1m-85 6l-4 2m60-3l-3 0m-36 6l-3 1m11-1l-1 1m9 1l0 4m29-5l-1 0m-45 4l-3 3m65-4l-1 1m11 0l-1 0m-94 6l1 0m26 1l-1 1m13-2l-2 1m13-2l2 3m15-1l-3 2m28-3l-2 0m-47 7l-1 1m2-4l1 0m7 0l-2 1m20 1l-2 0m19 0l-2 1m5-1l0 4" stroke="#b4563a" stroke-width="4.0" stroke-linecap="round" opacity="0.88"/><path d="M66 3l-1 1m-16 10l-1 0m39 0l-1 2m-7 3l1 0m-25 14l-2 2m60 14l-1 2m-81 13l-2 2m28-6l0 2m-50 7l-2 1m51 4l-2 1m28 4l0 1m-24 10l-1 0m26-1l-2 2m7 4l-1 1m-35 22l-2 2m47-5l-1 1" stroke="#98a6dc" stroke-width="3.9" stroke-linecap="round"/><path d="M22 3l-1 1m31-3l-1 1m11 1l0 3m13-4l-1 1m17 0l-1 1m5-4l0 1m16 2l0 2m-88 0l0 2m10 2l-1 0m12-1l-2 0m8-2l-1 1m24 0l-2 0m14 0l-2 1m-54 6l0 2m3-5l2 1m8 3l-2 1m18-2l2 1m0-4l-2 1m9-1l-1 2m45-1l0 1m-67 3l0 1m5 1l-1 1m19 0l-1 2m8-3l-1 0m15 0l-3 1m-62 5l-2 2m40-2l1 0m20 1l1 1m-50 5l-2 1m9-1l0 1m13-4l0 1m51 1l-1 2m-73 18l2 1m18 6l-2 1m-45 7l-1 2m37 2l-2 2m53-2l-1 0m6-1l-2 2m-82 1l2 0m4 3l1 1m49 0l-1 2m5-3l-1 2m15-2l2 1m-86 4l0 2m37-4l-2-1m20 3l0 1m-47 5l-3 0m33-3l0 2m30-1l-1 0m9 2l1 1m12-4l-2 0m-71 7l-1 0m53 1l-2 1m-61 5l-1 2m28-4l0 1m33-1l-2 0m29 2l-1 1m-74 4l0 2m44 2l-2 2m16-1l-3 0m19 0l-1 2m-85 4l0 2m60-3l2 0m16 4l0 2m-46 4l0 1" stroke="#6f82cc" stroke-width="3.9" stroke-linecap="round"/><path d="M39 3l-2 0m3 17l0 1m60-2l-1 1m-44 6l-1 1m41-4l-1 1m16 1h0m-49 5h0m25-1l-1 1m-32 3l-1 0m17 3h0m21 0l0 2m5-5l-1 1m24-1h0m-67 6l-1 0m19-1h0m11 4l-1 1m11-4l-2 0m6-1l0 2m10-2l-2 1m8 3l-2 0m7-1l-1 0m-48 5l-1 2m10-2l-1 1m5-4h0m3 1h0m7 1l-1 1m8 1h0m4 0l-1 0m5-1l-1 0m9-2h0m5 3h0m-56 5h0m6-2h0m4 0h0m6-1h0m14 2l-1-1m17 0l0 1m-88 5l0 1m43-2l-1 0m12 3l0 1m7-2h0m4-2l-1 0m16 2l-1 1m7-3l-1 1m12 2l-1 1m-48 2l1 1m16 2l0 1m21-3l0 1m16-2l2 0m-95 7l0 1m17-3l0 1m6 2h0m7-3h0m2 2l0 1m23-1l-1 0m24 0l0 1m7-2l0 1m-64 5h0m12 0h0m32 2l-1 1m11-1l-1 1m6-3l0 1m11-2l0 1m-89 6l0 1m22-3l0 1m17-1h0m28 0l-1 0m6 3l0 1m6-1h0m7-1h0m-82 7h0m11-3l-1 1m13 2l-1 1m5-1l-1 1m13-2l0 1m40-2h0m4 2l1 1m-91 4h0m10-2l-1 1m4 1l-1 0m8-3l-1 0m27 0l-1 1m17 1l0 1m9-2l-1 0m11 0h0m3 2h0m-72 6l-1 0m9-1h0m5-1l0 1m6 1h0m5-4l-1 0m12 1l-1 1m8 2h0m19 0l0 1m8-4l-1 1m7 1l-1 1m4-3l-1 0m6 1l0 1m-88 6h0m5-2l1 0m17 2l-1 2m13-2h0m6-3l-1 0m6 0l-1 0m7 1l-1 1m13-1h0m2 1l-1 1m10 0l-1 0m2-2h0m6 1h0m-92 7l-1 1m16-5l-1 1m15 3l-1 0m4-3l1 0m13 1l-1 0m4-2h0m25 2l0 1m15 1h0m-61 1l-1 1m6 4h0m23-4l-1 1m8 0h0m11 3h0m4 0h0m5-1l-2 0m15-1l-1 1m-95 3l-1 0m13 3l-1 0m10 0h0m13-1h0m20-2l-1 0m25 2l-1 1m17-2h0m-73 4l0 1m24-1l-1 1m23-1l0 2" stroke="#5e180b" stroke-width="4.1" stroke-linecap="round"/></svg>
<rect x="1905.1" y="1035.8" width="120" height="119" fill="#9a9a9a" filter="url(#sh)"/><svg x="1903.5" y="1034.2" width="120" height="119"><g filter="url(#bl)"><use href="#q00" class="sb"/><use href="#q01" class="sp"/><use href="#q02" class="sb"/><use href="#q03" class="sp"/><use href="#q10" class="sm"/><use href="#q11" class="sR"/><use href="#q12" class="sm"/><use href="#q13" class="sb"/><use href="#q20" class="sR"/><use href="#q21" class="sD"/><use href="#q22" class="sR"/><use href="#q23" class="sp"/><use href="#q30" class="sR"/><use href="#q31" class="sD"/><use href="#q32" class="sb"/><use href="#q33" class="sp"/></g><path d="M100 2l-1 1m-99 15l-1 3m47-3l-2 2m13 6l-2 3m-33-1l0 3m36-4l1 2m-35 4l-1 2m68-2l-1 3m-43 5l-1 3m40-3l-2 1m-84 5l0 3m52-5l0 2m5-1l-1 1m5 0l0 1m-39 1l0 2m18 2l1 1m7-3l3 2m13 0l-1 2m23-5l1 4m-86 3l1 1m4 0l-1 1m14 0l1 3m9-6l0 3m13-1l0 2m14-3l2 1m3-3l-3 2m42 0l2 0m-84 5l3 1m2 1l1 1m70-3l-1 3m-82 4l0 4m16-7l-2 3m16-2l-1 2m10-1l1 2m4-3l-2 3m27-1l-1 2m10-1l-1 2m-88 2l0 2m18-1l1 2m9-4l0 3m38-5l-2 3m53 1l-1 3m-104-1l0 3m59-1l0 1m12-3l-1 3m18 0l0 3m-87 1l1 2m2-3l-2 1m10 0l0 3m7-5l-1 3m6-1l2 3m34-2l0 1m-63 4l1 2m9-1l-1 2m26-5l2 2m40-2l0 2m10-2l1 1m-74 8l1 1m21-5l-1 1m19 0l-2 1m14 0l-2 3m18-1l-1 1m-81 1l0 3m20-4l0 2m12 3l-2 2m53-3l-2 3m-90 2l-1 3m31 1l0 3m9-3l1 2m-26 5l-1 1m10-3l0 1m12-2l0 1" stroke="#b4563a" stroke-width="4.0" stroke-linecap="round" opacity="0.88"/><path d="M69 0l-2 2m19-2l0 1m-84 7l0 2m95-5l-1 1m-87 6l-1 2m9-2l0 2m6 0l0 2m62-4l0 2m-83 10l2 1m76-3l0 1m30 8l-1 2m-91 2l-1 2m94 3l1 1m-98 5l0 2m-12 2l1 0m3 1l0 1m47-2l-1 2m53-1l-1 2m18-2l0 2m-16 4l0 2m15 1l2 2m-48 28l0 1m2 14l0 1m0 6l0 1m8-2l-1 2m-34 4l-1 2m29-3l0 2" stroke="#98a6dc" stroke-width="3.9" stroke-linecap="round"/><path d="M19 0l0 1m4 0l0 2m24-3l0 2m32-3l-1 2m19 0l-1 2m-83 5l1 2m2-2l-1 2m43-3l1 2m15-4l0 1m-73 6l2 2m9 1l0 1m19-3l-1 2m42-4l0 2m7-1l-2 2m-71 6l-1 2m48-5l0 1m4 0l0 1m11-1l0 1m6-2l-1 2m5 0l-1 1m6-4l1 0m10 4l0 1m-70 3l0 2m45-4l-1 2m14 0l2 0m11 1l0 2m-88 4l1 2m4-6l0 2m4 0l-1 1m52-2l0 1m7-1l-2 1m5 0l0 2m14-1l0 1m-86 6l-2 1m47-5l2 2m25-1l1 1m-77 6l0 3m7-6l-1 2m4-2l0 1m17 2l1 1m31-1l-1 2m21-5l-1 2m17 1l1 1m4-1l0 2m7-2l0 1m-85 1l0 1m45 0l-1 1m12 1l0 2m16-3l-2 2m-24 3l-1 2m26 1l0 1m24-3l1 2m-112 9l-2 1m26-2l0 2m78-1l0 1m-37 9l0 3m-3 5l2 2m-3 2l-2 2m25-4l-2 2m-11 4l0 1m39 1l0 2m-49 5l-1 2m32-4l-1 1m-97 3l1 3m60-3l2 1m36-1l1 2m-44 5l1 1m11 0l0 3m3-3l0 1m-65 2l1 2m53-1l1 2m6-1l-1 2m5-3l-2 1m19 0l1 2m-24 1l1 0m23 1l-1 2" stroke="#6f82cc" stroke-width="3.9" stroke-linecap="round"/><path d="M99 17l0 2m-66 6l0 1m8-1l-2 0m-36 2l2 0m23 3l0 1m7-1l0 1m7 0l0 1m-3 3l0 1m6 0l0 1m13-1l-1 0m28-2h0m-65 7l0 1m15-3l-1 0m6 1l0 1m10-1h0m8-1l-1 0m-39 7l-1 1m12 0l-1 1m6-4l0 1m5-2h0m7 2l0 1m42 0l-1 0m-73 3l0 1m16 1h0m26 1l0 1m15-2h0m19 1l1 1m-57 5h0m13 0l2 1m1-4l0 1m18 1l0 1m3-3l0 2m7 0l0 2m-76 4l0 1m39-4l1 1m4 0l0 1m6 1l1 1m4-3l0 1m3 2l0 1m15-1l0 1m-74 5l1 0m6-1l1 1m9-2l1 0m4-2l0 1m10-1l0 1m15 1l1 0m15 2l-1 0m10-4l-1 1m24 1l0 1m-91 6l1 0m5-2l0 1m21 1l0 1m8-1h0m4-1l-1 1m7 0l0 1m8-2l-1 0m23-1l-1 1m22-1h0m-101 7l1 1m8-1l-1 1m10-1l0 2m5-4l0 2m7 0h0m6 1l-1 0m4-1l0 1m5-2l0 1m5-2h0m9-1h0m3 2h0m18 0h0m10 1l0 1m-87 3l1 1m37 0l0 1m6 0h0m4-1l0 1m8-3l0 1m4 1l0 1m16-3h0m-76 7h0m9 1h0m14-1h0m4 2l0 1m7-3l1 1m4-1h0m8-2l0 1m7 2l1 1m5-4h0m6 0h0m-67 5h0m8 0l0 2m4 1h0m3 1h0m12-1l-1 1m9-4l0 1m6 1l1 0m6 0l0 1m7-1l1 1m27-3h0m-71 7l-1 1m5-1l0 1m7-2l0 1m12 0l1 1m9 0l0 1m3-3l-2 1m-34 6l-1 1m8 0h0m4-1l1 1m3 0l-1 1m9-2h0m6 0l-1 1m3-1h0m8 1l0 1m11-3h0m-63 7l0 1m13-2l1 1m2-3l0 1m9 3h0m10-2l-1 1m12 0h0m5-1l0 1m6 1l0 1m-56 5l0 1m5-3h0m11 0l0 1m10-3l0 1m12 1l1 1m4-1l-2 0m16-2h0m15 0h0m-34 6l1 1" stroke="#5e180b" stroke-width="4.1" stroke-linecap="round"/></svg>
<rect x="2049.8" y="1035.8" width="120" height="119" fill="#9a9a9a" filter="url(#sh)"/><svg x="2048.2" y="1034.2" width="120" height="119"><g filter="url(#bl)"><use href="#q00" class="sp"/><use href="#q01" class="sp"/><use href="#q02" class="sM"/><use href="#q03" class="sp"/><use href="#q10" class="sm"/><use href="#q11" class="sM"/><use href="#q12" class="sR"/><use href="#q13" class="sm"/><use href="#q20" class="sm"/><use href="#q21" class="sR"/><use href="#q22" class="sM"/><use href="#q23" class="sm"/><use href="#q30" class="sR"/><use href="#q31" class="sR"/><use href="#q32" class="sM"/><use href="#q33" class="sm"/></g><path d="M62 9l2 0m4-2l2 1m29 0l2 1m-43 4l0 4m13-4l1 0m-23 7l2 0m17-4l3 1m2 1l2 3m9-5l3 2m-30 4l1 2m31 1l1 3m-43 2l3 0m2 0l1 0m38-2l1 1m-36 6l1-1m12 1l2-1m2 1l1 0m22 0l0 1m-95 6l-3 1m120-3l0 2m-89 2l1 2m53 1l-3 1m10-3l2 1m-91 4l1-1m3 3l4-2m35 0l1 1m35 1l0 3m24-5l2 1m-99 7l1-1m9-1l2-1m97 1l1 1m-108 7l3 0m22-1l2 0m9 1l1 0m4-4l2 0m47 2l1-1m12-1l1 0m-111 8l-3 3m10-2l2 0m0-1l3 1m15-1l1 1m4 0l-3 0m26-1l3 1m16 0l1 1m-75 2l2 1m5 1l0 2m2-4l-1 2m17 1l1 0m84-1l-1 1m-66 4l2 3m3-4l3 0m28 1l3-1m17 1l1 1m19-1l2 2m-81 2l0 1m38-2l2 3m-75 6l2 1m21-2l3 2m18-5l1-1m19 1l2 1m5 3l1 1m31-1l4 0m-111 2l-2 2m56-1l2 3m37-1l2-1m8 1l2 1m13-4l2 1m-87 7l1-1m3 3l2 1m5-4l2-1m7 3l4 0m48 0l3 0m-108 5l2 0m12-3l1 1m62 1l-1 2m21-1l2 1m4-1l2 1m-93 1l1-2m3 3l-1 1m8 1l2 0m3 0l1 0m24 0l2 0m8 0l2 1m3 0l2 0m8-1l-2 2m18-3l2 1m17 0l2 0m-93 7l1 1m24-3l4 1m7-3l2 0m3 2l3 1m13-2l-1 0m27 2l1 0m-53 3l2 3" stroke="#b4563a" stroke-width="4.0" stroke-linecap="round" opacity="0.88"/><path d="M88 13l3 1m-78 5l2 0m46 14l1-1m49 8l1 0m-71 5l0 2m18 0l2 1m43-1l2 0m-73 4l1 1m18-1l3 0m63-2l2 0m-95 6l1 0m41 3l1 3m26-3l3 0m-96 5l2-1m24 0l-1 2m62 1l3 1m-8 8l0 2m-82 2l2 2m64-2l2 0m21 0l2 1m-86 3l-1 0m64 2l1 2m35-3l1 0m-36 7l1-1m29 1l1 1m9 21l2 1" stroke="#98a6dc" stroke-width="3.9" stroke-linecap="round"/><path d="M2 3l0 2m58-4l2 0m24 2l1 2m-85 1l2 1m75 0l1 0m3 7l2 1m-46 4l2 0m37-1l0 1m-56 5l2 0m44 1l1 1m11 0l-1 2m33-4l0 2m-95 5l-2 0m16-3l1 2m32-2l3 0m0 3l2 0m24 0l1 0m-88 5l2 0m11-2l1 1m11-1l2 2m5-2l2 0m78 1l-1 2m-106 4l1 0m57 0l1 2m31-2l1 0m-88 3l1 2m1-2l1 2m51 1l2 0m23-3l1 1m-76 8l1 0m4-3l1 0m65 0l-1 2m9 0l1 1m-96 5l-2 1m27-3l1 0m80 0l1-1m1 0l1 1m-97 7l2 0m77-2l1 0m-69 6l2 1m70 1l2 1m9-3l1 0m13 2l-1 1m-104 4l2 0m23 1l3 0m28-1l1 2m3-2l1 0m39 0l2 0m-100 6l-1 1m16-4l2 2m4-1l2 0m51-1l1-1m24 3l2 0m-30 4l2 0m-56 6l0 1m47 0l1-2m21 3l2 1m-88 4l1 0m41-1l2 1m21-3l1 1m7 1l1-2m-66 9l2 1m59-1l2 1m10-3l-1 1m18 1l1 2m-105 1l1-1m61 1l1 0m8 2l2-1m2-1l2 1m4-2l2 0m17 0l-2 0m7 1l1 1m-29 7l-1 1m19-1l1 2m-30 3l1 1m29-1l1 1m8-1l1 1" stroke="#6f82cc" stroke-width="3.9" stroke-linecap="round"/><path d="M72 3h0m8-1l0 1m10-4l1 2m-35 6l0 2m16-2l1 1m10-2l2 0m-62 6l1 1m77-2l1 0m-92 13l1 0m41 0l0 1m-52 5l1-1m56 1l1 2m15-5l1 1m-31 5l0 1m10 0l1 0m25 0l1-1m4 1l1 0m7-1l1 0m6 3h0m12-2l0 1m-93 6l1 0m6-2l1 0m8 0l1 1m6-2h0m6 0l1 0m10 3h0m15-1l1 1m6 0h0m4-2l1 1m-85 4l1 0m21 1h0m14 0l1 0m8-2h0m6 3h0m12 1h0m11-3l1 2m2 1h0m38-2l1 1m-86 3h0m27 0h0m6 0l1-1m4 1l1 0m5 1l1 0m8 1h0m-72 6h0m37-2l0 2m2 2l-1 1m11-5h0m12 0h0m5 3h0m8-4l0 1m4 3l1 1m10-5l0 1m-44 8h0m4 0h0m9 0l1 1m4 0l-1 0m4-3l1 0m7 3l1 0m1-1h0m-69 3l1 0m21 0l1 0m12 1h0m9 0l1 1m6 0l1 0m4 0l1 0m9 0h0m16-1l1 0m-77 5l0 1m11-1l-1 1m12-1l1 0m3-1h0m5 0l1-1m4 3l1 1m8-1l2 0m25 2l1-1m-82 6l1 0m6-1l2 0m35 1l1 0m2 0l1 1m12-2l1 0m8 1h0m22-1l-1 0m-105 5l0 1m25-2l1 0m2 3h0m7-1l1 0m11-3l1 0m4 4l-1 1m7-2l1 0m1 0l1-1m12 1l1 1m36-1h0m-109 7h0m12-1h0m5-1l1 1m3 0h0m18-1l0 1m5-2h0m11 0l0 1m5 0l1 0m-56 5h0m7 2h0m9-1h0m17-3l1 0m8 2h0m3-1h0m16 2l0 1m4-1l1 0m7 0h0m-79 4l2 1m3-1l1 1m8 1l1 0m3-1l2 0m1 1l1 1m27-2h0m13-3h0m6 2l1 1m5-1h0m6-1l1 0m12 2l0 1m-84 2l1-1m12 4l1 0m11-3l1-1m3 4l1-1m6 1l0 1m7-2l1 0m6-2h0m5 0h0m3 1l1 1m-68 5l1 1m6-1l0 1m26-1l1 1m8-1l1 0m5 2l0 1m5-2l1 0m7 0l0-1m23 1l1 0m13-2l0 1m-98 5h0m13 1l2 0m5-1l1 0m7-1h0m5 1l2 0m7 1l1 0m1-2l1 0m13 3h0m16-1l-1 0m20 2l1 0m5-2h0m-75 3l1 1" stroke="#5e180b" stroke-width="4.1" stroke-linecap="round"/></svg>
<rect x="1181.9" y="1191" width="120" height="119" fill="#9a9a9a" filter="url(#sh)"/><svg x="1180.3" y="1189.4" width="120" height="119"><g filter="url(#bl)"><use href="#q00" class="sm"/><use href="#q01" class="sb"/><use href="#q02" class="sb"/><use href="#q03" class="sm"/><use href="#q10" class="sm"/><use href="#q11" class="sg"/><use href="#q12" class="sg"/><use href="#q13" class="sb"/><use href="#q20" class="sb"/><use href="#q21" class="sR"/><use href="#q22" class="sR"/><use href="#q23" class="sm"/><use href="#q30" class="sb"/><use href="#q31" class="sM"/><use href="#q32" class="sm"/><use href="#q33" class="sb"/></g><path d="M8 2l-3 1m74-3l3 1m14 2l1 2m4-3l-2 0m-96 7l1 4m59-7l-2 2m-61 6l-2 3m76-3l-3 0m42-2l-2 3m-95 10l-2 2m3 1l-3 2m11-1l-1 1m44-2l-2 2m24-1l-1 0m4 2l0 3m-86-1l-1 1m85-2l1 1m13 19l-3 2m-50 5l1 3m38-5l1 2m8-3l-3 0m-90 7l0 4m37-3l-2 1m44-4l-2 2m-70 5l-3 2m30-3l-1 1m56 0l-2 1m17 0l-2 0m7 1l-2 0m-97 3l-1 3m20-5l-1 3m13-2l3 0m5 0l-1 0m11-1l-2 0m7 3l-1 2m-26 3l-1 1m29-2l0 1m7-1l-3 0m14-2l-4 0m22 3l-2 2m6-4l-2 2m-70 5l-3 1m9-2l-3 2m12-3l-1 3m21-3l-2 1m15 0l-1 0m26 3l-1 2m5-6l-2 1m-115 5l-2 1m30 3l-3 0m35-3l-3-1m11 3l0 1m22-4l-1 3m13-1l-3 0m-72 6l-4 1m12-1l-2 3m14-2l-4 2m14-4l-3 1m24-3l-2 0m11 2l-2 3m-25 0l-2 1m6 6l-2 1m-12 5l-1 1m34-3l-2 0m-56 10l-2 1m7-1l-2 0m27 0l-3 1m26-1l-2 2m35-5l-3 2" stroke="#b4563a" stroke-width="4.0" stroke-linecap="round" opacity="0.88"/><path d="M15 0l0 3m20-1l0 2m9-1l-1 1m15-4l-1 1m62 0l-2 0m-97 5l-2 2m18-1l-1 0m10-2l-2 1m10 0l-2 1m24 0l-1 1m43 1l-1 2m5-4l1 0m-72 8l-1 0m7-2l-2-1m47 2l-1 1m-95 1l-2 1m57 5l-1 0m40 1l-1 1m-59 4l-1 1m19 2l-1 0m21 0l-1 0m-24 5l1 0m2 0l-1 0m-9 5l-2-1m15 2l-1 0m55-2l0 1m7-2l-1 1m-95 6l-2 1m8-3l0 2m82-1l-2 2m7 0l-1 1m-48 1l-2 1m52 0l-1 2m5 0l1 1m-103 2l-2 1m14 2l-1 1m82-5l-2 1m-107 9l-2 0m-1 4l1 1m103 0l0 2m-99 7l-1 2m13 0l0 2m16-4l0 1m-4 7l-2 0m92 4l-1 1m-96 2l1 2m79-1l-2 1m13-1l1 1m-113 5l-2 2m68-1l-2 1m32-3l-1 0m25 0l-2 1m-99 8l-2-2m8-1l-2 0m44 2l-2 0m6-3l0 1m17 3l2 1m-90 3l-1 1m104-3l-1 1m7 1l-1 0m13-2l-1 2m-112 4l-1 1" stroke="#98a6dc" stroke-width="3.9" stroke-linecap="round"/><path d="M19 1l-2-1m13 3l-1 2m23-4l-2 2m34-3l-2 1m23 0l3 1m-100 3l1 1m3 1l-1 1m16-2l0 2m14 0l-1 3m19-5l-1 1m8-2l-1 1m28-1l1 1m5-1l-2 0m16 2l-2 0m-90 4l-1 0m13 2l-1 0m30-2l1 1m6 0l-1 1m8 1l-2 1m10-1l-1 0m11-2l0 2m-93 4l0 1m35 0l-1 1m6-4l-1 1m24 2l1 2m5-3l-1-1m21 3l-1 1m24-4l-1 1m-100 4l-2 1m13 0l1 2m10-4l0 1m5 2l-1 0m7 2l-2 1m12-5l2 2m10 1l-2 0m43-2l-1 1m-100 5l2 2m37 0l-2 0m7-3l0 2m10-2l2 1m39-2l-2 0m-71 6l-1 1m18 1l-2 1m22-1l-1 2m8-1l-2 1m23 0l-1 1m8-4l-1 2m9 0l-1 1m11-2l-1 0m-118 6l-2 1m25-1l-1 2m40-2l0 1m6 0l-1 0m5-1l-1 0m13-3l0 2m12 2l-2 1m8-4l-1 1m-87 7l2 1m29-1l-1 1m12-3l-2 1m34-1l-2 1m9 1l-1-1m13-1l1 2m13-2l-2 0m-119 8l-1 1m9-3l-1 1m5 1l0 1m6-2l-1 0m46-1l-1 0m21-1l-2 0m10 0l-2 1m21 1l1 0m-106 4l0 1m58-1l0 1m43-2l0 1m-70 5l-1 0m6 3l0 2m38-4l-2 1m15-1l0 1m8 1l-1 2m7-6l-2 0m8 3l-1 0m4-2l-1 1m7-1l2 0m-118 7l-2 0m33 0l-1 1m41 0l-3 0m-50 5l2 2m55-3l-2 1m22-1l-1 2m9-2l-2 2m-92 4l-1 1m17-1l-2 2m33-4l-2 0m34 1l-2 0m-90 5l-2 1m6-1l-3 0m12 0l-2 1m71 0l-1 1m-66 5l-2 2m10-2l-2 0m84-2l-2 2m-97 4l-2 2m5 0l-1 2m11-2l-2 1m34 0l-2 1m14-2l-2 0m4 1l2 1m15-3l-1 0m-76 5l-2 0m18-1l-1 1m13 1l0 1m12-1l-1 0m34-1l-1 1m23-2l-1 1m10 3l-2 1m-105 2l-3 1m9-1l1 0m4-2l-3 0m28 1l-2-1m56 3l-1 0m21-2l-2 0m-106 9l-2 0m10-3l0 2m14-2l-2 2m11-2l0 2m10-1l2 0m42 0l-1 0m11 1l-2 1m21-4l-2-1m-118 7l-1 0m62 0l1 0m8 1l-2 0m7 0l-1 0m9 1l-1 1m26-2l2 1m9-3l-1 2m-117 4l-2 1" stroke="#6f82cc" stroke-width="3.9" stroke-linecap="round"/><path d="M6 10h0m24 2l-1 0m79 1h0m-94 5h0m14 2l0 1m-28 3h0m114 5l-1 0m-35 27h0m-48 5l-1 0m27 1h0m5 2l0 1m32-3h0m-62 4l-1 0m17 1l-1 0m4 0l0 1m7 0h0m5 0l0 1m7-3l-1 1m15 2h0m6-3l0 1m-39 7l0 1m10-1l1 0m21-1l-1 2m7 0l-1 0m23-1l-2 0m-84 3l-1 1m18 0h0m14-1l-1 0m11 3l-1 1m19-3h0m-61 6l1 1m12 0l-1 0m17-2l-1 1m11 2l-1 0m5-1l-1 0m16-2h0m19 2l-1 0m-85 4l-1 0m22 0l-2 0m6 2h0m8-3h0m5 2l0 1m7-3h0m14 1l1 0m5-1h0m-36 9l-1 1m-24 1l-1 0m23 0l-1 1m37 2l-1 0m-29 2h0m10 4l-2 1m29-4h0m-44 7l-1 1m19 0l-1 1m6-5l-1 0m-25 8l-1 1m11-3l-1 0m8 4l-1 0" stroke="#5e180b" stroke-width="4.1" stroke-linecap="round"/><circle cx="78" cy="47" r="18.7" fill="#d6d6ee"/><circle cx="78" cy="47" r="10.7" fill="#e9dfe9"/><path d="M66 39l-4-2m10-4l-1-2m5 3l0-3m3 3l1-3m3 1l1-2m1 5l2-3m1 4l1-2m2 6l2-2m0 4l3 0m-3 6l2 1m-5 4l3 1m-7 2l2 2m-3 2l2 2m-6-1l1 2m-5-3l-1 3m-2-4l-1 3m-6-5l-2 2m2-9l-4 2m3-6l-3-1m2-3l-3-2" stroke="#8796d4" stroke-width="3.6" stroke-linecap="round"/></svg>
<rect x="1326.5" y="1191" width="120" height="119" fill="#9a9a9a" filter="url(#sh)"/><svg x="1325" y="1189.4" width="120" height="119"><g filter="url(#bl)"><use href="#q00" class="sM"/><use href="#q01" class="sm"/><use href="#q02" class="sM"/><use href="#q03" class="sm"/><use href="#q10" class="sm"/><use href="#q11" class="sR"/><use href="#q12" class="sm"/><use href="#q13" class="sR"/><use href="#q20" class="sb"/><use href="#q21" class="sg"/><use href="#q22" class="sR"/><use href="#q23" class="sR"/><use href="#q30" class="sM"/><use href="#q31" class="sb"/><use href="#q32" class="sp"/><use href="#q33" class="sM"/></g><path d="M25 3l-3 1m12-3l-2 3m30-4l0 3m5-3l-1 1m30 0l-3 2m15-3l-1 2m-106 4l-1 0m6 1l-2 1m15-2l-1 1m27-1l1 2m18-2l-2 1m7-1l-2 3m21-2l-1 1m13 0l2 0m-95 6l-2 3m8-3l0 1m7-4l1 3m8-3l-3 1m24 2l0 1m21-2l-1 1m29 1l-2 2m-82 3l-2 1m34-4l0 1m5 0l0 2m6-3l0 4m6-4l-1 4m31-3l-2 1m-84 6l-4 1m87 0l1 2m-70 2l-1 2m-19 3l0 1m12 1l-1 3m26-7l-1 3m29 0l-3 2m7-1l-1 1m8-2l1 2m32-4l-2 2m-108 2l-1 2m8-2l0 1m20 2l3 3m48-6l0 2m16-1l-1 1m14 0l-1 2m-49 2l-3 1m5-1l1 2m7-1l0 3m27-3l-1 3m5-5l-3 3m-80 3l-1 1m38 0l0 3m9 0l0 2m29-5l-3 1m-83 3l-2 3m21-2l0 1m42-1l2 1m5-1l-2 3m7-2l-1 3m5-2l0 3m-31 2l-1 1m41-2l0 2m6-1l0 3m5-4l-1 3m5-1l-2 1m-82 1l-1 3m38-1l0 3m16-2l1 3m14-5l3 1m18-1l-2 3m8 0l1 2m-76 0l-2 2m18-1l3 2m6-1l-1 3m19-1l-1 1m16-1l-1 2m23-6l2 2m-119 5l1 2m11-1l1 1m23-1l-1 3m33-5l0 3m23 0l-2 3m20-5l4 2m-110 4l-1 2m17-1l1 2m48-5l-1 2m14-1l0 1m27-1l-1 4m-104 2l-2 2m63-3l0 3m22 0l-2 0m8-2l0 2m-84 2l-1 2m16 1l0 1m15-4l3 2m20-2l-1 3m24-2l-1 1m25 2l-3 1m-111 3l-1 1m9-2l0 3m6-4l0 1m16 0l-2 3m9-1l-2 1m48-4l0 4m-74 2l1 2m91 1l-3 2m15-6l-1 0m-108 8l0 1m4-1l-2 2m8-1l-1 3m27-7l-1 4m63-2l-1 2m-101 6l-1 3m9-5l-1 2m69-3l-2 3m27-3l0 3m-78 2l-2 2" stroke="#b4563a" stroke-width="4.0" stroke-linecap="round" opacity="0.88"/><path d="M8 2l-2 1m78 0l1 1m-33 3l0 1m23-2l-2 0m13 0l-2 1m-37 6l-1 1m20 0l1 1m50-3l1 1m-106 10l0 1m6-1l-1 1m12-2l-2 1m29-1l-1 3m16-1l1 2m34-4l2 0m-9 8l-1 1m-8 3l-1 1m-26 5l0 1m56 4l-1 1m-116 16l1 1m15-3l-1 1m52 0l-1 1m-22 3l-1 1m34 9l1 2m-66 6l1 2m101 0l0 3m-81 1l-2 1m19 1l0 1m-30 2l0 2m77-1l0 1m-59 4l-1 2m70-2l0 2m-93 5l1 2m12-5l-1 2m11 1l0 1m11-1l1 2m29-4l0 1m3 1l3 1m-62 4l-1 1m43-2l-1 1m-9 3l2 0m60 6l-2 2" stroke="#98a6dc" stroke-width="3.9" stroke-linecap="round"/><path d="M0 1l-1 2m32-2l0 1m15-1l-1 1m26 1l0 2m9-5l0 1m9 0l-3 0m16 0l1 1m-64 4l0 1m19-2l-1 2m22 2l-1 1m19-4l-1 2m22 0l1 2m-95 1l-1 1m39 1l-1 1m-36 4l1 0m4 0l-2 2m7-3l-1 2m38-2l0 1m8-1l0 2m25-1l-1 2m18-1l0 1m-88 4l-1 1m16 0l-1 1m13-3l0 1m-60 6l-1 1m8-3l1 2m5-2l-1 0m39-1l-1 1m17 2l-1 1m28-4l0 2m-75 6l1 1m8 0l-1 2m19-3l0 1m-34 6l0 3m10-6l0 2m13-2l1 1m-35 5l1 2m10-3l-3 1m12 2l-1 1m9-2l1 2m46-4l1 0m-75 5l0 2m74-1l0 2m19-2l1 2m-80 3l-1 1m20 2l-2 0m19-1l1 2m9-3l0 1m-57 5l-1 2m6 0l0 2m17-4l0 2m6 0l-1 0m6-1l1 1m-34 4l-1 2m-4 4l-1 1m9-4l0 1m35 2l1 0m19 0l-1 2m-52 5l1 1m90-4l-2 1m-83 6l-1 2m36-5l-1 0m10 1l-1 1m9 2l1 2m32-4l-1 1m-90 4l-1 2m19-3l-1 1m19 0l2 1m61-2l-1 1m-104 8l-1 0m30-1l-1 1m9 0l0 2m64-3l-1 2m-83 1l0 2m35 1l-1 2m-21 4l-1 2m73-3l-1 1m-74 3l-1 0m26 1l-3 0m26 1l0 2m-61 0l0 1m5 1l1 1m7-2l0 1m8 0l0 1m65-2l1 2m-50 3l-1 1" stroke="#6f82cc" stroke-width="3.9" stroke-linecap="round"/><path d="M12 3l-1 0m6-3h0m22 1h0m16-1l-1 1m63 2h0m-103 6h0m10-3l1 1m89-2l1 0m7 1l0 1m-119 6l0 2m31-4l-1 1m9 2l1 0m34-1l-1 1m13 0l0 1m-88 4l-2 0m9-2l0 1m59 2h0m19 0l-1 1m4-1l0 1m21-4h0m-110 8h0m95-3h0m3 2h0m19-1l-1 1m-88 4h0m7 0l0 1m3-1h0m35 0l1 1m14 1l0 2m19-5h0m6 4l0 2m-79 1l0 1m24 0l-1 0m6 1l0 1m21-3l-1 1m19-2l0 1m5 0h0m-89 8l-1 1m28-2h0m6-1h0m5 1l0 1m10-4h0m9 0l-1 1m12 1l1 0m4 1l-1 2m9-3l0 1m12 1l-1 0m-104 4l1 0m35-1h0m6 0l-1 0m4 0l0 1m22 2l-1 0m20-4l1 0m13 1l1 0m6 1l-1 0m10 1l0 1m-114 4l-1 1m33-2l0 1m17 0l0 1m10-1l-1 2m9-4l-1 1m11 1l-1 1m16 0l0 1m8-3l-1 0m2 1l-1 1m-70 3l0 1m20-1l1 0m29-1l2 0m3 4l0 1m7-3l0 1m6-3h0m3 2l0 1m-51 4h0m6 2l-1 0m10 0l0 1m4-1l0 2m8-4l-1 2m26-4l0 1m8 2l-1 1m4-2l0 1m-109 3h0m37 4l0 1m17-2l0 2m12-6l-1 1m7 3l0 1m10-2l-1 1m5-4l0 1m8 2h0m-18 5l0 1m6 0l0 1m11-2l0 1m7-2l-2 0m8 3l-1 2m-35 0l0 1m8 0l0 1m16-1l0 1m10-2l-1 1m-58 6l0 1m39-1h0m9 0l-1 1m-49 7h0m16-4l1 0m5 1l1 1m21-1h0m5 0h0m11 1l1 0m-20 5h0m19 2h0m7-2l0 1m-51 6l0 1m6-4l0 1m26 2l0 2m2-6l0 1m13 0l-1 0m5 2l0 1m-108 6l-1 1m82-3h0m26 2h0m-104 4l-1 1m91-3l0 1m6 2l-1 1m6-5l-1 1m-90 9h0m67-2h0m19 2h0m4-1h0m-23 3h0" stroke="#5e180b" stroke-width="4.1" stroke-linecap="round"/><circle cx="47" cy="72" r="18.5" fill="#d6d6ee"/><circle cx="47" cy="72" r="10.5" fill="#e9dfe9"/><path d="M48 57l0-2m3 4l2-3m1 5l1-2m2 5l3-2m-1 3l3-1m-1 5l3 0m-4 4l4 2m-5 2l2 1m-4 3l2 1m-4 1l1 2m-5-1l1 3m-4-3l-1 4m-2-4l-1 3m-3-3l-1 4m-3-7l-2 3m-2-5l-2 1m1-5l-3 1m5-6l-3 1m1-4l-3 0m6-3l-3-1m4-3l-1-2m7 3l-2-4m4 2l-1-3" stroke="#8796d4" stroke-width="3.6" stroke-linecap="round"/></svg>
<rect x="1471.2" y="1191" width="120" height="119" fill="#9a9a9a" filter="url(#sh)"/><svg x="1469.6" y="1189.4" width="120" height="119"><g filter="url(#bl)"><use href="#q00" class="sb"/><use href="#q01" class="sm"/><use href="#q02" class="sR"/><use href="#q03" class="sR"/><use href="#q10" class="sb"/><use href="#q11" class="sw"/><use href="#q12" class="sp"/><use href="#q13" class="sm"/><use href="#q20" class="sb"/><use href="#q21" class="sw"/><use href="#q22" class="sg"/><use href="#q23" class="sb"/><use href="#q30" class="sp"/><use href="#q31" class="sw"/><use href="#q32" class="sR"/><use href="#q33" class="sR"/></g><path d="M17 3l2 3m37-4l2 2m4-4l0 3m11-1l1 1m4-3l1 2m16-1l0 2m24-2l2 1m-82 5l1 2m23-4l2 2m8-2l1 1m28 1l1 2m13-3l1 3m-100 3l0 1m60 1l2 2m3-4l0 3m6-4l1 3m13-2l1 2m-53 5l-2 3m23-3l0 2m9-5l2 3m12-1l1 0m15 2l-1 2m8-2l2 1m2-1l2 3m-65 1l-1 1m55-3l0 2m8 0l1 3m-55 2l2 2m7-1l0 3m24-3l1 1m7-2l0 3m5-2l-2 3m9-5l-1 2m-89 4l-3 1m41-3l-1 0m22 1l1 2m7 1l1 1m3-2l3 0m10 1l-4 1m-63 4l0 1m56 0l1 2m2-6l3 3m10 3l2 2m-42 4l1 2m23 5l2 2m11-4l1 2m-22 8l3 1m19 11l1 1m-89 6l0 2m41-2l-1 3m-8 1l3 1m10-1l1 1m3 0l3 1m-11 5l-1 1m12 3l3 2m7 2l0 2m12-5l1 1m13-3l1 1m-65 6l1 2m25 0l-1 1m8-2l1 2m-7 5l2 3m7-6l1 1m5-1l3 0m21 3l1 3m3-2l-2 3m-47-1l2 3m10-1l-1 0m11-3l1 2" stroke="#b4563a" stroke-width="4.0" stroke-linecap="round" opacity="0.88"/><path d="M29 1l0 3m23-5l3 1m-48 8l-1 3m28 0l1 2m62 0l-1 1m9 21l0 2m-103 8l0 2m5-1l1 1m16 3l2 2m48 6l1 1m20-3l0 1m-72 3l-1 1m62 0l0 2m-84 3l1 1m99 2l-1 0m19-1l0 2m-100 1l0 2m15 2l1 1m41 4l0 2m19-4l-2 1m7 0l1 1m-11 5l0 1m21-1l1 0m-108 3l1 2m7 28l0 2" stroke="#98a6dc" stroke-width="3.9" stroke-linecap="round"/><path d="M-1 3l1 1m6-2l1 0m5 0l0 1m13-2l-1 2m17-1l-1 2m-39 4l0 1m11 0l1 1m17-2l1 2m4-5l1 2m10 1l2 0m2-3l1 1m-51 8l0 2m25-5l1 1m21 2l2 1m1-3l2 1m-38 5l-1 0m9 0l-2 1m19 0l2 0m6-1l1 1m-48 6l1 2m11-3l0 2m11-1l2 1m8-4l1 2m35-2l1 0m-46 9l-1 1m63-2l1 1m-81 3l2 1m9-1l0 2m5-2l1 1m95-1l2 0m-118 5l0 1m3 1l0 1m9-3l0 2m15-1l2 2m91-2l1 2m-110 3l-1 0m92 1l-1 2m-103 2l2 2m12-1l0 1m16-2l2 2m4 1l1 1m26-1l-1 3m27-5l2 2m19-1l2 2m4-1l0 1m-87 2l0 2m6 0l0 2m24-4l1 0m26 1l-1 1m28-3l1 1m-111 5l1 1m7-1l-3 1m10 1l-1 0m12-1l1 1m61 0l1 2m5-2l1 2m8-2l1 2m12-3l-1 0m-110 3l2 2m27 0l-2 1m22 1l1 1m26-4l1 1m5 0l0 1m15-2l2 0m6 4l1 1m-87 1l-1 1m35 2l0 1m30-3l0 2m25-4l1 1m-105 4l1 2m5 0l1 2m6 0l2 0m3-1l0 2m39-2l-1 2m12-2l1 1m-64 2l1 1m18 2l-1 1m38-1l0 1m46-2l2 1m-91 6l1 1m68-5l1 1m13-1l0 1m4 3l1 1m-37 4l1 1m0 0l1 1m17-5l1 0m-83 7l1 1m72 6l1 1" stroke="#6f82cc" stroke-width="3.9" stroke-linecap="round"/><path d="M69 -1l1 0m12 0h0m9 3l0 1m10-2l0 1m5 0l0 1m4-1l0 1m10-1l-1 0m-63 5h0m10-2l1 2m10-1h0m8 0h0m3 2l2 1m6-3l1 1m10 1l0 1m5-1l1 0m-106 5l1 1m53-3h0m7 0l1 1m4 2h0m34-1l0 1m6-2l0 1m2 0h0m5-1l0 2m-58 3l0 1m26-1l-1 1m13 1h0m-49 5l0 1m20 0h0m9-1h0m2-2l0 1m9-1l1 0m5 3l-1 1m4-1l0 2m18-5l1 1m-86 8h0m28 0h0m18-2l0 1m15-1l1 0m26-2l1 1m-7 12l1 0m-26 3l-1 0m16 12h0m-11 17l1 0m-40 11l0 1m8-2l0 1m20 3l-1 1m20-1l1 0m-20 4h0m8-2h0m30 3l-1 1m-13 3h0m11 0l1 1m3-1h0m-58 5h0m5 0l1 1m1 0l-1 1m12-2l0 1m12-1l0 1m19 1l0 1m-48 5l1 1m6-2h0m22-3h0m5 1l1 1m7-2l-1 1m6 2h0m3-1h0m-53 6h0m5 1l0 1m7-4l1 1m8 2l0 2m18-4l1 0m2 2l-1 1m8-3l0 2m-41 3l-1 1m8-1h0m12 3l0 1m11-1l1 1m3-5h0m8 3h0m6-3h0m3 2l0 1" stroke="#5e180b" stroke-width="4.1" stroke-linecap="round"/><circle cx="71" cy="72" r="18.7" fill="#d6d6ee"/><circle cx="71" cy="72" r="10.7" fill="#e9dfe9"/><path d="M59 81l-3 2m1-7l-4 1m3-8l-2 0m4-4l-3-3m5 1l-1-2m5-1l-2-2m4 0l-1-2m6 1l-1-4m4 7l1-4m3 5l1-2m2 3l2-2m2 7l3 0m-4 7l3 0m-6 5l3 1m-5 2l2 2m-5 1l0 4m-5-2l-1 4m-2-6l0 3m-3-5l-1 4" stroke="#8796d4" stroke-width="3.6" stroke-linecap="round"/></svg>
<rect x="1615.8" y="1191" width="120" height="119" fill="#9a9a9a" filter="url(#sh)"/><svg x="1614.2" y="1189.4" width="120" height="119"><g filter="url(#bl)"><use href="#q00" class="sR"/><use href="#q01" class="sm"/><use href="#q02" class="sg"/><use href="#q03" class="sp"/><use href="#q10" class="sm"/><use href="#q11" class="sb"/><use href="#q12" class="sp"/><use href="#q13" class="sg"/><use href="#q20" class="sg"/><use href="#q21" class="sb"/><use href="#q22" class="sp"/><use href="#q23" class="sM"/><use href="#q30" class="sR"/><use href="#q31" class="sM"/><use href="#q32" class="sp"/><use href="#q33" class="sR"/></g><path d="M8 2l-3 1m23 0l-1 1m11-5l-3 1m31 2l-1 4m-62 0l-1 1m45-2l-2 3m10-1l-1 1m30 0l-1 1m-53 1l-2 1m11 1l-3 1m10-1l-2 3m6-2l-1 0m64 2l-1 3m-97-1l-1 1m15 2l1 1m5-5l-1 2m16-2l-4-1m10 2l0 1m33 2l-3 2m9-5l-1 3m-92 4l-1 3m38-3l0 2m-22 2l-2-1m7 1l-1 1m12 1l-1 1m14-3l-2 2m7-2l-1 0m-48 4l-1 0m18 4l-1 3m38-7l-3 1m12 1l-2 2m33 1l-4 1m-75 2l-1 2m-3 2l-2 1m8 1l-1 2m-6 4l3 2m10-3l-2 0m99 0l-2 1m-101 10l-3 1m61-2l-2 1m9 0l-4 1m37-2l-3 1m-103 6l-3 1m99 0l-1 1m9-2l2 1m-45 3l-3 1m-28 6l-2 1m13-2l-1 3m38-5l-2 2m13-1l-2-1m-53 8l-2 2m67-2l-1 2m-24 2l-2 0m24 1l-1 2m-84 5l-2 1m7-3l-1 3m9-3l-1-1m87 4l-2 1m-100 4l-1 4m16-6l-1 1m73 2l-4 0m14-3l-1 0m-106 6l-1 1m41 1l-2 2m19-5l-2 2m51 0l-1 0m-84 7l0 1m9-2l-1 2m37-5l-1 0m25 0l-3 0m-72 6l1 3m15-4l0 1m7 0l-1 1m22 2l0 2m41-6l-1 1m9 2l-1 1m-91 1l-1 2" stroke="#b4563a" stroke-width="4.0" stroke-linecap="round" opacity="0.88"/><path d="M74 3l-2 1m-48 5l-1 2m29-3l-1 1m10-3l-2 2m14-1l-1 0m-15 5l-1 1m45 3l-1 0m-59 13l-1 0m33 0l-1 1m-36 3l-1 0m18 2l-2 1m32-4l-1 1m37 2l-1 2m-88 8l0 2m67-3l-1 2m-90 7l-1 1m13-2l-2 0m12 0l-1 2m-5 9l-1 0m30 0l-1 0m46 1l-3 0m-71 3l-2 2m90-1l-2 1m-106 10l0 1m111-2l3 0m-53 4l0 1m-8 6l-2 1m15 5l-2 0m35 0l-1 0m-51 3l-2 2m3 17l-1 2m12-1l-1 1m30-3l1 1" stroke="#98a6dc" stroke-width="3.9" stroke-linecap="round"/><path d="M14 2l-2 2m11-2l-1 1m28 0l0 2m41 4l1 2m-20 0l-2 1m29 2l0 1m-59 3l0 2m22-1l0 1m15-4l-2 1m-65 5l2 1m5-1l-1 1m16-1l-2 0m20 3l1 2m47-3l-1 2m-89 4l-1 2m59-2l-2 1m13-2l0 1m-64 5l-2 1m28-3l-2 1m11 2l2 1m11-4l1 0m9 1l-2 2m18-3l-1 1m-87 5l-2 1m31 1l-1 0m6-2l-2 0m18 1l1 1m13-1l-2 1m6-2l-1 1m-66 5l-3 0m36 2l-1 2m30-4l-2 1m48 1l-2 1m6-2l0 3m4-4l-2 2m-74 4l-1 0m5-2l0 2m15-2l-2 0m49 3l-1 1m-102 5l-2 1m12-2l-2 1m17-4l1 0m16 1l-2 0m7 3l-1 1m12-2l-1 1m55-1l-2 0m8 1l-1 2m-93 2l-2-1m11 0l-2 1m22-2l-1 0m44 1l-1 1m-98 4l-1 1m34 3l-1 1m20-5l-1 1m7 1l-2 2m29-1l0 1m-79 3l-1 2m14-4l1 0m3 2l-1 1m5-3l-2 1m8 3l-1 1m10-3l0 2m16-3l-2 1m7-1l-1 1m34 1l-1 2m14-3l-2-1m8 3l-2 1m-100 3l-2 0m20-1l0 1m86-1l-2 0m-103 5l-2 0m20 1l-1 0m12 0l-2 1m16-2l-1 0m17 1l-1 3m18-3l-2 0m11 1l2 2m0-2l-1 2m-97 2l0 1m16 0l0 1m43-1l-1 0m52-3l2 0m-67 8l-1 2m12-2l-3 0m35 0l-2 0m-48 7l-1 0m48-3l-2 1m-50 17l-1 1m47 0l0 2" stroke="#6f82cc" stroke-width="3.9" stroke-linecap="round"/><path d="M2 -1h0m32 4l0 1m-29 2h0m7 1h0m16-2l0 1m5 3l-1 1m-31 3l0 1m12-2h0m7 0l-1 0m3 1h0m42-2l-1 1m-63 6h0m19 1l-1 0m26-1h0m25 1h0m-62 5l-1 1m17-2h0m-21 5h0m9 0l1 1m-4 7h0m20-1l0 1m-19 6l-1 1m3-2l-1 1m13-2l-1 1m16 3h0m-20 14l-1 1m22 1h0m67 1l-1 1m16 1l-1 1m-19 9h0m4 1l-1 1m-22 4l-1 1m13 0h0m-91 3h0m14 1l-1 0m90-1h0m11-1h0m-82 8h0m3 1h0m9-2l0 1m47-1l0 1m5 0l-1 1m20 0h0m-115 5l-1 1m6-1h0m6 1h0m92-1l-1 0m7-1l-1 0m5 2l-1 0m-115 5l-1 1m10-1l-1 0m4 1l1 0m11-2h0m5-2l-1 1m16-1l0 1m19 0h0m27 0l-1 1m10 0l-1 1m14-4l0 1m-109 9l1 0m8-2l-1 1m5-2l-1 0m7 0l-1 1m10 2h0m3-2l-1 0m5-2h0m60 2l-1 0m8-2l-1 0m6 1l-1 0m-109 6l-1 0m9 2l0 1m6-4l0 1m3-1l0 1m17 0h0m11 2l-1 1m7-2h0m11 0l-1 1m34-3l-1 0m18 4l-1 1m7-6l-1 1m-116 8l-1 0m12 0h0m5-1h0m13-1h0m72 1l0 1m3 1h0" stroke="#5e180b" stroke-width="4.1" stroke-linecap="round"/><circle cx="11" cy="80" r="18.0" fill="#d6d6ee"/><circle cx="101" cy="41" r="19.7" fill="#d6d6ee"/><circle cx="73" cy="16" r="20.5" fill="#d6d6ee"/><circle cx="11" cy="80" r="10.0" fill="#e9dfe9"/><circle cx="101" cy="41" r="11.7" fill="#e9dfe9"/><circle cx="73" cy="16" r="12.5" fill="#e9dfe9"/><path d="M14 66l0-4m6 9l2-4m2 8l2-2m-4 9l4 1m-4 4l3 1m-6 2l1 2m-4-1l2 2m-4-2l0 4m-5-3l0 3m-3-3l-2 4m-3-6l-2 2m2-6l-4 1m1-11l-4 0m6-5l-2-1m6 0l-2-2m4 0l-1-3m110-31l3-1m-2 3l2-1m-3 6l3 1m-3 2l4 1m-4 3l2 1m-6 2l3 2m-5 1l1 3m-9-1l0 2m-3-2l-1 3m-3-3l-2 2m-1-5l-2 2m0-5l-3 2m1-5l-3 2m0-6l-3 1m4-4l-4 1m5-5l-3 0m6-4l-2-3m5 0l-2-2m4 1l-2-3m6 0l-1-2m4 4l-1-3m5 4l1-3m2 5l1-2m2 4l2-1m-31-2l1 2m-4-2l1 3m-5-2l1 4m-5-3l1 3m-4-3l-1 2m-6-6l-2 2m0-5l-2 1m2-9l-3 1m3-7l-3-3m5-1l-1-2m4 0l-3-2m10 0l-1-4m5 1l0-3m3 6l2-3m4 7l3-2m-1 5l3-2m-1 5l3-2m-2 9l4 1" stroke="#8796d4" stroke-width="3.6" stroke-linecap="round"/></svg>
<rect x="1760.5" y="1191" width="120" height="119" fill="#9a9a9a" filter="url(#sh)"/><svg x="1758.9" y="1189.4" width="120" height="119"><g filter="url(#bl)"><use href="#q00" class="sg"/><use href="#q01" class="sg"/><use href="#q02" class="sm"/><use href="#q03" class="sg"/><use href="#q10" class="sM"/><use href="#q11" class="sM"/><use href="#q12" class="sm"/><use href="#q13" class="sb"/><use href="#q20" class="sM"/><use href="#q21" class="sR"/><use href="#q22" class="sM"/><use href="#q23" class="sb"/><use href="#q30" class="sR"/><use href="#q31" class="sg"/><use href="#q32" class="sg"/><use href="#q33" class="sM"/></g><path d="M61 6l-3 0m34 2l-2 2m-76 9l1 2m34-3l-1 3m15-2l-1 1m15-1l1 1m-54 2l-1 3m40-3l-1 1m15-1l-2 2m-46 4l-1 1m8 0l-3 1m6-1l-3-1m20 2l-2 1m10-3l-2 2m28 1l-1-1m-80 5l-1 1m2-3l-2 3m17 0l-1 1m21-2l-2 0m41 0l-2 2m-77 3l-1 1m102 3l-1 2m-79 3l-3 2m13 1l-2 2m5-5l3 2m27 2l1 1m24-4l1 2m-92 5l-1 1m12-3l-2 1m16 0l0 1m7-1l0 2m25-1l-3 3m9-2l-1 1m8-2l-1 1m4-1l-2 2m42 0l3 1m-61 3l1 1m10-2l-1 3m7-4l-1 1m22 0l-1 0m16-1l-2 1m-100 7l-3 2m6-2l-3 0m26-1l-3 1m28-1l2 2m36-4l-3 2m-92 5l-1 1m27-3l-4 1m30 0l-3 2m16-1l-2 1m23 1l-2 3m-82 1l-1 1m9-2l-2 2m18 0l-2 2m13-6l1 1m20 0l-1 1m7 0l-3 0m-50 6l-1 2m21 0l-3 3m11-6l-1 1m28 2l-1 1m6-2l-1 1m-26 3l-3 0m55-2l-3 1m12 2l-3-1m-93 5l0 2m13-3l-2 1m27 0l0 2m51 0l-3 1m6-1l-1 2m10-2l1 0m-100 5l3 1m0 0l-3 1m38 0l-1 2m6-2l-1-1m23 0l-2 2m15-4l-2 1m-70 7l4 0m-2-4l-2 3m7 0l-1 1m8 0l-2 2m64-2l1 1m-95 3l-1 0m23 1l-2 1m67 0l-1 1m13-2l-2 3m17-3l-2 0m8-3l-1 1m-91 4l-2 0m17 2l-1 2" stroke="#b4563a" stroke-width="4.0" stroke-linecap="round" opacity="0.88"/><path d="M93 1l-2 2m24-2l-1 2m-114 4l1 1m17 0l-1 1m51 4l-1 2m13-3l0 1m10-2l-1 1m15-1l-1 0m9 1l-1 1m-78 4l0 2m36-2l0 2m30-1l-1 1m19 1l-1 0m-103 1l0 2m29 0l-1 1m49 0l-1 1m23-1l-2 1m9 4l-2 0m3 2l0 1m-102 2l-1 1m51 1l-1 2m21-5l-1 1m-70 8l-3 1m75-2l2 2m16-4l-1 0m-93 7l-2 1m16-1l-1 2m20-4l-1 0m-45 8l1 1m106-4l-2 1m-99 6l1 1m110 5l-2 1m-112 5l0 1m14 9l-2 1m67-2l-1 1m7 1l-1 0m8 0l-1 1m13-1l-1 0m-61 4l-1 0m49 0l0 1m15-1l0 2m8-2l0 2m-61 5l-1 3m37-2l-2 2m-59 7l-1 1m67 0l0 1m17 0l2 0m2-1l0 2m4-2l-1 1m-92 8l-2 1m56 0l-1 1m29-1l-2 2m-50 4l-2 1m28-3l-2 2m18 1l-1 0m14-2l-1 1m-74 4l-1 1" stroke="#98a6dc" stroke-width="3.9" stroke-linecap="round"/><path d="M49 0l-1 1m26 1l0 1m10-3l-2 2m25-1l-2 2m6-3l1 0m-99 5l0 1m31 0l0 2m12 1l-2 0m54-1l-2 1m4-1l2 1m7-3l-1 0m-107 7l1 0m49 0l-2 1m15-3l1 2m19-2l-2 1m25 2l-1 1m-86 3l-2 1m18-2l-3 0m29 0l0 2m11-3l-2 1m13 0l2 2m15-2l-1 1m-103 7l1 0m11 0l-2 1m14-3l-1 2m22-3l-1 2m22-1l-2 1m48-2l-2 0m-116 5l-2 2m14 1l-1 2m61-5l-1 0m23 2l-2 2m-29 2l-2 0m33 2l-1 2m14-1l2 2m2-5l-2 0m12 2l-2 0m-117 6l-1 2m51-1l-2 1m13-4l-1 0m3 2l-1 2m20-4l-3-1m12 4l-1 0m19-2l1 2m-113 4l-1 0m50 1l2 0m7 0l-1 1m5-3l-1 2m17-4l-1 2m24 0l-1 1m10-1l0 1m-81 7l-1 1m27-1l-2 0m8 0l0 2m61-5l0 1m-104 7l-2-1m31 1l0 1m43-2l-1 3m10-2l-1 1m9-3l-1 0m7-1l-3 0m12 2l0 2m-78 2l-2 0m37-1l-1 1m5 3l-1 1m10-4l0 1m28 0l-1 1m-24 6l-1 0m14-3l-1 1m6 2l-2 0m-87 3l1 1m37 2l-1 1m11-2l0 1m-46 4l-1 0m28 1l-1 2m25-3l-2 0m26-1l-1 1m11 0l-1 1m11 0l-2 2m-101 0l-1 1m10 0l-1 0m60 2l0 2m2-1l-3 1m16-5l-1-1m11 1l-1 0m-104 9l-3 1m24-3l-2-1m40 1l-3-1m14 4l-1 1m22-4l2 0m-61 6l1 1m53 1l-1 1m2-2l1 1m24 0l0 1m-83 2l0 1m63 0l-1 0m-51 7l-2 1m7-4l-1 1m15 0l-1 0m24 1l-1 1m14-2l-2 1m-50 3l-1 1m-30 5l-2-1m34 3l-2 0m16-3l-2 1m57 3l-3 0m-32 2l-1 0" stroke="#6f82cc" stroke-width="3.9" stroke-linecap="round"/><path d="M56 1l1 0m11-1h0m6 8h0m-55 9h0m-19 6l-1 1m52 3h0m-24 9l-1 1m14-1l-1 0m14 0l-1 1m6-2l-1 0m-30 7l-1 1m9-3l-1 1m4 0l1 1m18-1h0m22-1h0m-70 6h0m10 0l1 1m2-3l-2 0m14 1h0m32 1l0 1m6-2l-1 0m-58 7l-1 0m8-3h0m27 0l-1 0m32 2l-1 1m-52 6l-1 1m16-5h0m12 5h0m-53 4l-1 1m16-2h0m2-2l-1 0m10 4h0m11 0l-1 0m7-1l0 1m8 0l-1 1m11-4l0 1m42 2l-1 1m-85 3l0 1m7 0h0m8 0l-1 1m10-2l-1 0m6-1l-1 0m8 1l0 1m5-3l-1 0m11 3l-1 0m5 0l1 1m-67 1h0m6 1h0m7 3h0m22-4h0m4 2l-1 0m10 2h0m48 0l1 0m-56 4l-1 2m29-4l-1 0m-70 6l1 1m1 1l-1 1m47 0l-2 0m9-1l-1 1m5-2l0 1m15-3h0m-74 9l0 1m10-5l-1-1m7 2l-1 1m21 1h0m11 0h0m12 0l-1 1m11-2l-2 0m-68 7l-1 1m8-1h0m7-1h0m11-1h0m8 3h0m-34 4l-1 0m5 1l1 1m19-3l-1 0m84 2l1 1m-109 2h0m8 1h0m4 1h0m26-1h0m48 0l0 1m33-1l-1 0m-109 8l-1 1m5-5h0m5 0l-1 1m91 2l-1 0m-107 4l-1 0m7-2l-1 0m6 1h0m13 1h0m67-2l-1 1m3 0h0m14 3l1 1m-108 0l-1 1m97 0h0" stroke="#5e180b" stroke-width="4.1" stroke-linecap="round"/><circle cx="48" cy="103" r="19.6" fill="#d6d6ee"/><circle cx="105" cy="15" r="19.0" fill="#d6d6ee"/><circle cx="16" cy="15" r="19.6" fill="#d6d6ee"/><circle cx="48" cy="103" r="11.6" fill="#e9dfe9"/><circle cx="105" cy="15" r="11.0" fill="#e9dfe9"/><circle cx="16" cy="15" r="11.6" fill="#e9dfe9"/><path d="M50 89l-1-3m3 5l0-4m6 3l1-2m1 5l2-2m0 5l3-2m-2 7l3-1m-1 3l2 0m-7 8l4 2m-4 1l3 3m-10 0l1 4m-7-5l1 4m-8-5l-1 2m-3-4l-2 1m1-6l-3 1m1-8l-3-1m4-3l-3 0m7-4l-2-2m6 0l-2-4m5 3l0-4m56-84l-2-4m8 2l1-3m4 4l1-2m1 4l1-2m2 6l2-2m1 4l2 0m-1 3l2 0m-3 5l2 1m-3 1l3 1m-6 4l4 2m-6 0l2 2m-5 1l2 3m-6-4l0 3m-4-2l0 2m-2-2l-1 3m-3-6l-2 2m-1-4l-4 2m3-4l-2 1m0-7l-4 1m5-3l-3 0m4-5l-4-1m4-1l-2-1m4-2l-1-3m-89 5l-2-1m3-2l-2-2m5 1l-1-2m5-1l0-2m5 4l0-3m4 4l0-2m2 4l1-2m2 4l3-2m-1 5l4-2m-1 6l4-1m-6 5l3 0m-3 2l3 0m-5 6l3 1m-3 1l2 2m-5 0l1 3m-5-2l1 3m-6-2l0 2m-4-4l-1 4m-3-5l-1 2m0-4l-2 2m-1-8l-4 1m1-6l-3 0m5-2l-4 0m3-5l-2 0" stroke="#8796d4" stroke-width="3.6" stroke-linecap="round"/></svg>
<rect x="1905.1" y="1191" width="120" height="119" fill="#9a9a9a" filter="url(#sh)"/><svg x="1903.5" y="1189.4" width="120" height="119"><g filter="url(#bl)"><use href="#q00" class="sg"/><use href="#q01" class="sR"/><use href="#q02" class="sg"/><use href="#q03" class="sR"/><use href="#q10" class="sg"/><use href="#q11" class="sm"/><use href="#q12" class="sR"/><use href="#q13" class="sM"/><use href="#q20" class="sg"/><use href="#q21" class="sg"/><use href="#q22" class="sb"/><use href="#q23" class="sg"/><use href="#q30" class="sg"/><use href="#q31" class="sM"/><use href="#q32" class="sR"/><use href="#q33" class="sR"/></g><path d="M45 -1l0 4m12 0l2 3m41-5l-3 2m-94 5l-3 0m20 1l-1-1m32 0l-1-1m6-2l-1 1m-39 7l0 3m9-2l0 2m19-4l-1 1m8 1l-1 1m6-4l-3 0m9 0l-3 3m18-2l1 1m29 0l3 2m0-4l-3-1m11 3l-1 1m-88 4l-3 3m8-1l-1 1m46-2l1 1m-34 5l-2 1m15-4l-2 1m5-1l-1 1m40-1l-1-1m6 2l2 2m4 0l2 0m-80 5l-2 2m12-1l-3-1m48-2l1 3m20-2l1 2m4-3l2 3m-62 5l-2 3m13-3l-3 2m12-4l-2 0m5 2l0 4m29-8l-3-1m-64 9l-4-1m9 3l-3 1m14-5l-1 1m18 0l-2 0m34 1l-3 0m-78 7l-2 1m14-2l-1 1m44-3l-3 1m19-1l-4-1m16 1l-1 0m7 3l-3-1m-70 5l-3 2m47-3l-2 0m9 3l0 4m8-6l-2 1m7 0l-2 1m16-3l-2 2m-69 5l1 0m18 1l-3 1m15-1l-1 0m23-3l-2 3m4 6l-1 1m-32 4l1 2m-50 15l-4 1m97-4l-2 0m-69 5l-2 2m20 6l0 2m16-3l-2 2m15-2l-3 1m-23 4l-2 0m43 1l-1 2m7-4l1 3m5-2l-2 1m-79 4l1 1m8 1l-2 2m25-3l-3 1m26-3l-1 0m7 0l-2 3m11 1l-1 0m7 0l-2 1m-70 5l-3-1m11-3l-2 1m7 0l-2 1m18 0l-3 2m34-3l-2 0m8 2l-3-1m19 1l-3 1m-67 3l-2 2m15-1l-1 1m8-2l-2 1m8 1l-2 1m11-2l-2 2m28-5l-1 0m-86 6l-2 0" stroke="#b4563a" stroke-width="4.0" stroke-linecap="round" opacity="0.88"/><path d="M0 1l0-1m20 1l-1 0m12-1l-1 1m45 2l0 1m-14 1l-2 1m-58 7l0 1m0 10l2 1m6 3l-2 0m29 7l-1 0m6 0l-1 2m-37 1l-1 1m16 10l1 2m5 4l-1 2m-12 3l1 0m38 4l-1 1m23-2l-2 1m-14 4l-2 0m18-1l-1 2m23-3l-1 0m-81 9l-1 1m53-5l-1 1m4 0l-2-1m-47 7l-2 1m23 0l-1 1m14-2l-1-1m17 2l-2 0m21-2l-2 0m-85 9l-1 1m93-2l-2 1m31-2l2 1m-99 3l2 1m30 0l-2 0m52 0l-1 0m-94 6l-2 2m13-4l-3 0m54 1l1 1m32-2l0 1m-10 5l-3 0m-90 7l1 1m8 4l-1 1m11 1l-1 1" stroke="#98a6dc" stroke-width="3.9" stroke-linecap="round"/><path d="M12 3l-1 2m57-5l-1 0m42 3l-1 1m-18 4l-2 1m-75 5l-1 0m72-3l-1 2m-82 3l-2 2m13-1l-1 2m28-2l0 2m33 1l-3 0m21-2l-2 1m13-3l1 2m-96 7l-2 0m31 0l-1-1m16 1l-3 0m26 0l-2 1m-17 3l-2 0m33-1l-1 0m20 3l-1 0m-98 5l0 2m9-5l-1 1m7 2l-2 1m10-4l-2 1m-13 8l-1 0m11-3l-2 1m6-2l-1 1m43 2l-1 0m23 0l-2 0m29-1l-2 0m-111 7l2 0m5-3l2 0m89 4l-2-2m18 2l1 1m-106 0l0 1m11 2l-2-1m45 1l-2 1m-33 2l-2 2m81-2l-2 0m-111 5l-1 1m7 2l-1 1m15-4l-1 2m8 0l-1 0m36-1l-2 1m21 1l-2 2m-42 1l-2 1m71 3l-1 1m-71 4l-2 0m16-2l-1 0m4-1l-1 0m6 3l2 2m21-3l0 2m11-1l-1-1m17-1l-1 1m8-2l-2 2m7-2l-2 0m7 1l-1 0m-117 5l-1-1m18 3l-1 0m35-3l-1 0m10 2l-2-1m37-1l-2 0m20 1l-3 0m-107 5l0 1m37 1l-2 1m5 2l-2 1m18 0l-2 0m9 1l-2-1m23 1l-1-1m20-1l-1 0m-104 7l0 1m15-3l-1 2m9-2l0 1m8-1l1 0m62 3l-1 1m12-2l-1 1m-107 7l-1 0m10-2l2 1m10 0l-2-1m6 1l-2 2m10-2l0 1m23-4l-2 1m13 2l-1 1m22-2l-1 0m10-3l-1 0m-79 9l-1 1m12-1l-3 1m15-4l-2-1m-5 9l-2 0m42-1l0 1m-71 6l3 1m10 0l-2 1m42-3l-1 0m-36 4l-1 2" stroke="#6f82cc" stroke-width="3.9" stroke-linecap="round"/><path d="M33 -1h0m6 2l-2 0m12 1h0m13-1l1 1m20-2l0 1m7 0l-1 0m16 2h0m11 0l-1 0m7-1l-1 0m-93 3l-1 0m9 4h0m30-4l0 1m13 3h0m4 0l-1 0m16-4l1 0m8 1l0 1m7 2h0m1-3h0m-81 7h0m5-2l-1 1m33 0h0m20-1l0 1m3-1h0m8 1l-1 0m-84 6l-1 1m32-2l-1 1m47 1l1 1m10-1h0m6-2l0 1m5-2l0 1m6 2h0m-103 5h0m11-3l-1 1m13 2l-1 0m37-2l-1-1m39 2l-1 0m6 2l-1 1m-102 2l-1 0m6 0l-1-1m20 2l-2 0m11-1l-1 0m14 2h0m15-2h0m20 0l-1 1m24-1h0m-98 7l-1 1m65 0l0 1m7-1l1 1m18-1l0 1m4-2l-1 0m4-2h0m-58 8l-1 0m15 0l-1 0m7-1h0m11-2h0m7 2h0m11 2l-1 0m9 0l-1 1m-91 2h0m11-1h0m28 4l-1 0m7-4h0m9 3l-1 1m-36 5h0m16-4h0m17 1h0m15 1l-1 0m20 2l-2 0m-35 1l-1 1m45 0h0m-63 7l1 0m51-1h0m-48 5l-1-1m21 3h0m39-2l-1 0m4 0l-1 0m-43 12h0m-12 8l-1 1m7-2l-1 1m28-2l-1 1m-78 4l-1 0m30 1l-1 0m27-3l-2 0m5 3h0m18 0h0m3-2l-2 1m19-1l0 1m-70 5h0m23 1l-1 1m14-1l1 1m13-1l1 0m19-1l-2 0m7 0l1 0m-74 7h0m23 0l-2 1m8-3l1 1m-25 8l-2 0m6-1l-1 0m7-2h0m10 0l-1 0m8 3l-1 0m5-2l-1 0m15 2l-1 1m21-5l-1 0m4 1h0m-91 8l1 1m26 0h0m6-4l0 1m16-1l-1 1m8 1l-1 0m6-2l-1 0m3 2l-1-1m21 1l-1 0m6 0h0m-90 5h0m7-2l1 1m3-1h0m51 3h0m3 1l-1-1m10-2l-1 1m6-1l1 1m9 1l-1 1" stroke="#5e180b" stroke-width="4.1" stroke-linecap="round"/><circle cx="12" cy="105" r="18.9" fill="#d6d6ee"/><circle cx="73" cy="18" r="19.5" fill="#d6d6ee"/><circle cx="15" cy="46" r="19.9" fill="#d6d6ee"/><circle cx="41" cy="79" r="18.2" fill="#d6d6ee"/><circle cx="104" cy="74" r="19.2" fill="#d6d6ee"/><circle cx="19" cy="11" r="19.1" fill="#d6d6ee"/><circle cx="12" cy="105" r="10.9" fill="#e9dfe9"/><circle cx="73" cy="18" r="11.5" fill="#e9dfe9"/><circle cx="15" cy="46" r="11.9" fill="#e9dfe9"/><circle cx="41" cy="79" r="10.2" fill="#e9dfe9"/><circle cx="104" cy="74" r="11.2" fill="#e9dfe9"/><circle cx="19" cy="11" r="11.1" fill="#e9dfe9"/><path d="M-1 106l-3 0m2-2l-3 0m4-4l-4-2m7-1l-2-1m4-3l-3-2m10 1l-1-3m4 3l0-4m4 4l1-3m1 6l2-2m2 5l3-3m-2 8l4-1m-1 6l2 0m-4 1l2 1m-5 5l2 1m-4 1l3 2m-8-1l2 3m-3-3l1 4m-6-3l0 2m-3-3l0 2m-4-4l-2 3m0-5l-2 2m0-6l-3 2m65-103l-1-2m6-1l-2-3m5 1l-1-3m4 3l0-2m3 2l1-3m4 4l2-4m1 5l1-3m1 5l3-3m-2 7l2-1m0 4l4-1m-4 7l2 0m-3 1l2 1m-4 3l2 1m-7 4l3 3m-7-1l0 4m-3-4l1 4m-6-5l-1 3m-2-4l-2 2m0-5l-4 2m-1-5l-2 2m3-4l-2 0m-40 38l0 4m-4-3l0 3m-4-5l-1 4m-2-5l-2 3m0-8l-3 2m2-3l-3 1m1-9l-3 0m3-4l-3-1m5-3l-3-1m5 0l-2-1m5-1l-2-4m6 0l-1-2m5 3l0-2m1 4l2-3m6 6l2-1m1 1l2-1m0 7l4-1m-3 3l2-1m-3 7l3 1m-4 1l3 2m-5 2l4 2m-8 0l2 3m29 13l3-1m-3 6l4 0m-3 4l3 2m-4 2l2 2m-6 0l1 1m-4 0l1 2m-4 0l1 4m-9-6l-1 3m-1-4l-2 3m-2-4l-2 1m0-4l-3 1m5-6l-4 1m4-7l-3-1m4-4l-2-1m5 0l-2-2m4 0l0-3m8 3l2-3m2 4l1-3m2 5l1-2m1 5l4-2m36-5l-2-2m4-1l-1-2m5 1l-2-2m6 1l0-3m4 4l1-4m2 5l2-4m2 7l2-2m2 3l2-2m-1 5l2-1m-4 12l2 0m-3 5l2 2m-6-1l2 2m-4 1l1 3m-9-4l0 4m-4-6l-1 4m-2-4l-1 2m0-6l-3 2m1-5l-4 2m3-6l-4 1m4-3l-2-1m1-3l-3-2m-69-40l0 3m-4-5l-1 3m-3-4l-3 2m1-5l-2 2m1-6l-4 2m2-6l-2 0m3-3l-4 1m3-5l-2-2m3-1l-2-1m4-1l-2-3m7 0l-3-3m11 2l0-3m2 2l0-2m2 5l2-2m4 3l2-2m-1 5l2-1m-2 6l4-1m-4 6l4 0m-4 2l2 1m-9 6l3 3m-7-1l1 3" stroke="#8796d4" stroke-width="3.6" stroke-linecap="round"/></svg>
<rect x="2049.8" y="1191" width="120" height="119" fill="#9a9a9a" filter="url(#sh)"/><svg x="2048.2" y="1189.4" width="120" height="119"><g filter="url(#bl)"><use href="#q00" class="sg"/><use href="#q01" class="sg"/><use href="#q02" class="sR"/><use href="#q03" class="sg"/><use href="#q10" class="sb"/><use href="#q11" class="sg"/><use href="#q12" class="sl"/><use href="#q13" class="sM"/><use href="#q20" class="sg"/><use href="#q21" class="sg"/><use href="#q22" class="sb"/><use href="#q23" class="sR"/><use href="#q30" class="sR"/><use href="#q31" class="sM"/><use href="#q32" class="sg"/><use href="#q33" class="sR"/></g><path d="M59 2l-2 1m-2 6l-1 2m9-5l3 1m6 0l-1 3m30-2l0 1m-51 5l-1 3m44-6l0 2m-30 3l-1 1m15 1l1 2m-3 4l3 1m27-4l-1 2m-41 7l-1 1m20-2l-2 2m30-1l3 1m-21 2l-2 0m-64 9l0 1m79-4l-2 1m17 0l-2 2m-112 3l-1 1m91 0l0 2m6-1l-1 1m5-2l0 4m-87 0l-1 1m6-2l0 2m30 13l-1 2m29-5l1 4m30-3l1 2m-112 2l-2 1m95 1l1 4m8-4l-1 0m-4 4l-1 4m15-5l-2 1m-21 7l-1 3m12-3l0 3m3-2l0 3m14-3l-2 0m-97 5l0 3m25-2l0 2m64-6l-1 3m-78 5l0 2m13-1l2 2m0-5l2 1m29 2l0 1m-63 3l-2 1m17-2l0 4m61-5l-1 2m30 0l0 2m-98 5l-3 0m14-2l0 1m65 1l1 2m5-2l0 2m4-3l-1 3m-96 3l1 3m78-2l-1 3m19-6l-1 2m-63 4l0 1m3-1l-2 2m7-3l-1 3m57-3l0 3m7-2l-2 3m-108 4l1 2m4-4l1 2m16-1l-1 3m14-4l-1 2m21-2l-1 2m-17 3l0 2m79-2l1 3" stroke="#b4563a" stroke-width="4.0" stroke-linecap="round" opacity="0.88"/><path d="M11 0l-3 0m34 1l2 0m67-1l0 3m-110 2l0 1m93 0l0 1m-91 5l0 1m2-1l0 2m53-2l-2 2m18 0l0 1m5-3l-2 2m-71 5l0 2m33-2l-1 3m58-6l-1 2m-79 14l1 3m8-1l0 1m22 0l1 2m6-3l-1 0m-34 5l0 2m37-1l0 2m-14 2l-1 2m-39 5l1 0m74 6l1 3m34-3l-1 2m7 4l1 3m-58 4l0 1m-47 2l0 2m66-2l0 1m-25 9l-1 1m19 0l-1 2m8-4l2 2m-80 4l-1 2m13 0l1 2m53-2l0 1m22-1l0 2m-89 1l-1 2m71-2l-1 1m-19 7l-1 0m-19 6l-2 1m33 0l0 2m10 0l1 1" stroke="#98a6dc" stroke-width="3.9" stroke-linecap="round"/><path d="M4 0l-2 1m99 1l-1 1m16 0l-1 2m-108 1l2 0m82-1l-1 1m27-1l-1 2m5-2l-1 1m-103 5l-1 1m22 1l-1 1m9-3l0 2m41 1l1 2m29-3l1 1m-101 3l-1 1m6-1l-2 1m23-1l0 1m46 2l1 0m8-4l1 1m15-1l-1 2m2 2l1 1m-97 4l-1 1m17-2l-1 1m7-3l0 1m3 0l-1 2m19 0l-1 1m-49 1l0 1m8-1l-1 0m80 0l-1 1m-92 6l-1 1m64-2l-1 1m39 2l3 0m-1 1l0 3m-101 2l-1 1m37-2l0 2m-26 4l-1 0m6-3l0 1m7 1l-1 1m88-3l2 1m-113 7l-1 1m5-2l0 2m31-3l-1 0m12 0l-1 2m3-2l3 0m18-1l-1 0m8 0l1 0m12 1l1 0m-89 5l1 2m8 0l-1 1m8-2l0 1m16 0l1 2m6-4l0 2m20-1l-1 1m29-1l-1 2m14-3l-1 2m11 0l-1 0m-111 5l-2 0m20 1l-1 2m6-4l-1 2m12 0l-1 2m9-4l1 1m43-2l0 2m5-1l1 2m11-1l0 2m-84 3l2 1m3-1l-1 1m18 2l-1 2m8-7l0 1m4-1l-1 2m29-1l-1 1m27-1l-1 2m-102 4l0 1m9-1l-2 0m23 2l-2 1m23-3l-1 2m9 1l0 3m23-5l-1 1m-60 4l-1 2m10 0l-1 2m18-5l0 2m5-3l0 1m6-1l-1 1m10 3l-2 0m12-3l-2 2m-71 6l2 1m11-2l-1 1m6-3l-1 2m36 0l0 1m-40 6l-1 1m53-2l0 1m19-1l-1 1m-43 5l0 2m6-2l-1 1m10-3l-1 1m11-2l-2 2m-21 5l0 1m9-3l-1 1m6 2l0 1m3-1l-1 2m-54 2l-1 1m25 2l0 2m17-2l0 2m-46 2l-1 0m26-2l-1 2m26-1l-1 1m9-2l-1 2m-41 5l-2 1m15-2l-1 1m10 0l1 1m35-3l0 2" stroke="#6f82cc" stroke-width="3.9" stroke-linecap="round"/><path d="M74 -1h0m3 5h0m6 0l0 1m5-3h0m5 1l-1 0m-24 3l-2 1m11-1h0m8 2l0 1m-24 4l0 1m24-1l-1 1m-31 5l0 1m33-3h0m-30 5l-1 1m14 0l-1 1m18 0l1 1m3 2l0 2m-39 4l-1 1m21 1h0m12 1l0 1m13-3l-1 0m5 1h0m-11 6h0m27-1l0 1m-116 3h0m91 1l-1 1m22 1h0m10 0l0 1m-44 2l-1 1m12 0l0 1m12-3l0 1m5 1l-1 0m7-1l0 2m4-2h0m-17 7l-1 1m-9 11l0 2m11-5h0m17 1l0 1m-71 6l0 2m58-1l-1 1m15-4l-1 0m4 3l-1 1m-95 3l-1 0m21 0h0m66-1l-1 1m-59 5l-1 1m52-2l0 1m7 0h0m8 1l0 2m4-2l2 0m-116 6l0 2m9-4h0m20-1l-1 1m22 1l0 1m55-1l0 1m4-3l0 1m-109 4l2 1m14 2l-1 2m15-3l0 1m3-3h0m55 4l0 1m3-4l0 2m9 0h0m6-2h0m-113 7l1 1m7-3h0m16 1h0m55 2h0m6 0l0 1m4-2l-1 2m22-3l0 1m8-1l0 1m-119 7h0m11-2h0m13 0h0m12-2l-1 1m12 1l-2 0m53-2l0 1m2-1l0 1m12 2l-1 1m6-3l0 1m-116 5l0 1m9-1l0 2m10-2l-1 1m7 0h0m2 0h0m31 1h0m32-2l1 0m3 3l0 1m5-4l0 1m16 0l0 1m6 0l-1 1m-103 1l-1 1m31 1h0m49 1l1 1m4-1l-2 1m6-3l0 1m4 1l1 1m5-2h0m-79 4l-1 1" stroke="#5e180b" stroke-width="4.1" stroke-linecap="round"/><circle cx="42" cy="78" r="19.7" fill="#d6d6ee"/><circle cx="16" cy="18" r="20.8" fill="#d6d6ee"/><circle cx="104" cy="14" r="20.9" fill="#d6d6ee"/><circle cx="50" cy="44" r="18.9" fill="#d6d6ee"/><circle cx="79" cy="107" r="19.4" fill="#d6d6ee"/><circle cx="42" cy="78" r="11.7" fill="#e9dfe9"/><circle cx="16" cy="18" r="12.8" fill="#e9dfe9"/><circle cx="104" cy="14" r="12.9" fill="#e9dfe9"/><circle cx="50" cy="44" r="10.9" fill="#e9dfe9"/><circle cx="79" cy="107" r="11.4" fill="#e9dfe9"/><path d="M40 62l1-4m2 3l0-3m6 5l1-2m1 5l1-2m4 5l2-2m-3 6l4-2m-2 4l3-2m-4 6l3 1m-3 4l3 1m-5 0l2 1m-2 3l1 2m-7 0l1 2m-3-1l1 3m-9-4l0 4m-4-5l-2 2m0-4l-2 3m-2-6l-3 0m3-3l-3 0m3-4l-3 1m2-5l-3 0m4-3l-2-2m5-3l-2-2m4 1l-1-3m4 3l-1-2m-14-60l1-4m1 4l1-2m3 4l4-2m-2 5l3-2m-1 6l2-1m-1 4l4 0m-4 5l3-1m-3 5l2 0m-5 1l4 1m-5 4l2 2m-5-1l3 2m-6 1l1 2m-4-2l0 4m-5-5l-1 4m-4-3l0 2m-2-5l-1 2m-5-6l-2 2m2-6l-4 1m2-6l-3 1m3-3l-3-1m5-5l-2-1m2-1l-1-2m6 0l-1-2m4 1l-2-4m9 0l1-4m84 2l0-4m5 2l0-2m3 4l2-4m3 6l2-2m2 6l2-2m-2 4l2-1m0 5l2 0m-2 3l4 0m-4 5l2 0m-3 3l4 1m-8 2l3 3m-6 0l2 4m-8-1l1 3m-5-3l0 2m-2-4l-2 4m-2-5l-1 3m-2-5l-3 1m0-3l-1 1m-2-7l-2 1m3-4l-3 0m1-3l-2 0m5-4l-4-2m5 0l-3-2m7-2l-2-2m-43 59l0 4m-2-6l-1 3m-6-5l-2 2m0-7l-3 1m2-4l-4 0m4-3l-3-1m3-3l-3-1m3-4l-2-1m5 0l-2-2m5-1l-1-2m4 1l-1-4m5 5l0-3m7 3l1-2m4 9l2-1m-1 2l4 0m-4 5l4 1m-4 3l3 1m-3 1l3 3m-5 2l2 3m-7-1l3 3m-6-2l1 3m35 54l2 2m-4 1l3 3m-5-2l1 3m-5-1l0 4m-3-4l-1 4m-2-5l0 3m-5-3l-2 2m0-5l-2 1m1-4l-3 1m1-5l-4 0m3-3l-2 0m2-4l-4-1m5-3l-2-2m5-2l-1-2m5 2l-2-2m6-1l-1-3m2 1l-1-2m6 6l0-4m2 4l1-2m4 4l2-3m-1 5l2-3m0 7l3-1m0 3l2 0m-4 4l3 1m-3 3l2 1" stroke="#8796d4" stroke-width="3.6" stroke-linecap="round"/></svg>
<rect x="1183.6" y="1396" width="120" height="119" fill="#9a9a9a" filter="url(#sh)"/><svg x="1182" y="1394.4" width="120" height="119"><g filter="url(#bl)"><use href="#q00" class="t3"/><use href="#q01" class="t2"/><use href="#q02" class="t2"/><use href="#q03" class="t3"/><use href="#q10" class="t3"/><use href="#q11" class="t2"/><use href="#q12" class="t3"/><use href="#q13" class="t2"/><use href="#q20" class="t2"/><use href="#q21" class="t3"/><use href="#q22" class="t2"/><use href="#q23" class="t2"/><use href="#q30" class="t3"/><use href="#q31" class="t2"/><use href="#q32" class="t2"/><use href="#q33" class="t3"/></g><path d="M7 -1l-1 1m57 0h0m13 2l-1 1m14-3l-1 0m22-1l0 1m7 1l-1 1m-113 4l-1 1m22 0l-1 0m14-1l-1 0m11 0l-1 1m20 0l1 0m6-2l1 0m13 2l1 0m19 1l-1 0m-99 5l1 0m15-2l1 1m10 1l-1 1m24-2l-1 1m12 0l-1 1m8-1l1 0m41-2h0m-93 6l1 0m20 2l1 1m27-3l-1 1m35 1l-1 1m-84 4l-1 0m13 2l1 1m14-4l-1 0m7 1l-1 1m49 0l-1 1m-77 6l-1 0m20-1l0 1m9-1l1 0m27 1l0 1m18-2l1 1m13-2l1 0m-87 8l-1 1m10-2l-1 1m22-1l0 1m66-1l0 1m-118 5l-1 1m27 0l-1 1m10-1h0m7-1l0 1m5-2l1 0m12 2l-1 1m9-3l1 0m14 0l-1 1m8 0l0 1m5-1l1 1m21-1l-1 1m-122 5l1 0m64-2l-1 0m15 0l-1 0m12 2l-1 0m10 0l0 1m25-2l-1 1m-103 5l-1 0m13-1l-1 1m8 1l-1 1m8-1l1 1m14-1l-1 1m27-1l0 1m14 0l1 0m21-1l0 1m-88 5l1 1m6-2l0 1m15 0h0m19-2l1 0m13 2l0 1m8-1l1 1m7-2h0m6 0l0 1m8 1l0 1m-122 3h0m9 1h0m73 0l-1 0m17 0l1 0m-74 6l1 1m27-1l1 1m47 0l-1 0m13-1l-1 1m-112 5l1 1m5-2l1 0m56 1h0m5 1l0 1m9-1l1 1m5-2l-1 0m35 1l-1 0m8-2l1 0m-114 6l1 0m4 0l0 1m30 0l-1 1m28-2l1 0m12 0l0 1m7 0l1 0m19-1l1 0m8 1h0m-121 8l0 1m12-1l-1 1m31-2l-1 0m34-2l0 1m6-1l1 0m34 1l1 0m-79 5l-1 0m7 2h0m26-2l0 1m15 0l-1 0m8-1h0m-37 6l1 1m6 1l-1 1m14-2l1 0m5 1l-1 1m9-2l-1 1m7 0l1 0m6 0l1 0m13 1l-1 1m-71 2l1 0m7 0l0 1m25 1h0m16-2l0 1m-51 6l-1 1m7 1h0m19-1l-1 1m10-2l1 1m3-1l1 1m14 0l-1 1m21 0l1 0" stroke="#c4cae8" stroke-width="4.3" stroke-linecap="round"/><path d="M21 0l3 1m4-2l0 2m21-1l2 0m6-1l0 1m13 0l-1 2m26-1l-2 0m-96 6l0 3m21-4l1 1m74-2l-1 2m-51 5l2 1m19 0l-1 2m29-2l2 1m4 0l1 2m8-4l1 1m-108 5l-1 3m41-2l1 1m14-2l1 2m7-2l3 1m22 0l-1 3m9-4l3 1m5-2l1 3m-90 3l3 0m47 1l2 2m3-1l1 2m8-3l-3 2m-70 5l2 2m6-2l3 0m58 0l-1 1m-51 3l-2 0m43 1l0 3m20-2l-1 3m16-4l-2 0m8-1l1 2m12 0l1 3m-106 3l-2 1m7-3l-2 0m65 1l2 1m26 0l-1 3m10-5l3 2m-105 5l-3 0m10 0l3 0m9 1l2 0m47-2l2 0m21 2l3 0m-112 6l-2 2m78-1l3 1m19-3l1 3m18-4l-1 1m-112 7l-2 1m11 0l1 2m12-2l-1 3m64-4l1 2m-76 3l1 1m28-1l2 2m4-2l-2 0m24 0l0 3m7-2l1 1m13 0l1 2m10-2l1 3m-100 1l1 2m13 0l1 3m12-5l1 1m15 0l1 1m18-2l-1 3m16-3l1 2m4-2l0 3m37-1l-2 2m-107 3l-2 0m9 2l0 2m28-4l1 3m40-3l-2 2m24-1l-3 1m-105 3l0 2m21-2l1 3m35-2l2 1m18-2l-1 3m-72 4l1 2m13-1l3 1m4-2l1 3m7-4l-2 1m15 1l-1 2m49-2l3 2m-90 5l1 3m19-5l0 2m35-3l1 3m14-2l-2 1m23 0l-1 2m21-2l0 2m-115 5l1 2m8-4l-3 0m8 0l-3 2m12-1l3 2m3-4l-1 2m14-1l-1 2m65-1l3 0m-111 4l-3 1m38-1l2 2m17-1l-3 1m31-2l0 3m15 0l-2 3m16-4l-2 0m8-1l-3 1m-105 6l-1 3m44-5l0 2m32 1l-2 0m17-3l0 3m8-3l-1 1m13-1l0 2" stroke="#d47450" stroke-width="2.4" stroke-linecap="round" opacity="0.85"/><path d="M42 24l-1 1m0 24l1 1m64 6l0 1m-3 17h0m-7 11l0 1m8-1l-1 0m-51 6l1 0m17 19l1 0" stroke="#c0583a" stroke-width="6.6" stroke-linecap="round"/><path d="M1 1l1 0m12-1h0m91 0l0 1m-72 7h0m20-3l-1 0m6 2l1 0m41 0l-1 0m16 0h0m-110 12h0m6-2l1 1m6-1l-1 0m14 0l0 1m48 0l1 0m-79 7l0 1m7-2l-1 0m22 0l1 0m52 1l1 1m8-1h0m7-1l-1 1m15-2l0 1m7 1l0 1m-103 4l1 0m15-1l0 1m6-1h0m20 3l-1 0m38-2l0 1m11 0h0m15 0l0 1m-120 4l-1 0m8 2l1 0m4-3l1 0m11 9l-1 0m35 0h0m-30 4h0m26 0l1 1m55-1h0m-99 7l-1 0m41 0h0m11 5l0 1m6 1l-1 0m-7 4l1 0m52 0h0m-80 8l0 1m20-2l-1 0m17 0l0 1m30 6l0 1m-72 3l-1 0m72 6l1 0m22 3h0m-122 5l1 0m14-1h0m7 1l0 1m35-2l-1 0m49 1h0m6-2h0m-114 8l1 1m125-2l1 0m-116 5l1 0m4 2l-1 0m11 0l0 1m81-2l-1 0m-105 6l1 0m31 2l0 1m30-2l-1 0" stroke="#a03818" stroke-width="6.8" stroke-linecap="round"/><path d="M36 -1l-1 0m6 2h0m41-2l0 1m41 1l1 0m-44 4h0m-51 9l1 1m18-2l1 0m63-1l1 0m-116 19l1 0m79 6l1 0m-80 4l1 1m6 12l-1 0m20 0l1 0m3 7h0m20 1h0m-22 3l0 1m96 2l-1 0m-69 12l-1 0m43 0l-1 1m-44 5h0m18 4h0m-51 24l-1 0" stroke="#6c1606" stroke-width="7.0" stroke-linecap="round"/><path d="M1 1l1 0m12-1h0m22-1l-1 0m6 2h0m41-2l0 1m23 0l0 1m18 0l1 0m-91 7h0m20-3l-1 0m6 2l1 0m21-2h0m20 2l-1 0m16 0h0m-86 7l1 1m18-2l1 0m63-1l1 0m-108 7h0m6-2l1 1m6-1l-1 0m14 0l0 1m48 0l1 0m-79 7l0 1m7-2l-1 0m22 0l1 0m12 0l-1 1m41 0l1 1m8-1h0m7-1l-1 1m15-2l0 1m7 1l0 1m-122 5l1 0m18-1l1 0m15-1l0 1m6-1h0m20 3l-1 0m38-2l0 1m11 0h0m15 0l0 1m-120 4l-1 0m8 2l1 0m4-3l1 0m63 2l1 0m-80 4l1 1m26 2l-1 0m35 0h0m-30 4h0m12 1l1 1m13-2l1 1m55-1h0m-106 6l-1 0m8 1l-1 0m13-1l1 0m27 1h0m54 1l0 1m-78 4h0m20 1h0m15-2l0 1m6 1l-1 0m-42 3l0 1m35 0l1 0m52 0h0m8 2l-1 0m-87 6l0 1m20-2l-1 0m17 0l0 1m33 0h0m-51 6l-1 0m43 0l-1 1m7-1l0 1m-72 3l-1 0m22 2h0m47-1l0 1m8-1l-1 0m-51 6l1 0m14-1h0m32 0l1 0m22 3h0m-122 5l1 0m14-1h0m7 1l0 1m35-2l-1 0m49 1h0m6-2h0m-114 8l1 1m125-2l1 0m-116 5l1 0m4 2l-1 0m11 0l0 1m47-1l1 0m33-1l-1 0m-105 6l1 0m17-1l-1 0m15 3l0 1m30-2l-1 0" stroke="#fdf1ea" stroke-width="3.1" stroke-linecap="round"/></svg>
<rect x="1327.8" y="1396" width="120" height="119" fill="#9a9a9a" filter="url(#sh)"/><svg x="1326.2" y="1394.4" width="120" height="119"><g filter="url(#bl)"><use href="#q00" class="t1"/><use href="#q01" class="t2"/><use href="#q02" class="t4"/><use href="#q03" class="t5"/><use href="#q10" class="t2"/><use href="#q11" class="t2"/><use href="#q12" class="t3"/><use href="#q13" class="t5"/><use href="#q20" class="t2"/><use href="#q21" class="t2"/><use href="#q22" class="t4"/><use href="#q23" class="t4"/><use href="#q30" class="t2"/><use href="#q31" class="t3"/><use href="#q32" class="t3"/><use href="#q33" class="t4"/></g><path d="M9 1l0 1m7-2l-1 1m12 0h0m9-1h0m5 1l1 1m15-2h0m19 2l1 0m-73 3l-1 1m16 0l0 1m26-2l0 1m22-1l0 1m-65 7h0m13 0h0m13 0l0 1m7-2l-1 1m9-1l-1 0m-36 7l-1 0m13-1l0 1m-9 4l1 0m13 2l1 0m4-1l1 1m6 0l0 1m-30 6l-1 1m9-3h0m34 0l-1 0m-46 7l0 1m7-3l1 1m13 0l-1 1m7 1l-1 0m10-3l1 1m12 2l-1 0m9-3l-1 1m13 0l0 1m-70 4l1 1m12 1l1 0m13-1l-1 0m8 0l-1 1m14 1l1 0m6 0l1 0m-32 5l-1 0m7 0l0 1m13-3h0m22 1l1 0m-67 7l1 0m14-2l-1 0m14 2l-1 1m7-2h0m9 0h0m-31 6l-1 1m13 0l-1 1m9-3l-1 1m7 2l-1 1m15-4l1 1m40 2l-1 1m-92 5l0 1m7-4l1 1m12 2l1 1m7-2l1 0m5 0l0 1m9-2l-1 0m8 0l-1 1m8 0l1 0m3-1l1 1m-58 7l1 0m6 0l0 1m15-2l-1 1m27 0l1 1m7-2l-1 0m-44 6h0m6-1l0 1m22-1l-1 0m7 0l-1 1m7 1l1 1m14-2l0 1m6 0l1 0m-38 6l-1 0m7-1l-1 0m10 2l1 1m17-2l-1 1m24-2l-1 1m-85 4l0 1m11 0l0 1m-15 5h0m6 0l0 1m19-2l1 1m7 1l1 1m21-2l-1 0m15 1l-1 1m47-1l-1 0m-112 6l-1 1m7-2l1 0m28 0l0 1m6 1l1 0m14-2l-1 0m36 1l-1 0m-92 7l1 1m12-4l1 1m5 0l-1 0m8 0l-1 1m10 0l0 1m-31 3l1 1m10 2l1 1m15-2h0m40 0l1 0m7-2l1 0" stroke="#c4cae8" stroke-width="4.3" stroke-linecap="round"/><path d="M2 -1l-1 2m21-1l1 1m41 0l2 0m18-3l2 1m-88 6l1 3m25-2l2 1m47 0l1 2m7-2l2 1m-62 5l-2 2m30-2l2 0m13 0l0 2m21-3l1 1m18 0l-2 1m-69 5l-3 1m16-2l-1 1m22 0l0 2m35-2l0 2m-45 4l0 2m27-3l0 3m7-3l-2 1m-92 4l3 1m25 0l2 1m12-2l-1 2m14-1l-2 2m9-2l0 3m-43 3l0 2m28 0l-2 2m20-3l0 3m14-5l3 1m-76 7l2 0m13-1l-2 2m99-1l2 2m-117 4l2 2m7-3l3 0m25 2l-1 1m13-3l2 2m6 0l0 3m14-5l3 1m17-1l0 3m27-1l2 2m-117 2l0 2m76-1l1 1m20-2l-1 2m-44 5l0 3m16-3l1 3m40-5l0 2m-101 7l1 1m54-2l-3 0m24-1l-3 1m10-1l0 2m20-2l-1 1m-99 7l-1 2m58-3l-1 3m19-4l0 3m8-2l-1 2m15-1l0 3m-85 1l2 1m4 0l1 2m26-2l-1 1m21 0l-1 1m9-3l-2 3m10-3l1 3m27-2l0 3m-115 3l2 1m13-1l-1 2m36-2l-1 1m18-2l2 0m35 0l-3 0m-113 8l1 2m28-3l-3 2m85 0l0 2m16-2l0 2m-110 4l1 2m6-5l-1 2m23 0l-1 2m8-1l-2 3m16-4l-2 2m23-4l3 2m16 0l2 2m-107 2l1 2m32-2l1 2m20-1l3 1m31 0l1 3m27-4l1 3m-108 3l-2 3m46-3l1 2m5-1l0 3m11-4l-2 1m12-2l-1 1m15 0l-1 1m-66 6l-2 3m17-4l2 2m5-1l-2 2m9-2l-2 0m6 0l2 0m29 0l-2 0m22-2l2 1m11 0l1 1" stroke="#d47450" stroke-width="2.4" stroke-linecap="round" opacity="0.85"/><path d="M38 7h0m0 36h0m-21 12l-1 1m36-1l1 0m-10 6l1 1m-16 10l-1 1m-13 11l1 0m17 6l-1 1m-34 25h0" stroke="#c0583a" stroke-width="6.6" stroke-linecap="round"/><path d="M50 1l0 1m3 3l-1 0m-40 12l-1 0m29 1h0m14-1l1 1m4 1h0m-16 5h0m5-1l-1 0m27 9l-1 1m0 10l-1 0m10 0l1 0m-67 7l0 1m62-2l0 1m-18 5l1 0m5-1h0m8-1h0m-10 7l1 1m12 0h0m-15 13h0m-66 5l1 1m32 5h0m33 2l-1 0m-22 6l1 0m14-3l-1 0m14 2h0m6-2l0 1m3 7l1 0m12 0l1 1m-22 5l0 1m4-2h0m7 0l1 1m-39 6h0m23 1l1 1m19-3l1 0m-75 6l0 1m56 0l0 1m27-1l-1 1" stroke="#a03818" stroke-width="6.8" stroke-linecap="round"/><path d="M71 -1h0m21 0l-1 1m7-1l1 1m5-1l-1 1m10 1l-1 0m6-2h0m-32 6l0 1m15-1h0m8 1h0m5-1l0 1m8 0l-1 0m-66 6h0m14-1l1 0m8 3l1 0m12-1h0m8 0l0 1m12-2h0m8 1l1 1m-46 5l1 0m5-2l-1 1m30 1l1 0m4 0h0m9 0h0m-52 6l-1 1m28-2l1 0m4 1l-1 1m9-2l1 1m6-1l1 0m-39 8l-1 0m7-3h0m8 1l-1 0m9 0l-1 1m6 1h0m9-1l-1 0m8 0l0 1m-39 3l0 1m6 1l1 0m8 0h0m6 1l1 0m6-3l1 0m5 1h0m6 0h0m-37 7l0 1m7-2h0m5 0h0m9 2l-1 1m16-1l0 1m-39 5l1 1m11-1l-1 0m10-3l0 1m5 1h0m-23 6l1 0m6-2l0 1m13-1l0 1m8-1l1 1m5 1l0 1m-37 4l-1 0m16 1l1 1m4-2l0 1m13 0l-1 0m-36 5l-1 0m22 0l0 1m8 1l0 1m13-2h0m-46 7l1 0m7-1h0m21 1l0 1m13-1h0m-18 4l-1 0m10 1h0m-24 7l1 0m31 0l-1 0m-57 5l0 1m27 0l-1 0m17-2l0 1m14-1l-1 0m-18 7h0m15 0l1 0m-12 7h0m7-1l1 1m14-1l-1 1m-23 6l-1 1m7-1l-1 0m6-2h0m7 3h0m-16 4h0m13 0h0" stroke="#6c1606" stroke-width="7.0" stroke-linecap="round"/><path d="M50 1l0 1m21-3h0m21 0l-1 1m7-1l1 1m5-1l-1 1m10 1l-1 0m6-2h0m-80 8h0m15-2l-1 0m34 0l0 1m15-1h0m8 1h0m5-1l0 1m8 0l-1 0m-66 6h0m14-1l1 0m8 3l1 0m12-1h0m8 0l0 1m12-2h0m8 1l1 1m-108 3l-1 0m29 1h0m14-1l1 1m4 1h0m15 0l1 0m5-2l-1 1m30 1l1 0m4 0h0m9 0h0m-80 5h0m5-1l-1 0m24 2l-1 1m28-2l1 0m4 1l-1 1m9-2l1 1m6-1l1 0m-45 8l-1 1m7-1l-1 0m7-3h0m8 1l-1 0m9 0l-1 1m6 1h0m9-1l-1 0m8 0l0 1m-39 3l0 1m6 1l1 0m8 0h0m6 1l1 0m6-3l1 0m5 1h0m6 0h0m-86 7h0m35 0l-1 0m10 0l1 0m4 0l0 1m7-2h0m5 0h0m9 2l-1 1m16-1l0 1m-107 5l0 1m62-2l0 1m6 0l1 1m11-1l-1 0m10-3l0 1m5 1h0m-93 6l-1 1m36-1l1 0m7 0l1 0m5-1h0m8-1h0m13 2l1 0m6-2l0 1m13-1l0 1m8-1l1 1m5 1l0 1m-78 5l1 1m20-2l1 1m12 0h0m7-1l-1 0m16 1l1 1m4-2l0 1m13 0l-1 0m-36 5l-1 0m22 0l0 1m8 1l0 1m13-2h0m-94 5l-1 1m35 1h0m14 0l1 0m7-1h0m21 1l0 1m13-1h0m-122 5l1 1m103-2l-1 0m10 1h0m-95 5l1 0m14 1h0m33 2l-1 0m24-1l1 0m31 0l-1 0m-84 4l-1 1m8 2l1 0m14-3l-1 0m6 1l0 1m8 0h0m6-2l0 1m13 1l-1 0m17-2l0 1m14-1l-1 0m-39 8l1 0m12 0l1 1m7-2h0m15 0l1 0m-45 7l0 1m4-2h0m7 0l1 1m21 0h0m7-1l1 1m14-1l-1 1m-81 6h0m23 1l1 1m19-3l1 0m14 1l-1 1m7-1l-1 0m6-2h0m7 3h0m-120 5h0m13-1l0 1m56 0l0 1m27-1l-1 1m9-2h0m13 0h0" stroke="#fdf1ea" stroke-width="3.1" stroke-linecap="round"/></svg>
<rect x="1471.9" y="1396" width="120" height="119" fill="#9a9a9a" filter="url(#sh)"/><svg x="1470.3" y="1394.4" width="120" height="119"><g filter="url(#bl)"><use href="#q00" class="t5"/><use href="#q01" class="t5"/><use href="#q02" class="t4"/><use href="#q03" class="t3"/><use href="#q10" class="t5"/><use href="#q11" class="t5"/><use href="#q12" class="t3"/><use href="#q13" class="t3"/><use href="#q20" class="t5"/><use href="#q21" class="t5"/><use href="#q22" class="t4"/><use href="#q23" class="t2"/><use href="#q30" class="t5"/><use href="#q31" class="t4"/><use href="#q32" class="t4"/><use href="#q33" class="t3"/></g><path d="M110 1l1 0m-4 6h0m8-2l-1 1m-18 5l-1 0m-31 14l-1 0m34-1l1 0m-15 11l-1 1m37 1l-1 1m-53 5l1 0m15 1l1 0m4-2h0m13 1l0 1m-78 18l1 1m33-3h0m34 2l0 1m14-3l1 0m20 1l-1 0m-30 5l0 1m16 1l0 1m-32 4l0 1m34-3l-1 0m-9 8l-1 0m13-1l-1 1m-22 7l-1 0m16-2h0m-38 6l1 0m32 1h0m9 1l1 0m4 0l-1 1m9-1h0m-4 5h0m4 6l-1 1m-23 7l0 1m15-3l1 0m-42 7l1 0m49-1l1 1" stroke="#c4cae8" stroke-width="4.3" stroke-linecap="round"/><path d="M2 -1l-2 0m76 2l2 3m6-4l0 2m12-1l-2 1m-28 5l-1 2m27-2l-3 1m32-1l-1 1m-65 3l0 2m14 0l-3 1m17-3l-2 1m11 0l1 1m12-2l1 2m-59 6l0 2m7-4l-2 2m15-1l0 3m7-2l1 3m13-4l-1 1m-10 4l2 1m5 0l-1 2m21-3l-2 3m10-2l-1 2m6-1l0 2m-93 5l-1 2m14-5l1 3m14 0l-1 3m29-3l-2 2m10-3l-2 1m9-2l-3 1m8-1l-1 2m8-1l-3 0m-90 6l-2 2m63-4l0 2m30-1l1 2m4 0l-1 3m-85 1l-1 2m38 0l0 3m11-5l0 3m37-2l1 3m5-4l1 2m5-2l-1 3m-70 3l3 0m4 2l-1 2m20-3l2 0m18 1l2 1m22-4l-2 1m-45 6l2 1m19 0l0 2m6-2l-3 2m26-1l-2 0m-106 6l2 2m18-5l2 1m11-1l-2 1m24 2l-1 2m7-3l2 2m20-3l1 2m20-1l-2 3m-58 2l0 2m-2 4l-2 0m14 1l2 2m48-1l2 1m-110 3l0 2m20-2l2 2m41 0l-3 2m10-3l0 2m14-1l-2 1m-86 3l0 3m13-3l2 0m7 0l2 0m18 1l-1 2m16-4l1 1m6 2l-2 2m13-4l2 0m12 2l-1 1m22-1l2 2m-93 2l0 2m34-2l-3 2m-7 5l0 2m41-3l2 1m31 0l-2 2m-64 5l2 0m33 1l-3 2m11-5l-3 0m16 1l0 2m-113 5l-1 2m21-2l1 3m14-3l3 0m16-2l1 1m20 1l-2 0m10-1l1 3m5-4l-2 1m16 2l-3 1m-89 2l3 0m24 3l-2 1m15-3l3 1m24-1l-2 2m11-2l0 2m12 0l-3 1m12-3l0 2" stroke="#d47450" stroke-width="2.4" stroke-linecap="round" opacity="0.85"/><path d="M89 -1l1 1m29 0l0 1m-31 7l-1 0m25 4h0m8 0l1 1m-21 4l1 1m5 0l-1 1m10 0h0m-24 7h0m22 5h0m-42 5h0m21 2l1 0m6 0h0m-5 5h0m-11 5h0m6 0l-1 1m17-1h0m8-1l0 1m-34 6l0 1m41 12h0m-24 7l-1 0m27 4l1 0m-12 6l0 1m-23 6h0m5 0l1 1m9 6l1 0m5 4l0 1m8 6l1 1m-23 6l1 0m17 0l1 0" stroke="#a03818" stroke-width="6.8" stroke-linecap="round"/><path d="M9 1h0m7-2l0 1m5-1l-1 1m9 0l-1 0m6 1l-1 1m10-4l1 0m6 2l1 0m6 1h0m6-2l0 1m6 0l-1 1m-70 6h0m5-1l-1 1m11-1h0m6 0l1 1m6-1l-1 0m8 0h0m7-1l0 1m12 1h0m8-1l0 1m13-2l1 0m7 0l1 0m20 2l-1 1m-99 4h0m14 1l1 0m6 0l1 1m4-2l1 1m5-1l0 1m9 0h0m6 0l-1 0m14 1l-1 0m15-2l1 0m-80 7l1 0m6 0h0m6-1l1 0m9-1h0m5 2l0 1m6-3l-1 0m9 0l-1 0m20 1l0 1m22-1h0m-80 8h0m8-2h0m8 1l0 1m7-2h0m5 0l0 1m8 1l-1 0m7-2l1 1m26 0l0 1m-73 5l1 0m7 0h0m7-2h0m7 2l0 1m15-3l1 0m13 2l0 1m12-2l-1 0m10 1l0 1m55-2l0 1m-122 7h0m6-1h0m14-2h0m6 1l-1 1m9 1l1 1m6-2l-1 0m8 0l0 1m6-2l-1 0m10-1l1 0m-67 6l0 1m7 1l-1 0m8 1l0 1m7-1h0m12-2h0m9 1h0m6-2l-1 0m7 0h0m-52 9h0m7-3l-1 1m9 2h0m7-2l1 0m7 0l-1 1m7 1l-1 1m7-3l1 0m18 2l0 1m9-3l0 1m-65 6l0 1m7-1h0m6-2l0 1m7 2l-1 0m8-2h0m7 2l-1 1m13-2l0 1m9-3l1 0m4 3h0m21 0l-1 0m31-3l1 1m-118 6l1 0m7 1l0 1m21-1l-1 0m16 1l-1 0m20-2l0 1m22 1h0m-87 4h0m6 1l1 1m7 0l1 1m7-3l0 1m7-1l1 0m3 0l1 0m7 0l1 0m7 2l-1 1m9-1h0m18-1l0 1m16-2h0m-88 6h0m7 0l-1 0m8 2l0 1m8-3l0 1m7-1l1 1m5 1l1 0m5 0l-1 1m9-1h0m15-1h0m-66 4h0m7 2h0m13 2l1 0m7-3l-1 0m20 0h0m8 0l0 1m7 0h0m6 1l0 1m-66 5l-1 1m17-1h0m18-2h0m8 0h0m15 2l1 0m20 0l0 1m-80 3h0m8 0h0m7 0l0 1m5 0l-1 0m14 0l-1 1m8 0l1 0m7-2l1 0m4 2h0m28 0h0m-77 5l0 1m7-1h0m7 1l0 1m6-1l-1 0m8-2l1 0m4 0h0m10 1l0 1m13-2l1 0m5 2l1 1m13-1h0m19 0h0m16-1l-1 1m-113 4h0m6 1l0 1m6 0h0m8 0h0m7-1l-1 0m8 2l0 1m7-4l-1 0m6 1l-1 0m10-1l1 1m20 0h0m7 1l0 1m5-2h0m-78 5h0m7 3l1 0m14-1h0m12-1h0m6 2l-1 0m15 0l-1 0m9-3l0 1m-74 5l0 1m10 1l1 1m12-3h0m5 1h0m21 2l0 1m16-4l0 1m5 1h0" stroke="#6c1606" stroke-width="7.0" stroke-linecap="round"/><path d="M9 1h0m7-2l0 1m5-1l-1 1m9 0l-1 0m6 1l-1 1m10-4l1 0m6 2l1 0m6 1h0m6-2l0 1m6 0l-1 1m21-2l1 1m29 0l0 1m-121 6h0m5-1l-1 1m11-1h0m6 0l1 1m6-1l-1 0m8 0h0m7-1l0 1m12 1h0m8-1l0 1m13-2l1 0m7 0l1 0m6 3l-1 0m15-1l-1 1m-99 4h0m14 1l1 0m6 0l1 1m4-2l1 1m5-1l0 1m9 0h0m6 0l-1 0m14 1l-1 0m15-2l1 0m35 0h0m8 0l1 1m-124 6l1 0m6 0h0m6-1l1 0m9-1h0m5 2l0 1m6-3l-1 0m9 0l-1 0m20 1l0 1m22-1h0m20-1l1 1m5 0l-1 1m10 0h0m-115 7h0m8-2h0m8 1l0 1m7-2h0m5 0l0 1m8 1l-1 0m7-2l1 1m26 0l0 1m22 0h0m-95 5l1 0m7 0h0m7-2h0m7 2l0 1m15-3l1 0m13 2l0 1m12-2l-1 0m10 1l0 1m45-1h0m10-1l0 1m-122 7h0m6-1h0m14-2h0m6 1l-1 1m9 1l1 1m6-2l-1 0m8 0l0 1m6-2l-1 0m10-1l1 0m6 1h0m21 2l1 0m6 0h0m-101 3l0 1m7 1l-1 0m8 1l0 1m7-1h0m12-2h0m9 1h0m6-2l-1 0m7 0h0m42 2h0m-94 7h0m7-3l-1 1m9 2h0m7-2l1 0m7 0l-1 1m7 1l-1 1m7-3l1 0m18 2l0 1m9-3l0 1m13-1h0m6 0l-1 1m17-1h0m8-1l0 1m-108 7l0 1m7-1h0m6-2l0 1m7 2l-1 0m8-2h0m7 2l-1 1m13-2l0 1m9-3l1 0m4 3h0m14-2l0 1m7 1l-1 0m31-3l1 1m-118 6l1 0m7 1l0 1m21-1l-1 0m16 1l-1 0m20-2l0 1m22 1h0m-87 4h0m6 1l1 1m7 0l1 1m7-3l0 1m7-1l1 0m3 0l1 0m7 0l1 0m7 2l-1 1m9-1h0m18-1l0 1m16-2h0m32 1h0m-120 5h0m7 0l-1 0m8 2l0 1m8-3l0 1m7-1l1 1m5 1l1 0m5 0l-1 1m9-1h0m15-1h0m32 1l-1 0m-97 3h0m7 2h0m13 2l1 0m7-3l-1 0m20 0h0m8 0l0 1m7 0h0m6 1l0 1m56-3l1 0m-123 8l-1 1m17-1h0m18-2h0m8 0h0m15 2l1 0m20 0l0 1m33-3l0 1m-113 5h0m8 0h0m7 0l0 1m5 0l-1 0m14 0l-1 1m8 0l1 0m7-2l1 0m4 2h0m28 0h0m9-1h0m5 0l1 1m-92 5l0 1m7-1h0m7 1l0 1m6-1l-1 0m8-2l1 0m4 0h0m10 1l0 1m13-2l1 0m5 2l1 1m13-1h0m19 0h0m7 0l1 0m8-1l-1 1m-113 4h0m6 1l0 1m6 0h0m8 0h0m7-1l-1 0m8 2l0 1m7-4l-1 0m6 1l-1 0m10-1l1 1m20 0h0m7 1l0 1m5-2h0m23-1l0 1m-101 5h0m7 3l1 0m14-1h0m12-1h0m6 2l-1 0m15 0l-1 0m9-3l0 1m47 0l1 1m-122 4l0 1m10 1l1 1m12-3h0m5 1h0m21 2l0 1m16-4l0 1m5 1h0m29 0l1 0m17 0l1 0" stroke="#fdf1ea" stroke-width="3.1" stroke-linecap="round"/></svg>
<rect x="1616" y="1396" width="120" height="119" fill="#9a9a9a" filter="url(#sh)"/><svg x="1614.5" y="1394.4" width="120" height="119"><g filter="url(#bl)"><use href="#q00" class="t3"/><use href="#q01" class="t3"/><use href="#q02" class="t3"/><use href="#q03" class="t3"/><use href="#q10" class="t3"/><use href="#q11" class="t3"/><use href="#q12" class="t3"/><use href="#q13" class="t3"/><use href="#q20" class="t3"/><use href="#q21" class="t3"/><use href="#q22" class="t3"/><use href="#q23" class="t3"/><use href="#q30" class="t3"/><use href="#q31" class="t3"/><use href="#q32" class="t3"/><use href="#q33" class="t2"/></g><path d="M63 0l0 1m12 0h0m7-2l0 1m7-1l-1 1m-79 5l0 1m14-1l0 1m99-1l-1 0m-71 7h0m20 0l1 1m4-1l-1 1m-63 4l-1 0m23 0l-1 1m5-1l0 1m57 2h0m7 0h0m-86 5l-1 1m20-2h0m8 0l-1 0m13 1l1 1m14-1l-1 0m8-1l1 1m12 0l-1 0m30-1l1 0m-94 5l1 1m4-1l0 1m51 1h0m40 0h0m-92 4l1 1m20 2h0m59-3l-1 0m-111 8l1 0m33 0l-1 1m69-1l1 0m22-2l-1 0m-120 7h0m12 1l-1 0m24-2l-1 1m50 2l-1 0m33 0l1 0m-120 5h0m13-1l1 0m62-1h0m6 1l1 0m18 2l1 0m7-1l1 1m5-3h0m8 3l0 1m-120 4h0m21-1l0 1m21 1h0m13 0l0 1m35-3l-1 0m-92 6l1 0m24 0l0 1m7 0l-1 0m57-1l1 0m15 0l-1 0m6 1l1 0m8-1l-1 1m-93 6l-1 1m33-1l-1 1m18-2h0m26 0h0m7 1l1 1m13 0l-1 0m-92 4l0 1m6 0l-1 1m29-1l-1 0m44 1l1 1m6-2l0 1m-89 4l-1 1m38 1l1 1m39-1l-1 0m6-1l0 1m-104 4l1 1m13 1l-1 1m26-1l1 0m6-2h0m15 2l-1 0m22 0l-1 1m27-1l-1 0m16-2h0m-121 7l-1 1m14 0l-1 1m14-1l0 1m15-1h0m13-2l-1 1m37-1h0m14 1l-1 1m7 0l1 1m5-1l0 1m-119 3l0 1m21 1h0m76-1l-1 0m20 0l1 0m-115 6h0m119 0l-1 0m-78 6l1 1m6-2l-1 1m6-1l0 1m43 0l1 1m14 0l0 1m5-2h0" stroke="#c4cae8" stroke-width="4.3" stroke-linecap="round"/><path d="M1 0l1 2m12-2l-3 0m9 0l0 3m30-3l-2 0m20 1l-1 1m29 0l-2 1m11-2l1 1m12-4l-1 2m-100 7l1 2m34-2l-2 2m8-3l2 2m19-2l2 1m11 0l-2 1m17-1l-2 1m-90 5l1 2m18-4l-2 1m23 1l-1 2m8-3l-1 2m21-1l2 1m5-2l1 3m6-1l-1 2m-93 3l-3 1m54-2l3 1m24-2l-2 3m9-1l0 2m28-2l-2 1m-107 4l-2 1m17-1l-1 1m62 1l0 2m21-5l2 0m7 1l1 1m-96 7l1 2m34-3l-3 1m59-2l0 3m6-2l2 3m-93 4l2 2m11-2l0 2m19-3l1 2m15-1l0 2m13-3l-3 1m24 0l3 1m-98 2l-2 0m9 2l-2 1m10-2l2 1m38-2l2 2m6-1l2 0m5 1l2 0m26-1l2 0m5 2l2 3m-111 2l2 3m19-3l2 2m14-1l-2 1m8-3l1 2m7-1l0 2m6-2l3 1m-62 6l-1 1m15-2l-1 1m8-3l-2 1m16-1l-1 2m28 0l2 1m24-1l-2 0m-83 5l-3 1m23-2l0 2m20-1l-2 0m31 0l-1 3m9-1l2 0m32-2l2 1m-117 7l2 0m7-2l3 2m24 0l-2 2m8-3l3 1m3-2l1 3m29-2l-1 2m-73 4l2 3m5-2l3 0m10 0l1 3m34-4l-1 2m-65 5l-3 2m45-5l2 2m13 0l-1 3m43-3l2 2m26-1l1 2m-123 4l-1 2m6-3l-1 1m30-3l-2 1m9 0l2 1m5 0l-1 2m21-2l-1 2m43-2l3 0m3 1l-2 3m-96 1l-1 2m14-2l2 1m18 2l3 0m32-3l-1 2m8 1l0 2m7-4l-3 0m-78 5l3 1m14 0l1 2m9-2l-3 1m39 0l1 1m12-2l1 2m-60 4l-2 0m9 0l3 1m26-1l2 2m45-2l-1 1m-111 6l-1 2m13-1l3 0m17-2l-1 1m9 0l-1 2m9-4l-2 1m16 0l3 1m4 1l1 1m4-2l2 2m5-2l-3 2m10-2l2 0m-94 5l-3 0m10-1l-2 1m23-1l1 2m25 0l-2 1m10 0l-1 2m8-4l1 1m28 0l3 1m16 0l0 2" stroke="#d47450" stroke-width="2.4" stroke-linecap="round" opacity="0.85"/><path d="M109 102l-1 1" stroke="#c0583a" stroke-width="6.6" stroke-linecap="round"/><path d="M28 -1l-1 0m30 2l0 1m-25 4l0 1m15 0h0m39-2h0m15 0l0 1m14 0l0 1m-114 4h0m8 0l0 1m20-1l-1 0m90 1h0m-121 6l0 1m21-1l0 1m40 1l0 1m63-2h0m-121 4l-1 0m28 2l1 1m20-1h0m14 1h0m-16 5l0 1m19-2l-1 0m8-1l1 0m13 1l0 1m15 1l-1 0m-99 6h0m7-2h0m81 2l-1 0m10-2l-1 0m19-1l-1 1m-76 5h0m5 2h0m43 1l-1 0m7-3l1 0m-71 7l1 0m46 1l1 0m26 0h0m12-1l1 1m-78 6h0m13-1l-1 0m16 0l1 0m-48 6h0m22 1h0m69 0l-1 0m9-1h0m-52 6l-1 0m15 1l1 0m45 0l-1 0m-119 4l1 1m41 2l0 1m6-3l0 1m30 0l1 0m33 1l0 1m-110 5h0m10-1h0m6 0l1 1m26 0h0m43-2h0m25 2h0m-86 5h0m34 0l1 0m14 1l1 1m7-3h0m-81 7l1 0m63 1h0m11 5h0m-68 7h0m15 0h0m33-1l1 0m22 0l0 1m6 0l-1 0m-73 4h0m15 0l0 1m7 1l1 0m28 1l1 1m-46 3h0m60 1h0m8-2h0" stroke="#a03818" stroke-width="6.8" stroke-linecap="round"/><path d="M7 1h0m28-2l-1 0m9 1l1 0m68-1l0 1m-109 5l1 0m63 1l-1 0m-1 13l0 1m-25 10h0m-26 6l1 0m26 0l1 0m10 6l1 0m6 0l0 1m16 4l1 0m-5 12l-1 0m-52 8h0m48 1l-1 0m-29 3l-1 1m50 2l-1 0m-17 4l1 0m11 1l1 0m-65 5l-1 0m58 8l1 0m-2 4l1 1m-42 8l0 1m36-4l1 0m38 7l1 0m5 0l-1 0m-114 8l-1 0" stroke="#6c1606" stroke-width="7.0" stroke-linecap="round"/><path d="M7 1h0m21-2l-1 0m8 0l-1 0m9 1l1 0m13 1l0 1m55-3l0 1m-109 5l1 0m28 1l0 1m15 0h0m20-1l-1 0m20-1h0m15 0l0 1m14 0l0 1m-114 4h0m8 0l0 1m20-1l-1 0m90 1h0m-121 6l0 1m21-1l0 1m40 1l0 1m7-2l0 1m56-1h0m-121 4l-1 0m28 2l1 1m20-1h0m14 1h0m-22 4h0m6 1l0 1m19-2l-1 0m8-1l1 0m13 1l0 1m15 1l-1 0m-99 6h0m7-2h0m6 0l1 0m26 0l1 0m47 2l-1 0m10-2l-1 0m19-1l-1 1m-76 5h0m5 2h0m8-1l1 0m6 0l0 1m28 1l-1 0m7-3l1 0m-71 7l1 0m46 1l1 0m4-2l1 0m21 2h0m12-1l1 1m-78 6h0m13-1l-1 0m16 0l1 0m-48 6h0m22 1h0m36-2l-1 0m34 2l-1 0m9-1h0m-94 7h0m42-1l-1 0m7 2l-1 0m9-1l1 0m45 0l-1 0m-119 4l1 1m35-1l-1 1m7 2l0 1m6-3l0 1m30 0l1 0m6 1l-1 0m28 0l0 1m-110 5h0m10-1h0m6 0l1 1m26 0h0m22-2l1 0m11 1l1 0m8-1h0m25 2h0m-98 4l-1 0m13 1h0m34 0l1 0m14 1l1 1m7-3h0m-81 7l1 0m63 1h0m5 0l1 0m-2 4l1 1m6 0h0m-68 7h0m15 0h0m5 1l0 1m28-3l1 0m7-1l1 0m14 1l0 1m6 0l-1 0m23-2l-1 1m-95 5h0m15 0l0 1m7 1l1 0m28 1l1 1m40-3l1 0m5 0l-1 0m-114 8l-1 0m24-2h0m60 1h0m8-2h0" stroke="#fdf1ea" stroke-width="3.1" stroke-linecap="round"/></svg>
<rect x="1760.2" y="1396" width="120" height="119" fill="#9a9a9a" filter="url(#sh)"/><svg x="1758.6" y="1394.4" width="120" height="119"><g filter="url(#bl)"><use href="#q00" class="t3"/><use href="#q01" class="t3"/><use href="#q02" class="t3"/><use href="#q03" class="t3"/><use href="#q10" class="t4"/><use href="#q11" class="t3"/><use href="#q12" class="t3"/><use href="#q13" class="t3"/><use href="#q20" class="t3"/><use href="#q21" class="t3"/><use href="#q22" class="t3"/><use href="#q23" class="t3"/><use href="#q30" class="t4"/><use href="#q31" class="t3"/><use href="#q32" class="t3"/><use href="#q33" class="t3"/></g><path d="M3 0l0 1m47 0l-1 1m8-2l-1 1m9 1l1 1m53-2h0m-122 7l-1 0m43-1l-1 1m43-1l0 1m34-3l-1 1m-112 8l0 1m63-1l-1 1m26-2l-1 0m8 0l0 1m-79 5l0 1m62-3l-1 0m24 2h0m-94 4l-1 0m13 2l-1 1m8-1l-1 0m36 0l0 1m21-2l-1 1m-84 6l-1 1m64-1h0m6-1l0 1m6-1l1 1m12-1h0m23 0l-1 0m14-1l-1 0m-105 6l0 1m34 2l0 1m60-3l-1 0m9 1l-1 0m-15 6l-1 0m-79 6l-1 1m14 0l-1 1m8-2l1 1m7-2l1 0m19 1l0 1m35-1l-1 0m-94 5l-1 0m23 2l0 1m14-3h0m27 0l1 0m5 0h0m21 2h0m-105 6l0 1m39-3l1 1m14 0l-1 1m7-1l1 0m40-1l0 1m-98 7h0m34 0h0m41-1h0m29 1l-1 0m-100 6l1 0m27 0l1 1m-20 3l1 1m14-1l-1 0m91-1h0m-115 9l1 1m40-1l1 1m35-1l0 1m36-1l-1 1m-80 5l1 1m3 4l-1 0m50 2l1 1m18-2l1 0m-93 4l-1 1m36-1l0 1m18 1h0m9-1h0m42 0l-1 0m-52 6l-1 0m8 1l-1 0m7-1h0m43 1h0m-58 6l0 1" stroke="#c4cae8" stroke-width="4.3" stroke-linecap="round"/><path d="M15 1l1 3m6-3l3 1m3-1l2 3m13-4l-2 2m65-1l1 1m4-2l-1 1m-96 6l-1 1m12-1l0 3m9-5l0 3m13-1l-2 2m8-2l1 2m8-2l-2 1m7-2l-3 2m11-1l2 3m11-3l-1 3m8-2l-1 2m7-4l1 3m6-2l0 3m15-5l2 2m-117 4l0 2m14-2l-3 1m16-1l2 1m12 0l2 2m5 0l0 2m22-5l2 0m6 3l1 2m34-2l0 2m-109 3l-1 2m16-1l2 1m33-2l-2 2m36-1l-1 2m22-3l2 2m-102 4l0 3m32-4l0 2m10 0l2 1m52-2l1 3m6-3l0 2m-116 2l2 3m35-2l1 2m51-2l-3 1m-88 7l2 1m19-3l-2 2m14-2l-2 1m24-2l2 2m5-1l0 3m8-3l3 1m18-1l0 2m6-1l1 2m-94 5l-2 1m9-3l1 3m20-3l-1 2m13-1l-1 3m8-5l-2 0m17 0l-3 1m10 1l-1 1m7-2l2 1m6 1l-2 2m22-5l0 2m-53 4l2 2m6-1l3 1m17 0l3 0m3-1l-2 1m24-2l0 2m-114 7l-2 3m71-4l1 1m22-2l0 2m5-2l1 2m18 0l-2 2m-105 2l2 0m8-1l-3 1m9 2l3 2m3-4l0 2m35-1l-2 0m8 1l-3 0m12-3l1 1m4 0l-3 1m10-1l0 3m23-3l0 2m-96 6l-1 1m24-2l-1 1m56-1l3 1m23 0l3 0m-117 4l2 2m61-1l3 2m17-1l-1 3m7-3l1 1m8-3l-2 2m14-1l1 2m-121 4l0 2m36-4l1 1m4 0l1 2m33 0l1 2m14-4l-1 1m8 2l1 3m7-5l2 0m-109 6l0 3m11-3l0 2m22-2l-1 3m28-2l1 2m6-1l-1 3m29-6l1 2m15-1l0 2m-108 5l-2 2m15-3l0 2m28-1l-1 0m8-2l2 1m3-1l-2 1m19 0l3 1m23-2l-1 1m7 1l-2 1m11-1l-3 1m14-1l1 2m-107 2l-1 2m15-1l-1 3m23-3l-2 1m8 1l-2 1m15-4l1 2m6-2l3 2m13-2l2 2m18-1l-1 3m7-2l-2 1m-86 5l-3 1m26-3l2 2m4 0l-3 0m31 0l-3 1m16-3l1 2m22-1l2 1m-109 4l2 2m17 0l1 3m8-3l2 2m2-4l2 3m32-1l1 1m6-3l0 3m8-2l-2 1m18 0l-2 1m-115 4l-2 1m18-1l2 0m4 1l3 0m3-1l-3 0m10-1l1 2m5 0l2 3m6-3l-1 3m43-4l2 1m26 0l3 0" stroke="#d47450" stroke-width="2.4" stroke-linecap="round" opacity="0.85"/><path d="M37 -1h0m34 1h0m14-1h0m12 0l-1 0m-92 7l-1 0m16 0l-1 0m-3 6l-1 0m15-1l-1 1m77-1l1 0m8 1l1 0m-83 6l0 1m9-1l-1 1m12-2h0m23 2h0m33 0l1 0m14-1l0 1m-121 5h0m33 0l-1 1m9-1l0 1m34-1h0m29 1l-1 0m-94 4l-1 1m10-1l-1 0m28 2l1 0m6 1l1 0m47-1l1 0m12-1h0m-73 6l0 1m37-2l-1 0m28 1h0m-80 7l1 0m90 1l0 1m-88 4l1 0m49-1l-1 0m20 1h0m22-1l-1 0m-78 6l1 1m11 1l-1 1m10-3h0m-59 8l0 1m101-3l0 1m17 1l-1 0m-115 4h0m20 2l1 1m19-1l-1 0m9-3l0 1m6 1l1 0m23-2l-1 0m27 2l-1 0m9 0h0m-100 7l1 0m24-2h0m35 0l1 1m-74 8l-1 0m78-2l-1 0m-65 6l1 0m6-1h0m15 0h0m49 1l0 1m14-2l1 0m17 2l1 0m-115 5l0 1m21 0l1 0m34-1l1 1m12 0l1 0m15-1h0m28 1h0m-75 4l-1 0m58 2h0m-58 5l1 0m53 2l-1 0m15-3h0m-81 7l-1 0m79-1h0m-53 9h0m13-3h0m7 1l-1 0m21 1l0 1m8-2l1 0m6 0h0m16 0l1 0" stroke="#a03818" stroke-width="6.8" stroke-linecap="round"/><path d="M78 0l-1 0m-34 13l-1 1m-42 3l0 1m71 5h0m12 6l-1 0m3 7l1 1m-87 5h0m20-1l1 1m75 0h0m-94 8l-1 1m9-2l1 0m9 4l0 1m7 1l0 1m83-2h0m-66 6l-1 0m25 7h0m-44 7l0 1m42-2l-1 0m22 0h0m-25 7h0m-10 5h0m-31 6l-1 0m62 0l1 1m-80 6h0m-5 5l0 1m7-2h0m16 2l-1 0m8-2l0 1m54 1l-1 0m-78 6l1 0m4-2l1 0m-2 6h0" stroke="#6c1606" stroke-width="7.0" stroke-linecap="round"/><path d="M37 -1h0m34 1h0m7 0l-1 0m8-1h0m12 0l-1 0m-92 7l-1 0m16 0l-1 0m-3 6l-1 0m15-1l-1 1m15 1l-1 1m63-3l1 0m8 1l1 0m-115 5l0 1m32 0l0 1m9-1l-1 1m12-2h0m23 2h0m33 0l1 0m14-1l0 1m-121 5h0m33 0l-1 1m9-1l0 1m28-2h0m6 1h0m29 1l-1 0m-94 4l-1 1m10-1l-1 0m28 2l1 0m6 1l1 0m28-3l-1 0m20 2l1 0m12-1h0m-73 6l0 1m37-2l-1 0m7 1l1 1m20-1h0m-107 6h0m20-1l1 1m6 1l1 0m68-1h0m22 2l0 1m-116 5l-1 1m9-2l1 0m19 0l1 0m49-1l-1 0m20 1h0m22-1l-1 0m-100 5l0 1m7 1l0 1m15-2l1 1m11 1l-1 1m10-3h0m47 0h0m-106 8l0 1m40-3l-1 0m62 0l0 1m17 1l-1 0m-115 4h0m20 2l1 1m19-1l-1 0m9-3l0 1m6 1l1 0m7 0h0m16-2l-1 0m27 2l-1 0m9 0h0m-100 7l1 0m5 0l0 1m19-3h0m23 1l-1 0m13-1l1 1m8 0h0m-82 8l-1 0m58-1h0m20-1l-1 0m-65 6l1 0m6-1h0m15 0h0m14 1h0m35 0l0 1m14-2l1 0m17 2l1 0m-115 5l0 1m16-1l-1 0m6 1l1 0m34-1l1 1m12 0l1 0m7-1l1 1m7-1h0m28 1h0m-115 6h0m40-2l-1 0m58 2h0m-102 5l0 1m7-2h0m16 2l-1 0m8-2l0 1m14 0l1 0m39 1l-1 0m15 1l-1 0m15-3h0m-107 8l1 0m4-2l1 0m20 1l-1 0m79-1h0m-100 6h0m47 3h0m13-3h0m7 1l-1 0m21 1l0 1m8-2l1 0m6 0h0m16 0l1 0" stroke="#fdf1ea" stroke-width="3.1" stroke-linecap="round"/></svg>
<rect x="1904.3" y="1396" width="120" height="119" fill="#9a9a9a" filter="url(#sh)"/><svg x="1902.8" y="1394.4" width="120" height="119"><g filter="url(#bl)"><use href="#q00" class="t4"/><use href="#q01" class="t4"/><use href="#q02" class="t3"/><use href="#q03" class="t4"/><use href="#q10" class="t4"/><use href="#q11" class="t3"/><use href="#q12" class="t2"/><use href="#q13" class="t3"/><use href="#q20" class="t4"/><use href="#q21" class="t3"/><use href="#q22" class="t2"/><use href="#q23" class="t2"/><use href="#q30" class="t4"/><use href="#q31" class="t2"/><use href="#q32" class="t2"/><use href="#q33" class="t2"/></g><path d="M62 0l1 0m9 1l1 0m-54 6l1 0m7-1l1 1m25-2l1 0m20 2l-1 1m-52 3l0 1m70-1l1 0m-94 8l0 1m56-1l1 1m5 0l-1 0m35 0h0m-46 3l0 1m15 1l-1 0m22 1l-1 0m37 0l1 1m-95 2l0 1m47 1l1 0m5 1l-1 0m39-1l0 1m-66 3l-1 0m19 2h0m-1 7l0 1m47-1h0m6-2l1 1m-106 4h0m42 1h0m18 1l1 1m16-1h0m10 0l1 0m6 0h0m-97 6h0m39-1l-1 0m10 1l1 0m4-1l0 1m23 0l-1 1m12-1l1 0m-29 5l-1 1m28 1h0m5-1l0 1m8-2l-1 1m7 0l1 1m-115 6l0 1m22-3l1 1m32 1l0 1m14-4l0 1m49 0l-1 1m-78 6l0 1m41 0l0 1m26-3h0m-114 7l1 0m37-2l0 1m6 0l-1 0m8 2l1 1m26-3l1 1m18-1l-1 1m9 0l-1 0m8 0l1 0m5 0l-1 0m-103 6l-1 1m42-1l0 1m20-1l1 1m11-2l0 1m16 0l-1 1m19-2h0m-84 7h0m19-1h0m16 1h0m39 2l-1 0m10-3l-1 0m-93 7h0m20-1l1 0m7 1l1 1m11 0l-1 0m15 0l-1 1m16-3l1 0m7 2l0 1m7-1l0 1m7-2l1 1m-94 5h0m48-1l1 1m4 0l-1 1m16-2l-1 1m-53 6l1 1m21-2l1 1m40 2l1 1m13-1l1 1m-108 4h0m30-1l1 0m52 1l1 1m22-3l0 1m13 1l-1 0" stroke="#c4cae8" stroke-width="4.3" stroke-linecap="round"/><path d="M2 1l3 1m37-1l-1 1m49 0l1 2m7-3l2 0m6-2l0 2m5-1l0 2m8-1l-2 2m-71 4l2 0m33-1l-2 0m8 0l0 2m30-2l3 1m-118 4l-1 2m8-2l2 3m31-1l0 2m20-1l-1 3m10-6l3 0m43 0l1 3m-113 5l0 3m13-3l-1 1m7-2l-1 2m15-1l-3 1m12-2l2 3m38-2l-3 1m38-1l-2 1m-120 3l-1 2m15-1l-2 1m9 0l-1 1m16-1l3 1m31-1l2 2m21-2l0 2m-88 4l-1 2m16-2l0 2m13-2l0 3m19-5l2 0m33 1l2 1m5-2l0 2m8-1l-1 3m8-4l-2 2m15 1l1 1m-122 5l-2 1m59-2l1 2m31-3l2 0m-88 6l-3 0m25 1l3 1m23 0l2 1m5-1l2 0m14-2l2 2m17-1l-1 2m9-1l-2 3m8-6l-2 1m-97 8l1 2m33-3l-2 1m8-3l-3 0m26 1l-1 2m27-2l-1 3m-98 5l2 0m24-2l-1 3m8-3l2 2m11-2l2 1m26-1l1 1m7 0l1 2m25-3l-1 1m17-1l3 1m-90 7l-2 2m8-2l2 2m5-2l-2 2m8-2l1 2m22-5l1 2m-80 6l2 0m19-1l-2 2m14 0l-2 1m9-3l-3 1m16 1l3 0m12-2l-1 2m16-3l-2 3m15-2l1 1m6 1l-1 1m7-2l3 1m6-1l2 2m-111 4l-2 1m16 0l-2 0m15-3l0 2m13 0l1 2m7-2l1 3m6-2l1 2m13-4l0 2m27 0l-2 0m18 0l-1 3m-95 2l-2 0m43-1l2 1m14 0l-2 0m-57 7l3 1m32-1l-1 1m55-1l0 2m-106 4l0 1m35-3l-3 1m36 1l-2 1m11-2l2 1m11-2l1 1m-94 7l1 1m4-3l-1 3m63-3l-2 2m17 0l-3 1m-77 3l2 1m19-1l3 0m3 1l2 1m21 0l-1 2m7-2l-1 1m62-1l2 2m-101 2l3 2m5 0l2 1m10-1l2 2m7-4l-2 1m13-1l-1 3m10-2l1 2m7-2l0 2m39-3l2 2m-68 5l-1 1m29-1l-2 1m15-1l0 2" stroke="#d47450" stroke-width="2.4" stroke-linecap="round" opacity="0.85"/><path d="M64 61l-1 0m29 23l0 1m-32 5l1 1m41 1h0m20 0h0m-40 11l-1 0m21 1l-1 0m16-2l0 1m-33 6l0 1m21-1l0 1m11 4l1 0" stroke="#c0583a" stroke-width="6.6" stroke-linecap="round"/><path d="M84 0l1 1m-25 5l-1 1m7-2h0m10 9l-1 1m10-4h0m-18 7h0m11 5l-1 1m21 1h0m-52 5l-1 1m14 0l1 0m8-2h0m-33 8l-1 0m10-1l1 0m17 0h0m35-1h0m15 1h0m-79 5l1 0m13 3h0m32-1l-1 0m-44 4l1 0m49 3l-1 1m-44 3l0 1m-10 7l1 1m61-1h0m-46 6l1 0m41-2h0m-59 19l-1 0m9 0l-1 0m7-1l-1 0m-17 8h0m23-2l-1 0m9 6l1 0m64 1l1 0m-83 5h0m-11 13l1 0m46 1l-1 1m28-3l-1 1" stroke="#a03818" stroke-width="6.8" stroke-linecap="round"/><path d="M8 -1l1 0m6 2h0m6-1l1 0m7-1h0m7 0l1 1m-41 7l0 1m9-3l1 0m6 0l1 0m19 3l0 1m7-4l-1 0m56 3h0m6-3l0 1m7 1h0m15 0l0 1m-107 5l0 1m15-1h0m20-1l1 0m5 0h0m43 2l1 0m5-3l0 1m7-1l0 1m-99 6l0 1m20-1h0m48 0l1 0m20 0l1 0m5-1l-1 0m9 2h0m-107 5h0m20-1l-1 1m15 0l1 0m11 0l1 0m49 1l-1 0m9 0l-1 0m-115 7l1 1m40-3l0 1m-29 5h0m5 1l1 0m8 0h0m5 0l1 0m77 0l0 1m13-3h0m-120 6l-1 0m13 1l1 0m5 2l-1 0m-15 3h0m20 1l1 1m7 0l1 0m87 0h0m-113 5l0 1m13 1l1 0m98-1l1 0m-117 6h0m7 0h0m9-1l-1 0m70-1l-1 0m-84 13l-1 0m16 1l0 1m13 0l1 1m41-4l1 1m27 0l1 0m-94 8h0m7 0h0m7-2h0m34 2h0m-39 4l0 1m-16 6h0m12 1l1 1m9-1h0m-4 5h0m19-1l0 1m-36 6h0m2 6l1 0m12-1h0m76 1l1 0m-94 6l0 1m13 0h0m8-2h0m40 1h0m8 2l1 0" stroke="#6c1606" stroke-width="7.0" stroke-linecap="round"/><path d="M8 -1l1 0m6 2h0m6-1l1 0m7-1h0m7 0l1 1m47 0l1 1m-89 6l0 1m9-3l1 0m6 0l1 0m19 3l0 1m7-4l-1 0m22 1l-1 1m7-2h0m28 3h0m6-3l0 1m7 1h0m15 0l0 1m-107 5l0 1m15-1h0m20-1l1 0m5 0h0m20 2l-1 1m10-4h0m14 3l1 0m5-3l0 1m7-1l0 1m-99 6l0 1m20-1h0m34 0h0m14 0l1 0m20 0l1 0m5-1l-1 0m9 2h0m-107 5h0m20-1l-1 1m15 0l1 0m11 0l1 0m22-1l-1 1m21 1h0m7 0l-1 0m9 0l-1 0m-115 7l1 1m40-3l0 1m8-1l-1 1m14 0l1 0m8-2h0m-59 7h0m5 1l1 0m8 0h0m5 0l1 0m6 0l-1 0m10-1l1 0m17 0h0m35-1h0m9 2l0 1m6-2h0m7-1h0m-120 6l-1 0m13 1l1 0m5 2l-1 0m17-3l1 0m13 3h0m32-1l-1 0m-77 4h0m20 1l1 1m7 0l1 0m4-2l1 0m49 3l-1 1m34-2h0m-113 5l0 1m13 1l1 0m21-2l0 1m77 0l1 0m-117 6h0m7 0h0m9-1l-1 0m14 2l1 1m34-2l-1 0m22-2l-1 0m7 3h0m-46 6l1 0m41-2h0m-87 6l-1 0m16 1l0 1m13 0l1 1m41-4l1 1m27 0l1 0m-94 8h0m7 0h0m7-2h0m34 2h0m-39 4l0 1m14 0l-1 0m9 0l-1 0m7-1l-1 0m51 0l0 1m-94 6h0m12 1l1 1m9-1h0m4 0h0m23-2l-1 0m14 0l1 1m41 1h0m20 0h0m-106 5h0m19-1l0 1m20-1l1 0m64 1l1 0m-122 6h0m39-1h0m44 1l-1 0m21 1l-1 0m16-2l0 1m-116 6l1 0m12-1h0m70 1l0 1m6-1l1 0m14 0l0 1m-108 5l0 1m13 0h0m8-2h0m9 1l1 0m30 0h0m8 2l1 0m7-1l-1 1m28-3l-1 1m16-1l1 0" stroke="#fdf1ea" stroke-width="3.1" stroke-linecap="round"/></svg>
<rect x="2048.5" y="1396" width="120" height="119" fill="#9a9a9a" filter="url(#sh)"/><svg x="2046.9" y="1394.4" width="120" height="119"><g filter="url(#bl)"><use href="#q00" class="t4"/><use href="#q01" class="t3"/><use href="#q02" class="t3"/><use href="#q03" class="t4"/><use href="#q10" class="t4"/><use href="#q11" class="t4"/><use href="#q12" class="t3"/><use href="#q13" class="t3"/><use href="#q20" class="t3"/><use href="#q21" class="t3"/><use href="#q22" class="t4"/><use href="#q23" class="t3"/><use href="#q30" class="t3"/><use href="#q31" class="t4"/><use href="#q32" class="t4"/><use href="#q33" class="t2"/></g><path d="M75 -1l-1 0m37 2h0m-67 4l1 0m35 2l-1 0m19 6l0 1m-93 3l-1 0m14 2l1 1m13-1l1 0m8 4l1 1m34 0l0 1m28-1l0 1m-100 4h0m49 2l0 1m12-2l-1 1m15-2l1 0m-31 9l1 0m32-2l-1 0m42 1l-1 0m-57 6l1 1m14-2l-1 1m6-1h0m23 0l1 0m4 2l1 1m-19 11l1 1m-83 3l0 1m71 1l1 0m4-1h0m-92 7l-1 1m22-1h0m13 0l-1 0m21 0l0 1m13 3l1 1m44 0l-1 1m-110 6l1 1m25-2l-1 0m70 1l-1 0m-86 5l0 1m8-1h0m26 1l1 1m14-3l-1 0m36 2l1 1m19-1h0m8 0l1 1m4-1l-1 0m-36 5l-1 1m30 0h0m-87 6h0m22-2l-1 0m56 1l0 1m13-2l0 1m-44 6l-1 0m34 0l-1 0m8-1l1 0m7 1l1 0m-109 5l1 0m90 2l-1 1m8-1l-1 0m-108 5l-1 1m72-1l1 1m33 0l1 1" stroke="#c4cae8" stroke-width="4.3" stroke-linecap="round"/><path d="M8 -1l-1 2m34 0l1 1m6-2l3 1m12-2l0 3m5-2l-3 1m31-1l-1 3m10-2l-2 2m20-1l-1 2m-104 1l-2 3m7-1l-1 1m18-2l-3 1m27-2l0 3m22-2l-3 1m11 0l-1 2m15-2l-1 1m-106 3l1 2m26-1l0 3m27-2l2 0m11-1l-1 2m9-2l-1 3m29-4l0 2m6-1l-3 1m-83 6l1 3m13-3l2 0m13-2l-2 0m34 2l0 2m16-4l-2 2m8-1l-3 2m-82 4l2 1m4 0l1 2m19-2l2 1m4 0l0 3m7-6l-1 2m10 0l1 2m26-3l-1 2m13 0l2 1m-52 3l-3 1m17 0l-3 0m23-1l-1 3m7-4l-2 0m17 0l0 2m-112 6l-3 2m28-2l3 1m25-3l1 3m8 0l0 2m13-5l-1 1m27 0l3 2m4-1l-2 3m-104 3l2 2m10-1l-2 3m12-5l0 2m6 0l0 2m26-3l-1 2m35-1l-2 3m-91 2l1 2m69-1l1 2m21-2l-2 1m7-2l2 3m6-4l-2 1m-85 7l1 2m42-4l1 3m4-2l2 0m33-2l0 2m8-1l-2 2m7 0l-3 0m10-2l1 3m-114 4l0 2m21-3l1 2m4-2l2 2m7-1l-2 3m8-2l-3 1m17-1l-2 1m38-3l2 2m4 0l-1 3m20-4l-1 2m-37 2l2 3m7-1l2 0m3-2l-1 2m9-1l0 2m9-2l-1 1m-107 6l-1 2m9-2l-3 2m15-3l-2 1m8 1l-2 2m16-2l1 2m6-4l-3 0m65 1l-3 1m-54 5l-2 0m22-1l2 2m20-2l-3 2m14 0l0 2m-112 5l2 1m25-4l2 0m34 1l2 1m32-3l-1 1m7 0l2 2m-67 4l1 2m19-2l-1 2m14 0l-2 1m31-2l3 0m2-1l-2 1m16-1l-2 0m-118 9l-3 1m10-2l-3 0m18-2l3 1m17 1l3 1m66-3l3 1m9 0l-2 0m-123 7l-2 1m8-1l-2 2m8-4l-2 3m11-1l2 2m16-3l2 1m55 0l-2 1m-86 3l2 3m15-2l2 1m22 1l-1 1m51-2l1 2m-100 2l-2 0m21 3l0 3m20-4l-2 0m32 1l1 1m12-2l-2 1m8-3l1 2m8-2l-2 1" stroke="#d47450" stroke-width="2.4" stroke-linecap="round" opacity="0.85"/><path d="M117 109l0 1" stroke="#c0583a" stroke-width="6.6" stroke-linecap="round"/><path d="M27 1l0 1m30-2h0m27-1l-1 1m-53 6l0 1m42-2l1 0m-31 6l-1 0m23 2h0m28 0l1 0m-35 6h0m16-2l1 1m6 2l1 0m11-2l-1 1m-58 5l1 0m55 0l1 0m-45 5h0m40 3l0 1m21-4l-1 0m15 2l-1 0m-23 4l1 1m19-1l0 1m4 5h0m-44 9l1 1m5-1l1 1m27-1l1 1m-40 4l0 1m9-1l-1 0m8-2l1 0m-89 6l1 0m56 0l1 1m53 1l1 1m4-2l-1 0m-104 7h0m12-1h0m17 1l1 1m3-1l1 1m15 0l-1 0m61 0l1 1m-101 3l1 0m21-1l-1 0m50 2l1 0m6-1l0 1m7-1l0 1m-101 7l1 0m7 0h0m6-2l1 0m11 1l1 1m21-2l-1 0m35 1l-1 0m37 0l-1 0m-87 5l-1 0m-22 8l0 1m7-3l0 1m6 0l-1 0m7 0l1 0m14 0l1 0m-10 6h0m50 8l-1 1m-84 2l1 1m27-1l0 1m60 0l-1 0m-78 8l1 0m13-1l0 1m8-2h0" stroke="#a03818" stroke-width="6.8" stroke-linecap="round"/><path d="M2 0h0m13 0h0m7-1l-1 0m97 1l-1 0m-119 7h0m4-2l-1 1m11 1l-1 0m43-1h0m4 0h0m41-1l1 0m13 1l-1 0m10-1h0m-113 7l1 1m5 0h0m6-2h0m14 3l-1 1m84-4l0 1m-108 6l1 1m36-1l0 1m18 1h0m48-2l-1 1m9 0l-1 0m-119 7l-1 0m13-2h0m71 1h0m40-2l1 0m-113 7h0m4 0l1 0m8 1l0 1m5-1l-1 0m-22 6h0m8 1l1 0m27-1h0m-46 6h0m41-1h0m7 0l0 1m6-2l1 0m21 2l0 1m26-1l0 1m-93 4h0m8-1l0 1m9 1h0m5-2h0m8 3h0m7 0l-1 0m6-3l1 1m6 1l1 1m7-1l0 1m-59 5h0m6 1h0m15 0l0 1m7-3l0 1m5-1l-1 0m9 2l-1 0m9-1l1 1m-32 5l1 0m-19 5h0m61 0h0m6 1h0m10 1l-1 0m-81 4l-1 0m71 2l1 1m5-3h0m8 1l-1 0m-42 6l0 1m6-2h0m21 0l-1 0m40 0l-1 0m-83 6l-1 0m28 0l-1 0m22 1l0 1m7 0l0 1m6-1l-1 1m-77 5l-1 0m48-1l0 1m15-2l1 0m10 1l0 1m15-2h0m-36 6l1 0m3 1l-1 0m8 0l0 1m10-2h0m18 0h0m-52 9h0m10 0h0m4-2l1 0m43 0l1 0m-68 6l-1 0m8 1l1 0m13 0l-1 0m6-2l0 1m9 1h0m14-2l-1 0m-36 6h0m5 2l1 0m7 1h0m41-1l-1 0m20-2l-1 0" stroke="#6c1606" stroke-width="7.0" stroke-linecap="round"/><path d="M2 0h0m13 0h0m7-1l-1 0m6 2l0 1m30-2h0m27-1l-1 1m35 0l-1 0m-119 7h0m4-2l-1 1m11 1l-1 0m19-1l0 1m24-1h0m4 0h0m14-1l1 0m26 0l1 0m13 1l-1 0m10-1h0m-113 7l1 1m5 0h0m6-2h0m14 3l-1 1m8-4l-1 0m23 2h0m28 0l1 0m25-2l0 1m-108 6l1 1m36-1l0 1m11 0h0m7 1h0m9-3l1 1m6 2l1 0m11-2l-1 1m21-1l-1 1m9 0l-1 0m-119 7l-1 0m13-2h0m21 0l1 0m49 1h0m6-1l1 0m33-1l1 0m-113 7h0m4 0l1 0m8 1l0 1m5-1l-1 0m17-2h0m40 3l0 1m21-4l-1 0m15 2l-1 0m-113 6h0m8 1l1 0m27-1h0m54-2l1 1m19-1l0 1m-120 7h0m41-1h0m7 0l0 1m6-2l1 0m21 2l0 1m26-1l0 1m22-3h0m-115 7h0m8-1l0 1m9 1h0m5-2h0m8 3h0m7 0l-1 0m6-3l1 1m6 1l1 1m7-1l0 1m14 0l1 1m5-1l1 1m27-1l1 1m-108 4h0m6 1h0m15 0l0 1m7-3l0 1m5-1l-1 0m9 2l-1 0m9-1l1 1m18-1l0 1m9-1l-1 0m8-2l1 0m-89 6l1 0m21 2l1 0m34-2l1 1m53 1l1 1m4-2l-1 0m-111 6h0m7 1h0m12-1h0m17 1l1 1m3-1l1 1m15 0l-1 0m6-2h0m6 1h0m10 1l-1 0m40 0l1 1m-122 3l-1 0m22 0l1 0m21-1l-1 0m28 3l1 1m5-3h0m8 1l-1 0m9 0l1 0m6-1l0 1m7-1l0 1m-101 7l1 0m7 0h0m6-2l1 0m11 1l1 1m9-1l0 1m6-2h0m6 0l-1 0m16 0l-1 0m20 1l-1 0m21-1l-1 0m17 1l-1 0m-99 5l-1 0m13 0l-1 0m16 0l-1 0m22 1l0 1m7 0l0 1m6-1l-1 1m-77 5l-1 0m7 0l0 1m7-3l0 1m6 0l-1 0m7 0l1 0m14 0l1 0m6 0l0 1m15-2l1 0m10 1l0 1m15-2h0m-57 7h0m21-1l1 0m3 1l-1 0m8 0l0 1m10-2h0m18 0h0m-52 9h0m10 0h0m4-2l1 0m27 2l-1 1m17-3l1 0m-102 5l1 1m27-1l0 1m6 0l-1 0m8 1l1 0m13 0l-1 0m6-2l0 1m9 1h0m14-2l-1 0m6 1l-1 0m29 0l0 1m-107 7l1 0m13-1l0 1m8-2h0m15-1h0m5 2l1 0m7 1h0m41-1l-1 0m20-2l-1 0" stroke="#fdf1ea" stroke-width="3.1" stroke-linecap="round"/></svg>
<rect x="1183.6" y="1550.9" width="120" height="119" fill="#9a9a9a" filter="url(#sh)"/><svg x="1182" y="1549.3" width="120" height="119"><g filter="url(#bl)"><use href="#q00" class="t4"/><use href="#q01" class="t2"/><use href="#q02" class="t1"/><use href="#q03" class="t4"/><use href="#q10" class="t3"/><use href="#q11" class="t2"/><use href="#q12" class="t1"/><use href="#q13" class="t4"/><use href="#q20" class="t2"/><use href="#q21" class="t4"/><use href="#q22" class="t2"/><use href="#q23" class="t3"/><use href="#q30" class="t3"/><use href="#q31" class="t3"/><use href="#q32" class="t4"/><use href="#q33" class="t4"/></g><path d="M62 0h0m6-1l0 1m9 1l-1 0m8 0h0m7-1l-1 0m7-1l1 1m-61 6l-1 1m9-1l1 0m5 1l-1 1m31-1l0 1m-53 5l0 1m22-3l-1 0m20 0l-1 0m14 2l-1 0m15-2h0m-100 6l-1 0m28 3l1 1m20-4l-1 1m8-1l0 1m15 0l0 1m5 0l0 1m8-1l0 1m13-3l1 0m-64 6l-1 1m19 0l0 1m-8 6h0m20 1h0m20-1l1 1m-79 3l1 0m73 1l1 0m6 1h0m9-2h0m-82 8l0 1m9-2h0m15 1l1 0m13-1l1 1m5 0l-1 0m14-2l1 1m5 0l1 0m13 2l-1 0m8 0l-1 1m7-2l-1 1m-77 6l-1 0m7-1h0m7-2l1 1m21 1l0 1m6-3l1 0m5 0l-1 1m9 0h0m-58 8l-1 1m8-1l1 1m33-3l0 1m22-1l-1 0m12-1l-1 0m-50 8l-1 1m16-2h0m6 0l-1 0m9 0l1 1m20 1l0 1m-86 4l0 1m4-1l0 1m7-3h0m37 2l0 1m26 0h0m35 0l0 1m-113 3l-1 1m35 0l0 1m27-2l1 0m19 2l-1 1m16-3h0m-95 7l1 1m8-1h0m54-1l-1 1m10-2l1 0m17 1l1 1m-94 5l0 1m14 0l-1 1m58-2h0m6 1l-1 1m6-1l-1 1m17-1h0m6 0h0m14-1l1 1m-120 8h0m47-3h0m-30 6l1 1m53 0l-1 0m55-1l-1 1m-62 7h0m-40 5l0 1m8 1l-1 1m9-3h0m47 0l1 0m12 1l1 1m-87 4l1 0m20 0l-1 1m44-2l1 0m33 3l1 0" stroke="#c4cae8" stroke-width="4.3" stroke-linecap="round"/><path d="M8 2l-1 2m28-5l-2 2m7-3l-1 1m10 2l-2 0m10-1l-3 1m63-2l-3 0m-98 5l-1 2m10 1l-1 1m9-2l2 3m57-5l3 0m-89 8l2 1m26-1l-1 2m23-2l2 3m3-4l-2 1m29 1l-2 2m17-3l-1 2m16-2l-2 2m-78 6l2 2m18-5l-1 1m-56 6l-1 1m8-2l0 1m5 0l-3 1m9 1l-2 0m16-2l0 3m10-2l0 2m11-2l2 1m6-1l-2 1m24-2l1 2m17-1l1 1m-99 4l1 2m13-3l-2 2m7 0l3 1m4 0l-3 0m18-3l-1 1m8-1l2 3m13-1l0 3m6-4l3 0m30 1l1 2m14-3l-2 1m-113 5l-2 0m31 0l1 2m4-2l-3 0m19 1l-2 1m16-1l-2 2m41-4l2 2m-86 5l2 3m10-4l0 3m22-2l-2 0m23 1l-1 1m27-1l-2 1m-103 5l-2 1m43-3l3 1m5-1l0 2m45 1l-2 3m26-3l0 2m-116 2l-2 0m29-1l1 3m12-2l2 1m6-1l1 2m21-2l2 1m10 1l2 2m21-4l1 3m13-1l2 1m-116 4l2 1m24-2l2 3m40-1l3 0m4-1l-2 0m15-1l-2 2m17-2l2 2m-116 6l-2 2m35-4l-2 0m16 0l-2 0m52 0l3 0m2 0l0 3m-84 2l0 3m6-2l1 3m26-3l-3 2m24 0l-1 2m9-2l3 1m25-1l-1 1m6-2l-1 1m-92 5l-2 1m10-3l-2 1m34 0l2 2m41-1l2 0m4-2l0 3m-86 3l2 1m7 1l-2 2m6-2l-3 0m13 0l-2 1m15 0l2 2m31-2l1 3m20-3l-3 2m-90 2l1 1m14-1l-1 2m6-2l-1 3m30-1l-2 1m8-3l-3 0m37 1l-3 2m-96 3l-1 2m34-2l2 2m8 0l1 3m3-3l-3 1m45-3l2 0m7 0l-3 2m-86 7l2 3m19-5l1 2m6-2l1 2m28-1l-3 2m51-4l0 3m-71 4l3 0m1-1l-1 2m8-1l-1 2m43-3l-1 3m9-2l-3 1m9-2l-2 1m-111 7l-2 2m14-3l2 1m21-1l0 2m6 0l1 2m5-5l2 1m13 1l3 1m9-1l-2 0m24 0l3 1m11-3l3 0m5 0l-3 0" stroke="#d47450" stroke-width="2.4" stroke-linecap="round" opacity="0.85"/><path d="M65 6l-1 0m21 12l-1 0m-7 7h0m5 24l1 1m-17 18l0 1" stroke="#c0583a" stroke-width="6.6" stroke-linecap="round"/><path d="M100 7l0 1m-24 5l-1 0m16 11h0m7 1h0m-86 4l1 0m81 0h0m-74 8l1 0m6-1h0m69 2l1 0m-89 9l0 1m82 2l-1 0m-78 5l1 1m28-1l1 0m59 1h0m-51 3l-1 0m56 1h0m-79 7l0 1m14 0l-1 0m20 0l-1 0m49-2h0m14-1l1 0m-94 8l1 0m61-1l1 0m-52 8h0m14-3l-1 0m64 4l-1 0m7-4h0m-74 7l1 0m-37 6l1 0m12 0l1 0m27 1l-1 0m37-1l-1 0m7 1h0m7 2h0m20-2h0m-60 7l0 1m29-3l-1 1m-80 5h0m15 0l1 0m5 3l-1 1m21-2h0m15-2l1 0m-60 8h0m7 1l-1 0m14 4l1 0" stroke="#a03818" stroke-width="6.8" stroke-linecap="round"/><path d="M1 0l-1 0m15 0l1 1m5-1l-1 0m83 0l0 1m7-2h0m-112 7l0 1m5-1l1 0m5 2h0m98-1h0m15 1l-1 1m-120 3l1 0m20-1h0m88 0l0 1m-107 7h0m7-1l1 1m8 0l0 1m87-2h0m8 1l1 0m5-1h0m-50 5l-1 1m43 1l1 0m3 0l0 1m7-1h0m-22 4h0m13 3l-1 0m-66 3h0m58 3h0m13-2l1 0m-7 5l-1 0m-97 7l-1 0m91 0h0m8-1l0 1m-116 6h0m118-1h0m-101 8h0m105 0l-1 1m-109 9l1 1m32 2h0m77 0h0m-86 3h0m12 3l-1 0m-35 6l0 1m-5 5h0m55 0h0m21-2h0m36 2h0m-114 6l-1 1m27 0l-1 0m56-1l1 0m29-2l1 0m-116 8l-1 0m82 0l0 1m7-3h0m10 1h0m4 2h0m8-1h0m7 0l1 1m-115 5l1 0m42 0l1 0m47 1h0m-33 6h0m28-2h0m7-1l0 1" stroke="#6c1606" stroke-width="7.0" stroke-linecap="round"/><path d="M1 0l-1 0m15 0l1 1m5-1l-1 0m83 0l0 1m7-2h0m-112 7l0 1m5-1l1 0m5 2h0m56-2l-1 0m36 1l0 1m7-1h0m15 1l-1 1m-120 3l1 0m20-1h0m54 2l-1 0m35-2l0 1m-107 7h0m7-1l1 1m8 0l0 1m66-2l-1 0m22 0h0m8 1l1 0m5-1h0m-50 5l-1 1m8 1h0m14-1h0m7 1h0m14 0l1 0m3 0l0 1m7-1h0m-111 4l1 0m81 0h0m7 0h0m13 3l-1 0m-93 5l1 0m6-1h0m20-1h0m49 3l1 0m8 0h0m13-2l1 0m-7 5l-1 0m-103 6l0 1m6 0l-1 0m69 1l1 1m7 0l-1 0m15-2h0m8-1l0 1m-116 6h0m15 1l1 1m28-1l1 0m59 1h0m14-3h0m-101 8h0m36-2l-1 0m56 1h0m14 1l-1 1m-92 5l0 1m14 0l-1 0m20 0l-1 0m9 0l0 1m40-3h0m14-1l1 0m-113 6l1 1m18 1l1 0m13 1h0m48-2l1 0m28 2h0m-86 3h0m6 3h0m6 0l-1 0m9-3l-1 0m64 4l-1 0m7-4h0m-113 9l0 1m39-3l1 0m-45 8h0m8-2l1 0m12 0l1 0m27 1l-1 0m7 1h0m21-2h0m9 0l-1 0m7 1h0m7 2h0m14-1h0m6-1h0m-120 7l-1 1m27 0l-1 0m35-1l0 1m21-1l1 0m7-2l-1 1m23-1l1 0m-116 8l-1 0m13-2h0m15 0l1 0m5 3l-1 1m21-2h0m15-2l1 0m12 2l0 1m7-3h0m10 1h0m4 2h0m8-1h0m7 0l1 1m-115 5l1 0m5 0h0m7 1l-1 0m31-1l1 0m47 1h0m-65 4l1 0m31 2h0m28-2h0m7-1l0 1" stroke="#fdf1ea" stroke-width="3.1" stroke-linecap="round"/></svg>
<rect x="1327.8" y="1550.9" width="120" height="119" fill="#9a9a9a" filter="url(#sh)"/><svg x="1326.2" y="1549.3" width="120" height="119"><g filter="url(#bl)"><use href="#q00" class="t5"/><use href="#q01" class="t3"/><use href="#q02" class="t3"/><use href="#q03" class="t4"/><use href="#q10" class="t4"/><use href="#q11" class="t4"/><use href="#q12" class="t3"/><use href="#q13" class="t4"/><use href="#q20" class="t3"/><use href="#q21" class="t4"/><use href="#q22" class="t3"/><use href="#q23" class="t3"/><use href="#q30" class="t3"/><use href="#q31" class="t3"/><use href="#q32" class="t3"/><use href="#q33" class="t3"/></g><path d="M0 -1l-1 0m58 2l0 1m28-2l1 0m-31 6l1 1m5-1l0 1m49-1l-1 1m14 1l1 0m-75 5l0 1m13-3l1 1m57 1l0 1m-61 3l1 0m63 2l1 0m-39 6l1 0m-18 7h0m7-1l0 1m8-2l1 0m-19 7l1 1m4-3l-1 0m-1 7l1 0m5-1h0m48 3l-1 0m-57 6h0m-52 4l-1 0m20 0l0 1m22-1l-1 1m8-1h0m14-1h0m27 1l0 1m-93 7l1 1m76-3l-1 0m15 0l1 0m20 1l1 1m-31 6l-1 0m7-2h0m26 1l1 1m-120 6l1 0m33-2h0m35 1l-1 1m21-2l0 1m20-1l-1 0m-114 8l1 0m15-1h0m48-1l-1 1m7 1h0m55-1l1 0m-115 5l0 1m28 0l1 1m40-1l-1 1m44 0l1 0m-94 6l-1 1m7-1l-1 0m50-1l0 1m-81 5l1 1m8-1l1 0m54 1l1 0m5-1l0 1m21-1l-1 0m6 0l1 1m14-1l0 1m8 0l0 1m-115 5l-1 0m14-2l0 1m91 2l1 1m-103 4h0m51-1h0m5 0l0 1m54-2h0m-105 6h0m35 3l0 1m5-1l0 1m70-3h0" stroke="#c4cae8" stroke-width="4.3" stroke-linecap="round"/><path d="M10 1l1 3m18-4l0 2m8-2l-1 3m34-4l1 2m20-1l-3 2m9-2l1 3m6-4l3 1m11 0l-3 0m-102 5l-2 1m27 1l2 1m27-2l-1 3m21-3l-1 2m29-2l-3 1m-97 5l-2 1m29-1l0 2m14-1l-2 1m37-1l3 1m-62 5l-1 2m16-2l1 1m18-2l1 2m6-2l-1 3m10-1l3 1m11-2l-1 3m15-3l0 2m-81 4l1 1m20-1l-1 3m6-2l0 1m7-3l0 2m8-3l-3 0m9 0l-2 3m18-2l-1 3m6-3l-3 2m18-2l-2 1m9-1l-3 0m-117 7l1 1m4-1l2 0m39 0l3 0m12-1l-1 3m41-3l-3 1m12-2l-3 1m-103 8l-3 1m9-3l0 3m5-4l-1 1m24 2l3 2m3-2l1 2m6-5l0 2m42 0l3 1m2-1l2 0m-73 6l2 1m34-1l2 2m22-2l-3 1m12 0l1 2m5-4l0 3m-63 2l1 1m4-1l2 2m26 1l0 3m6-4l2 0m6-1l0 2m5-2l-3 1m26 1l-1 2m-115 2l-1 2m9 0l-1 2m35-4l-1 3m30-1l2 2m12-3l-2 1m7 0l2 0m34-3l-2 0m-120 8l-1 3m16-3l1 1m18-2l-2 2m17 0l1 2m40-2l2 2m13-4l-2 2m7-1l-2 0m-103 4l-1 2m8 0l-3 1m37 0l1 1m4-2l-3 1m31-3l-1 1m22 0l1 1m5 0l-1 2m-98 5l0 3m8-3l2 0m4-1l0 3m7-4l1 2m33-1l2 1m13-1l-1 3m42-3l-3 0m-82 7l1 1m18-3l-1 3m44-3l-2 1m9 1l0 2m13-2l3 1m-119 5l-3 0m18-2l-3 0m80 1l-2 1m7-1l0 2m8-3l-1 1m8 1l-3 0m-110 4l0 3m5-3l3 1m12 1l2 1m18-1l2 0m12 0l0 2m13-2l2 2m6-3l-2 0m23-1l1 3m5-2l0 3m21-2l2 3m-94 2l0 2m14 0l0 2m12-4l3 2m25-2l2 1m-89 6l3 1m13-2l-1 3m20-2l-1 1m36-3l0 3m22-2l2 2m4-1l1 1m5-1l1 1m14-3l-2 0m9 1l1 2m-110 3l-3 1m33 0l0 2m27-1l-2 0m16-1l-2 1m7-2l-1 3m9-2l-1 1m15-1l-1 1m-104 4l3 0m15 3l-3 0m10-3l2 0m42 0l0 3m6-2l-1 2m7 0l-2 3m10-6l2 0m3 2l1 2m5-3l1 3m6-4l0 3" stroke="#d47450" stroke-width="2.4" stroke-linecap="round" opacity="0.85"/><path d="M51 0l0 1m26 0l-1 0m0 6l0 1m5-2l1 0m-44 6h0m34 0l0 1m4-1h0m7 0l1 0m-46 7l-1 0m17-2l0 1m34-1h0m-35 13h0m36 0h0m-7 12l-1 0m15 13h0m-73 7h0m41-2l0 1m7 1l1 0m6-1l-1 0m-77 6h0m61 1l0 1m12-3l-1 1m-14 5l1 0m24 2h0m21 0h0m-78 5h0m49-2l1 0m33 1h0m-87 6l0 1m6 0l-1 0m24 0h0m5 0l0 1m29-2l0 1m-72 7l1 1m46-3l0 1m27-1l0 1m23 1h0m5 0l1 1m-94 6l1 0m12-1h0m43 0l0 1m26-1l-1 0m-62 6l-1 0m8-1l1 0m4-1l-1 0m-51 8h0m22-1l-1 0m13 0l-1 1m17 0l-1 0m28-2h0m27 0h0" stroke="#a03818" stroke-width="6.8" stroke-linecap="round"/><path d="M16 1l0 1m26-1h0m71-1l0 1m-114 5l-1 1m7-1l-1 1m15-2l-1 1m9-1h0m7 0l0 1m62-1l0 1m7 1h0m-103 4l0 1m8 0l0 1m15-1h0m6 0l1 0m70 0l1 1m11 0l0 1m-115 4l-1 1m9-1l1 0m6 1h0m6-1h0m7 1l-1 0m77-2l-1 0m-98 7l-1 0m8-1l-1 0m6 2l-1 1m10 0h0m15-2l1 0m66-1l-1 0m-93 8l1 0m6-1l1 0m7 0l1 0m5 1l0 1m63 0h0m19-2l1 0m7 2l1 0m-102 4l1 0m8 2h0m48-2l0 1m28 0h0m6-1h0m6 0l-1 0m-120 7h0m10 0h0m4-1l1 0m8 0l0 1m12 0h0m9 0l-1 1m5 0l-1 0m9-2l1 0m55 1h0m6-1h0m-108 6l0 1m9-1l1 0m31-1l0 1m8-1h0m43 3l1 1m6-3h0m-86 6l0 1m6-1l0 1m20-1l-1 1m62 0l-1 1m9-1l-1 0m-71 5l1 0m-25 7l-1 0m9-1l1 0m22 8l-1 0m48-1l1 0m-94 6h0m14 0h0m28 0h0m17 5l1 0m6 2h0m-23 4l1 0m-33 7l0 1m36-1h0m9 6h0m-29 8l-1 0m10 3h0" stroke="#6c1606" stroke-width="7.0" stroke-linecap="round"/><path d="M16 1l0 1m26-1h0m9-1l0 1m26 0l-1 0m37-1l0 1m-114 5l-1 1m7-1l-1 1m15-2l-1 1m9-1h0m7 0l0 1m42 1l0 1m5-2l1 0m14-1l0 1m7 1h0m-103 4l0 1m8 0l0 1m15-1h0m6 0l1 0m8 0h0m34 0l0 1m4-1h0m7 0l1 0m16 0l1 1m11 0l0 1m-115 4l-1 1m9-1l1 0m6 1h0m6-1h0m7 1l-1 0m14 0l-1 0m17-2l0 1m34-1h0m13 0l-1 0m-98 7l-1 0m8-1l-1 0m6 2l-1 1m10 0h0m15-2l1 0m66-1l-1 0m-93 8l1 0m6-1l1 0m7 0l1 0m5 1l0 1m21-2h0m36 0h0m6 2h0m19-2l1 0m7 2l1 0m-102 4l1 0m8 2h0m48-2l0 1m28 0h0m6-1h0m6 0l-1 0m-120 7h0m10 0h0m4-1l1 0m8 0l0 1m12 0h0m9 0l-1 1m5 0l-1 0m9-2l1 0m28 0l-1 0m28 1h0m6-1h0m-108 6l0 1m9-1l1 0m31-1l0 1m8-1h0m43 3l1 1m6-3h0m-86 6l0 1m6-1l0 1m20-1l-1 1m51 0h0m11 0l-1 1m9-1l-1 0m-91 7h0m20-2l1 0m20 0l0 1m7 1l1 0m6-1l-1 0m-77 6h0m19 0l-1 0m9-1l1 0m33 2l0 1m12-3l-1 1m-22 7l-1 0m9-2l1 0m24 2h0m14-1l1 0m6 1h0m-100 5h0m14 0h0m8 0h0m20 0h0m29-2l1 0m33 1h0m-87 6l0 1m6 0l-1 0m24 0h0m5 0l0 1m7-2l1 0m6 2h0m15-2l0 1m-72 7l1 1m33-3l1 0m12 0l0 1m27-1l0 1m23 1h0m5 0l1 1m-101 4l0 1m7 1l1 0m12-1h0m16-1h0m27 1l0 1m26-1l-1 0m-62 6l-1 0m8-1l1 0m4-1l-1 0m8 1h0m-59 7h0m22-1l-1 0m9 2l-1 0m5-2l-1 1m17 0l-1 0m28-2h0m27 0h0m-65 6h0" stroke="#fdf1ea" stroke-width="3.1" stroke-linecap="round"/></svg>
<rect x="1471.9" y="1550.9" width="120" height="119" fill="#9a9a9a" filter="url(#sh)"/><svg x="1470.3" y="1549.3" width="120" height="119"><g filter="url(#bl)"><use href="#q00" class="t3"/><use href="#q01" class="t3"/><use href="#q02" class="t3"/><use href="#q03" class="t4"/><use href="#q10" class="t3"/><use href="#q11" class="t3"/><use href="#q12" class="t4"/><use href="#q13" class="t4"/><use href="#q20" class="t3"/><use href="#q21" class="t3"/><use href="#q22" class="t4"/><use href="#q23" class="t4"/><use href="#q30" class="t2"/><use href="#q31" class="t3"/><use href="#q32" class="t3"/><use href="#q33" class="t3"/></g><path d="M18 0l-1 1m7-1l0 1m48-1h0m-16 6l1 1m54 0l-1 0m-106 5h0m7 1l1 0m40 0l1 0m-46 5l1 0m69 1l1 1m-26 5l1 0m26-2l1 1m-67 5l-1 0m35 2l-1 1m16-2l-1 0m8 0l-1 1m8 0l1 1m-61 4h0m9 0h0m34 1l1 1m60-2l-1 1m-120 5l-1 0m49 1l1 0m15-2l-1 0m25 9h0m-87 6l-1 1m34-1h0m8-2l0 1m47-1l-1 0m9 1l0 1m6-3l0 1m-85 5l1 1m82 2l1 1m-101 5l-1 0m16-1l0 1m20-1l1 0m53-2l-1 1m-80 8h0m48 5h0m5 1h0m-63 4l1 0m4 0l1 1m5 0l-1 0m10-1l1 1m32-1h0m49 0l-1 0m-79 6l-1 0m7 0l1 0m7 2l-1 1m21-1h0m21-2h0m34 2h0m-106 6l0 1m8 0l1 0m12-3l1 1m40 1l0 1m21-2h0m-85 7l1 1m11-1l1 1m14-3l0 1m7-1l1 1m13 1l1 0m61 1l-1 1m13-2l-1 1m-119 4l-1 0m9 2l1 0m12-1l-1 1m22-1l-1 1m7-3l1 1m5 1l0 1m50-1h0m-102 5l1 0m7 0l-1 1m7-2h0m27 0l-1 1m32-1l1 0m39 3l-1 0" stroke="#c4cae8" stroke-width="4.3" stroke-linecap="round"/><path d="M-4 -1l2 2m31 0l-1 2m11-2l-2 1m8-2l-3 1m42-2l-1 1m23-1l-1 3m8-2l-1 3m8-2l-1 2m-77 2l1 2m20-1l-1 3m7-1l-2 0m14-3l-2 1m10 1l0 2m6-1l-3 0m12-3l3 0m10 0l-1 2m6-1l-2 1m-102 5l2 0m11 0l-1 3m14-3l-1 3m30-1l-3 2m10-3l-1 3m34-4l0 2m-114 3l1 2m14 0l2 2m11-4l-2 0m8 2l1 1m77-2l2 2m4-2l0 2m-100 4l0 2m7-2l-1 1m16 0l3 0m42-2l-1 1m9-1l3 1m25 2l-2 1m-119 2l3 2m81-2l1 1m25 0l1 2m-114 5l-2 2m15-2l-1 2m28-3l1 1m8 1l1 3m5-3l2 1m27-1l-3 0m16 0l0 3m8-5l-1 1m-65 7l0 2m21-3l-2 0m20-1l-1 1m36 0l2 0m-101 7l1 2m13-5l0 2m6 1l1 2m27-4l3 2m4-1l1 1m46-1l-1 2m-55 3l3 1m59 0l0 3m5-4l-1 2m-113 5l-2 1m16-2l-1 2m7-3l2 1m20 0l0 2m14 0l-2 2m24-5l1 1m-69 7l2 2m7-3l-3 1m17 1l1 3m6-5l-1 2m15-3l2 1m5 0l-1 2m6 0l1 1m-78 3l-1 3m7-2l0 2m12-2l-2 1m17-1l0 2m7-1l2 1m5-2l2 2m13-1l1 2m4-5l-2 0m21 1l-1 2m23-1l2 2m-88 3l-1 2m9 0l-2 0m8-1l1 1m34 0l-2 1m8-3l-2 2m23-3l2 2m12 0l-1 3m13-4l-3 1m-75 7l2 3m26-5l-1 2m7-1l-2 1m37-2l-2 2m9-1l1 2m-74 3l2 2m13-1l2 2m4-1l1 2m-73 2l0 2m48-2l-2 1m9-1l2 2m18-2l3 1m27-1l0 3m6-2l2 0m-89 6l-2 0m37 1l-2 0m37 0l2 1m-26 4l-1 3m6-2l-2 1m16-1l2 1m4-3l3 2m6-2l-2 1m-97 5l-1 2m35 1l-1 3m62-5l-1 2" stroke="#d47450" stroke-width="2.4" stroke-linecap="round" opacity="0.85"/><path d="M3 1h0m8-1l0 1m49-2l0 1m6 1l1 0m13-2h0m-66 6h0m13 1h0m8 0l-1 1m13-2h0m27 0l-1 1m-51 7h0m16-2l1 0m46 2l-1 0m-65 4l0 1m30 0l1 0m18 0l1 1m12 1l1 1m8-1l0 1m-86 2l-1 0m28 1l1 0m13-1h0m26 1h0m-44 7l1 1m5-2l0 1m7 0h0m15-1h0m-51 5h0m11 7l0 1m5-1h0m21 0l1 0m-4 6h0m-33 8l-1 0m15 0l-1 0m29-2h0m16-1l0 1m-27 8l1 0m8-2h0m12 2l-1 0m-49 4l1 0m-10 13l0 1m24 6l0 1m9-3h0m7 2h0m-38 6h0m7-1h0m6 0l-1 0m28 0l-1 0m44 1l1 1m11 0l0 1m9-3l0 1m-89 5l1 0m41 0l1 1m11 6l-1 1m7-2l0 1m8 0l1 0m12 1l0 1m7-4l-1 1m15 2l1 0m-87 4l-1 1m48 0l1 0m40-1l1 0m-79 5l0 1m12-1l1 1m36 0l-1 0m20-1h0m15 2l1 1" stroke="#a03818" stroke-width="6.8" stroke-linecap="round"/><path d="M94 -1h0m-89 8l-1 1m60 3l-1 0m30 0l1 0m12 2l0 1m13-2h0m-65 6h0m43-1l1 1m6 2l0 1m19-1l0 1m-22 3l0 1m5 0h0m8 0l-1 1m-106 3l1 0m81 2h0m6-1l0 1m22 1l-1 0m-52 5l-1 0m23 1l1 0m19-2l0 1m9 0l-1 1m-86 4l1 0m39 0l0 1m14 1l1 0m7-1h0m5 1h0m9-3h0m11 0h0m-118 8l1 1m19-3l1 0m61 2h0m15 0l1 1m10-1l-1 0m17 1l-1 0m-107 6l0 1m57-1h0m7-1h0m6 1l1 0m-80 3l0 1m68 1l-1 0m21 0l0 1m14-2h0m15 0l1 1m-40 4h0m15 2l1 0m4 0l-1 0m8 0l1 0m8 1l-1 0m-95 5l0 1m28 0l0 1m23-3l1 0m5 2l-1 0m14-1l0 1m8-1h0m14 1l1 1m4-3l-1 1m-110 6l1 0m6-1h0m34 0h0m41 1h0m13 0h0m14 1h0m-57 4h0m25 1l1 0m20-1l1 1m-70 12h0m83 1h0m-124 12l0 1m108 5l1 1" stroke="#6c1606" stroke-width="7.0" stroke-linecap="round"/><path d="M3 1h0m8-1l0 1m49-2l0 1m6 1l1 0m13-2h0m14 0h0m-89 8l-1 1m10-3h0m13 1h0m8 0l-1 1m13-2h0m27 0l-1 1m-51 7h0m16-2l1 0m25 0l-1 0m22 2l-1 0m9-2l1 0m12 2l0 1m13-2h0m-100 5l0 1m30 0l1 0m4 0h0m14 0l1 1m12 1l1 1m8-1l0 1m7-4l1 1m6 2l0 1m19-1l0 1m-119 2l-1 0m28 1l1 0m13-1h0m26 1h0m30 0l0 1m5 0h0m8 0l-1 1m-106 3l1 0m19 2l1 1m5-2l0 1m7 0h0m15-1h0m34 1h0m6-1l0 1m22 1l-1 0m-112 3h0m60 2l-1 0m23 1l1 0m19-2l0 1m9 0l-1 1m-99 4l0 1m5-1h0m8 0l1 0m12 0l1 0m26 0l0 1m14 1l1 0m7-1h0m5 1h0m9-3h0m11 0h0m-118 8l1 1m19-3l1 0m20 1h0m41 1h0m15 0l1 1m10-1l-1 0m17 1l-1 0m-115 6l-1 0m9 0l0 1m6-1l-1 0m29-2h0m16-1l0 1m7 2h0m7-1h0m6 1l1 0m-80 3l0 1m32 2l1 0m8-2h0m12 2l-1 0m16-1l-1 0m21 0l0 1m14-2h0m15 0l1 1m-115 5l1 0m74-1h0m15 2l1 0m4 0l-1 0m8 0l1 0m8 1l-1 0m-95 5l0 1m28 0l0 1m23-3l1 0m5 2l-1 0m14-1l0 1m8-1h0m14 1l1 1m4-3l-1 1m-120 6l0 1m10-1l1 0m6-1h0m34 0h0m41 1h0m13 0h0m14 1h0m-95 6l0 1m9-3h0m7 2h0m22-2h0m25 1l1 0m20-1l1 1m-107 7h0m7-1h0m6 0l-1 0m28 0l-1 0m44 1l1 1m11 0l0 1m9-3l0 1m-89 5l1 0m21 0h0m20 0l1 1m62 0h0m-51 6l-1 1m7-2l0 1m8 0l1 0m12 1l0 1m7-4l-1 1m15 2l1 0m-122 5l0 1m35-2l-1 1m48 0l1 0m40-1l1 0m-79 5l0 1m12-1l1 1m36 0l-1 0m15 1l1 1m4-3h0m15 2l1 1" stroke="#fdf1ea" stroke-width="3.1" stroke-linecap="round"/></svg>
<rect x="1616" y="1550.9" width="120" height="119" fill="#9a9a9a" filter="url(#sh)"/><svg x="1614.5" y="1549.3" width="120" height="119"><g filter="url(#bl)"><use href="#q00" class="t4"/><use href="#q01" class="t4"/><use href="#q02" class="t4"/><use href="#q03" class="t4"/><use href="#q10" class="t4"/><use href="#q11" class="t4"/><use href="#q12" class="t3"/><use href="#q13" class="t3"/><use href="#q20" class="t4"/><use href="#q21" class="t4"/><use href="#q22" class="t4"/><use href="#q23" class="t3"/><use href="#q30" class="t3"/><use href="#q31" class="t4"/><use href="#q32" class="t4"/><use href="#q33" class="t3"/></g><path d="M7 0l1 1m34-2l1 1m-37 5l1 0m5 2l0 1m21-2l1 0m55 0l1 0m-27 7l-1 1m-64 4h0m15 0h0m59-1l1 1m-38 6l1 1m-37 5l0 1m41-2l-1 1m56 0h0m21-1l1 1m-73 7h0m5-2l1 1m41 1l1 0m20-1l0 1m-94 5l-1 1m64-1l-1 1m13-1l1 1m-87 5l1 1m43 1l1 0m10-1l0 1m36 0l1 0m20 0l1 0m-123 5l0 1m76-3l1 0m21 3l-1 1m14-2l-1 1m15 0h0m-78 6l-1 1m55-3l-1 1m7 0l-1 1m15 0h0m-58 4l1 0m54 0l1 1m-120 5l-1 1m14 1l0 1m88-3l1 0m-74 6l0 1m56 1l1 0m35-1h0m8-1l-1 1m-80 7h0m55-2l1 1m19 2l0 1m-107 2h0m62 2l-1 1m-15 6h0m21 0l1 0m4-2l-1 0m29 1l-1 1m-83 4l-1 1m63-2l0 1m26-1l1 1m-114 7l1 1m5-2l0 1m99 0l1 1m-111 4l1 0m13 1h0m15-1l-1 1" stroke="#c4cae8" stroke-width="4.3" stroke-linecap="round"/><path d="M1 -1l1 3m29-2l3 1m52-2l1 2m31 0l1 3m-122 4l3 0m103-3l0 3m6-1l1 2m11-1l1 2m-122 3l-2 2m24-2l0 2m34-1l-3 1m45-3l-1 1m-45 6l1 2m50-3l2 1m3 0l2 1m6-3l1 2m4-1l-1 1m-118 6l3 1m9 0l-1 2m37-5l2 1m4 0l-3 1m38 0l0 2m-80 3l0 3m9-1l2 2m3-4l-1 2m44-2l2 3m3-2l0 3m9-3l1 1m39 0l-3 1m-104 2l2 2m6 0l-2 1m14-3l-2 2m31-1l-1 1m8 0l0 2m14-2l2 0m13 1l-3 1m8-2l3 1m-102 5l-2 3m6-3l-1 2m17-2l-2 1m10 0l3 2m22-2l0 3m16-3l-1 2m14-4l-1 1m29-2l-2 0m-99 9l-3 2m17-4l0 2m14-2l0 2m14-2l-2 1m16 1l1 2m39-4l1 1m-107 6l-2 0m8-2l0 2m21 1l-2 3m86-4l-2 1m-63 5l-1 2m7-2l0 2m29-2l1 2m4-1l1 1m-74 5l-3 0m23-1l-1 2m17-4l-1 2m28 0l0 3m22-2l2 1m-103 5l3 0m31 0l2 0m13-2l-2 2m9-1l-3 1m7-1l-1 2m18-3l-1 1m7-1l1 1m18-2l1 1m12 1l1 1m-113 5l2 2m5-3l1 2m7-2l-2 0m51 1l-2 1m8-2l0 2m13-2l0 2m12-3l-2 1m-91 8l2 0m7-1l1 2m4-3l-3 1m11-2l2 1m18 1l-2 2m30-3l-2 2m15 0l1 2m20-2l-2 2m-89 2l3 1m10 0l-3 1m24-1l-1 1m6-2l-2 0m22 1l-3 0m18-1l-1 1m22 1l0 2m7-2l2 2m-88 3l-1 3m70-3l3 1m-89 4l1 2m28-1l-3 1m35-1l-2 1m30 1l-3 1m-75 3l3 2m18-3l0 2m7-2l-2 1m36 0l1 2m-61 4l1 1m6 1l1 3m6-6l-2 1m10-1l-2 0m16 0l2 1m17 1l-2 0m17-1l1 2m5-1l0 2m7-4l0 2m6 0l0 3" stroke="#d47450" stroke-width="2.4" stroke-linecap="round" opacity="0.85"/><path d="M108 31h0m-30 5l1 0m-11 6l1 0m39 1h0m-29 4l1 0m5 2l0 1m7-1l1 0m-26 6l-1 0m15 1l1 1m20-3h0m-32 5h0m7 1l0 1m12 6l-1 0m8-2h0m13 0l-1 1m13-1h0m-8 7l1 0m-21 8l1 1m-88 10h0m81 1l0 1m14-3h0m-98 6l0 1m7 0l0 1m19-1l-1 0m69 0l1 1m20-2l0 1m-106 7l-1 0m20-1l-1 1m64 0h0m8-1l0 1m20-1l1 0m-102 6l0 1m76 0l0 1m14-1h0m-106 5l1 0m89 0l1 0" stroke="#a03818" stroke-width="6.8" stroke-linecap="round"/><path d="M16 1l1 0m5-1l1 0m12-1l-1 0m15 1h0m9 2l0 1m4-4l-1 1m9-1l-1 1m10 2l1 0m10-1l-1 0m11-1h0m4 1h0m9-2l-1 0m-94 8l1 1m21 0h0m7-1l1 0m6-1l0 1m7 0h0m13-1h0m22 0l1 0m17-1h0m-106 7h0m6 0h0m15 0h0m8 0l1 0m4 1h0m6-1l1 1m21-2h0m7 1l0 1m14-1l0 1m14-2h0m8 3l1 0m5-2l1 0m-114 7l-1 0m13-1h0m7 0l0 1m9 0l0 1m12-2l0 1m15-1l1 0m6 0h0m12 1h0m9 1h0m5-3l-1 0m-97 7l-1 0m13 0h0m15 0l1 1m18-2l-1 1m24 1h0m6 0h0m5 1l1 1m7-4l-1 0m15 2l1 0m5-2h0m15 2l1 0m-116 6l1 0m27-1l-1 0m15 0h0m6 0l-1 1m10-2l1 0m26 2l1 0m13-2h0m-99 6l1 0m5 2l1 0m21 0h0m24 1l-1 0m-56 4h0m43 1l1 1m5 0l-1 0m7-2h0m48-1h0m20 0h0m-125 8l1 0m4-1h0m22 1h0m14-1l0 1m-18 7l-1 0m9-2h0m27 0h0m6 2l0 1m29-3l0 1m-87 7l-1 0m7 0h0m7-2h0m6 1l-1 0m9-2h0m7 0l-1 0m28 1l1 0m-64 8l-1 0m7-2l1 0m5 1l-1 0m15-2l1 1m4 1l0 1m16-1h0m20 1l-1 0m7-3l-1 1m-57 6l1 0m7 1h0m7-1h0m14 2l0 1m28-3h0m-74 7l-1 0m35 0h0m7-1h0m8 0l1 0m6 0l-1 0m8 2l-1 0m49-2h0m-73 7l-1 1m23 0l1 1m6-2l1 0m3-1l-1 0m16 2h0m-45 5l-1 1m7-2l0 1m21 1h0m-43 5l0 1m21-2l-1 1m6 1l1 0m20 0l-1 0m-64 5l1 0m34 1l0 1m12-2l1 0m6-1l1 1m6 1h0m-29 5l1 0m5 2l0 1m20-3h0m7-1l-1 1m8 0l1 1m5-1l-1 0m-23 7l1 0m15-1l1 0m6 1l0 1" stroke="#6c1606" stroke-width="7.0" stroke-linecap="round"/><path d="M16 1l1 0m5-1l1 0m12-1l-1 0m15 1h0m9 2l0 1m4-4l-1 1m9-1l-1 1m10 2l1 0m10-1l-1 0m11-1h0m4 1h0m9-2l-1 0m-94 8l1 1m21 0h0m7-1l1 0m6-1l0 1m7 0h0m13-1h0m22 0l1 0m17-1h0m-106 7h0m6 0h0m15 0h0m8 0l1 0m4 1h0m6-1l1 1m21-2h0m7 1l0 1m14-1l0 1m14-2h0m8 3l1 0m5-2l1 0m-114 7l-1 0m13-1h0m7 0l0 1m9 0l0 1m12-2l0 1m15-1l1 0m6 0h0m12 1h0m9 1h0m5-3l-1 0m-97 7l-1 0m13 0h0m15 0l1 1m18-2l-1 1m24 1h0m6 0h0m5 1l1 1m7-4l-1 0m15 2l1 0m5-2h0m15 2l1 0m-116 6l1 0m27-1l-1 0m15 0h0m6 0l-1 1m10-2l1 0m26 2l1 0m13-2h0m6 2h0m-105 4l1 0m5 2l1 0m21 0h0m24 1l-1 0m24-2l1 0m-81 6h0m43 1l1 1m5 0l-1 0m7-2h0m15 0l1 0m32-1h0m7 2h0m13-2h0m-125 8l1 0m4-1h0m22 1h0m14-1l0 1m42-2l1 0m5 2l0 1m7-1l1 0m-74 7l-1 0m9-2h0m27 0h0m6 2l0 1m7-2l-1 0m15 1l1 1m7-3l0 1m13-1h0m-100 8l-1 0m7 0h0m7-2h0m6 1l-1 0m9-2h0m7 0l-1 0m28 1l1 0m6-1h0m7 1l0 1m-77 7l-1 0m7-2l1 0m5 1l-1 0m15-2l1 1m4 1l0 1m16-1h0m20 1l-1 0m7-3l-1 1m17 1l-1 0m8-2h0m13 0l-1 1m13-1h0m-106 7l1 0m7 1h0m7-1h0m14 2l0 1m28-3h0m41 0l1 0m-116 7l-1 0m35 0h0m7-1h0m8 0l1 0m6 0l-1 0m8 2l-1 0m33 0l1 1m15-3h0m-73 7l-1 1m23 0l1 1m6-2l1 0m3-1l-1 0m16 2h0m-78 5h0m33 0l-1 1m7-2l0 1m21 1h0m21 0l0 1m14-3h0m-98 6l0 1m7 0l0 1m13-1l0 1m6-1l-1 0m16-1l-1 1m6 1l1 0m20 0l-1 0m28-1l1 1m20-2l0 1m-113 6l1 0m6 1l-1 0m20-1l-1 1m10 0l0 1m12-2l1 0m6-1l1 1m6 1h0m28 0h0m8-1l0 1m20-1l1 0m-102 6l0 1m16-1l1 0m5 2l0 1m20-3h0m7-1l-1 1m8 0l1 1m5-1l-1 0m15 1l0 1m14-1h0m-106 5l1 0m53 1l1 0m15-1l1 0m6 1l0 1m13-2l1 0" stroke="#fdf1ea" stroke-width="3.1" stroke-linecap="round"/></svg>
<rect x="1760.2" y="1550.9" width="120" height="119" fill="#9a9a9a" filter="url(#sh)"/><svg x="1758.6" y="1549.3" width="120" height="119"><g filter="url(#bl)"><use href="#q00" class="t4"/><use href="#q01" class="t2"/><use href="#q02" class="t2"/><use href="#q03" class="t3"/><use href="#q10" class="t4"/><use href="#q11" class="t2"/><use href="#q12" class="t3"/><use href="#q13" class="t2"/><use href="#q20" class="t2"/><use href="#q21" class="t2"/><use href="#q22" class="t3"/><use href="#q23" class="t3"/><use href="#q30" class="t2"/><use href="#q31" class="t3"/><use href="#q32" class="t3"/><use href="#q33" class="t2"/></g><path d="M17 1l-1 0m15-2l-1 1m8 0l1 0m4-1l-1 1m10 0h0m61 1l1 1m-115 4h0m13 0l1 1m36-2l-1 1m6 0h0m14-1l-1 0m50 0l0 1m6 0l1 0m-127 6l-1 1m77-1l-1 0m8-1l1 0m18 0l1 0m-61 8l1 0m16-1l-1 1m6-2l1 1m6 2l-1 1m23-2l1 1m6-1h0m6-2l0 1m8 0l-1 0m-60 7l0 1m16-3l-1 0m21 0l-1 1m15 1l-1 1m-57 4h0m20-1h0m7 3l-1 0m14-2l-1 1m-30 5l1 1m8 1l1 1m24-1l1 0m14-2h0m13 1l-1 0m-99 4l1 0m27 0h0m63 2l1 0m12-2l1 1m-73 8l-1 1m13-3l-1 0m8 1h0m9 0l1 0m4 0l-1 0m23 0h0m14-2l1 1m-108 8l0 1m6-1l-1 0m27-1l-1 0m18 1l-1 0m7-2l0 1m6-1l1 0m21 2h0m12-3l0 1m9-1l1 1m4-1l-1 1m-79 7l0 1m22-2l1 0m5-1l0 1m57 0l0 1m-113 5l0 1m61 0l-1 1m13-1l-1 1m8-1l0 1m8 0l-1 1m-85 3l-1 1m8 0l-1 0m13-1h0m14-1h0m8 1l1 1m21-1h0m35 2h0m7-1l0 1m4-2l1 1m-108 6h0m28 0l1 1m12-1l1 0m36 2l1 0m-66 5h0m34-2h0m26 1l0 1m7-1l-1 0m10 0l0 1m-102 4h0m84 1l1 1m39 0l1 0m-86 7h0m5-1h0m37-1l1 1m19 0l1 1m5-2l1 0m7 0l1 0m-115 6l1 0m48 1l0 1m41-2l0 1m7-1l1 1m6 1l1 1m5-4l0 1m6 1l1 0m-115 5h0m70 1l-1 1m13-2h0m17 1l-1 1m12 0l1 1m-106 3h0m5 0l0 1m9-1l0 1m7 0l1 0m12 0l1 0m32 1l-1 0m43-1l1 1" stroke="#c4cae8" stroke-width="4.3" stroke-linecap="round"/><path d="M-3 1l-2 0m62 0l2 1m7-2l2 0m3 1l-1 1m8-2l-2 2m11-2l1 3m18-3l2 1m-100 7l3 1m9-1l-2 1m16-2l-2 0m42-2l0 2m7-2l3 1m18 1l2 1m5-1l2 1m-103 6l3 0m14 0l0 2m6-4l2 0m6 0l-2 1m8 0l-2 2m23-4l1 1m54-1l-1 2m-99 5l-2 1m6-1l2 2m5-2l2 1m15 1l-1 1m26-4l0 2m8-1l-2 1m42-2l1 3m-85 6l-2 1m7-2l3 1m47-2l2 0m19 2l0 2m5-4l0 3m-118 4l-2 2m20-2l-2 2m10-2l-1 1m7-1l-1 3m15-5l-2 0m11 0l2 2m40-1l-3 2m23-2l3 0m1 2l2 1m-101 5l-2 1m16-2l3 2m3-1l-2 1m25-2l1 3m4-3l2 1m5 0l-3 1m30-1l3 2m12-5l1 3m-116 5l2 2m21-3l1 1m25 0l-1 1m9-2l2 1m4-1l2 0m19 0l2 1m5 0l0 2m14-3l2 2m-108 5l-3 1m49-1l2 2m53-1l2 0m12-1l3 2m-87 3l-2 2m43-2l-1 2m-73 4l3 1m6-1l2 3m3-2l0 2m35-3l1 2m34-3l0 2m20-1l2 1m-96 7l-1 2m9-4l3 2m12-2l1 2m80-2l-1 1m-92 6l0 2m14-3l-1 1m50 0l0 2m14-1l0 2m-100 3l1 3m20-4l1 2m11-1l0 3m15-4l2 2m19-2l-2 2m49 0l-2 0m-110 6l0 3m27-3l2 3m10-4l-2 1m11-1l-2 1m15 0l2 1m6-1l-2 1m-58 6l-1 2m21-5l-1 3m9-2l-2 0m24 1l-2 1m8-2l1 2m19-2l1 1m7-2l1 2m5 1l-2 0m10-2l2 3m3-2l-2 3m-111 4l0 2m21-4l-2 1m9 1l0 2m19-4l-1 2m16-1l-1 2m22-4l-2 1m38 1l-1 3m-115 2l-3 1m16 0l-2 2m23-1l1 3m15-5l-1 2m20-2l-2 0m9 0l1 3m-73 3l-2 2m35-1l-2 2m16-1l2 3m46-3l-1 1m17-3l-3 2m-83 4l1 2m24-1l-1 2m8-4l3 1m20 1l1 1m18-2l-2 1m16 1l2 0" stroke="#d47450" stroke-width="2.4" stroke-linecap="round" opacity="0.85"/><path d="M59 12h0m27-1h0m-40 31l-1 0m2 25l1 0m-10 18l-1 1m-16 5l1 1m2 19l1 1m-27 3h0m97 0l1 0m7 2l0 1" stroke="#c0583a" stroke-width="6.6" stroke-linecap="round"/><path d="M22 0h0m5 4l-1 0m71 2h0m-47 5l0 1m57 1h0m7 0h0m-90 10l1 0m6 2h0m40 0h0m21 12l1 1m-11 5l1 0m10 6l-1 0m-91 7l-1 1m26-3h0m58-1h0m39 1h0m-92 7l-1 1m68 0l1 1m14-2h0m-50 4l-1 0m41 0l1 0m-40 7l1 0m15 1l-1 0m12 0l-1 1m-82 5l1 1m18-2l1 1m46 1l-1 1m9-2l-1 0m14 0l0 1m8-2l-1 0m-76 13l-1 0m46 6h0m-38 7l-1 1m30 0l-1 0m7-3l0 1m-38 5l-1 1m35 0l1 0m13-1h0m13 2l-1 0m-36 5l-1 1m28 1l-1 0" stroke="#a03818" stroke-width="6.8" stroke-linecap="round"/><path d="M10 -1h0m110 1l-1 0m-59 6l1 1m-58 4l0 1m15 1l0 1m-12 5h0m8 0l0 1m-17 3l1 0m10 2l0 1m9-2l1 0m-13 6h0m9 0l0 1m62-2l1 1m27-1l0 1m-100 6l-1 1m14 0l1 0m13-2l1 1m-33 7l1 0m19-2l0 1m104 2h0m-126 6l-1 0m13-2l0 1m13 0h0m7-2l-1 0m21 7h0m46-1h0m-25 9l1 1m5 3h0m35-1h0m-54 7l-1 0m5 8l0 1m44 5l-1 0m16 0l1 0m-110 12h0m48 0l1 1m33-1l1 0m-66 6h0" stroke="#6c1606" stroke-width="7.0" stroke-linecap="round"/><path d="M10 -1h0m12 1h0m98 0l-1 0m-92 4l-1 0m34 2l1 1m36-1h0m-94 5l0 1m15 1l0 1m32-3l0 1m9 0h0m27-1h0m21 2h0m7 0h0m-108 6h0m8 0l0 1m-17 3l1 0m10 2l0 1m9-2l1 0m6-1l1 0m6 2h0m40 0h0m-66 5h0m9 0l0 1m62-2l1 1m27-1l0 1m-100 6l-1 1m14 0l1 0m13-2l1 1m60 1l1 1m-94 5l1 0m19-2l0 1m27 0l-1 0m37 1l1 0m40 1h0m-126 6l-1 0m13-2l0 1m13 0h0m7-2l-1 0m65 2l-1 0m-91 7l-1 1m26-3h0m23 0h0m35-1h0m11 0h0m28 1h0m-92 7l-1 1m40 0l1 1m27-1l1 1m14-2h0m-66 6l1 0m15-2l-1 0m14 1h0m27-1l1 0m7 0h0m-54 7l-1 0m8 0l1 0m15 1l-1 0m12 0l-1 1m-82 5l1 1m18-2l1 1m33 1l0 1m13-1l-1 1m9-2l-1 0m14 0l0 1m8-2l-1 0m-64 7l-1 1m68 0l-1 0m16 0l1 0m-100 5l1 1m4-1l-1 0m-14 7h0m48 0l1 1m11-2h0m22 1l1 0m-66 6h0m5 0l-1 1m30 0l-1 0m7-3l0 1m-44 8l1 1m5-4l-1 1m35 0l1 0m13-1h0m13 2l-1 0m-92 5h0m56 0l-1 1m28 1l-1 0m15-2l1 0m7 2l0 1" stroke="#fdf1ea" stroke-width="3.1" stroke-linecap="round"/></svg>
<rect x="1904.3" y="1550.9" width="120" height="119" fill="#9a9a9a" filter="url(#sh)"/><svg x="1902.8" y="1549.3" width="120" height="119"><g filter="url(#bl)"><use href="#q00" class="t3"/><use href="#q01" class="t3"/><use href="#q02" class="t3"/><use href="#q03" class="t3"/><use href="#q10" class="t2"/><use href="#q11" class="t3"/><use href="#q12" class="t3"/><use href="#q13" class="t3"/><use href="#q20" class="t3"/><use href="#q21" class="t2"/><use href="#q22" class="t2"/><use href="#q23" class="t3"/><use href="#q30" class="t3"/><use href="#q31" class="t2"/><use href="#q32" class="t3"/><use href="#q33" class="t3"/></g><path d="M73 -2l-1 0m34 2l1 0m12-1l1 1m-65 5l1 0m6 0l1 1m42-1h0m4 0l-1 0m8 3l0 1m6-3l-1 1m-92 7l-1 0m37-2h0m28 0l1 1m-73 5l-1 1m43-2l0 1m38-1l-1 1m-104 5l-1 1m48-1h0m42 3l-1 1m-86 4l0 1m42-2l0 1m16-2l-1 0m67 1l-1 1m-22 6h0m21-1h0m-121 5l-1 0m9 2l0 1m7-2l1 0m11 1l1 1m55-3l1 1m20 2l1 1m14-3l0 1m-121 7l-1 0m5 0l-1 0m10-1l-1 1m14-2h0m9 0l1 1m53 1l1 0m-81 3l0 1m15 2l1 0m20-1l1 0m-13 4l-1 1m31 0l-1 1m25-1l1 1m21 0l-1 1m-92 4l1 1m5-1l-1 0m17 0l-1 1m13-1h0m21 2l-1 0m43-3l-1 0m-107 7l0 1m48 1l1 0m28-1l0 1m8-1l0 1m-82 4l-1 0m43 3l-1 0m23-3h0m53 2h0m-112 6l1 1m19-1l-1 0m17-1l1 1m5-2l1 1m5 0l1 1m19 0l1 0m21-2l-1 1m9-1l0 1m-75 7l-1 0m10 0h0m5-2l-1 1m9 0l1 1m7 0l-1 1m26-2l0 1m-77 6l-1 0m13-1l-1 1m16-2l0 1m7 0l-1 0m36 1l0 1m28 0l1 0m5-2l1 1m-109 4h0m13 3l-1 1m16-4l0 1m12-1l-1 1m18 1l1 0m5-1l1 0m27 1l0 1m-79 4l0 1m55-1l-1 1m7 0h0m21-2l0 1m-101 7l1 1m8-2l-1 0m20 0h0m14-1l0 1m12 2l-1 0m16-1l0 1m35-1l1 1" stroke="#c4cae8" stroke-width="4.3" stroke-linecap="round"/><path d="M2 0l-3 0m18-1l-1 2m9 0l3 0m2 1l1 3m22-5l-1 2m12-1l2 2m20-2l-1 1m7-1l-1 3m9-4l3 1m-89 6l1 2m12-2l-1 3m42-2l1 2m5-3l-1 0m24 0l1 2m-95 2l0 3m19-3l0 2m17-1l0 2m6-1l-1 1m7-3l-1 3m9-2l0 2m54-3l-2 1m9 0l0 3m-115 4l2 1m7-2l-2 2m14-1l3 0m4-2l-2 2m43 0l2 2m7-2l-1 3m12-5l-2 1m18 2l0 3m6-5l-1 3m-97 5l2 0m5-1l-2 2m7-4l-2 2m10-2l-2 2m16 0l-3 1m8-1l-1 2m8-4l-2 0m11 0l2 1m18 2l1 3m-86 0l2 1m16 1l3 1m5-1l-2 1m50-2l1 1m33 0l-1 2m-106 3l3 2m17 0l1 3m7-4l3 1m4-2l-2 3m8-1l2 2m7-4l1 3m6-2l-2 3m7-2l1 2m8-4l2 2m10-1l0 3m16-3l-3 1m8 0l2 1m-95 3l2 3m25-2l-1 3m15-4l0 3m9-2l1 3m19-2l2 0m31-1l-2 1m-83 3l1 1m6 0l-3 1m16-1l3 0m30 1l-2 0m24 0l2 1m-117 3l-2 1m51 0l2 1m25 0l1 1m28-2l2 2m4 0l1 1m-100 5l2 2m4-4l-2 2m30-1l1 1m7 0l1 1m14-2l-2 3m6-4l-1 2m30-1l-1 3m13-4l-2 2m-102 5l0 2m32-3l1 2m19-2l0 3m16-2l-2 0m9-2l-2 0m14 2l2 0m-67 7l1 3m6-4l1 3m5-3l1 1m15-2l-1 1m6-1l-1 0m7 2l-1 2m44-4l3 1m3 0l2 0m-121 5l2 2m19-2l-3 1m10 0l-3 2m15-1l-1 2m15-3l2 0m4 1l3 1m34-1l-2 1m8-1l-1 2m-78 2l2 2m38 1l-1 2m8-5l-2 2m18-1l1 3m6-4l0 3m18-1l1 1m6-1l1 1m-120 3l2 2m3-2l3 0m6 3l2 0m5-2l1 1m52-1l-2 2m9-2l2 0m14-1l-2 3m22-3l2 0m-115 7l2 1m11-2l1 2m14 0l0 2m41-4l3 2m16-2l-1 2m30-2l0 3m-120 3l2 1m25 1l0 3m13-3l-2 1m49-3l1 2m13 0l-3 1m9-2l-1 3m11-3l2 1m-118 4l3 0m25 1l0 3m9-3l0 2m12-3l2 2m12-1l-1 3m28-4l-1 1m-79 5l-2 1m23 0l-2 1m17-2l2 1m13-1l2 3m10-1l2 3m12-4l0 3m28-3l2 0" stroke="#d47450" stroke-width="2.4" stroke-linecap="round" opacity="0.85"/><path d="M57 97h0" stroke="#c0583a" stroke-width="6.6" stroke-linecap="round"/><path d="M8 -1l-1 1m30-1l-1 0m23 2h0m20-1l1 0m32-1h0m-113 8h0m34-1h0m16 1h0m24 5l-1 0m35-1l1 0m-59 8h0m18-2l-1 0m57 0l-1 1m-118 8l1 1m73-1l-1 0m21-1l-1 1m16-2h0m-92 5l-1 1m27 2h0m22-2h0m7 1l1 0m20-1l-1 1m13 1l0 1m-87 4h0m13 6l-1 0m8 1l-1 0m15-2l1 0m38 1h0m15-2h0m-92 9h0m32-2l1 0m15 1h0m4-1h0m10 2l-1 0m21-1h0m20 0l0 1m-94 6l-1 0m10-2l1 1m18 0l-1 1m14-2l1 0m15 2l0 1m35-1l-1 1m-80 3h0m42-1l-1 0m15 1h0m-94 5h0m57 2l1 0m58 1l1 0m-107 3l1 1m8-1l-1 1m8 1l-1 0m67 0l-1 0m18-1h0m-96 6l0 1m106 1l-1 1m-101 3l1 0m10 8h0m24 7h0m-38 4l-1 1m69-1l0 1m4 4l1 1m21 1h0m-24 6h0m27 0h0" stroke="#a03818" stroke-width="6.8" stroke-linecap="round"/><path d="M43 1h0m-23 6l-1 0m-4 7l1 1m63-2l1 0m5-2h0m3 6l-1 0m32 9h0m-58 4l-1 0m29 1l0 1m14-1h0m-17 4l1 1m-63 26l0 1m78 4l1 0m-101 19l1 0m65 4l0 1m42 0l-1 0m-22 5l1 1m-32 7h0m-47 7l-1 0m17-1l0 1m95-2h0m-100 5h0" stroke="#6c1606" stroke-width="7.0" stroke-linecap="round"/><path d="M8 -1l-1 1m30-1l-1 0m7 2h0m16 0h0m20-1l1 0m32-1h0m-113 8h0m21 0l-1 0m14-1h0m16 1h0m-34 7l1 1m57-3l-1 0m7 1l1 0m5-2h0m22 0l1 0m-59 8h0m18-2l-1 0m22 0l-1 0m36 0l-1 1m-118 8l1 1m73-1l-1 0m21-1l-1 1m16-2h0m6 2h0m-98 3l-1 1m27 2h0m14-2l-1 0m9 0h0m7 1l1 0m12 0l0 1m8-2l-1 1m7 0h0m6 1l0 1m-87 4h0m64-2l1 1m-52 7l-1 0m8 1l-1 0m15-2l1 0m38 1h0m15-2h0m-92 9h0m32-2l1 0m15 1h0m4-1h0m10 2l-1 0m21-1h0m20 0l0 1m-94 6l-1 0m10-2l1 1m18 0l-1 1m14-2l1 0m15 2l0 1m35-1l-1 1m-93 5l0 1m13-3h0m42-1l-1 0m15 1h0m-94 5h0m57 2l1 0m45 0l1 0m12 1l1 0m-107 3l1 1m8-1l-1 1m8 1l-1 0m67 0l-1 0m18-1h0m-96 6l0 1m106 1l-1 1m-115 5l1 0m13-2l1 0m10 8h0m41-2l0 1m42 0l-1 0m-58 8h0m6-2h0m30-1l1 1m-75 6l-1 1m44 0h0m25-1l0 1m-72 7l-1 0m17-1l0 1m60-3l1 1m21 1h0m13-1h0m-100 5h0m63 2h0m27 0h0" stroke="#fdf1ea" stroke-width="3.1" stroke-linecap="round"/></svg>
<rect x="2048.5" y="1550.9" width="120" height="119" fill="#9a9a9a" filter="url(#sh)"/><svg x="2046.9" y="1549.3" width="120" height="119"><g filter="url(#bl)"><use href="#q00" class="t2"/><use href="#q01" class="t2"/><use href="#q02" class="t2"/><use href="#q03" class="t2"/><use href="#q10" class="t3"/><use href="#q11" class="t3"/><use href="#q12" class="t2"/><use href="#q13" class="t2"/><use href="#q20" class="t2"/><use href="#q21" class="t2"/><use href="#q22" class="t2"/><use href="#q23" class="t3"/><use href="#q30" class="t2"/><use href="#q31" class="t3"/><use href="#q32" class="t2"/><use href="#q33" class="t3"/></g><path d="M2 0l1 0m6-1l1 0m15 1l1 1m10-1l-1 1m8 0h0m6-1l1 0m22-1h0m22 0l0 1m7 0l-1 1m6-2l1 0m12 0l1 0m-121 7l1 0m13 0h0m12 1h0m16-1l1 1m4 1l1 1m20-2l-1 0m17 1h0m12-3l1 0m12 1l1 0m-106 6h0m7 1l1 1m7-3h0m7 0l-1 0m5 1l1 0m7 1h0m29-2h0m4 2l1 0m23-2l0 1m-74 6h0m7 1h0m14-2l1 0m14 0l-1 1m21-1l-1 1m14 0l0 1m6-1l1 1m13 1h0m-99 5l1 0m5-1l1 0m6-1l1 0m21 0l0 1m7 0l-1 0m28 0l-1 1m22-1l1 1m20 0l1 1m-95 5l1 1m14 0l1 1m39-2l1 0m19 0l-1 0m-91 6l0 1m49-2l1 0m3 0l-1 0m15 0l0 1m14-1l-1 0m23-1l-1 0m8 1l1 0m-116 8h0m41-1l1 0m27 1l-1 1m10-3l0 1m11-1l1 0m22 2l0 1m-59 5l0 1m21-2l1 1m40 0l1 1m-72 5h0m6-2h0m19 0l-1 0m9 2h0m8-2l-1 0m13-1l0 1m14 0l-1 1m-113 6h0m7-2l-1 0m35 3l-1 0m35-2h0m37 0l0 1m-109 6h0m22 1h0m7-3l1 1m53 2h0m-84 4l1 0m3 0l-1 1m15 1h0m9 0l-1 0m15-1l1 0m12 1l0 1m21-3h0m20 0l1 1m22-1l-1 1m-122 5l-1 0m7 1l0 1m20 0l-1 0m16-1l-1 1m10-1h0m6-1l-1 1m7-1l1 1m7 1l0 1m7-3l0 1m13 0l0 1m-92 6l-1 0m15-3l-1 1m8 1l1 1m12-1l-1 1m8-1l-1 1m8-2l-1 0m15 0l-1 0m7 2l1 1m5-3l-1 1m10 0l1 1m-69 6l-1 0m10 0l1 1m4-1h0m14-1l-1 0m29-1l0 1m6 1l-1 1m-49 5h0m48-2l1 1m6 1l1 1m5 0h0m6-1l-1 0m22-2l-1 0m-99 7l0 1m8-1l-1 0m7 1l1 0m7 0l-1 0m7-1l1 1m7-1l0 1m19-1h0m21 0l-1 0m23 1l-1 1m-112 4l1 1m5-1h0m5-1h0m70 2l0 1m29-1l-1 1m14-1l-1 0m-120 7l-1 0m51 0l1 1m60-3l-1 0" stroke="#c4cae8" stroke-width="4.3" stroke-linecap="round"/><path d="M18 1l-2 0m42 0l-2 1m8-2l-2 3m52-3l-1 1m-94 7l2 1m14-4l0 2m18 0l0 2m21-4l-3 1m47 1l1 1m-75 3l-1 3m14-1l3 0m61 0l0 2m-109 3l-2 1m22-2l2 2m29 0l-1 3m7-5l0 1m33-1l2 0m14 1l2 0m-117 8l1 2m32-5l0 2m28-2l0 2m23 1l-2 0m22 0l1 1m-108 3l3 0m9 2l1 2m22-2l-3 1m16-3l2 0m27-1l1 1m19 0l0 3m13-3l-3 1m-105 4l-1 2m30 0l2 1m40-3l0 2m25-1l-1 3m9-3l0 2m-92 3l-2 1m9 2l1 3m20-3l-2 0m20-2l-1 2m9 0l-2 1m36-2l2 0m6-1l-2 2m-107 5l-2 1m23 0l0 3m15-4l-3 0m17-2l-1 2m41 1l2 1m13-1l-1 1m-93 4l-2 1m11-2l2 0m10 0l-3 1m32-1l1 1m34 0l2 2m12-4l2 0m-82 6l-3 2m31-1l3 0m2 1l1 2m7-3l1 1m13-2l-1 1m9-1l-2 2m13 0l-1 3m15-3l-3 1m-104 4l2 2m5-3l-2 2m23 0l-3 1m19-2l2 2m2-3l0 3m9-3l2 0m4 2l-1 2m23-2l1 3m17-5l2 1m-79 6l2 3m11-1l1 1m11-1l2 2m6-2l2 3m41-6l-1 1m-100 6l-3 2m11-1l0 2m13-1l1 3m47-5l0 2m20-2l0 3m-78 4l1 3m26-4l1 3m34-2l-1 3m7-4l0 3m6-2l2 1m-51 4l-2 2m8 0l2 1m4-2l-2 2m24-1l-1 1m8-2l1 2m11 0l-3 1m9-3l0 3m-98 4l2 2m40-2l2 2m44-3l2 2m21-1l-2 0m-38 7l2 2m13-4l-3 1m10-2l2 1m13-1l-2 2m8 0l3 0m-103 5l-3 1m8-1l-2 1m24-1l1 3m20-3l1 2m13-3l-3 2m8 1l2 1m-86 5l0 2m13-4l2 2m4-2l3 0m6 0l2 1m18 0l-1 2m9-4l0 3m6-2l-2 1m30-1l3 2m15-1l-2 3" stroke="#d47450" stroke-width="2.4" stroke-linecap="round" opacity="0.85"/><path d="M78 -1h0m25 6l-1 0m-3 9l-1 0m-15 6l0 1m-26 3l-1 0m9 25h0m17 19h0m-66 5l-1 1m71-1l-1 1" stroke="#c0583a" stroke-width="6.6" stroke-linecap="round"/><path d="M30 0h0m57 13l-1 0m21 0l0 1m6-2l1 0m-1 12h0m-46 5l-1 1m49 2l0 1m9-4l-1 0m-107 8h0m36 0l1 1m-26 3l-1 0m9 3h0m-17 6l-1 0m13-1h0m13 0l0 1m44-1h0m-87 4h0m27 3h0m14 0h0m26-1h0m25 19l0 1m15 9l1 1m6 1l-1 0m7 0h0m-24 5l0 1m-93 5l0 1m15-2h0m12 0h0m6 3h0m7-3l-1 1m65 0h0m-108 7l1 0m54 0l1 0m5-1l1 1m-43 5h0m20 1h0m5 0l1 1m15-2l1 0m6 0h0m-24 7l1 0m34-1l0 1m27-1l-1 1" stroke="#a03818" stroke-width="6.8" stroke-linecap="round"/><path d="M32 25l1 0m40-2l-1 0m20 2l-1 0m-83 7l1 1m44-1l1 0m-57 16l0 1m21 13h0m34-2h0m-53 8l1 1m76 33h0m13 13l1 0" stroke="#6c1606" stroke-width="7.0" stroke-linecap="round"/><path d="M30 0h0m48-1h0m25 6l-1 0m-15 8l-1 0m13 1l-1 0m9-1l0 1m6-2l1 0m-31 8l0 1m-51 4l1 0m24-1l-1 0m17-1l-1 0m20 2l-1 0m22-1h0m-105 8l1 1m44-1l1 0m13-3l-1 1m49 2l0 1m9-4l-1 0m-107 8h0m36 0l1 1m-26 3l-1 0m9 3h0m-38 4l0 1m21 1l-1 0m13-1h0m13 0l0 1m22-1h0m22 0h0m-87 4h0m27 3h0m14 0h0m26-1h0m-49 7h0m34-2h0m-53 8l1 1m82-1h0m-66 5l-1 1m71-1l-1 1m7 0l0 1m15 9l1 1m6 1l-1 0m7 0h0m-24 5l0 1m-93 5l0 1m15-2h0m12 0h0m6 3h0m7-3l-1 1m65 0h0m-108 7l1 0m54 0l1 0m5-1l1 1m15-2h0m-58 7h0m20 1h0m5 0l1 1m15-2l1 0m6 0h0m-24 7l1 0m34-1l0 1m12-1l1 0m14 0l-1 1" stroke="#fdf1ea" stroke-width="3.1" stroke-linecap="round"/></svg>
<rect x="1183.6" y="1705.8" width="120" height="119" fill="#9a9a9a" filter="url(#sh)"/><svg x="1182" y="1704.2" width="120" height="119"><g filter="url(#bl)"><use href="#q00" class="t2"/><use href="#q01" class="t2"/><use href="#q02" class="t4"/><use href="#q03" class="t5"/><use href="#q10" class="t2"/><use href="#q11" class="t1"/><use href="#q12" class="t3"/><use href="#q13" class="t5"/><use href="#q20" class="t2"/><use href="#q21" class="t2"/><use href="#q22" class="t3"/><use href="#q23" class="t3"/><use href="#q30" class="t3"/><use href="#q31" class="t2"/><use href="#q32" class="t3"/><use href="#q33" class="t2"/></g><path d="M7 -1l1 1m6-1l1 1m32 1l1 0m7-1h0m-24 6l-1 1m15-1l-1 1m8-2l-1 0m9 1l-1 1m-45 5h0m7 0l1 0m14-1l0 1m12-1h0m7 0l-1 1m8 0h0m7 1l1 1m-39 5l-1 1m8-3h0m15 2l1 0m12-2l1 0m34 1l1 0m-89 5l-1 1m8 0l0 1m15 0l-1 1m-31 6l-1 1m8-2l-1 1m22-3l1 1m13-1l1 1m34 1l-1 1m-65 4l-1 0m17 2l-1 1m12-3l-1 0m8-1l0 1m9 1l0 1m19-3l1 0m-73 8l0 1m29 0l1 0m19 0l0 1m19-4l-1 1m-72 7l1 1m8-1l0 1m12-2l1 1m22 0l1 1m4-3l0 1m9 2h0m5-3l-1 0m8 2l-1 1m23-1h0m-94 7l-1 0m7-3h0m14 2l-1 0m35 1h0m16 0l1 1m27-2l-1 0m-88 5h0m8 0l-1 1m14 1l-1 0m8 0l1 1m13-3l0 1m15-1l-1 0m29 2l-1 0m-85 4l-1 0m6 0l0 1m9-1l1 0m5 1h0m61-1l-1 1m-85 7h0m13 0h0m7-3l0 1m7-1l-1 1m15 0l-1 0m16-1h0m19 2l1 1m34 0l-1 0m-112 5l1 0m6 0l0 1m22-1l1 0m17 0l1 0m-46 5l1 0m14 1l0 1m8-2l-1 1m15-1l1 0m6 1l-1 0m29 0l1 0m26 0l0 1m14 0l1 1m-89 5l-1 1m16 0l-1 1m27-3l-1 0m37 1l-1 1m22-3l1 0m-95 6l0 1m35-1l0 1m13-1l1 0m5 0h0m21 2l-1 1m22-3l-1 1m-112 6l0 1m35 0l-1 1m27-2l-1 0m9 0l-1 0m13 0l-1 0m10 0l1 0m7 2l-1 0m6-1h0m-115 6l1 1m36-1l-1 0m5 0l-1 0m31-1l1 0m4 2l0 1m27-4l1 1m-79 6h0m29 0h0m19 2l-1 0m8-1l1 1m12-2l1 0m7 0l-1 1m9 1l1 0m4-1l0 1m9 0l1 0" stroke="#c4cae8" stroke-width="4.3" stroke-linecap="round"/><path d="M28 1l0 3m56-3l2 1m12-2l-2 1m-93 5l-1 3m16-3l1 2m19-3l3 1m-42 5l3 0m7 1l2 1m85-1l-2 1m29 1l-2 1m-117 3l-2 0m8 1l0 2m7-3l-3 0m10 1l2 2m18-2l-2 2m31-2l-2 3m14-4l-1 2m9-1l-2 1m-84 3l1 2m34-1l1 2m19-2l0 3m9-3l-1 3m-54 4l1 3m9-5l2 3m26-2l-1 1m7-1l-1 1m29-1l-1 1m8-1l2 0m-90 5l-1 2m15 1l-2 2m86-2l-2 1m-93 3l-2 2m32-2l1 2m19-1l3 0m2-2l0 2m23 0l-2 0m22 1l-3 2m10-3l-2 2m7-3l-3 1m-90 5l-1 3m9-1l2 1m47-4l-3 0m15 1l-1 2m-84 4l0 3m27-2l0 3m22-3l-1 3m15-4l3 1m30-1l2 2m-12 4l2 2m-68 6l-2 0m10-3l-2 1m7 2l-1 1m10-3l0 3m8-3l0 2m4-2l1 2m14-2l0 2m43-2l0 2m-116 6l2 1m41-2l0 3m20-3l-2 0m27 0l3 0m5-2l-2 1m16 2l0 2m-84 3l3 0m2 0l3 0m13 0l0 3m6-5l1 1m5 0l0 3m33-2l-3 1m12-2l-2 1m14 1l3 1m-116 5l0 3m49-4l-2 2m22-3l-3 1m11 1l2 1m19-1l-3 2m16-2l-1 3m-114 2l-2 0m9-1l2 3m7-2l2 1m11-2l-3 1m16 0l2 1m27-2l-1 2m6 1l-2 2m30-4l1 0m-108 6l-3 0m10-1l1 2m7 0l-3 1m24-1l-1 1m5-2l-1 1m9-2l-2 0m52 2l2 2m-83 4l-1 2m22-4l0 3m13-1l-2 1m11-3l1 2m25-1l-3 1m39 0l2 1m-116 4l0 2m6-1l-1 2m9-3l2 1m4 1l-2 1m93-2l-1 3m-121 3l0 2m12-4l0 2m24 0l-3 1m28-1l0 3m9-3l3 1" stroke="#d47450" stroke-width="2.4" stroke-linecap="round" opacity="0.85"/><path d="M35 1l1 0m7 11h0m-15 12h0m28 1l1 0m-22 10l0 1m82 60h0m-84 8l-1 1m24 5l1 0" stroke="#c0583a" stroke-width="6.6" stroke-linecap="round"/><path d="M66 5l0 1m-37 6l1 0m30 6h0m-63 11h0m70 3l1 0m5-3l-1 1m-9 5l-1 0m8 1l1 0m-73 7l1 1m45-1l1 0m35 1l1 1m-48 10l1 1m54-1l0 1m-87 4l0 1m19 0l0 1m51-2l0 1m13 1l0 1m-11 4l0 1m22-1h0m-31 6l1 0m24 1h0m-71 4l0 1m61 1l0 1m7-3l1 1m8 1l1 1m-69 5l-1 1m97-1l-1 1m-69 4l-1 1m43-1h0m20-1l0 1m-94 5l1 1m33-1l-1 0m-56 7l0 1m5 0h0m22-1l1 0m40 0l0 1m-4 5l0 1m47-1l0 1m-90 4h0m67 2l-1 1" stroke="#a03818" stroke-width="6.8" stroke-linecap="round"/><path d="M42 1l-1 1m23-2l1 0m5-1h0m7 0h0m12 0l-1 1m17-1l-1 1m6 0h0m6 1h0m-119 5h0m13 0l0 1m61-1h0m10 1l-1 0m6 0h0m7-1l-1 0m8-1h0m8 0l1 0m6 1l0 1m7-2l1 1m-40 6l-1 0m8 1h0m15 1l1 0m3-2h0m10 0h0m-39 6l1 0m25-1h0m8 2l-1 0m9-1h0m-46 7l-1 1m7-2h0m7 1h0m9-1l0 1m7-2l-1 1m8-1l1 0m4 0l-1 1m-14 6l0 1m6 1h0m6-2l0 1m8 1h0m-38 3h0m12 1l1 1m15 1l-1 0m6-3h0m-92 8l-1 1m71-3l1 1m6-1l-1 0m2 6l-1 0m9 0l-1 0m7 3h0m-38 4l-1 1m22-2l1 0m12 1l1 0m7 1l1 0m-81 7l0 1m62-1l1 1m13-2l0 1m-108 17h0m65 0l1 0m40 1l-1 0m-56 11l-1 0m26 17l0 1m-80 5l-1 1" stroke="#6c1606" stroke-width="7.0" stroke-linecap="round"/><path d="M35 1l1 0m6 0l-1 1m23-2l1 0m5-1h0m7 0h0m12 0l-1 1m17-1l-1 1m6 0h0m6 1h0m-119 5h0m13 0l0 1m56-2l0 1m5 0h0m10 1l-1 0m6 0h0m7-1l-1 0m8-1h0m8 0l1 0m6 1l0 1m7-2l1 1m-94 6l1 0m13 0h0m40 0l-1 0m8 1h0m15 1l1 0m3-2h0m10 0h0m-59 6h0m20 0l1 0m25-1h0m8 2l-1 0m9-1h0m-94 6h0m28 1l1 0m19 0l-1 1m7-2h0m7 1h0m9-1l0 1m7-2l-1 1m8-1l1 0m4 0l-1 1m-119 5h0m70 3l1 0m5-3l-1 1m30 0l0 1m6 1h0m6-2l0 1m8 1h0m-87 3l0 1m28-1l-1 0m8 1l1 0m13-1h0m12 1l1 1m15 1l-1 0m6-3h0m-119 8l1 1m26-1l-1 1m20-1l1 0m35 1l1 1m14-4l1 1m6-1l-1 0m2 6l-1 0m9 0l-1 0m7 3h0m-84 5l1 1m45-2l-1 1m10 0l0 1m12-3l1 0m12 1l1 0m7 1l1 0m-121 5l0 1m19 0l0 1m21 0l0 1m30-3l0 1m13 1l0 1m19-1l1 1m13-2l0 1m-44 5l0 1m22-1h0m-31 6l1 0m24 1h0m-80 5h0m9-1l0 1m56 0l1 0m4 1l0 1m7-3l1 1m8 1l1 1m19-1l-1 0m-87 6l-1 1m97-1l-1 1m-69 4l-1 1m6-1l-1 0m38 0h0m20-1l0 1m-94 5l1 1m33-1l-1 0m63 0h0m-119 7l0 1m5 0h0m22-1l1 0m7 1l-1 1m34-2l0 1m-10 6l1 0m5-1l0 1m21-2l0 1m26 0l0 1m-106 4l-1 1m17-1h0m67 2l-1 1" stroke="#fdf1ea" stroke-width="3.1" stroke-linecap="round"/></svg>
<rect x="1327.8" y="1705.8" width="120" height="119" fill="#9a9a9a" filter="url(#sh)"/><svg x="1326.2" y="1704.2" width="120" height="119"><g filter="url(#bl)"><use href="#q00" class="t5"/><use href="#q01" class="t5"/><use href="#q02" class="t5"/><use href="#q03" class="t5"/><use href="#q10" class="t5"/><use href="#q11" class="t5"/><use href="#q12" class="t5"/><use href="#q13" class="t4"/><use href="#q20" class="t5"/><use href="#q21" class="t5"/><use href="#q22" class="t5"/><use href="#q23" class="t5"/><use href="#q30" class="t2"/><use href="#q31" class="t4"/><use href="#q32" class="t5"/><use href="#q33" class="t5"/></g><path d="M113 1h0m-26 6l-1 1m-41 17l1 0m-28 18l-1 0m91-1l0 1m8 0l1 1m-14 9l0 1m8 20l1 0m-110 12h0m21 0l-1 1m-12 9l-1 1m7-1l1 0m5 0h0m7 0l-1 1m91 0l-1 1m-105 6l-1 1m13-2l1 0m13-1l-1 1m-37 6l-1 1m17-2h0m28 0l-1 0m-44 8l0 1m6-1h0" stroke="#c4cae8" stroke-width="4.3" stroke-linecap="round"/><path d="M-3 0l0 3m82-2l2 1m41 5l1 2m-107 4l2 1m40-2l2 1m-26 7l-2 0m17 0l2 2m23-2l3 2m17-3l2 2m21-3l1 2m-43 9l2 2m2 5l2 2m31 0l1 1m-115 3l2 2m7-2l2 2m32 0l1 2m38-4l0 3m7-1l-1 1m-84 3l0 2m112-1l-2 2m-112 4l2 1m5 0l2 3m3-4l1 2m34-2l2 2m4-3l1 2m36-2l0 3m24 4l1 2m-108 4l2 1m3-1l1 2m28-1l-1 3m42-5l0 2m19-1l1 2m-79 3l0 2m55 0l-2 2m29-2l-2 0m-71 5l0 2m10-2l-1 2m62-3l3 0m-13 6l2 2m12 0l-2 0m-100 7l2 0m11-3l1 3m8-1l0 2m12-2l-3 1m60-1l1 1m-94 6l-3 0m43-1l1 2m7-3l-3 0m9 1l3 1m4 0l-1 2m-64 1l-2 1m52 1l1 1m10-3l-3 2m-49 6l2 3m20-5l3 1m31 0l0 1m40 0l1 1m-92 4l0 2m6-3l0 3m15 0l-2 2m21-2l0 2m8-3l1 3m12-4l3 1" stroke="#d47450" stroke-width="2.4" stroke-linecap="round" opacity="0.85"/><path d="M12 91l-1 0m9 12l1 0m7 11l1 0" stroke="#a03818" stroke-width="6.8" stroke-linecap="round"/><path d="M2 1l0 1m9-1l1 0m3-1h0m9 0l-1 0m8 0h0m5 1l1 0m7 1l1 1m4-3l1 1m8-2h0m13 0l0 1m13 2l-1 1m10-3l0 1m5-2l1 0m8 2l-1 0m13-1l1 0m-120 5l0 1m6 0h0m6 0l0 1m7-1h0m8 0h0m6 0l0 1m8 0l0 1m6-1l1 0m5-1h0m8-1h0m8 1h0m5 1h0m7 0l0 1m15-2h0m5-1l1 1m7 1h0m7-1l-1 0m-114 7h0m10 0l1 0m10-1l0 1m8-1h0m6 0l-1 1m10 0l1 0m5 0l-1 0m13 0l1 0m6 0l-1 0m11-1l0 1m6-1h0m7 0l1 1m6-2l-1 1m7 2h0m6-3l1 1m7 0l0 1m-120 5h0m4 0l-1 1m11-1h0m12 0h0m13 1h0m15-2l0 1m6 0l-1 0m9 2h0m13 0l1 1m6-3h0m14-1l0 1m8 1h0m-108 5h0m8 2h0m7-3l0 1m6 0h0m7 2l-1 1m7-1l-1 0m14-1l-1 1m8 0l1 0m9-2h0m4 0h0m9 1h0m7 0h0m5-2l1 1m5 1h0m8-2h0m13 2l0 1m-118 3l1 1m5 2l-1 0m8-1l1 0m6 0h0m5 0l0 1m9 0l-1 0m7-1h0m8 0l0 1m7-2h0m5 0l1 1m7 0l1 0m13 1l1 0m4 0l-1 1m8-4l1 1m6 1h0m10 0l-1 0m-108 4l1 0m7 3h0m7-3l0 1m8 0h0m4-1l-1 0m8 2l0 1m8-2l-1 0m8 2l-1 1m7-4l1 1m6 1l1 0m5-2l-1 0m16 2h0m8 1h0m7-3l-1 1m8-1l0 1m13-1l1 0m-108 7l-1 1m15-1l1 1m6-1l-1 0m14 1l0 1m6-2l-1 1m9 0l0 1m8-3l-1 0m8 1l-1 0m21 2h0m7-1h0m-106 5h0m11 1l-1 0m10 0l1 0m4 0h0m9 0h0m7-2h0m7 1l0 1m5 0l-1 0m8-1l1 0m7 1h0m5-1l0 1m8-2l1 0m6 1l1 0m7 0l1 1m3-1l-1 1m9-1l1 1m14-2l-1 0m-100 6h0m6 3l1 0m6-2l-1 1m10-1l-1 1m22-1l1 1m4-1h0m7 2h0m7-1h0m14 0l-1 0m15 0l-1 0m9 1l-1 0m6 0l1 0m-119 5h0m4-1l-1 0m9 0l1 1m4 1l1 0m8-2l0 1m7-1l-1 0m7 2h0m8-1h0m8-2l-1 0m6 2l1 0m6-1l-1 1m8 1h0m7-3h0m6 3h0m7-1h0m8 0h0m13-1l1 0m-121 6h0m21 0h0m7-1h0m20 0h0m7 1h0m7 2h0m8-1l0 1m5-2h0m16 0h0m4 1l1 0m14 1h0m6-1l-1 0m8 1l0 1m-119 4h0m7-1l0 1m5 0h0m15-1h0m8 0l-1 0m6 1h0m8 0l1 1m5 0l-1 0m7 0h0m7 0h0m15-1l-1 0m8 1l1 0m5-2h0m22-1l-1 0m-121 8h0m8 1h0m5-2l-1 0m10 2l1 0m5-2l-1 0m21 1l-1 0m9-1l0 1m8 1l1 0m3 0l-1 1m11-1l1 1m4-2h0m7-2h0m6 3l-1 1m16-2h0m6-1h0m7 1l1 0m-114 5l-1 0m8 1l-1 1m15 0l0 1m8-2l-1 1m5-2l-1 0m11 3l1 0m4-2l1 0m8 1h0m6 0l-1 1m8 0h0m7-2h0m13 1h0m14 0l0 1m5-3l0 1m-118 6l0 1m34-1h0m14 1l1 1m3-3l1 0m8 0h0m7 1l0 1m8 0l0 1m6-1l1 0m6-2l1 0m11 2l-1 1m11-3h0m6 2l0 1m6-1l1 1m-86 5l1 0m31 0l1 1m7-1h0m7-1l1 1m5-1h0m9 0l-1 0m6 0h0m9 0l-1 1m-58 5h0m14 0h0m7 0l-1 1m7 0h0m5 1h0m9-1h0m7 1l0 1m7-4l-1 0m6 0l0 1m-91 7l-1 0m15-1l1 0m19-1l-1 1m16-1h0m7 2h0m6 0l-1 0m8-1l0 1m5 0l1 0m13 0l-1 0m9 1l0 1m-80 4h0m8-2h0m21 1l-1 0m12 1h0m9-1l-1 1m9 1l-1 1m5-3l0 1m7-1l0 1m7 0l0 1" stroke="#6c1606" stroke-width="7.0" stroke-linecap="round"/><path d="M2 1l0 1m9-1l1 0m3-1h0m9 0l-1 0m8 0h0m5 1l1 0m7 1l1 1m4-3l1 1m8-2h0m13 0l0 1m13 2l-1 1m10-3l0 1m5-2l1 0m8 2l-1 0m13-1l1 0m-120 5l0 1m6 0h0m6 0l0 1m7-1h0m8 0h0m6 0l0 1m8 0l0 1m6-1l1 0m5-1h0m8-1h0m8 1h0m5 1h0m7 0l0 1m15-2h0m5-1l1 1m7 1h0m7-1l-1 0m-114 7h0m10 0l1 0m10-1l0 1m8-1h0m6 0l-1 1m10 0l1 0m5 0l-1 0m13 0l1 0m6 0l-1 0m11-1l0 1m6-1h0m7 0l1 1m6-2l-1 1m7 2h0m6-3l1 1m7 0l0 1m-120 5h0m4 0l-1 1m11-1h0m12 0h0m13 1h0m15-2l0 1m6 0l-1 0m9 2h0m13 0l1 1m6-3h0m14-1l0 1m8 1h0m-108 5h0m8 2h0m7-3l0 1m6 0h0m7 2l-1 1m7-1l-1 0m14-1l-1 1m8 0l1 0m9-2h0m4 0h0m9 1h0m7 0h0m5-2l1 1m5 1h0m8-2h0m13 2l0 1m-118 3l1 1m5 2l-1 0m8-1l1 0m6 0h0m5 0l0 1m9 0l-1 0m7-1h0m8 0l0 1m7-2h0m5 0l1 1m7 0l1 0m13 1l1 0m4 0l-1 1m8-4l1 1m6 1h0m10 0l-1 0m-108 4l1 0m7 3h0m7-3l0 1m8 0h0m4-1l-1 0m8 2l0 1m8-2l-1 0m8 2l-1 1m7-4l1 1m6 1l1 0m5-2l-1 0m16 2h0m8 1h0m7-3l-1 1m8-1l0 1m13-1l1 0m-108 7l-1 1m15-1l1 1m6-1l-1 0m14 1l0 1m6-2l-1 1m9 0l0 1m8-3l-1 0m8 1l-1 0m21 2h0m7-1h0m-106 5h0m11 1l-1 0m10 0l1 0m4 0h0m9 0h0m7-2h0m7 1l0 1m5 0l-1 0m8-1l1 0m7 1h0m5-1l0 1m8-2l1 0m6 1l1 0m7 0l1 1m3-1l-1 1m9-1l1 1m14-2l-1 0m-100 6h0m6 3l1 0m6-2l-1 1m10-1l-1 1m22-1l1 1m4-1h0m7 2h0m7-1h0m14 0l-1 0m15 0l-1 0m9 1l-1 0m6 0l1 0m-119 5h0m4-1l-1 0m9 0l1 1m4 1l1 0m8-2l0 1m7-1l-1 0m7 2h0m8-1h0m8-2l-1 0m6 2l1 0m6-1l-1 1m8 1h0m7-3h0m6 3h0m7-1h0m8 0h0m13-1l1 0m-121 6h0m21 0h0m7-1h0m20 0h0m7 1h0m7 2h0m8-1l0 1m5-2h0m16 0h0m4 1l1 0m14 1h0m6-1l-1 0m8 1l0 1m-119 4h0m7-1l0 1m5 0h0m15-1h0m8 0l-1 0m6 1h0m8 0l1 1m5 0l-1 0m7 0h0m7 0h0m15-1l-1 0m8 1l1 0m5-2h0m22-1l-1 0m-121 8h0m8 1h0m5-2l-1 0m10 2l1 0m5-2l-1 0m21 1l-1 0m9-1l0 1m8 1l1 0m3 0l-1 1m11-1l1 1m4-2h0m7-2h0m6 3l-1 1m16-2h0m6-1h0m7 1l1 0m-114 5l-1 0m8 1l-1 1m15 0l0 1m8-2l-1 1m5-2l-1 0m11 3l1 0m4-2l1 0m8 1h0m6 0l-1 1m8 0h0m7-2h0m13 1h0m14 0l0 1m5-3l0 1m-118 6l0 1m12-1l-1 0m23 0h0m14 1l1 1m3-3l1 0m8 0h0m7 1l0 1m8 0l0 1m6-1l1 0m6-2l1 0m11 2l-1 1m11-3h0m6 2l0 1m6-1l1 1m-86 5l1 0m31 0l1 1m7-1h0m7-1l1 1m5-1h0m9 0l-1 0m6 0h0m9 0l-1 1m-93 5l1 0m34 0h0m14 0h0m7 0l-1 1m7 0h0m5 1h0m9-1h0m7 1l0 1m7-4l-1 0m6 0l0 1m-91 7l-1 0m15-1l1 0m19-1l-1 1m16-1h0m7 2h0m6 0l-1 0m8-1l0 1m5 0l1 0m13 0l-1 0m9 1l0 1m-92 2l1 0m11 2h0m8-2h0m21 1l-1 0m12 1h0m9-1l-1 1m9 1l-1 1m5-3l0 1m7-1l0 1m7 0l0 1" stroke="#fdf1ea" stroke-width="3.1" stroke-linecap="round"/></svg>
<rect x="1471.9" y="1705.8" width="120" height="119" fill="#9a9a9a" filter="url(#sh)"/><svg x="1470.3" y="1704.2" width="120" height="119"><g filter="url(#bl)"><use href="#q00" class="t4"/><use href="#q01" class="t3"/><use href="#q02" class="t3"/><use href="#q03" class="t4"/><use href="#q10" class="t5"/><use href="#q11" class="t4"/><use href="#q12" class="t4"/><use href="#q13" class="t3"/><use href="#q20" class="t5"/><use href="#q21" class="t5"/><use href="#q22" class="t4"/><use href="#q23" class="t4"/><use href="#q30" class="t5"/><use href="#q31" class="t5"/><use href="#q32" class="t5"/><use href="#q33" class="t4"/></g><path d="M71 -1l1 1m11 0l-1 1m-77 4l1 1m62 0l-1 0m50 5l0 1m-112 7l1 1m69-3h0m7 2l-1 1m35-2l-1 0m-106 7l0 1m39-2h0m8 0l-1 1m15-2l1 0m4 0l1 1m9 0l-1 0m-71 7l-1 0m56 0l0 1m6-2l-1 0m-71 6l1 1m6 0h0m26-2l-1 1m22 0l0 1m36-2h0m24 6h0m-38 8h0m13-1h0m27 1l1 1m-9 12l0 1m12 3l1 1m-7 12l1 0m-42 11l0 1m33 0l0 1m-55 10h0m65 6l-1 0" stroke="#c4cae8" stroke-width="4.3" stroke-linecap="round"/><path d="M0 1l2 0m6 0l0 2m21-3l2 1m12 0l-3 1m38-1l-1 2m-78 4l-2 2m14-3l0 2m8-1l-1 2m34-3l1 3m21-3l-2 1m9-1l1 1m-66 6l-2 0m15 1l-1 2m13-5l-2 1m12 0l1 3m11-4l-2 0m11 2l-1 1m6-3l-1 1m15-1l-3 1m9 2l-2 1m10-4l0 2m-72 4l-1 3m12-1l2 1m14-1l-1 2m9-2l0 2m-68 3l1 1m22-1l3 2m1-2l-3 1m17-2l-1 2m64 1l2 2m11-4l1 2m-100 5l3 0m58 0l-3 1m19-3l1 1m25 1l3 0m-109 5l2 2m12-3l-3 0m16 2l0 2m27-3l2 2m7-2l3 1m18 1l1 1m20-1l-1 1m-101 4l-3 0m23 0l1 2m28-4l0 2m6-2l-1 1m17-1l2 0m4 0l-2 2m9-1l3 0m4 1l2 1m-102 4l2 2m59-2l2 1m-73 7l0 3m67-3l1 2m13-4l-2 1m17 0l-2 1m-36 4l-1 1m13 1l2 3m14-4l-2 2m14-4l-2 2m9-2l2 0m-100 7l-1 1m13-1l-2 1m59 0l3 0m1-2l0 2m14 1l0 2m9-3l-2 2m-70 3l0 3m25-3l3 2m13-2l-1 2m14-3l-1 2m9 1l-3 0m8-2l-2 0m-92 6l1 3m7-3l3 0m20 0l0 2m62-1l2 0m10 0l0 2m-30 4l-3 2m28-1l1 3m20-5l1 3m-121 5l-3 1m31-2l-2 2m30-2l0 2m27-2l1 2m-38 6l1 1m4-4l-3 1m18 0l2 0m6 0l3 0m-68 5l1 2m5 0l3 1m16-1l2 2m61-2l0 3m-50 3l-1 3m7-3l0 2m19-3l-1 2m15-2l-1 1m17-2l0 3m-109 3l-1 2m92-2l-2 1m15 1l3 2" stroke="#d47450" stroke-width="2.4" stroke-linecap="round" opacity="0.85"/><path d="M46 5l0 1m9 5l1 0m-3 8l1 1m33-1l-1 0m-24 4l-1 1m29 0l0 1m-43 4l-1 0m7 1l-1 1m7-1l0 1m29-2l1 0m18 3l0 1m9-1l0 1m-11 4h0m6 1l0 1m-13 8l-1 0m9 1l-1 0m-4 6l1 1m5-1l-1 1m16 1l1 0m-4 5h0" stroke="#a03818" stroke-width="6.8" stroke-linecap="round"/><path d="M15 -1h0m7 2l1 0m14-2l0 1m13-1h0m48 2h0m14-1l1 0m6 1l0 1m-93 4h0m62 0h0m6-1h0m7 0l0 1m6-1l0 1m9 2l-1 0m6-3l0 1m-121 5l1 1m84 2h0m26-1l1 0m-114 5h0m14-1l1 0m4 3h0m9-3h0m14 3l1 1m54-2l1 1m5-3l-1 0m8 1l0 1m15-1h0m-108 5l1 0m21 1l0 1m75 0l1 0m-116 6l-1 1m9-2l-1 0m29 2h0m5-2l0 1m63-2h0m-79 8h0m28-1l0 1m13 1l-1 0m22 0h0m-88 5l1 1m8 0l-1 0m7-2l1 1m14 1l1 0m4-2h0m16-1h0m5 3l0 1m8-3h0m-58 6l-1 0m14 1l1 1m5-3l0 1m9-1h0m5 3l1 0m7-3l1 1m5-1h0m8 2h0m6 0l-1 0m21 0h0m29 1h0m-108 4h0m6 2h0m9-2l0 1m5 0h0m9 1l0 1m6-3h0m8 1l1 1m6-2h0m7 0l0 1m12 0h0m14-1l0 1m-84 6l1 0m5 0l1 1m4-1l0 1m7-1h0m8 1h0m8-1h0m11 0l-1 0m17-2l-1 0m13 2h0m15-1l0 1m-95 4h0m16 3l-1 0m14-1h0m14 1l-1 1m8-4h0m6 3h0m6-1l0 1m9-2l-1 1m23-2l-1 0m21 1l1 1m5 1h0m-115 4h0m7 0h0m7 0l0 1m9 1l1 0m10 0h0m10-3l1 0m4 2h0m13-2l1 1m15 0l-1 0m26 1h0m7 0h0m9-2l0 1m-120 6l0 1m21 0l1 0m3-1l0 1m15 0l0 1m13-2l-1 0m8 2l-1 1m8-2l1 0m7 0l-1 0m8 0l1 0m4 2h0m15-4h0m20 2l-1 1m-119 5h0m8 1l1 0m5-1l0 1m8-1h0m6 2h0m6 0l-1 0m9-1l1 1m7-2l-1 1m8 0h0m6-2l1 0m5 2l1 0m13 0l0 1m6-3h0m23 2l1 0m4-1l1 0m-122 5h0m14 0l1 1m7 1h0m7-2l-1 0m14 3h0m8-3l-1 0m8 1l-1 1m15 0l0 1m11-1l0 1m17-2h0m5 1h0m15-1h0m6 0l-1 0m-121 6l1 0m7 1l1 1m7-3l-1 0m5 1h0m8 0h0m8-1l1 0m7 2l0 1m21-2l1 0m18 0h0m14 0h0m8 0h0m4 1l-1 0m10-2l1 1m-121 5l1 0m6 1h0m19 0l-1 0m8 0l0 1m15-2l-1 1m14 2h0m8-1h0m13 1h0m6-2l-1 0m7 0l1 0m14 1l0 1m6-3l0 1m9 1h0m-122 6l-1 0m7-2l0 1m9 0h0m5 0h0m7 1l0 1m15-3l1 0m19 3l-1 1m8-2h0m14 0h0m26 1h0m-107 5l1 0m8 0l-1 0m8 0h0m6-2h0m6 0l0 1m8 2l0 1m6-3l0 1m14-1h0m8 0h0m6 1l0 1m8 0l-1 0m14-1l0 1m15-2l1 1m4-1l0 1m7 1l-1 0" stroke="#6c1606" stroke-width="7.0" stroke-linecap="round"/><path d="M15 -1h0m7 2l1 0m14-2l0 1m13-1h0m48 2h0m14-1l1 0m6 1l0 1m-93 4h0m20-1l0 1m42 0h0m6-1h0m7 0l0 1m6-1l0 1m9 2l-1 0m6-3l0 1m-121 5l1 1m54-1l1 0m29 3h0m26-1l1 0m-114 5h0m14-1l1 0m4 3h0m9-3h0m14 3l1 1m12-2l1 1m33-1l-1 0m9 0l1 1m5-3l-1 0m8 1l0 1m15-1h0m-108 5l1 0m21 1l0 1m25-2l-1 1m29 0l0 1m22 0l1 0m-116 6l-1 1m9-2l-1 0m29 2h0m5-2l0 1m9-2l-1 0m7 1l-1 1m7-1l0 1m29-2l1 0m12 0h0m6 3l0 1m9-1l0 1m-94 4h0m28-1l0 1m13 1l-1 0m22 0h0m21-1h0m6 1l0 1m-115 4l1 1m8 0l-1 0m7-2l1 1m14 1l1 0m4-2h0m16-1h0m5 3l0 1m8-3h0m-58 6l-1 0m14 1l1 1m5-3l0 1m9-1h0m5 3l1 0m7-3l1 1m5-1h0m8 2h0m6 0l-1 0m21 0h0m15-2l-1 0m9 1l-1 0m7 2h0m-108 4h0m6 2h0m9-2l0 1m5 0h0m9 1l0 1m6-3h0m8 1l1 1m6-2h0m7 0l0 1m12 0h0m14-1l0 1m14-1l1 1m5-1l-1 1m16 1l1 0m-120 5l1 0m5 0l1 1m4-1l0 1m7-1h0m8 1h0m8-1h0m11 0l-1 0m17-2l-1 0m13 2h0m15-1l0 1m28 0h0m-123 4h0m16 3l-1 0m14-1h0m14 1l-1 1m8-4h0m6 3h0m6-1l0 1m9-2l-1 1m23-2l-1 0m21 1l1 1m5 1h0m-115 4h0m7 0h0m7 0l0 1m9 1l1 0m10 0h0m10-3l1 0m4 2h0m13-2l1 1m15 0l-1 0m26 1h0m7 0h0m9-2l0 1m-120 6l0 1m21 0l1 0m3-1l0 1m15 0l0 1m13-2l-1 0m8 2l-1 1m8-2l1 0m7 0l-1 0m8 0l1 0m4 2h0m15-4h0m20 2l-1 1m-119 5h0m8 1l1 0m5-1l0 1m8-1h0m6 2h0m6 0l-1 0m9-1l1 1m7-2l-1 1m8 0h0m6-2l1 0m5 2l1 0m13 0l0 1m6-3h0m23 2l1 0m4-1l1 0m-122 5h0m14 0l1 1m7 1h0m7-2l-1 0m14 3h0m8-3l-1 0m8 1l-1 1m15 0l0 1m11-1l0 1m17-2h0m5 1h0m15-1h0m6 0l-1 0m-121 6l1 0m7 1l1 1m7-3l-1 0m5 1h0m8 0h0m8-1l1 0m7 2l0 1m21-2l1 0m18 0h0m14 0h0m8 0h0m4 1l-1 0m10-2l1 1m-121 5l1 0m6 1h0m19 0l-1 0m8 0l0 1m15-2l-1 1m14 2h0m8-1h0m13 1h0m6-2l-1 0m7 0l1 0m14 1l0 1m6-3l0 1m9 1h0m-122 6l-1 0m7-2l0 1m9 0h0m5 0h0m7 1l0 1m15-3l1 0m19 3l-1 1m8-2h0m14 0h0m26 1h0m-107 5l1 0m8 0l-1 0m8 0h0m6-2h0m6 0l0 1m8 2l0 1m6-3l0 1m14-1h0m8 0h0m6 1l0 1m8 0l-1 0m14-1l0 1m15-2l1 1m4-1l0 1m7 1l-1 0" stroke="#fdf1ea" stroke-width="3.1" stroke-linecap="round"/></svg>
<rect x="1616" y="1705.8" width="120" height="119" fill="#9a9a9a" filter="url(#sh)"/><svg x="1614.5" y="1704.2" width="120" height="119"><g filter="url(#bl)"><use href="#q00" class="t4"/><use href="#q01" class="t4"/><use href="#q02" class="t5"/><use href="#q03" class="t4"/><use href="#q10" class="t4"/><use href="#q11" class="t4"/><use href="#q12" class="t4"/><use href="#q13" class="t4"/><use href="#q20" class="t4"/><use href="#q21" class="t3"/><use href="#q22" class="t4"/><use href="#q23" class="t4"/><use href="#q30" class="t4"/><use href="#q31" class="t4"/><use href="#q32" class="t4"/><use href="#q33" class="t4"/></g><path d="M20 0h0m9 13l0 1m80 0l0 1m8-3l0 1m-73 6l-1 0m-2 5l1 1m-36 11l-1 1m37 0l-1 0m14-1l0 1m51 5l0 1m-72 5l-1 1m77-2l-1 0m-50 8l0 1m34-1h0m-66 5l1 1m15 1l-1 1m82-1l-1 1m-78 4l-1 1m62-1l1 1m-65 4l1 1m42 1l1 0m5-2h0m-88 6l-1 0m23 1l1 1m27 0h0m12-1l0 1m51 0l-1 1m-86 5l-1 1m22-1l1 1m60-2h0m-88 6l1 1m-4 4l0 1m35-1h0m28 0l-1 1m29-1l-1 1m-78 7l-1 1m8-1l1 0m77 5l-1 0m-104 7l1 0m88-2l1 0" stroke="#c4cae8" stroke-width="4.3" stroke-linecap="round"/><path d="M14 -1l-1 3m28-3l2 2m69-1l1 1m-83 6l-1 3m10-4l2 3m30-3l-2 0m11 1l-1 3m14-4l1 2m26-2l-2 1m-109 4l1 2m9-1l-1 3m31-3l-2 3m8-4l0 3m6-3l0 2m37-2l2 1m3 0l-2 2m-104 3l1 2m82 0l1 3m4-3l2 2m14-4l0 1m5 0l2 2m7 0l0 3m8-6l0 2m-123 6l0 3m20-5l3 1m27-1l-1 2m14 0l1 3m19-4l0 3m14-3l-3 1m-77 5l-2 2m24-2l1 2m6-2l2 0m11-1l-3 0m24 1l0 3m-79 3l-2 0m21 0l1 3m14-4l1 3m11 0l1 3m48-5l1 2m6-2l-1 2m-92 5l1 2m20-3l2 1m48-2l-1 3m13-1l0 3m22-4l-2 2m8-2l3 1m-124 6l2 2m5-3l3 2m46-3l2 0m32 2l-2 1m7 0l-1 2m24-5l0 3m-116 3l2 1m15 1l0 3m34-4l2 3m25-3l0 3m21-2l-1 3m22-2l-1 1m-122 4l1 2m20-3l1 1m34 1l1 0m26-2l2 2m12-1l3 1m20-2l-2 3m-105 4l0 2m19-1l0 3m21-5l3 1m4-1l1 1m27-1l2 1m12 1l3 1m-90 4l3 0m12 0l-3 1m8-1l2 2m25-1l2 0m47-2l-2 1m-96 5l0 2m27 0l2 2m30-3l0 2m8-3l-2 1m-68 5l1 2m46-1l-2 2m7-2l-1 1m11 0l-2 1m13-2l2 1m40-2l-1 2m-119 4l-2 0m15 2l2 0m19-2l-2 0m10 0l2 0m11 0l2 3m3-2l0 2m9-1l0 2m7-4l3 0m17 1l2 1m18 0l-3 0m-118 5l0 2m29-3l0 3m6-2l-1 2m57-1l-2 2m16-2l-2 1m16 0l-2 1m-70 2l-1 2m14 0l-1 1m8-2l3 1m11-1l0 3m7-2l0 2m27-1l0 2m-93 2l2 2m11-1l0 2m8-3l2 2m5-2l2 1m5 0l-3 1m16 0l-1 3m21-5l1 2m8-2l1 1m5-1l-3 1m-69 6l0 3m39-4l3 1m5-1l-2 0m10 1l0 2" stroke="#d47450" stroke-width="2.4" stroke-linecap="round" opacity="0.85"/><path d="M38 66l1 0m-8 14l-1 0m29-2l1 0m-20 5l0 1" stroke="#a03818" stroke-width="6.8" stroke-linecap="round"/><path d="M0 1l0 1m9-4h0m26 3h0m15-1l1 1m3 0h0m8-1h0m8 0l0 1m5 0l-1 0m10-1l1 0m12-1h0m8 0l-1 0m12 2l-1 1m-112 3l-1 0m9 0h0m7 1l-1 0m8 0l-1 0m21 1h0m6-2h0m7 1l1 1m6-2l0 1m22 1l-1 0m13-1l-1 1m10-1l-1 0m7-1l0 1m-100 8l0 1m20-4l0 1m7 1l1 0m27-1h0m9 1l1 1m3-2l1 0m7 0h0m-85 6l0 1m7 0l1 1m4 0l0 1m7-4h0m8 1l-1 0m6 1h0m14 0h0m9-1l1 0m6-1l-1 1m7 0l-1 0m22 1l1 0m-88 5l-1 0m8 1l-1 1m15 0l-1 0m28-3l1 0m12 1l1 0m7 0l0 1m29 0l1 0m4-1l1 0m7-1l-1 0m-113 8l1 0m4 0l-1 1m16-3l0 1m8-1l-1 0m21 1l-1 1m15 0l1 1m5-2h0m15-1l0 1m7 2l1 0m5 0l-1 0m9-1l1 0m6-1l-1 1m7-2h0m-108 6l0 1m16 2l-1 1m34-4h0m9 1l1 0m4 0h0m7 2l-1 0m9-2l0 1m21 1h0m5 0l0 1m-119 2h0m6 2l1 0m11-2l1 0m21 2l0 1m14 0l0 1m7-1h0m8 0l1 0m5-1l0 1m15 0h0m12-2l-1 1m-85 7l0 1m6-1h0m9-1l0 1m13-3h0m6 3h0m20-1l1 1m8-3l-1 0m7 3h0m20-3l0 1m-92 8h0m20-3l1 0m6 3l1 1m6-3h0m20 1l1 0m7 0h0m12 1l1 0m22-2l1 1m5 0l-1 0m-105 7l-1 0m6-2l1 0m21 0l-1 1m16-1h0m11 0l0 1m8 0l1 0m5-2l1 0m14 3l1 0m13-2l1 1m5-1h0m-107 5l-1 0m15 1h0m7 0h0m41 2l1 0m12-3h0m36 3l0 1m8-2h0m-121 6l-1 0m21 1l-1 1m29-3l-1 0m20 0h0m9 0l1 1m19 1h0m6-2l-1 1m14 1l1 1m-98 4l0 1m26-2h0m41 1l1 1m8-1h0m5-1l1 0m7 2l1 1m13-2h0m-122 7l1 0m14 0l1 1m17-2h0m43 0l1 0m20-1l1 0m6 1l-1 0m14 0l1 1m-107 6l-1 0m22-2l-1 0m21 1l-1 0m36 0l1 0m6 1l0 1m15-1h0m5 1h0m-106 4l0 1m7-1l1 0m27 1h0m6 0l1 1m12-1h0m6 1h0m8-1l1 0m20-1l-1 0m-98 6h0m5 1l1 0m7-1h0m7-1l1 0m5 1h0m28-1h0m22 2h0m21 0l1 0m4 1l-1 0m7-2h0m15 0h0m-121 5l0 1m7-1l1 1m6 0h0m14 0l-1 1m34 0h0m16-1l-1 0m7-1h0m27 2l0 1m14-1l0 1m-120 5l1 0m11-2h0m8 0l1 0m13 1l0 1m6-1l0 1m9-2h0m7 2l0 1m7-1l1 1m24 0h0m17-2l-1 0m5 2h0" stroke="#6c1606" stroke-width="7.0" stroke-linecap="round"/><path d="M0 1l0 1m9-4h0m26 3h0m15-1l1 1m3 0h0m8-1h0m8 0l0 1m5 0l-1 0m10-1l1 0m12-1h0m8 0l-1 0m12 2l-1 1m-112 3l-1 0m9 0h0m7 1l-1 0m8 0l-1 0m21 1h0m6-2h0m7 1l1 1m6-2l0 1m22 1l-1 0m13-1l-1 1m10-1l-1 0m7-1l0 1m-100 8l0 1m20-4l0 1m7 1l1 0m27-1h0m9 1l1 1m3-2l1 0m7 0h0m-85 6l0 1m7 0l1 1m4 0l0 1m7-4h0m8 1l-1 0m6 1h0m14 0h0m9-1l1 0m6-1l-1 1m7 0l-1 0m22 1l1 0m-88 5l-1 0m8 1l-1 1m15 0l-1 0m28-3l1 0m12 1l1 0m7 0l0 1m29 0l1 0m4-1l1 0m7-1l-1 0m-113 8l1 0m4 0l-1 1m16-3l0 1m8-1l-1 0m21 1l-1 1m15 0l1 1m5-2h0m15-1l0 1m7 2l1 0m5 0l-1 0m9-1l1 0m6-1l-1 1m7-2h0m-108 6l0 1m16 2l-1 1m34-4h0m9 1l1 0m4 0h0m7 2l-1 0m9-2l0 1m21 1h0m5 0l0 1m-119 2h0m6 2l1 0m11-2l1 0m21 2l0 1m14 0l0 1m7-1h0m8 0l1 0m5-1l0 1m15 0h0m12-2l-1 1m-85 7l0 1m6-1h0m9-1l0 1m13-3h0m6 3h0m20-1l1 1m8-3l-1 0m7 3h0m20-3l0 1m-92 8h0m20-3l1 0m6 3l1 1m6-3h0m20 1l1 0m7 0h0m12 1l1 0m22-2l1 1m5 0l-1 0m-105 7l-1 0m6-2l1 0m21 0l-1 1m16-1h0m11 0l0 1m8 0l1 0m5-2l1 0m14 3l1 0m13-2l1 1m5-1h0m-107 5l-1 0m15 1h0m7 0h0m14 0l1 0m26 2l1 0m12-3h0m36 3l0 1m8-2h0m-121 6l-1 0m21 1l-1 1m29-3l-1 0m20 0h0m9 0l1 1m19 1h0m6-2l-1 1m14 1l1 1m-98 4l0 1m12 0l-1 0m15-2h0m14 0l1 0m26 1l1 1m8-1h0m5-1l1 0m7 2l1 1m13-2h0m-122 7l1 0m14 0l1 1m17-2h0m7-2l0 1m36 1l1 0m20-1l1 0m6 1l-1 0m14 0l1 1m-107 6l-1 0m22-2l-1 0m21 1l-1 0m36 0l1 0m6 1l0 1m15-1h0m5 1h0m-106 4l0 1m7-1l1 0m27 1h0m6 0l1 1m12-1h0m6 1h0m8-1l1 0m20-1l-1 0m-98 6h0m5 1l1 0m7-1h0m7-1l1 0m5 1h0m28-1h0m22 2h0m21 0l1 0m4 1l-1 0m7-2h0m15 0h0m-121 5l0 1m7-1l1 1m6 0h0m14 0l-1 1m34 0h0m16-1l-1 0m7-1h0m27 2l0 1m14-1l0 1m-120 5l1 0m11-2h0m8 0l1 0m13 1l0 1m6-1l0 1m9-2h0m7 2l0 1m7-1l1 1m24 0h0m17-2l-1 0m5 2h0" stroke="#fdf1ea" stroke-width="3.1" stroke-linecap="round"/></svg>
<rect x="1760.2" y="1705.8" width="120" height="119" fill="#9a9a9a" filter="url(#sh)"/><svg x="1758.6" y="1704.2" width="120" height="119"><g filter="url(#bl)"><use href="#q00" class="t4"/><use href="#q01" class="t3"/><use href="#q02" class="t2"/><use href="#q03" class="t4"/><use href="#q10" class="t3"/><use href="#q11" class="t3"/><use href="#q12" class="t2"/><use href="#q13" class="t3"/><use href="#q20" class="t4"/><use href="#q21" class="t3"/><use href="#q22" class="t3"/><use href="#q23" class="t3"/><use href="#q30" class="t4"/><use href="#q31" class="t3"/><use href="#q32" class="t3"/><use href="#q33" class="t3"/></g><path d="M15 -1l-1 0m28 1l-1 1m9 0l-1 0m21 1h0m51-1l-1 0m-121 6l-1 1m16-3l0 1m13 1l1 0m45-1l1 1m8 1l1 1m11-3l1 0m-32 6l1 0m8-1l0 1m14-1l-1 0m-45 6l1 1m41 0l1 0m-67 5l-1 1m30 0l0 1m6-2l-1 0m48 3h0m-79 4l1 0m68 0l-1 0m23 1l1 1m-101 3l1 0m33 3l1 1m6-3l0 1m20 0l1 1m47-1l1 1m-87 4l-1 1m15 1l-1 1m-49 5l1 1m3-4l0 1m7 0l1 0m7 0h0m7 2h0m13-1l1 0m5-1l1 1m42 0l1 1m5 0l-1 1m22-3l-1 1m-112 5l1 1m34 0l1 0m4-1l-1 0m23-1l-1 0m13 2l-1 1m16 0l0 1m6-4h0m7 2l-1 1m22-1l-1 0m-119 4l1 0m5 1l-1 0m78 1l1 1m-46 6l-1 1m7-1h0m35-2l1 1m-81 5l1 0m6 0l-1 1m63-1l-1 1m22 0l1 0m5 1l1 1m15-1l1 0m4-1l1 0m-73 7l1 0m6-2l-1 0m28 2l1 1m29-1l1 1m-62 3h0m9 1l1 0m6-1l1 0m6 0l1 1m4 0l1 1m7 0l1 1m20-1l1 0m-67 5l-1 0m29-1l-1 0m-66 6l-1 0m44 2l1 0m3 5h0m6 2l-1 0m20-3l-1 0m-55 6l-1 0m7 0l0 1m61 1l0 1m20-3h0m7 0l-1 1m-65 5l1 1m8 0l-1 0m49 1l1 1m14 0l0 1m6-4h0" stroke="#c4cae8" stroke-width="4.3" stroke-linecap="round"/><path d="M29 -1l2 0m34 2l0 3m14-4l1 3m5-3l-3 1m31 0l0 3m-107 1l3 1m23-1l-2 2m10-1l0 3m8-4l3 1m11 0l-2 0m42-1l1 3m20-1l-1 3m-126 3l-3 1m15-2l1 2m7-1l2 0m13-2l1 1m4 1l0 2m14-4l2 2m39 0l-2 2m18-3l3 0m10 2l-2 2m-118 1l-2 1m68 1l1 3m35-3l-2 0m9 1l-2 3m-85 3l2 1m5-4l-2 0m30 2l-1 3m9-5l2 0m9 2l3 1m6-2l0 3m-53 4l1 3m20-3l-1 3m9-3l2 3m5-3l2 2m4-4l0 3m20 0l1 3m8-5l2 3m10-2l-2 0m-98 4l2 1m13 0l1 1m7-1l-3 1m29 1l-3 0m17-3l-2 1m9 1l-2 2m30-2l-1 2m-113 3l2 0m10 0l2 3m7-2l3 1m16-2l1 3m14-2l-1 2m9-1l-2 1m9-2l0 3m5-5l3 2m11-2l1 2m7 1l2 0m5-1l-2 1m20-3l2 0m-95 7l-2 1m25 0l3 2m17-2l-1 2m-63 5l-2 2m13-2l3 1m4-1l-2 1m24-1l1 2m7-3l-3 2m15-3l-3 1m46-1l1 3m-87 2l3 1m4 2l1 3m24-5l3 1m4-1l-2 0m18 1l-1 1m14-2l0 2m22-2l-1 2m7 0l0 2m-108 2l3 0m3 2l-2 2m38-4l2 1m4-1l3 0m3 0l1 1m-30 5l3 2m2-2l2 1m7-2l-1 1m15 1l-2 3m-64 2l0 2m13-2l-2 2m10-2l0 2m6-1l2 0m12 1l2 2m26-4l1 1m5-1l2 2m13-1l-3 1m29-1l-2 1m-83 4l0 2m14-2l3 1m66 0l2 1m-108 6l-2 0m7-1l1 2m14-1l1 2m5-3l-1 2m14-1l0 1m9-3l2 2m17 1l2 1m13-2l-3 0m22-2l-2 2m8 0l1 1m8-2l0 2m-113 4l-2 1m50-1l1 2m5-3l-1 2m14-2l-1 2m36-1l1 1m-114 4l2 2m19-1l2 1m4-1l1 2m6-2l-1 3m7-4l-2 3m22-2l-1 2m10-2l-2 2m15 0l-2 1m17-3l-3 1m16-2l2 1m5-1l-3 1m10 0l1 3m-121 4l-2 3m8-4l1 3m54-1l-2 1m29-4l3 2m25-2l1 3m-101 4l-2 2m8-3l-1 3m38-3l-2 1m8 2l-1 1m7-1l2 1m4-4l1 1m7-1l2 2m7-1l-2 1m13-1l-1 2" stroke="#d47450" stroke-width="2.4" stroke-linecap="round" opacity="0.85"/><path d="M66 7h0m14 25l0 1" stroke="#c0583a" stroke-width="6.6" stroke-linecap="round"/><path d="M57 2h0m36-2l-1 1m-4 4h0m-30 9h0m-33 4l0 1m21-1l1 1m24 5h0m-73 5l-1 1m8 2l0 1m21-1h0m13-3h0m8 0h0m76 0l0 1m-120 7l0 1m96 0l1 1m-93 2l1 0m102 2l-1 0m-46 7h0m16-1l1 0m18-2h0m7 2h0m15-1l1 0m-5 7l-1 0m-98 6h0m20-1h0m5 0l-1 0m56 2l1 1m7-2l0 1m-71 4l-1 1m41 1l0 1m14-3l-1 0m7 0h0m9-1l1 1m6 1l0 1m12-2l-1 1m-64 5l-1 1m22-1l1 0m27 0l-1 0m-71 7l1 0m27 1l-1 0m41 0l0 1m-67 3h0m55 2l1 0m28-1h0m-58 5h0m21 1l-1 1m14 1l0 1m7-4l1 1m-72 6l0 1m62 0l0 1m-5 4h0m-51 6l1 0m20 0l0 1m14 0h0m5-2l1 0m20 3h0m-65 4l0 1m8 0h0" stroke="#a03818" stroke-width="6.8" stroke-linecap="round"/><path d="M3 0l-1 0m6 1l0 1m16 0l0 1m76-3l1 0m4 1l1 1m-88 3h0m98 1h0m-93 6l1 1m55-1l0 1m34 0h0m-107 5l0 1m7 0l-1 0m6-2l0 1m41-1l0 1m29 0h0m8 1h0m18-2l1 1m-114 7l1 0m8 0l1 0m24-2h0m57 0l1 0m11 0h0m8 3l0 1m8-1l1 0m-98 10h0m81 2l-1 1m-78 4l1 0m89 0h0m-103 13l-1 0m69-1h0m-31 7h0m-44 5h0m112 0l1 0m-101 6l-1 0m7 0h0m5 0l0 1m58 0l-1 1m-79 4h0m89-1l-1 1m-92 5l1 0m7 0l0 1m4 0l-1 0m10 1l-1 0m-3 5l0 1m-2 5l0 1m18-1h0m50 1h0m22-2h0m11 2h0m-112 5l0 1m7-1l0 1m89 0l-1 0m-73 5l-1 1m17-1l1 0m-47 6h0m14 2h0" stroke="#6c1606" stroke-width="7.0" stroke-linecap="round"/><path d="M3 0l-1 0m6 1l0 1m16 0l0 1m33-1h0m36-2l-1 1m8-1l1 0m4 1l1 1m-88 3h0m48 2h0m22-2h0m28 1h0m-93 6l1 1m34 1h0m21-2l0 1m34 0h0m-107 5l0 1m7 0l-1 0m6-2l0 1m7 0l0 1m21-1l1 1m12-2l0 1m29 0h0m8 1h0m18-2l1 1m-114 7l1 0m8 0l1 0m24-2h0m36 1h0m21-1l1 0m11 0h0m8 3l0 1m8-1l1 0m-123 3l-1 1m8 2l0 1m21-1h0m13-3h0m8 0h0m33 3l0 1m43-4l0 1m-120 7l0 1m20-2h0m76 2l1 1m4-1l-1 1m-96 2l1 0m17 2l1 0m84 0l-1 0m6 0h0m-52 7h0m16-1l1 0m18-2h0m7 2h0m15-1l1 0m-109 8l-1 0m69-1h0m36 0l-1 0m-98 6h0m20-1h0m5 0l-1 0m8 2h0m48 0l1 1m7-2l0 1m-100 5h0m29-1l-1 1m41 1l0 1m14-3l-1 0m7 0h0m9-1l1 1m6 1l0 1m7-1l1 0m4-1l-1 1m-104 6l-1 0m7 0h0m5 0l0 1m29-2l-1 1m22-1l1 0m7 2l-1 1m21-3l-1 0m-99 7h0m28 0l1 0m27 1l-1 0m34-2l-1 1m8 1l0 1m-100 3l1 0m7 0l0 1m4 0l-1 0m10 1l-1 0m13-2h0m55 2l1 0m28-1h0m-100 6l0 1m42-2h0m21 1l-1 1m14 1l0 1m7-4l1 1m-86 6l0 1m14-1l0 1m4-1h0m50 1h0m8 0l0 1m14-3h0m11 2h0m-112 5l0 1m7-1l0 1m75-1h0m14 1l-1 0m-73 5l-1 1m10-1l1 0m6 0l1 0m13 0l0 1m14 0h0m5-2l1 0m20 3h0m-100 4h0m14 2h0m21-2l0 1m8 0h0" stroke="#fdf1ea" stroke-width="3.1" stroke-linecap="round"/></svg>
<rect x="1904.3" y="1705.8" width="120" height="119" fill="#9a9a9a" filter="url(#sh)"/><svg x="1902.8" y="1704.2" width="120" height="119"><g filter="url(#bl)"><use href="#q00" class="t3"/><use href="#q01" class="t3"/><use href="#q02" class="t3"/><use href="#q03" class="t3"/><use href="#q10" class="t3"/><use href="#q11" class="t2"/><use href="#q12" class="t3"/><use href="#q13" class="t3"/><use href="#q20" class="t3"/><use href="#q21" class="t2"/><use href="#q22" class="t3"/><use href="#q23" class="t4"/><use href="#q30" class="t3"/><use href="#q31" class="t3"/><use href="#q32" class="t3"/><use href="#q33" class="t3"/></g><path d="M29 1h0m12 0l0 1m51-4h0m19 1l0 1m-98 6h0m12 0l-1 0m16-1l1 1m4-1l1 1m14 1l1 1m26-2l1 1m13 0l1 0m12-2l0 1m-107 6h0m29 1l-1 0m22-2l1 0m4 0l0 1m56-1l-1 0m-70 8l-1 1m27-2l1 1m13-1l0 1m21-2h0m15 0h0m-96 7l0 1m7-1l-1 0m15-1l1 0m48 2l1 0m19 1l-1 1m-92 2l-1 1m43 1l-1 1m9-2l1 0m19 1l1 1m5-3h0m-64 6l-1 1m7 0l1 1m25-1l-1 1m10-1l-1 1m13-1l1 1m15-2h0m-100 8l0 1m12-1l-1 0m45 0h0m48 1l-1 0m-88 6l1 0m22-3l1 1m11 0l0 1m34 1l-1 1m17-3l0 1m18-1l1 0m-98 5l1 0m38 2l1 1m20-2l1 0m27 1l1 1m7 0h0m-115 5l-1 1m37-1l0 1m27 0l-1 1m7-2l1 1m8-1l1 1m-46 4l-1 0m8 1l0 1m27-1l-1 1m14 0l-1 1m-37 3l0 1m5 1l-1 0m25-2l1 0m24 2h0m-93 3l-1 1m10 0l-1 0m6 0l1 0m28 0l0 1m14-1l1 1m34 1l1 0m-67 5l1 1m7 0l0 1m39-1l1 1m12-2l1 1m13 0l0 1m-93 3l0 1m27 0l-1 1m36-1l-1 0m8 0l-1 1m8 0l-1 0m-63 4h0m7 0l0 1m21-1l1 1m12 1l0 1m7-1l0 1m-72 5l0 1m68 0l0 1m19-2l-1 1m-83 3l0 1m29 0l-1 1m19 0l-1 1m17-3l1 1m4 0l-1 1m28-1l-1 1m-105 5l-1 0m7 2l1 1m22-2l0 1m5-3l1 1m40 1l-1 0m31-1l-1 0" stroke="#c4cae8" stroke-width="4.3" stroke-linecap="round"/><path d="M1 1l1 1m19-3l-1 3m16-2l-2 2m14-3l0 2m14-3l-3 2m45-1l2 2m-110 5l3 1m54 0l0 3m55-5l3 1m11 0l-1 2m-92 4l-2 1m21-1l-1 2m29-3l3 2m18-2l-1 2m-78 4l2 0m33 1l2 3m5-3l-2 1m21 0l-1 2m37-2l-2 1m-72 5l-1 2m16-4l-1 3m8-1l-3 1m23-1l2 1m20 0l1 2m-108 4l2 1m12-1l0 3m7-4l1 2m13-4l-1 1m19 0l-1 2m57-1l2 1m11-3l1 1m-106 7l0 3m13-4l0 3m21-4l-1 1m7-1l2 1m5 2l-1 3m22-5l2 2m11 0l2 2m19-3l2 2m-121 5l1 2m55-5l3 1m24 1l2 0m19-1l-2 0m-87 7l-2 0m18 1l0 2m5-2l2 0m11-1l0 3m-7 2l-2 3m21-1l3 1m11-2l2 0m-62 5l-2 2m12-1l1 2m4-3l-2 0m22 1l0 2m7-1l1 1m34-2l-3 2m23-1l-1 2m-104 2l-3 1m14 0l0 2m10-3l3 0m4-1l-1 3m61 0l0 2m21-5l2 2m-114 5l-1 2m28 0l2 2m31-2l3 2m18-3l1 2m26-4l0 3m14-2l-1 2m-90 4l1 1m25 1l0 2m29-2l1 3m17-3l2 3m7-4l0 2m8-4l2 1m-75 6l3 1m3-1l-3 1m15-1l2 2m33-2l3 2m13-2l0 2m-121 4l1 2m11-2l-3 1m25 0l-1 3m8-3l-1 3m15-3l-1 2m21-1l-2 2m36-2l1 2m7-4l-2 3m-99 5l1 1m6-2l3 1m26-2l2 1m11-1l3 1m19 0l-1 3m6-4l1 2m6-2l-1 2m8 0l2 1m6 0l1 3m-115 2l1 3m33-5l-1 1m30 0l1 3m-39 3l-3 1m9-1l-1 3m13-2l2 1m47-3l2 2m5-2l0 2m13 1l2 0m-101 3l0 3m47-1l0 2m37-2l1 3m24-2l3 2" stroke="#d47450" stroke-width="2.4" stroke-linecap="round" opacity="0.85"/><path d="M47 41h0m-11 30l1 0m6 2l1 0" stroke="#c0583a" stroke-width="6.6" stroke-linecap="round"/><path d="M7 0h0m48 1l1 0m67-2l1 0m-106 8l-1 0m14-1l-1 0m45 0l1 0m-53 5h0m48 2h0m12 0l0 1m28-2h0m-114 8l-1 1m41-2h0m57 0h0m-80 6h0m62-1h0m13 0h0m-9 6l1 1m-80 5l0 1m8-1l1 0m12 0l1 0m43 7l-1 0m8-1h0m22 2l-1 0m21-1l-1 0m7-1l-1 0m-113 7h0m56-1l1 0m19 1l-1 0m14 0l1 0m15-2l0 1m5 1l0 1m-113 5h0m8 1h0m6-3l1 0m12 3l-1 1m51-1l1 1m13-3l0 1m13-1l-1 0m-43 5h0m33 3l1 1m5-1l0 1m16-3l1 0m-108 6l-1 0m40 0l1 0m-38 7l-1 0m56 0h0m21-1h0m-44 8l-1 0m30-1l1 1m3-2l-1 1m14 0l1 0m-77 6h0m6-1l1 0m39 0l1 0m13 0h0m16 2l0 1m-87 4l0 1m20-1l1 0m35-1l1 0m40 1l1 0m-103 6l1 0m8-1l-1 1m33-1l-1 1m-23 6l-1 0m9 0l1 1m27 0l-1 0m36-1h0m12-1l0 1m-99 5h0m47 0h0m69 1l1 0m-101 6l1 1m20-1l0 1m9 1l1 1m5-2l0 1m14-3h0m42 1l1 0" stroke="#a03818" stroke-width="6.8" stroke-linecap="round"/><path d="M16 0l1 1m53 0l0 1m14-3l1 1m34 0l-1 0m-112 6l1 1m61-2l0 1m12 1l1 1m-80 4h0m123 1l0 1m-119 5l-1 0m22-1h0m5 2l0 1m36-3l1 0m-67 8l1 0m20-2h0m49 0l-1 1m-26 4h0m41 3h0m28 0l-1 0m-87 12l-1 0m9-3l1 1m53 2l0 1m-12 2l0 1m-40 14h0m46 6l1 0m19-1h0m6 1l0 1m13-2h0m-112 6l0 1m14-1l1 1m96-1l-1 1m-122 4l-1 1m43-1l0 1m-10 5l1 1m77 17l1 0m16 1l1 0m-60 8l1 0m22 4h0m27 1h0" stroke="#6c1606" stroke-width="7.0" stroke-linecap="round"/><path d="M7 0h0m9 0l1 1m38 0l1 0m14 0l0 1m14-3l1 1m34 0l-1 0m5-1l1 0m-118 7l1 1m11 0l-1 0m14-1l-1 0m38-1l0 1m7 0l1 0m4 1l1 1m-80 4h0m22-1h0m48 2h0m12 0l0 1m28-2h0m13 1l0 1m-127 6l-1 1m9-2l-1 0m22-1h0m5 2l0 1m6-2h0m30-1l1 0m26 1h0m-93 7l1 0m12-1h0m8-1h0m49 0l-1 1m6-1h0m13 0h0m-45 5h0m36 1l1 1m4 1h0m28 0l-1 0m-111 4l0 1m8-1l1 0m12 0l1 0m2 8l-1 0m9-3l1 1m13-1h0m19 2l-1 0m8-1h0m14 2l0 1m8-1l-1 0m21-1l-1 0m7-1l-1 0m-113 7h0m56-1l1 0m11-1l0 1m8 1l-1 0m14 0l1 0m15-2l0 1m5 1l0 1m-113 5h0m8 1h0m6-3l1 0m12 3l-1 1m51-1l1 1m13-3l0 1m13-1l-1 0m-72 8h0m29-3h0m33 3l1 1m5-1l0 1m16-3l1 0m-108 6l-1 0m40 0l1 0m29 2l1 0m19-1h0m6 1l0 1m13-2h0m-112 6l0 1m6-1l-1 0m9 0l1 1m13-3l1 0m6 2l1 0m25 0h0m21-1h0m29 1l-1 1m-122 4l-1 1m43-1l0 1m8 1l-1 0m30-1l1 1m3-2l-1 1m14 0l1 0m-77 6h0m6-1l1 0m5 0l1 1m33-1l1 0m13 0h0m16 2l0 1m-87 4l0 1m20-1l1 0m35-1l1 0m40 1l1 0m-103 6l1 0m8-1l-1 1m33-1l-1 1m-23 6l-1 0m9 0l1 1m27 0l-1 0m36-1h0m12-1l0 1m6-1l1 0m16 1l1 0m-123 5h0m47 0h0m16 3l1 0m52-2l1 0m-101 6l1 1m20-1l0 1m9 1l1 1m5-2l0 1m14-3h0m20 1h0m22 0l1 0m4 1h0" stroke="#fdf1ea" stroke-width="3.1" stroke-linecap="round"/></svg>
<rect x="2048.5" y="1705.8" width="120" height="119" fill="#9a9a9a" filter="url(#sh)"/><svg x="2046.9" y="1704.2" width="120" height="119"><g filter="url(#bl)"><use href="#q00" class="t2"/><use href="#q01" class="t3"/><use href="#q02" class="t3"/><use href="#q03" class="t3"/><use href="#q10" class="t3"/><use href="#q11" class="t3"/><use href="#q12" class="t2"/><use href="#q13" class="t3"/><use href="#q20" class="t2"/><use href="#q21" class="t3"/><use href="#q22" class="t2"/><use href="#q23" class="t2"/><use href="#q30" class="t2"/><use href="#q31" class="t2"/><use href="#q32" class="t2"/><use href="#q33" class="t3"/></g><path d="M13 0l0 1m9 0l1 1m33-3l-1 1m36 0h0m20 0l1 1m-116 4l-1 0m10 0l1 1m6 0l-1 0m13 1l-1 1m23-1l1 1m62-1l-1 1m6-1l-1 0m-104 4l0 1m27 0l1 0m14 0l1 0m4 1h0m-53 5l1 1m14 0l1 1m40-2l-1 0m55 2l0 1m8-3l-1 1m-118 6l1 1m25-1l-1 0m28 0l0 1m22-1l-1 0m23 0l1 0m-74 6l0 1m53-2l1 1m6-1l-1 0m15-1l-1 1m8 1h0m14 0l-1 1m-85 4l1 0m49 2l-1 0m26-3h0m-79 7l-1 1m16 0l1 0m11-1l-1 1m15 0l-1 0m9-1h0m20-1l1 0m-100 6l-1 0m27 1l-1 1m45-1l1 1m25 0l1 0m-95 4l-1 0m16 2l1 1m18 0l-1 1m25-4l-1 1m14 2l1 0m5-2h0m14-1l-1 1m-92 7l-1 1m6-1l-1 0m15 0l1 1m35-3l-1 1m29 1h0m14 1l-1 0m15-1l0 1m7-2l-1 1m-122 4l1 0m14 2l-1 0m8 0l1 0m5-1h0m21 1h0m8-1l-1 0m13 1h0m8-2l-1 1m9 2l-1 1m6-4l-1 0m8 0l-1 1m-92 6l-1 1m8 1l-1 0m14 0l1 1m8-3l1 1m27 1h0m7 0l0 1m32-2l0 1m-84 5l-1 1m13-2l0 1m14-1l0 1m36-1l-1 1m7-1l0 1m28-1l-1 1m-100 7l1 1m6-2l0 1m20 0l1 0m15-1l0 1m25 0l-1 0m-77 4h0m15 2l0 1m34-2h0m34 2l-1 1m34-3l-1 0m-112 5l0 1m9 2l1 1m12-2l-1 0m6-2l1 0m12 0l1 0m9 2h0m7-1l1 1m5-2l-1 0m22 1l-1 0m27-1l1 1m7 1h0m-113 4l1 1m20-1l-1 1m54 2h0m37 0l0 1m-101 2h0m7 2l0 1m14-1l1 0m31 0l1 0m6 1l0 1m-71 3l-1 1m35-2l-1 0m23 2l1 0m26 0l-1 0m21 0l1 0" stroke="#c4cae8" stroke-width="4.3" stroke-linecap="round"/><path d="M1 0l-3 0m11 0l-2 0m28 0l-1 1m10-2l0 2m32-1l2 2m7-3l-2 3m21-2l2 1m-67 5l0 2m35-2l-1 2m20-1l2 1m6 0l-2 3m23-5l-2 3m-118 2l3 0m10 2l1 2m54-2l-2 1m10-3l0 2m7-1l-1 2m13-3l-2 1m10 1l-1 3m6-5l0 2m-79 5l0 2m8-2l0 2m7-1l-1 2m8-4l2 2m-42 5l-2 1m25 0l2 2m5-2l-1 3m8-4l-2 2m56 0l2 2m11-4l2 0m-122 6l2 2m7-1l2 1m30-2l-2 2m18 0l1 2m17-5l-1 1m22 2l1 1m-92 5l-2 1m14-2l-2 3m17-4l3 1m9-2l3 0m18 1l1 1m6-1l-1 3m8-3l-2 0m29 1l2 1m-102 5l2 0m5 0l1 2m8-1l2 1m3-3l2 1m25 0l-2 2m18-4l2 2m16 1l-3 1m34-4l-1 1m8-1l-1 1m-108 7l-2 2m10-3l2 0m10-1l3 2m4 0l2 0m6 0l0 2m13-3l-3 1m18 0l-2 2m9-4l-1 3m6-3l-1 3m15-3l0 3m9-1l1 3m5-2l-3 1m-118 4l-2 1m28-2l-1 2m32-1l0 2m12-1l1 3m19-5l2 2m-75 5l-2 1m18-2l-3 2m23-1l-2 1m17-1l-3 1m9-2l-2 0m9 1l1 2m27-3l-1 1m-99 4l1 3m34-1l0 2m74-2l3 1m-82 5l2 2m34-3l-2 1m9 1l-2 1m8-3l1 3m32-1l1 1m-120 4l1 1m20-2l-1 1m77 1l-1 2m6-3l-2 0m24-1l0 3m-100 3l2 1m18 1l3 1m19-1l2 2m26-3l1 1m10 0l1 2m-85 5l2 2m4-4l3 0m4 0l2 1m20-2l2 0m9 1l-1 2m8-2l-1 3m23-4l-2 2m15 0l1 2m12-4l-2 2m-102 6l-2 1m22-2l-3 2m36-3l-1 2m8-1l2 3m13-3l-1 1m-91 5l2 2m17-2l0 2m15 0l-3 2m7-4l2 1m14-2l-2 0m49 0l-2 1m10-1l-2 0m17 2l-3 2m-111 4l-2 3m22-3l1 2m12-3l2 0m4 0l1 2m14-2l1 2m42-2l-1 2m7-2l3 1m2-2l0 3m-106 4l-1 3m16-2l2 0m23 0l-2 1m23-1l-2 1m10-2l1 1" stroke="#d47450" stroke-width="2.4" stroke-linecap="round" opacity="0.85"/><path d="M22 13l-1 1m-11 4l-1 1m15-2l1 0m66 44l1 0m16 5h0m-4 8l-1 0m-98 16l-1 1m54-1l1 1m-14 14h0m-45 4l1 1m83-1l-1 1m-85 7l-1 0m20-1h0" stroke="#c0583a" stroke-width="6.6" stroke-linecap="round"/><path d="M70 -1l-1 1m48 1l1 0m-65 6l-1 1m34 10l0 1m9-1l-1 0m6 1l-1 0m-76 4h0m39 1l-1 1m22-1l0 1m-24 4l1 0m56 1l0 1m-107 5l-1 0m42 0l-1 0m43 0l-1 0m26-1l0 1m-79 8l-1 1m56-2h0m-86 6h0m93 6l-1 0m10 1l-1 0m12 0l1 0m-79 6l1 1m17 4h0m-17 7h0m7-1h0m60 1l0 1m-64 5l-1 0m14-2l-1 1m28 1l1 0m-57 4l1 1m57 6l1 0m14 6l1 0m-92 7h0m81 0h0m5 6h0m2 5l-1 0m15 0l1 0m7-1h0" stroke="#a03818" stroke-width="6.8" stroke-linecap="round"/><path d="M97 -1h0m-38 7l1 0m5 1l-1 0m-36 7l0 1m36-4l-1 0m-67 7l-1 0m77 1h0m7-1l-1 0m31-1l-1 0m-102 6l-1 0m18 12l0 1m34 13h0m-12 5l-1 1m-13 11l-1 1m93 0l1 0m-111 7h0m79 0l0 1m-88 4l-1 1m112 0l-1 0m-45 5l0 1m30-2l1 1m-3 14h0m-25 3l0 1m15 0l-1 0" stroke="#6c1606" stroke-width="7.0" stroke-linecap="round"/><path d="M70 -1l-1 1m28-1h0m20 2l1 0m-65 6l-1 1m7-2l1 0m5 1l-1 0m-42 6l-1 1m7 0l0 1m36-4l-1 0m-67 7l-1 0m15 0l-1 1m15-2l1 0m47 2h0m7-1l-1 0m8 0l0 1m9-1l-1 0m6 1l-1 0m10-2l-1 0m-102 6l-1 0m18 0h0m39 1l-1 1m22-1l0 1m-24 4l1 0m56 1l0 1m-107 5l-1 0m15-1l0 1m27 0l-1 0m43 0l-1 0m26-1l0 1m-79 8l-1 1m56-2h0m-86 6h0m50 0h0m-12 5l-1 1m56 0l-1 0m10 1l-1 0m12 0l1 0m-79 6l1 1m48-2l1 0m-61 5l-1 1m30 0h0m48-1h0m15 1l1 0m-111 7h0m30 0h0m7-1h0m42 1l0 1m12-1l-1 0m7 0l0 1m-106 4l-1 1m43 0l-1 0m14-2l-1 1m28 1l1 0m28 0l-1 0m-84 4l1 1m38 0l0 1m30-2l1 1m-95 5l-1 1m54-1l1 1m29 0l1 0m8 8h0m6-2l1 0m-92 7h0m33 1h0m27-3l0 1m15 0l-1 0m7 1h0m-93 5l1 1m83-1l-1 1m15 0h0m-100 7l-1 0m20-1h0m83-1l-1 0m15 0l1 0m7-1h0" stroke="#fdf1ea" stroke-width="3.1" stroke-linecap="round"/></svg>
<rect x="1183.6" y="1860.7" width="120" height="119" fill="#9a9a9a" filter="url(#sh)"/><svg x="1182" y="1859.1" width="120" height="119"><g filter="url(#bl)"><use href="#q00" class="t4"/><use href="#q01" class="t4"/><use href="#q02" class="t4"/><use href="#q03" class="t4"/><use href="#q10" class="t4"/><use href="#q11" class="t3"/><use href="#q12" class="t4"/><use href="#q13" class="t3"/><use href="#q20" class="t4"/><use href="#q21" class="t4"/><use href="#q22" class="t3"/><use href="#q23" class="t4"/><use href="#q30" class="t3"/><use href="#q31" class="t3"/><use href="#q32" class="t4"/><use href="#q33" class="t4"/></g><path d="M120 5h0m-86 9h0m27-2l-1 0m-42 8l-1 0m57-3l1 0m-7 9h0m-51 4l1 1m56 0l1 0m47 1l-1 1m-81 2l1 1m28-1h0m-72 7l-1 0m28-1l1 1m81 1l-1 1m15-1l-1 1m-76 5l0 1m26-1l-1 0m9 0l1 1m-65 12l-1 1m36-4h0m9 1l-1 0m-31 8l1 0m6-1l1 0m53 1l1 0m9 6l-1 0m-84 4l-1 1m62 0l1 0m-39 6l1 0m33-1l1 0m29 2l1 1m-87 4l0 1m34 0h0m12-1l-1 1m45-2l0 1m-100 7l-1 0m13 0l1 0m7 0l-1 1m28-3h0m69 0h0m-85 6l0 1m68-1l-1 1m-66 6l-1 1m14 1l0 1m9-3l1 0m48 0l-1 1m-65 4l-1 0m20 0l1 1m8 1h0m5 0l-1 1m30-2h0" stroke="#c4cae8" stroke-width="4.3" stroke-linecap="round"/><path d="M15 -1l1 3m34-1l0 2m20-3l2 0m13-1l2 0m31 0l1 2m-79 6l-1 2m6-1l1 1m7-3l-2 3m15-2l-3 2m44-3l-2 1m-99 6l1 3m9-3l1 3m6-3l0 2m18-1l1 3m15-5l1 2m-28 4l2 1m6-1l2 3m14-3l-2 0m28-1l-2 1m30 2l-2 1m17-3l-3 0m-80 6l2 2m21-3l3 2m11-2l-2 0m8 2l-1 3m21-4l1 2m6-2l1 2m8-1l-2 2m-114 4l1 2m6-4l-2 3m17 0l2 2m51-4l-2 0m-75 7l1 3m7-4l3 1m8-1l2 1m12-1l-1 2m22-2l0 2m-22 3l-1 3m12 0l-3 0m11-1l1 2m13-3l2 0m45 0l1 2m-66 4l3 2m34 0l0 3m-60 2l-3 1m17-1l-1 2m9-4l-1 1m13-1l0 3m22 0l0 3m18-3l0 2m7-3l-1 1m-29 3l0 3m35-1l2 2m-74 4l1 2m20-3l0 3m12-1l-3 1m12-2l2 0m19-1l-2 0m-100 7l-1 3m57-2l-1 2m14-4l2 1m4 0l-1 1m16-1l-1 3m15-2l1 2m-72 2l3 2m4 0l1 3m19-4l-1 1m6-1l0 2m16-1l2 0m5-1l3 2m16-2l1 2m5-1l1 2m6-2l1 1m-108 4l-2 3m30-2l-3 1m11-3l-3 0m17 1l2 2m17-2l0 2m8-1l0 2m-94 4l-1 3m30-3l-1 1m-16 3l1 2m52-2l1 1m8 0l1 3m7-3l-2 3m9-3l-2 2m8-1l-2 1m-64 4l2 2m27 0l1 0m13-3l-2 1m8 0l0 3m12-4l-1 2m8 0l-2 2m23-2l-2 3m10-5l1 1m-107 8l0 3m12-4l3 1m30-3l0 3m51-1l-2 1m9-3l2 0m-110 8l-3 1m9-1l2 2m27-4l-2 1m48 0l-1 2" stroke="#d47450" stroke-width="2.4" stroke-linecap="round" opacity="0.85"/><path d="M38 31l-1 1m62-1h0m8-1l1 0m6-1l1 0m-65 9l0 1m56-2l0 1m12-2l-1 0m-56 7h0m41-1l1 0m-68 6h0m29 2l-1 0m34-1l1 0m-47 7h0m15-2l1 0m20-1l0 1m6 1h0m21-1l1 0m5 1h0m-58 4l1 0m7 2l0 1m19 0l0 1m9-1l-1 0m21-1h0m-53 6l1 1m29 0l1 0m-32 4l1 0m19-1l-1 0m-27 14l1 0m18-1l0 1m-58 6h0m16-1h0m7 0l0 1m13 0h0m-23 7h0m5-1h0m22-1l1 0m-54 7l0 1m8 0l-1 0m6 1l1 0m29-2l-1 0m-25 7l-1 0m22-1l-1 0m-43 8l1 1m4-1h0m21-2l-1 0m29 0l1 0" stroke="#a03818" stroke-width="6.8" stroke-linecap="round"/><path d="M1 0l-1 1m8 0l1 0m13-2h0m6 1h0m8-1l1 1m6 0h0m12 0h0m7 0l1 0m14-2h0m12 1l0 1m10 0l1 0m12 0h0m11 1h0m-126 6l1 1m6-3l0 1m6 2l-1 1m8-2h0m7-2l-1 0m9 0l0 1m28-1l-1 0m15 1l0 1m4-1h0m8 0h0m8 1h0m6 0l1 0m13 0h0m-113 4l0 1m27 1l0 1m21-1l-1 0m22 0l0 1m13-3h0m6 1h0m7-1l-1 1m15 0h0m9-1h0m-122 6l1 0m5 2h0m9-2h0m12 1l0 1m23 0l1 1m12-1h0m6-2h0m21 3h0m7-3l1 0m6 3l1 0m-101 5l-1 0m7-2l0 1m7 1l1 0m8-1l1 1m12-1h0m20-1h0m33 0l0 1m8-1h0m-101 6l0 1m50 2h0m12-1l-1 1m8-2h0m23 1l0 1m5-2h0m-78 7l1 0m14-2l1 0m32 1l1 0m14 1l1 0m4-2l0 1m7 1h0m6-1l0 1m-92 6h0m13-1l1 0m54 1l1 0m6 0l1 0m8-2l1 1m5-1h0m-93 8h0m8 0l0 1m4-1l0 1m8-2l0 1m7-2h0m77 2l-1 0m-107 5h0m7 0l0 1m8 0l1 0m5-2l1 0m11 1h0m-28 6l-1 0m7 1l1 0m11 0l-1 0m8 0l1 0m8 0l-1 0m6 0l1 1m-45 3l1 1m7 1l-1 1m6-2l-1 0m9 0h0m28 2h0m8-1h0m53 0l1 0m5-2l0 1m-105 8h0m5-1h0m8 0l-1 0m7 1l0 1m7-2l-1 0m10 0l-1 0m5 0l0 1m70 0l1 0m-120 4h0m8 0l0 1m11 1h0m7-2h0m20 1h0m50 1h0m8 0l0 1m-102 4h0m7 0l-1 0m15 2h0m8-1l-1 1m75-2h0m8 1l-1 0m9 0l-1 1m-46 3h0m9 0l0 1m6 0l0 1m5 0l0 1m17-1h0m6 0h0m7-1l1 1m-24 5h0m6 0l-1 1m7-2l-1 0m-3 8l-1 0m-104 5h0m7 1h0m61-1l-1 0m13 2l1 1m7-3l1 0m7 1l-1 1m-18 4h0m7 2l-1 1m23-2h0" stroke="#6c1606" stroke-width="7.0" stroke-linecap="round"/><path d="M1 0l-1 1m8 0l1 0m13-2h0m6 1h0m8-1l1 1m6 0h0m12 0h0m7 0l1 0m14-2h0m12 1l0 1m10 0l1 0m12 0h0m11 1h0m-126 6l1 1m6-3l0 1m6 2l-1 1m8-2h0m7-2l-1 0m9 0l0 1m28-1l-1 0m15 1l0 1m4-1h0m8 0h0m8 1h0m6 0l1 0m13 0h0m-113 4l0 1m27 1l0 1m21-1l-1 0m22 0l0 1m13-3h0m6 1h0m7-1l-1 1m15 0h0m9-1h0m-122 6l1 0m5 2h0m9-2h0m12 1l0 1m23 0l1 1m12-1h0m6-2h0m21 3h0m7-3l1 0m6 3l1 0m-101 5l-1 0m7-2l0 1m7 1l1 0m8-1l1 1m12-1h0m20-1h0m33 0l0 1m8-1h0m-101 6l0 1m42 1l-1 1m9 0h0m12-1l-1 1m8-2h0m23 1l0 1m5-2h0m6 1h0m8-1l1 0m6-1l1 0m-100 8l1 0m14-2l1 0m19 3l0 1m13-3l1 0m14 1l1 0m4-2l0 1m7 1h0m6-1l0 1m10 0l0 1m12-2l-1 0m-113 7h0m13-1l1 0m43 1h0m11 0l1 0m6 0l1 0m8-2l1 1m5-1h0m8 1l1 0m-102 7h0m8 0l0 1m4-1l0 1m8-2l0 1m7-2h0m7 1h0m29 2l-1 0m34-1l1 0m7 0l-1 0m-107 5h0m7 0l0 1m8 0l1 0m5-2l1 0m11 1h0m21 2h0m15-2l1 0m20-1l0 1m6 1h0m21-1l1 0m5 1h0m-118 5l-1 0m7 1l1 0m11 0l-1 0m8 0l1 0m8 0l-1 0m6 0l1 1m20-3l1 0m7 2l0 1m19 0l0 1m9-1l-1 0m21-1h0m-121 4l1 1m7 1l-1 1m6-2l-1 0m9 0h0m28 2h0m8-1h0m11 0l1 1m29 0l1 0m11-1l1 0m5-2l0 1m-105 8h0m5-1h0m8 0l-1 0m7 1l0 1m7-2l-1 0m10 0l-1 0m5 0l0 1m17-2l1 0m19-1l-1 0m34 3l1 0m-120 4h0m8 0l0 1m11 1h0m7-2h0m20 1h0m50 1h0m8 0l0 1m-102 4h0m7 0l-1 0m15 2h0m8-1l-1 1m28-2l1 0m18-1l0 1m28 0h0m8 1l-1 0m9 0l-1 1m-101 4h0m16-1h0m7 0l0 1m13 0h0m19-1h0m9 0l0 1m6 0l0 1m5 0l0 1m17-1h0m6 0h0m7-1l1 1m-93 6h0m5-1h0m22-1l1 0m41 1h0m6 0l-1 1m7-2l-1 0m-106 7l0 1m8 0l-1 0m6 1l1 0m29-2l-1 0m61 1l-1 0m-104 5h0m7 1h0m12 0l-1 0m22-1l-1 0m29 0l-1 0m13 2l1 1m7-3l1 0m7 1l-1 1m-99 6l1 1m4-1h0m21-2l-1 0m29 0l1 0m26 0h0m7 2l-1 1m23-2h0" stroke="#fdf1ea" stroke-width="3.1" stroke-linecap="round"/></svg>
<rect x="1327.8" y="1860.7" width="120" height="119" fill="#9a9a9a" filter="url(#sh)"/><svg x="1326.2" y="1859.1" width="120" height="119"><g filter="url(#bl)"><use href="#q00" class="t3"/><use href="#q01" class="t3"/><use href="#q02" class="t2"/><use href="#q03" class="t2"/><use href="#q10" class="t3"/><use href="#q11" class="t2"/><use href="#q12" class="t3"/><use href="#q13" class="t2"/><use href="#q20" class="t2"/><use href="#q21" class="t3"/><use href="#q22" class="t3"/><use href="#q23" class="t3"/><use href="#q30" class="t3"/><use href="#q31" class="t2"/><use href="#q32" class="t3"/><use href="#q33" class="t2"/></g><path d="M120 1l1 0m-122 4l1 0m26 2h0m27-1l1 1m12-2l1 0m7 1l1 1m7-2l-1 0m6 1h0m28-1l-1 1m-105 5l-1 1m29-1l0 1m14 1l1 1m24-3l1 0m20 2h0m-91 5l1 1m6-2l-1 1m63 0h0m28 0l-1 1m14-2l-1 1m-93 6l1 0m21 0l1 0m11 1l0 1m8-2l-1 1m13 0l1 0m34-1l1 1m-64 7h0m5-2l0 1m34-1l-1 1m37-1h0m-99 8h0m53-2l-1 0m7 1l-1 0m8 1l-1 0m16-2l1 0m6-1l-1 1m8-1l0 1m-85 6h0m12 1l-1 1m9-3l1 1m12-1l-1 1m21 0l0 1m27-1l1 0m6 0l1 0m-80 6l-1 1m-43 5h0m6 2l-1 0m14 0l1 1m35-3l1 1m14-2h0m21 0l1 1m5 2l-1 1m9-3l0 1m19 0h0m-92 7l1 0m18 0l1 0m13-2l-1 0m56 0l1 1m-73 7l0 1m14-1l-1 1m29-3h0m22 0l-1 1m-92 6l0 1m34-2l-1 0m22 2l0 1m-75 3l0 1m20-1l1 0m9 2l-1 0m6 0l1 0m28 1h0m12-1l1 0m22 0l-1 0m29-2l0 1m-117 6h0m23 0l-1 0m22 1l1 0m4-1l1 0m15-1l1 0m4-1h0m43 3l1 0m-110 4l1 1m21-1l0 1m13-1l-1 0m10 2l1 1m46-2l1 1m11-1h0m-114 6l0 1m14-1h0m28 0h0m8 1h0m26 0l0 1m22-2l0 1m-72 5h0m20 0l1 0m5-1l-1 1m9 1l1 1m19-1l-1 0m10 0l-1 1m15-2h0m-74 5h0m20 1l1 0m8 1l1 1m26-1l-1 1m8-2h0m-67 7l-1 1m36-2l-1 1m21-2l1 1m7 1h0m21-2l0 1" stroke="#c4cae8" stroke-width="4.3" stroke-linecap="round"/><path d="M0 -1l-3 1m13-1l0 2m13-2l0 3m20-1l-2 2m10-3l1 2m20-2l-1 2m7-2l1 1m7 0l2 1m17-1l-1 2m7-2l-2 2m-105 2l3 2m25-2l-3 2m9 0l-1 0m10-1l-3 1m-27 6l0 2m6-3l0 3m34-3l-3 1m37 0l-2 1m23-3l-2 1m-112 6l-1 3m23-3l2 2m10-2l1 3m8-2l-2 1m15-2l2 1m10-2l-2 2m16 0l3 1m4-2l1 3m19-3l-1 3m-96 4l-2 1m22-1l-1 3m7-2l-2 1m17-3l-3 2m22-3l-3 1m16 1l-2 1m18-3l2 1m5 1l3 0m-110 4l0 2m28 0l-1 1m8-1l0 3m5-3l-2 1m32-1l2 3m3-4l-1 2m21-1l-1 2m9-2l-1 1m8-3l-1 3m7 0l1 1m-114 2l-2 2m16 0l-2 1m14-1l-1 1m30-3l1 1m-60 7l-2 0m8 1l-2 2m10-4l2 1m6-1l2 3m19-3l2 0m52-1l-2 1m-58 6l-2 1m17 1l2 2m18-3l2 0m34-1l-2 2m7-2l1 2m6-2l3 1m-81 6l-2 3m22-5l-2 2m50 0l-2 1m-103 4l1 2m20-2l0 3m33-1l1 2m18-4l0 2m7-3l1 2m16-2l2 2m-96 6l1 2m11-2l3 1m18-2l-3 0m18 2l2 1m18-1l-1 2m7-2l1 2m14-5l-2 0m21 1l3 0m-116 7l0 2m9-1l3 1m10-2l2 2m4-3l-2 1m29-1l1 3m5-3l3 1m11-1l-1 2m18-2l-1 2m27-2l-2 0m-112 6l-2 1m36-1l1 2m14-1l-1 3m14-5l-2 2m16 0l1 3m6-4l-2 1m-69 7l-2 3m75-5l2 0m6 1l1 2m7-2l-2 1m-98 5l2 1m31-1l2 3m34-2l-1 3m8-5l2 2m5 0l1 3m-81 2l0 3m21-2l-2 1m7-2l-2 1m37-1l2 1m40-2l2 0m4 2l-2 2m-117 2l0 3m14-1l3 1m16-1l-2 1m36-3l-2 1m44-1l-1 3m8-1l1 3m-108 2l1 3m7-3l-1 3m22-3l-3 2m10-2l1 3m19-2l-3 1m38-2l-3 2m9 0l-1 3m-99 0l3 1m26 2l2 1m9-2l2 0m6 0l-1 1m22-1l3 1m44 0l-1 2" stroke="#d47450" stroke-width="2.4" stroke-linecap="round" opacity="0.85"/><path d="M72 13l1 0m23 6h0m20 35l-1 0m-103 25l1 1m-10 4h0m119 20h0m-83 11l0 1m63 1h0" stroke="#c0583a" stroke-width="6.6" stroke-linecap="round"/><path d="M29 1h0m32 4l1 0m-60 7l-1 0m27 0l0 1m15 0h0m21-2l1 0m-18 6l0 1m12 0h0m-43 6h0m-4 6h0m6 1h0m24 5h0m23 2l-1 0m35 0h0m-26 4h0m-64 6l-1 1m7-2l1 0m5 3l1 0m36-2h0m27 1l1 1m5-3h0m-58 6l1 0m40 0h0m8 0l0 1m-75 7l1 0m62 0l0 1m21 0l-1 1m17-1l0 1m4-1l1 1m-101 4l-1 0m15-1l0 1m78 0l0 1m-67 4l1 0m48 0l-1 0m14 1l0 1m8-2l0 1m-3 7l0 1m6-3l1 0m7 0l-1 0m-72 8l0 1m20-1l1 0m20 0l-1 0m-84 7h0m19 0l-1 1m42-3h0m63-1l1 0m-67 8l0 1m27-3l-1 0m-79 6l-1 0m36 2l1 0m35 0l-1 1m-51 6h0m97-2h0m-120 7l-1 0m14 1l-1 0m7-1h0" stroke="#a03818" stroke-width="6.8" stroke-linecap="round"/><path d="M35 -1h0m55 1h0m7 0l0 1m-85 6h0m6-1l0 1m84-1h0m4 5l1 1m-80 5h0m-25 7l1 0m4 8l-1 0m55-2h0m20 1l-1 0m-72 5l0 1m29 1l1 0m-36 10l-1 1m97 0l0 1m-87 6l1 1m14-2h0m21-1h0m-4 8h0m1 12l1 0m66-2h0m-87 14l0 1m42 3l-1 1m31-1l-1 1m-73 6l-1 0m84 2l1 1m-10 2l0 1m-25 6l1 0" stroke="#6c1606" stroke-width="7.0" stroke-linecap="round"/><path d="M29 1h0m6-2h0m55 1h0m7 0l0 1m-85 6h0m6-1l0 1m43-2l1 0m40 1h0m-100 6l-1 0m27 0l0 1m15 0h0m21-2l1 0m7 2l1 0m33-2l1 1m-80 5h0m20 0l0 1m12 0h0m37 1h0m-94 5l1 0m13 0h0m-9 8l-1 0m6-2h0m6 1h0m43-1h0m20 1l-1 0m-72 5l0 1m29 1l1 0m4-2h0m23 2l-1 0m35 0h0m-26 4h0m-71 6l-1 1m8-1l-1 1m7-2l1 0m5 3l1 0m36-2h0m27 1l1 1m5-3h0m7 2l0 1m-87 6l1 1m14-2h0m7-2l1 0m13 1h0m27-1h0m8 0l0 1m34 0l-1 0m-108 7l1 0m35 1h0m27-1l0 1m21 0l-1 1m17-1l0 1m4-1l1 1m-101 4l-1 0m15-1l0 1m78 0l0 1m-67 4l1 0m7 2l1 0m40-2l-1 0m14 1l0 1m8-2l0 1m5-1h0m-99 7l1 1m90 0l0 1m6-3l1 0m7 0l-1 0m-113 6h0m21 2l0 1m20-1l0 1m20-1l1 0m20 0l-1 0m-84 7h0m19 0l-1 1m42-3h0m6-1l-1 1m31-1l-1 1m28-1l1 0m-102 7l-1 0m36 1l0 1m27-3l-1 0m22 3l1 1m-102 2l-1 0m36 2l1 0m35 0l-1 1m22-3l0 1m26 1h0m-99 7h0m48-2l1 0m48 0h0m-120 7l-1 0m14 1l-1 0m7-1h0m20-1l0 1m63 1h0" stroke="#fdf1ea" stroke-width="3.1" stroke-linecap="round"/></svg>
<rect x="1471.9" y="1860.7" width="120" height="119" fill="#9a9a9a" filter="url(#sh)"/><svg x="1470.3" y="1859.1" width="120" height="119"><g filter="url(#bl)"><use href="#q00" class="t2"/><use href="#q01" class="t3"/><use href="#q02" class="t3"/><use href="#q03" class="t2"/><use href="#q10" class="t3"/><use href="#q11" class="t3"/><use href="#q12" class="t3"/><use href="#q13" class="t2"/><use href="#q20" class="t3"/><use href="#q21" class="t3"/><use href="#q22" class="t2"/><use href="#q23" class="t2"/><use href="#q30" class="t3"/><use href="#q31" class="t3"/><use href="#q32" class="t2"/><use href="#q33" class="t1"/></g><path d="M16 0l1 1m75-2l1 1m10-1l0 1m9 1h0m7-2l1 1m-102 7h0m8-1l0 1m76 1l1 0m4-3h0m9 1h0m6 0l1 1m-122 6l-1 0m15 1l-1 0m36-3h0m8 0l1 0m12 2l1 0m26 0h0m12 0l-1 0m-110 5l-1 1m14 0h0m35 0l-1 1m61-2l-1 0m10 1l1 1m-115 3l-1 0m35 1l0 1m15-1h0m13 1h0m7-2h0m6 1l-1 1m22 1l-1 1m15-3l1 1m7-1l-1 1m-120 6l1 0m5-2l0 1m8-1l1 0m6 1l-1 1m14-1l-1 1m29 0l1 1m20 0l1 0m19-2l-1 0m8 2l1 0m5 0l-1 0m-100 3h0m34 2l1 0m8-2l-1 1m8 1l1 1m18 0l-1 1m10-4l0 1m7 0l0 1m6-1l-1 1m8-2l-1 0m6 2l0 1m-118 4l0 1m27-1l1 0m5-1l-1 0m30 2l-1 0m35-1l1 0m14-1l0 1m5 0h0m6 1h0m-111 5l1 0m4 0l1 1m12 0l1 1m42-2l-1 1m21 0l1 0m5-1l1 0m6 1l-1 1m16-1l-1 0m-107 5l-1 1m23-1l-1 1m7-2l-1 1m21 1l-1 1m44-2l1 0m13 0l1 0m4 0l0 1m-86 5l1 1m15-2h0m46 2l1 1m15-2l-1 1m8 0h0m-46 6l1 0m12 0l-1 0m8-1l-1 0m7 0l0 1m8-1l0 1m8 1l0 1m-101 5h0m43-2l1 0m11 2l-1 0m14 0l1 1m14-2l-1 0m8 1l0 1m6-2l0 1m-93 5l-1 1m29-2l-1 0m15 1l1 0m4-1h0m22 1l1 1m12-2l1 0m15 1h0m6-1l1 1m-122 6h0m7-1l0 1m27-1l-1 1m31 0h0m-47 6h0m28 1l-1 1m16-3l0 1m14 0l0 1m7-1l-1 1m40-2l-1 1m-118 7l1 0m5 0l-1 0m22 0l0 1m8-3l1 1m19 1h0m21-1l0 1m7-1l-1 0m15 1l1 0m6-1l1 0m13 2l-1 0m-115 4l-1 0m22 0l1 1m48 1l0 1m28-4h0m6 2l-1 1m-98 5l-1 1m29 0l0 1m67-4l0 1m7 1l0 1m7-1h0m-92 6h0m13-2l-1 1m9 2l1 0m12-2l1 1m14-2l-1 0m7 1l-1 1m8-1l1 1m4 1l0 1m10-1l-1 1" stroke="#c4cae8" stroke-width="4.3" stroke-linecap="round"/><path d="M1 0l2 2m33-2l-3 1m11-1l-3 1m7-2l2 2m12-1l2 1m21 0l-2 2m16-4l2 1m-104 8l2 1m11-2l2 2m26-2l0 2m8-2l3 0m30-2l3 1m-73 5l-2 1m16 1l-1 1m6-3l-2 0m10 0l-2 1m71 1l-3 0m-98 4l-1 2m31-2l-1 2m7-1l2 2m10-3l-2 1m11 0l-3 0m10 1l-1 1m19-2l-3 1m18-1l-1 1m23 0l2 1m-110 4l-2 0m31 0l-2 0m43-1l1 2m3-1l1 1m-18 5l-1 1m16 0l-3 1m37-3l-1 2m-119 7l-2 3m10-4l0 2m20-3l2 3m39-2l1 2m6-2l3 0m-35 7l-1 1m8-3l0 3m23-2l-1 1m5-1l-1 3m24-3l1 2m-101 3l-3 0m36 0l1 1m8 0l1 2m31-2l2 0m-60 5l2 1m5-1l-1 1m44-1l-1 1m5 0l0 3m14-3l-3 2m26-2l1 2m-108 3l-1 2m9-3l-1 3m7 0l-2 1m8-1l-1 2m22-2l-3 0m30-2l2 1m13-1l2 2m-49 5l-1 2m9-3l-2 0m77 0l-3 1m-97 6l3 1m66-2l1 2m-87 5l-1 3m23-3l1 2m27-4l0 2m28-1l0 3m11-2l-2 3m17-4l-1 2m-8 7l2 2m-102 2l2 1m10-2l-2 1m24 0l-3 1m23-1l-3 2m36-1l-1 2m15-2l0 2m14-4l-3 1m-89 5l3 2m44-2l-1 2m43-1l2 3m-115 3l1 1m48-1l3 1m10-2l2 2m5-1l1 2m11-2l-2 3m18-1l-2 1m23-3l2 0m3 1l-3 2m-102 4l-1 1m6 0l2 0m7-3l-2 2m20 1l2 1m6-2l2 1m13-2l2 1m3-2l2 0m-81 6l3 1m6 0l1 2m4-3l-2 1m10 1l2 0m11 1l0 2m76-4l1 2m6-3l-1 1m8 1l-1 3" stroke="#d47450" stroke-width="2.4" stroke-linecap="round" opacity="0.85"/><path d="M7 -1h0m-4 6l-1 1m102 19l-1 1m-8 5l-1 1m-4 28l-1 0m-24 13l1 0m12 10l1 1m39 2h0m-54 11l0 1m27 11l1 0m-25 7l1 0" stroke="#c0583a" stroke-width="6.6" stroke-linecap="round"/><path d="M23 1h0m33-2l1 0m13 2l0 1m7-2l0 1m-18 6l-1 0m10-2h0m4 0l-1 0m17 1l-1 0m7 0l1 0m-53 6l0 1m35-1h0m6 0h0m8 0l1 0m-19 5l-1 1m-44 5h0m17 6h0m23 0l0 1m-47 6l0 1m16 1l1 0m6-2l-1 0m-30 7l-1 0m55-1l0 1m20 0h0m-90 11l0 1m9 0h0m39-1l0 1m37-1l-1 0m-53 7l1 0m27-1l0 1m7 0l0 1m-64 4h0m5 1h0m7-1h0m7 2h0m9-2l-1 0m-19 8h0m23-1h0m6 1l-1 0m14-2h0m30 0l1 0m39 0l0 1m-79 7l0 1m-19 3l1 0m7 3h0m15-1l0 1m6-2h0m5-1l0 1m16-1h0m19 2h0m23-2l0 1m-69 14h0m-33 5l-1 1m10-1l1 1m11-3l1 0m21 0l1 0m9 7l0 1m-11 7l-1 0" stroke="#a03818" stroke-width="6.8" stroke-linecap="round"/><path d="M81 18h0m-72 5l1 1m12 0l1 0m33 0h0m-4 6l1 1m-32 18l-1 0m36-1h0m27 0l1 1m28 1l0 1m-59 4l0 1m40-2l1 0m-62 13l-1 0m35 1h0m-65 4h0m42 1h0m-9 6h0m38-1h0m13 7l1 0m-82 6l1 0m19-1l0 1m71-1h0" stroke="#6c1606" stroke-width="7.0" stroke-linecap="round"/><path d="M7 -1h0m16 2h0m33-2l1 0m13 2l0 1m7-2l0 1m-74 4l-1 1m57 1l-1 0m10-2h0m4 0l-1 0m17 1l-1 0m7 0l1 0m-53 6l0 1m35-1h0m6 0h0m8 0l1 0m-19 5l-1 1m9 0h0m-72 5l1 1m12 0l1 0m5-1h0m28 1h0m48 1l-1 1m-58 3h0m7 1l1 1m15-2l0 1m27 1l-1 1m-73 4l0 1m16 1l1 0m6-2l-1 0m-30 7l-1 0m55-1l0 1m20 0h0m-66 6l-1 0m36-1h0m27 0l1 1m28 1l0 1m-115 3l0 1m9 0h0m39-1l0 1m8 0l0 1m29-2l-1 0m12 0l1 0m-66 7l1 0m27-1l0 1m7 0l0 1m27-2l-1 0m-90 6h0m5 1h0m7-1h0m7 2h0m9-2l-1 0m6 1l-1 0m35 1h0m-65 4h0m6 2h0m23-1h0m6 1l-1 0m8-1h0m6-1h0m16 1l1 0m13-1l1 0m39 0l0 1m-85 6h0m6 1l0 1m32-3h0m-51 6l1 0m7 3h0m15-1l0 1m6-2h0m5-1l0 1m16-1h0m7-1l1 1m6 1l1 0m4 1h0m23-2l0 1m5 1h0m-114 5l1 0m19-1l0 1m71-1h0m-51 9h0m20-2l0 1m-53 6l-1 1m10-1l1 1m11-3l1 0m21 0l1 0m9 7l0 1m27-1l1 0m-39 8l-1 0m15-1l1 0" stroke="#fdf1ea" stroke-width="3.1" stroke-linecap="round"/></svg>
<rect x="1616" y="1860.7" width="120" height="119" fill="#9a9a9a" filter="url(#sh)"/><svg x="1614.5" y="1859.1" width="120" height="119"><g filter="url(#bl)"><use href="#q00" class="t2"/><use href="#q01" class="t2"/><use href="#q02" class="t2"/><use href="#q03" class="t2"/><use href="#q10" class="t2"/><use href="#q11" class="t2"/><use href="#q12" class="t2"/><use href="#q13" class="t2"/><use href="#q20" class="t2"/><use href="#q21" class="t2"/><use href="#q22" class="t2"/><use href="#q23" class="t2"/><use href="#q30" class="t2"/><use href="#q31" class="t2"/><use href="#q32" class="t2"/><use href="#q33" class="t1"/></g><path d="M13 1l-1 0m10-2l0 1m18-1l0 1m17 1l-1 0m14-1l1 0m6 0l0 1m19 0l1 1m6-2l0 1m7 0l-1 0m-104 6h0m13-2l1 0m27 0l0 1m5-1h0m7 2l-1 1m7-3l-1 0m18 1h0m5 1l-1 1m9-1h0m5-2l-1 0m22 2l-1 1m-118 3l-1 1m6 0l1 0m7-1l-1 1m9-1l1 0m6 2l1 0m4 1l-1 0m16-2l-1 0m27 0h0m9 0l-1 0m7 0l-1 0m14-1l1 1m14 0l-1 0m7-1l-1 0m-126 6h0m15 1h0m4 2l1 0m15 0l1 1m38-4l0 1m22 1l-1 1m13-2l1 1m-77 6h0m13 1l-1 0m21-1l1 0m6-1l-1 1m7-2l1 1m7 2l-1 1m13-1l1 0m27 0l-1 1m-111 3l-1 1m20-1l0 1m9 0l-1 0m27 0l1 0m6-1l-1 0m16 2l1 0m5-1l1 0m27-1l1 1m-122 7l1 0m7-1l-1 1m21-3h0m7 1l0 1m26-1l1 1m49-1l-1 1m8-2l-1 1m-121 6l-1 1m16-2l0 1m7 0l-1 1m6 0h0m28-1l-1 1m8 1l1 0m21 0l1 0m20-2l0 1m-99 6l-1 0m13 1l1 1m4-2l1 1m55 0l1 0m12-3l0 1m9-1l-1 1m-93 6l1 1m48 0l-1 0m15-1l1 1m6-2l0 1m6-1l-1 1m10 0l1 1m17-1h0m-100 7l1 0m49 1l1 0m6-1h0m12-1l1 0m41 0h0m7 2h0m-120 3l1 1m20 1l-1 1m7-2l-1 0m23 2l-1 1m6-4l0 1m16 1l-1 0m7 0l-1 0m6 0h0m8 0l1 1m-93 5l1 1m18-3l1 0m14 2h0m15 0l-1 0m28 1h0m20-1l1 0m-67 6l-1 0m7 1l0 1m7-3l0 1m9 0l0 1m11-2l1 0m15 0l1 0m4 2l1 0m6-1l1 1m28-2l0 1m-121 6l1 0m5-1l0 1m21 0l-1 1m9-2l1 0m11 0l-1 1m9 0l0 1m9 1l1 1m3-5l-1 0m9 2l1 1m12 0l-1 1m8-2l-1 0m14 1l1 0m13-1l1 1m-122 7l-1 1m8-2l1 1m29-1l1 1m6-1h0m19-1l0 1m9-2l1 0m19 1l0 1m19 0l-1 0m-106 4l-1 1m21 1h0m45 0l1 0m5-1l1 1m19-2l-1 1m9 1l1 1m5-2l1 1m-101 4h0m20 1l1 1m6 0l0 1m6-1l1 1m22-1l1 1m5-3h0m15 0l1 1m5 0h0m20 1l1 0m-116 6l0 1m16-3h0m19 2l1 0m13-2l1 0m27 1l1 0m13 0l-1 0m16 1h0m13-2l-1 0m-94 8l1 1m7-3h0m21 1l1 1m14 0l-1 1m8 0l0 1m13-4l1 1m7 0l1 1m3 0h0m8 0l1 0m6-2l-1 0m7 0l1 0" stroke="#c4cae8" stroke-width="4.3" stroke-linecap="round"/><path d="M33 1l2 3m15-4l-2 2m16-2l3 1m23-1l-2 0m31 0l0 2m4-1l2 0m-115 5l-1 3m17-4l1 2m11-1l0 2m71-2l-3 1m9-2l2 1m-76 7l2 2m20-2l2 1m32-1l0 2m-95 3l2 1m33-1l2 0m7 1l0 3m13-4l0 2m20-1l-1 1m7-3l0 2m-83 7l1 2m3-5l-1 1m86 0l1 1m19-1l-1 1m6 0l-3 0m-115 5l3 1m17 1l2 1m5-3l1 3m26-2l0 2m6-3l0 3m22-1l3 1m-63 3l3 0m53 1l-3 1m17-2l2 1m4 1l0 3m-93 2l3 2m24-1l2 3m13-6l-2 2m23-1l-2 2m8-2l0 2m14-1l-2 1m30 0l3 1m4-2l2 3m-61 4l-2 3m23-5l-3 2m25-2l0 2m7 0l2 2m-116 2l2 2m9 0l-3 1m24-1l1 2m6-4l-2 2m24 0l-1 3m37-3l2 0m16-2l1 3m8-2l1 2m-110 4l2 1m6-1l-2 3m23-4l-1 3m27-2l-1 2m16-2l-3 1m9-1l-1 3m8-5l2 2m-80 5l-1 3m27-1l1 2m63-2l-2 3m13-3l2 1m-107 3l-1 3m27-3l0 2m16 0l3 1m11-4l2 0m11 1l-2 0m8 1l1 2m14-1l-2 2m9-3l-1 3m-106 4l-1 2m8-4l-2 1m65 0l0 3m33-4l-3 0m-61 8l1 2m39-2l2 2m18-4l-3 2m18-1l0 2m-93 3l-3 1m10-1l0 3m21-3l-1 3m28-1l2 2m19-2l2 2m3-4l-1 2m-106 5l0 2m14-2l1 2m7-3l-3 1m32 0l-1 1m15-1l0 2m17 0l-2 0m10-2l3 0m25 0l-2 2m8-1l-2 1m-124 3l-2 3m28-2l1 2m26-2l-3 1m31 0l2 1m40-2l1 2m-116 3l-2 0m17 3l0 2m22-5l2 1m17 0l-1 1m22 0l-2 1m-77 5l-1 1m9-3l3 1m4 1l-1 3m22-4l-3 2m22-1l0 2" stroke="#d47450" stroke-width="2.4" stroke-linecap="round" opacity="0.85"/><path d="M52 19l0 1m13-1l-1 0m-26 23h0m70 2l1 1m-102 4h0m28 0h0m-38 17h0m116 2l-1 0m-86 12h0m89-2l1 0m5 14h0m-92 17l0 1m17 6l0 1" stroke="#c0583a" stroke-width="6.6" stroke-linecap="round"/><path d="M-2 7h0m74 0h0m39 6h0m2 4h0m8 1l1 0m-102 7l1 0m26 0l1 0m7-1l-1 1m47 5l1 0m-60 8h0m42-1l0 1m11 5h0m-55 5h0m83-1h0m-98 7h0m21 0l-1 0m-10 6l-1 0m-25 6l1 0m-2 8l1 0m20-1l-1 0m-7 12l-1 1m40 7l0 1m-25 3h0m34 13h0m27-1h0" stroke="#a03818" stroke-width="6.8" stroke-linecap="round"/><path d="M1 1l-1 0m30 4l-1 0m41 7h0m31 7l1 1m-86 34l1 0m12 6h0m30 17h0m40 3h0m-81 10l1 0m66 0l-1 1m-27 7l-1 0m-2 12l1 0" stroke="#6c1606" stroke-width="7.0" stroke-linecap="round"/><path d="M1 1l-1 0m-2 6h0m32-2l-1 0m43 2h0m-2 5h0m41 1h0m-59 6l0 1m13-1l-1 0m37 0l1 1m11-3h0m8 1l1 0m-102 7l1 0m26 0l1 0m7-1l-1 1m47 5l1 0m-60 8h0m42-1l0 1m-46 4h0m57 1h0m13 1l1 1m-102 4h0m28 0h0m5-1h0m83-1h0m-107 7l1 0m8 0h0m21 0l-1 0m-16 6h0m6 0l-1 0m-37 6h0m12 0l1 0m103 2l-1 0m-104 6l1 0m20-1l-1 0m-2 7h0m33-3h0m40 3h0m16-2l1 0m-95 7l-1 1m-2 4l1 0m41 3l0 1m25-4l-1 1m37 1h0m-86 5h0m22 1l-1 0m-27 11l0 1m25 0l1 0m14 0h0m27-1h0m-50 7l0 1" stroke="#fdf1ea" stroke-width="3.1" stroke-linecap="round"/></svg>
<rect x="1760.2" y="1860.7" width="120" height="119" fill="#9a9a9a" filter="url(#sh)"/><svg x="1758.6" y="1859.1" width="120" height="119"><g filter="url(#bl)"><use href="#q00" class="t2"/><use href="#q01" class="t2"/><use href="#q02" class="t2"/><use href="#q03" class="t3"/><use href="#q10" class="t3"/><use href="#q11" class="t2"/><use href="#q12" class="t2"/><use href="#q13" class="t3"/><use href="#q20" class="t2"/><use href="#q21" class="t3"/><use href="#q22" class="t2"/><use href="#q23" class="t2"/><use href="#q30" class="t2"/><use href="#q31" class="t2"/><use href="#q32" class="t2"/><use href="#q33" class="t2"/></g><path d="M2 0l1 0m6-1l-1 1m34 0l1 0m13 1l-1 1m9-3l0 1m7 1l1 1m7-1l-1 0m27-2l0 1m-72 7l0 1m6-3l-1 0m15 3l-1 0m23-2l-1 1m36-3l0 1m-108 7l-1 1m15 0l0 1m15-2h0m4-1h0m10 0l0 1m6 0l1 0m4 1h0m14-2l-1 0m49 1l-1 0m-105 5h0m22 3l1 0m27-2l1 0m18 0l-1 1m14 0l1 0m-99 5l1 0m5 2l0 1m28-4l0 1m42 0l-1 1m33-1l1 1m-98 6l-1 0m13-1l1 0m21 1l0 1m6-1h0m6-2l-1 0m17 1l-1 1m6 0l1 0m-31 6l0 1m5-1l-1 1m15-2h0m23 1h0m12 1h0m8 0l1 1m5-4l1 1m7 2l1 1m-123 4l1 0m41-1l1 0m12 1l1 1m7-1l1 1m5-1l0 1m29-1l1 0m25 1l-1 0m-120 5l0 1m13-1l1 0m14 0l1 0m6 1l1 1m8-2l0 1m12-2l1 1m6 1h0m21-2l0 1m20 1l1 0m7 0l0 1m-106 2l0 1m6 1l1 1m5 0l1 1m12-2h0m13 1l1 0m9-2l-1 0m13 0l0 1m36 1l0 1m-93 3l-1 1m63-1l0 1m13 0l-1 0m14-1l0 1m7 0h0m15-1l1 0m-101 8l1 1m6-4l-1 1m15 0l1 1m5 0h0m13-2l1 1m26 2l1 0m6-2l-1 1m17-2l-1 1m12 2h0m-104 5l1 1m6-2l-1 0m26 2l-1 1m29-3l1 0m41 0l1 0m-123 6h0m15 1l-1 0m23-1l-1 1m6-1l1 1m5 0h0m15-1l-1 1m10 1l-1 1m13-1l-1 1m9-2l1 1m5 0l1 1m4-1l-1 0m17 0l1 1m4-4l1 1m-120 6l1 1m26-1l0 1m37 1l1 1m3-1l1 1m14-3l-1 1m8 0l0 1m6-1l1 1m12-1h0m-107 8l-1 0m22-1h0m8 0l-1 1m30-2l1 0m4 1l1 1m19-2l0 1m7 0l1 1m13-1l-1 0m-99 6l1 0m7-2l0 1m13 1l1 0m6 0l1 0m12-2l1 1m6 0l-1 0m9 1h0m7 0l1 1m39-3l1 0m-113 7l-1 0m20 1l-1 0m17-2l1 1m11 1l1 0m34-2l0 1m8 1l-1 1m-80 5l0 1m20-3h0m16 0l1 0m5 0l1 0m20 1l0 1m12-1l-1 1m17-1l-1 1m8-1h0m6 0l0 1m6 1l0 1m-106 3l-1 1m8 0l0 1m6-2l-1 0m9 1h0m6-1l0 1m9 1l-1 1m27-2h0m7 0l1 0m26-2h0" stroke="#c4cae8" stroke-width="4.3" stroke-linecap="round"/><path d="M21 0l1 3m7-2l-2 1m10-1l2 1m11-2l2 0m46 0l-2 0m-97 7l2 0m20 0l3 0m24 0l1 2m12-3l-1 3m20-1l-3 1m26-3l1 1m13-2l0 2m7-2l3 1m-64 8l-2 2m37-3l1 3m-92 4l-2 1m13-1l2 2m26-4l0 2m21-3l-3 1m12-1l-2 2m35-2l-1 3m14-3l-2 1m-112 5l1 1m6-1l0 2m8-2l1 3m14-1l-1 2m7-3l-2 2m22-2l1 1m19 0l1 2m33-4l-1 2m-118 4l2 1m25-1l3 0m5 2l2 2m81-3l-2 1m9-1l-1 3m-120 4l2 0m4 0l1 2m11-3l2 1m55 0l-1 3m13-3l0 2m-78 4l2 1m34-1l2 1m33-1l-1 1m19-2l-1 3m-92 5l2 0m61 0l3 0m46-2l-1 3m-121 2l-3 1m31 1l0 2m14-3l-2 0m21 2l-2 3m18-4l2 1m5-1l-3 1m-51 4l2 1m7 0l0 2m14-2l-2 1m7-2l1 1m6 1l-2 1m-63 4l-3 0m39-1l-3 1m24 1l-2 0m20 0l0 2m8-3l2 1m18 0l2 1m-38 4l0 3m19-3l-2 1m8 0l-2 1m24-3l-1 2m-105 4l2 1m65-2l1 1m-65 9l1 3m12-7l-2 2m29 0l-1 1m9 0l1 3m21-4l-3 1m-30 7l2 1m7-2l-2 3m21-5l2 1m5 1l-2 2m24-2l2 1m-103 3l-3 2m44-1l-1 1m49-1l-3 0m10 0l1 3m21-2l-2 2m-93 4l3 0m12-2l2 2m17 0l-3 0m53 0l-1 1m6-3l2 2m-115 4l-1 3m17-1l1 3m39-4l0 2m6-3l0 3m-8 6l-1 2m8-4l-3 1m28-1l0 3m9-2l3 2" stroke="#d47450" stroke-width="2.4" stroke-linecap="round" opacity="0.85"/><path d="M27 7l1 0m57 6h0m-57 6l-1 0m51 4l0 1m-21 14l0 1m18 2l0 1m1 7l1 1m10 4l-1 0m-76 18l-1 0m60 0h0m28 1l0 1m12 6h0m-24 17h0m-31 7l1 0m-17 6l1 1m-33 5h0" stroke="#c0583a" stroke-width="6.6" stroke-linecap="round"/><path d="M111 1h0m-44 4l1 0m45 8l-1 0m-71 4h0m14 3h0m35-1l0 1m11 0l-1 0m14-2l0 1m-16 6l1 0m14-1h0m-99 8h0m94-2l-1 0m-92 7l1 0m13 0l1 0m-24 5l0 1m13-1l1 0m6 2l-1 1m7-4l-1 0m58 2l-1 0m22 1h0m-86 5l0 1m68-3h0m6 1l0 1m-2 4l-1 0m15 1l1 0m-33 7l-1 0m14 0h0m23-2l-1 1m-93 18l1 1m5 0l0 1m29 0h0m-41 6l-1 0m29 0l0 1m64 9h0m-32 6h0m5 6h0m24 9h0" stroke="#a03818" stroke-width="6.8" stroke-linecap="round"/><path d="M92 0l1 0m-83 13l1 1m-12 5l-1 0m117 24l1 0m1 12l1 1m-73 6h0m22 4l-1 0m-35 8h0m6-2l0 1m7-1l-1 1m63 0h0m-71 12h0m4 7l1 1m82-3l1 1m-29 12l-1 1m9-1h0m-103 13h0m116 0h0" stroke="#6c1606" stroke-width="7.0" stroke-linecap="round"/><path d="M92 0l1 0m18 1h0m-84 6l1 0m39-2l1 0m-58 8l1 1m74-1h0m28 0l-1 0m-113 6l-1 0m30 0l-1 0m14-2h0m14 3h0m35-1l0 1m11 0l-1 0m14-2l0 1m-36 4l0 1m20 1l1 0m14-1h0m-99 8h0m94-2l-1 0m-92 7l1 0m13 0l1 0m27 1l0 1m-51 3l0 1m13-1l1 0m6 2l-1 1m7-4l-1 0m44 0l0 1m14 1l-1 0m22 1h0m5-1l1 0m-92 6l0 1m52-1l1 1m15-3h0m6 1l0 1m-11 5l-1 0m10-1l-1 0m15 1l1 0m6 1l1 1m-73 6h0m33-1l-1 0m14 0h0m23-2l-1 1m-46 6l-1 0m-56 6l-1 0m22 2h0m6-2l0 1m7-1l-1 1m26-1h0m28 1l0 1m9-1h0m-86 5l1 1m5 0l0 1m29 0h0m54 0h0m-95 6l-1 0m22-1h0m7 1l0 1m-3 5l1 1m82-3l1 1m-38 6h0m21-1h0m-52 8l1 0m19-2h0m20 1l-1 1m9-1h0m-64 7l1 1m40-3h0m-80 8h0m7 0h0m97 1h0m12-1h0" stroke="#fdf1ea" stroke-width="3.1" stroke-linecap="round"/></svg>
<rect x="1904.3" y="1860.7" width="120" height="119" fill="#9a9a9a" filter="url(#sh)"/><svg x="1902.8" y="1859.1" width="120" height="119"><g filter="url(#bl)"><use href="#q00" class="t2"/><use href="#q01" class="t3"/><use href="#q02" class="t3"/><use href="#q03" class="t3"/><use href="#q10" class="t2"/><use href="#q11" class="t2"/><use href="#q12" class="t2"/><use href="#q13" class="t2"/><use href="#q20" class="t2"/><use href="#q21" class="t2"/><use href="#q22" class="t2"/><use href="#q23" class="t2"/><use href="#q30" class="t2"/><use href="#q31" class="t2"/><use href="#q32" class="t3"/><use href="#q33" class="t3"/></g><path d="M9 1l1 1m24-3l-1 0m22 2l1 0m28-2l-1 0m13 1l1 1m15-1l0 1m4-2l-1 1m-113 5l1 1m7-1l-1 0m21 2h0m51-1l-1 0m21 1l1 1m4-3l-1 0m-106 7l-1 1m16-1h0m20 0l1 1m22-1h0m26 0l-1 1m27-2l-1 1m-71 5l1 1m15 0l-1 1m40-1l-1 1m10-1h0m21 1l1 1m-116 5l-1 1m21-2l-1 0m10 0h0m19 1h0m21 0l-1 0m8-1l1 1m7 1l-1 1m14-1l1 0m-101 4l-1 0m29 0h0m54 1h0m8 1l-1 1m7-2l1 1m7-3l1 1m4 0l1 0m-114 7h0m19 0l1 0m9 0l1 0m26 1l-1 0m6 0h0m28-2l1 1m8 0l1 0m6 1l-1 0m-107 4l1 0m34 1l-1 0m8-1l-1 0m13 1l-1 0m9 0l1 0m26 0l0 1m21-1l1 0m-102 7l1 0m21 0h0m14-2h0m6-1l-1 1m16-1l-1 1m9 2l1 0m4-2l0 1m6 0l1 1m7-2l-1 0m7-1l1 1m-74 8l-1 1m9-3l-1 1m8-2l1 1m12 2l0 1m8-3l-1 0m23 0l1 1m40 0l-1 0m-106 6l1 1m19-2l-1 1m20 0l1 0m15-1l1 1m4 1l-1 1m15-3h0m14 1l-1 0m9 0l0 1m5-2l1 1m-115 7h0m9-2l0 1m22-2l-1 0m14 2l-1 0m8-2l-1 1m7 0l1 1m39 1h0m14 0l0 1m7-1l-1 1m-119 5l1 1m7-3h0m26 0l1 0m42 2l0 1m32-1l-1 0m16-3h0m-127 9h0m34 0l0 1m57-3l1 0m13 1h0m14-1l1 1m4-2l0 1m-100 8l-1 1m8-1l-1 0m8-2l-1 1m22-1l-1 1m22 1h0m33 1l1 1m12-4l-1 1m-91 6l1 1m19-1l1 0m8-1l0 1m7 0l1 0m-68 7l1 1m6-1l-1 1m9-1l-1 1m14-3l-1 1m27 0l0 1m9-2l-1 1m22 2l1 1m-87 3l1 0m19 2l1 0m18-2l1 0m9 1l1 0m5 0l1 1m53-2h0m-99 8l-1 0m20-2h0m8 0l-1 1m14 1l1 0m5-2l0 1m9-1l0 1m-58 6l1 0m4-2l-1 1m22 1l0 1m21-1l-1 0m21-1l0 1m21-1l1 1" stroke="#c4cae8" stroke-width="4.3" stroke-linecap="round"/><path d="M28 1l-2 2m15-3l-1 3m21-4l2 0m26 2l-3 0m-60 5l-1 3m26-4l0 2m7 0l3 2m12-2l0 2m19-3l2 0m-87 5l2 1m11-1l3 1m26 1l-1 1m42-1l0 2m14-2l3 2m12-3l0 3m-110 3l0 2m7-2l-2 1m71-2l2 3m-86 4l-3 2m44-3l0 2m6-2l2 1m61-1l-2 0m-71 7l2 2m5-1l-3 1m16-3l1 2m7 0l2 0m52-2l-1 1m-112 6l3 1m25 0l0 3m34-3l-1 2m15-3l2 1m-67 7l-2 1m28-3l2 2m19-1l-1 1m30 0l1 1m20-4l-1 3m8 0l2 1m-123 5l1 2m19-3l-1 1m15-2l-2 1m21 0l2 2m48-3l-1 2m-106 4l1 1m7 0l3 2m4-3l-2 2m7-1l1 3m27-5l1 3m20-1l-2 0m36-1l1 2m13-1l1 1m-107 4l-1 2m34 0l0 2m6-2l0 2m35-2l-3 1m44-1l3 1m-129 4l-1 3m23-2l-2 2m20-3l0 2m37-2l-2 2m8-3l2 2m6-1l2 2m4-2l0 3m-81 1l0 3m9-1l-2 1m30 0l1 1m54-2l3 1m11-1l3 1m-117 6l2 1m3-1l1 3m5-3l-1 3m30-5l3 2m11 1l-1 2m9-5l2 0m24 0l-3 0m18 0l1 3m-109 5l2 2m83-3l0 2m4-1l2 1m13-2l2 0m12 1l-3 0m-104 7l-1 2m7-4l-1 1m23-2l-1 2m9-1l-3 2m29-1l2 0m6-2l-1 2m36-2l-1 3m6-1l1 3m-86 1l2 1m4 0l2 2m26-1l3 0m-61 6l-3 1m14-1l0 2m64-2l1 3m7-4l-1 2m5-3l0 1m16 0l-1 2m-114 3l2 0m11 2l2 2m5-3l2 3m20-4l-1 1m27-1l-1 3m17-2l-3 2m22-2l1 2m8-1l1 2m-96 5l-2 1m45-2l-1 1m22-3l-1 1m20 2l0 2m6-3l1 2m6-3l2 2" stroke="#d47450" stroke-width="2.4" stroke-linecap="round" opacity="0.85"/><path d="M20 0l1 1m0 22h0m-10 21h0m2 5l-1 0m100 1l-1 1m-25 5h0m12 4l0 1m-9 12h0m-81 12l0 1m6 0l1 1m35 10l-1 1m-46 5l0 1" stroke="#c0583a" stroke-width="6.6" stroke-linecap="round"/><path d="M68 1l-1 0m-50 5h0m105-1l1 0m-94 7l1 1m12-2l0 1m22 0h0m11 0l-1 0m22-1h0m-66 7h0m15 1h0m29-2l-1 0m33 0h0m8 1l-1 0m-49 5l-1 0m54 0h0m-93 8l1 1m28-3h0m24 8l0 1m-4 5l-1 1m8-2h0m28 11l1 0m-107 7h0m39 14l0 1m11 5l0 1m33 9l1 0m7 2l-1 0m-1 4l0 1m5 0h0m9 0l0 1m13-2h0m-59 7l1 0m19 2h0m43-3h0m-31 8h0m6-2l-1 0m27 1l0 1m-126 4h0m27 1h0m43 0l-1 1m55-1l-1 0" stroke="#a03818" stroke-width="6.8" stroke-linecap="round"/><path d="M48 1l0 1m29-3h0m-12 8l0 1m21-1l1 0m-16 6h0m-5 6l1 0m-58 11l-1 0m33 6h0m59 5h0m-7 14l-1 1m-29 6l-1 0m-37 5h0m58 5h0m-44 5l1 0m2 7h0m35 14l1 0m-4 7h0m2 5h0m42 0l1 1m-82 4l-1 1m51-1h0" stroke="#6c1606" stroke-width="7.0" stroke-linecap="round"/><path d="M20 0l1 1m27 0l0 1m20-1l-1 0m10-2h0m-60 7h0m48 1l0 1m21-1l1 0m35-2l1 0m-94 7l1 1m12-2l0 1m22 0h0m7 1h0m4-1l-1 0m22-1h0m-66 7h0m15 1h0m21 0l1 0m7-2l-1 0m33 0h0m8 1l-1 0m-92 5h0m43 0l-1 0m54 0h0m-108 7l-1 0m16 1l1 1m28-3h0m-12 7h0m36 1l0 1m-66 6h0m62-1l-1 1m8-2h0m20-1h0m-87 8l-1 0m100 1l-1 1m-25 5h0m7-1l-1 1m16-3l1 0m-107 7h0m61 2l-1 0m36-2l0 1m-73 6h0m16 7l0 1m42-3h0m6 1h0m-50 4l1 0m12 3l0 1m-44 4l0 1m6 0l1 1m27-3h0m43 6l1 0m7 2l-1 0m-42 5l-1 1m28 0l1 0m13-2l0 1m5 0h0m9 0l0 1m13-2h0m-115 7l0 1m56-1l1 0m14 2h0m5 0h0m43-3h0m-46 8h0m15 0h0m6-2l-1 0m22 2l1 1m4-2l0 1m-126 4h0m27 1h0m13 0l-1 1m31-1l-1 1m21-1h0m34 0l-1 0" stroke="#fdf1ea" stroke-width="3.1" stroke-linecap="round"/></svg>
<rect x="2048.5" y="1860.7" width="120" height="119" fill="#9a9a9a" filter="url(#sh)"/><svg x="2046.9" y="1859.1" width="120" height="119"><g filter="url(#bl)"><use href="#q00" class="t3"/><use href="#q01" class="t4"/><use href="#q02" class="t5"/><use href="#q03" class="t5"/><use href="#q10" class="t3"/><use href="#q11" class="t2"/><use href="#q12" class="t4"/><use href="#q13" class="t5"/><use href="#q20" class="t3"/><use href="#q21" class="t2"/><use href="#q22" class="t3"/><use href="#q23" class="t5"/><use href="#q30" class="t2"/><use href="#q31" class="t2"/><use href="#q32" class="t2"/><use href="#q33" class="t3"/></g><path d="M63 0l-1 0m-58 5l-1 0m29 1l-1 0m78 1l-1 1m-106 5l1 0m8 6h0m90-1l-1 1m-98 4l-1 0m13 1l1 0m-18 8l1 1m35 10l-1 1m8-1l1 1m-18 6l0 1m5-2l1 1m14-3l-1 1m-16 5l0 1m-19 6l-1 0m42 2l-1 0m10-1l0 1m7-1h0m-60 7l1 0m46-2l1 1m7 1l0 1m14-3l-1 0m-44 8l-1 1m-30 3l1 1m5 0l-1 0m9 0h0m7 0l0 1m20-1l-1 0m16-1l0 1m-53 7l1 0m5-2h0m37 2l1 0m-26 5l1 0m26 0l-1 0m35 0l0 1m23 0l-1 1m8-1l1 0m-97 6l1 1m27-2l0 1m9-1l-1 1m7 0l-1 0m-58 5l-1 1m30-2h0m7 1l1 0m12 1l1 0m12 1l0 1m28-3l0 1m19-2l-1 0m-99 7l1 1m9-2l1 1m4 1h0m6 0l-1 0m16 0l1 1m6-3l1 1m28-1l-1 0m5 2l1 1m6-2l-1 1m22-1l-1 1m-106 5l-1 0m28 0l1 1m15-2h0m13 2l0 1m13-1h0" stroke="#c4cae8" stroke-width="4.3" stroke-linecap="round"/><path d="M8 0l-1 3m20-2l0 2m16-2l1 2m-32 4l0 2m5-3l3 1m4-1l-2 2m29-2l1 3m20-4l1 1m15 1l2 3m-75 1l1 2m6-1l-2 3m30-2l-3 0m-50 5l1 1m26-1l-1 2m9-1l0 3m14-4l-2 0m7 1l-2 0m11 1l1 3m12-4l1 2m46-3l-1 1m-111 5l2 0m11 1l-2 2m21-2l-1 2m10-4l-2 0m-43 6l-2 1m17 0l2 0m2 0l-2 1m12 0l-1 2m12-2l-2 1m32-2l-3 1m-55 5l2 1m2 0l-1 3m8-3l-1 2m10-1l3 0m2 0l-3 0m17-1l-3 1m18-3l0 2m13-2l-3 0m-82 9l-2 1m9-2l-2 1m13-2l1 3m35-3l2 2m34 0l0 2m20-2l1 1m-61 4l-3 0m24-1l-1 2m9-2l2 2m24-1l0 2m-59 3l1 1m14-2l-2 0m10 2l3 0m2-1l-2 0m17 0l3 1m9 1l-2 2m-95 1l-1 3m34-3l0 3m42 0l1 2m14-3l-1 3m19-3l-1 3m-72 3l0 2m30-1l-3 0m16-2l1 1m12-1l2 0m-95 6l-2 2m9-3l1 2m28 1l-3 0m24-1l-1 2m6-2l0 2m14-3l2 1m-34 7l2 1m12-1l-1 2m21-3l3 1m-59 5l3 2m11-3l2 1m31 2l-2 1m16-3l1 3m13-4l-1 2m14-2l1 3m5-1l1 3m-108 3l-2 1m23-1l1 2m29-2l-1 1m15-2l1 2m46-2l2 2m-123 5l-3 0m9-1l0 3m65-4l3 1m3 1l-1 2m7-3l1 1m13 1l1 1m20-2l-3 1m-111 5l2 2m4-2l3 2m6-2l-2 0m97 0l-3 1m9-1l1 1m-87 6l1 1m20-3l0 2m63-3l-2 1m-104 5l2 0m11 2l2 0m11-2l1 2m40-2l-2 0m37 2l1 2" stroke="#d47450" stroke-width="2.4" stroke-linecap="round" opacity="0.85"/><path d="M37 54l1 0m13 1l0 1m-23 41l1 0m8 8h0m28-1l-1 0m17-2l1 0" stroke="#c0583a" stroke-width="6.6" stroke-linecap="round"/><path d="M23 0l1 0m-27 5h0m12 6h0m18 2h0m-24 5h0m24 7l-1 1m13 4h0m13-1l-1 1m-51 8h0m49-3l1 1m14 2l0 1m-19 4h0m14 0l0 1m-59 5h0m14 0l-1 0m43-1l-1 0m6 1h0m-56 5l0 1m7-1l-1 1m3 7l0 1m9-3h0m18 2l1 0m26-1l1 1m-59 4l-1 0m21 1l1 0m-17 7h0m7 0l0 1m20-4h0m25 7l-1 0m21 2l1 0m-72 5l1 0m74 0l-1 0m-91 7l-1 0m8-1l0 1m21-2l1 0m39 0l1 0m26 1h0m-4 5l-1 1m22 1l0 1m-10 3h0m-98 8h0m96-2l0 1m4 0l0 1m-2 6l-1 1m22-3l-1 0" stroke="#a03818" stroke-width="6.8" stroke-linecap="round"/><path d="M34 0h0m16 0l-1 0m5-1l-1 1m15 0h0m7-1l0 1m8 0h0m7-1l1 1m6 1l-1 0m13-1l-1 1m10-1l-1 0m-79 5l1 1m6 0h0m14 0h0m5-1l-1 0m18 2h0m13-2l-1 0m8 1h0m14 2h0m6 0h0m-78 5h0m11-2l1 1m9 0h0m6-1h0m8 3l-1 0m8-2h0m4 0h0m8 0l-1 1m9-2l0 1m5-1l1 1m8 0h0m-79 6l1 1m26-1l0 1m14 0l0 1m14-3l0 1m11 0l1 0m7-1h0m-78 9h0m19 0l-1 0m9-1h0m8-1h0m5 1l1 0m7-2l1 0m4 2h0m9 0h0m7-2l1 0m3 2l0 1m8-2l-1 0m-57 5l0 1m7-1l-1 1m16-1h0m7 1h0m7 0h0m4 0l1 1m8-1h0m6-1l0 1m6 1l0 1m-44 5h0m20-1h0m6 0l-1 0m9-1h0m8 0l-1 0m-94 6l-1 1m43 0l1 0m8 1l0 1m5-2l-1 1m17 0l0 1m4-1l-1 0m17 0h0m7-1l-1 0m-39 7l1 1m6-2l1 0m7 1l-1 0m15 0h0m7-1l1 1m-101 6l-1 0m15-1l0 1m47 1l-1 1m14-3l0 1m14-1l0 1m8 0l-1 0m9-1h0m-39 6h0m22-1l-1 0m14 0h0m-94 7l-1 1m22 0l-1 0m44-2l0 1m11 0h0m9 1h0m7 1l-1 0m7-2l0 1m-72 7h0m35-1h0m6 1l1 0m5-3h0m8 2l0 1m8 0l1 1m6-1l-1 0m-92 5l1 0m67-1h0m7 1h0m7-2l1 1m5 0l1 0m7 0l1 1m-75 6l1 0m5-1l0 1m50 0h0m-65 5l1 1m46 1l-1 0m29-1h0m-10 5h0m-30 8l0 1m21-1h0m-43 13l1 0m41-2h0" stroke="#6c1606" stroke-width="7.0" stroke-linecap="round"/><path d="M23 0l1 0m10 0h0m16 0l-1 0m5-1l-1 1m15 0h0m7-1l0 1m8 0h0m7-1l1 1m6 1l-1 0m13-1l-1 1m10-1l-1 0m-120 5h0m41 0l1 1m6 0h0m14 0h0m5-1l-1 0m18 2h0m13-2l-1 0m8 1h0m14 2h0m6 0h0m-112 3h0m18 2h0m16 0h0m11-2l1 1m9 0h0m6-1h0m8 3l-1 0m8-2h0m4 0h0m8 0l-1 1m9-2l0 1m5-1l1 1m8 0h0m-116 6h0m37 0l1 1m26-1l0 1m14 0l0 1m14-3l0 1m11 0l1 0m7-1h0m-87 8l-1 1m10 0h0m19 0l-1 0m9-1h0m8-1h0m5 1l1 0m7-2l1 0m4 2h0m9 0h0m7-2l1 0m3 2l0 1m8-2l-1 0m-77 6h0m13-1l-1 1m8-1l0 1m7-1l-1 1m16-1h0m7 1h0m7 0h0m4 0l1 1m8-1h0m6-1l0 1m6 1l0 1m-120 6h0m49-3l1 1m14 2l0 1m12-2h0m20-1h0m6 0l-1 0m9-1h0m8 0l-1 0m-94 6l-1 1m23 1h0m14 0l0 1m6-2l1 0m8 1l0 1m5-2l-1 1m17 0l0 1m4-1l-1 0m17 0h0m7-1l-1 0m-121 7h0m14 0l-1 0m43-1l-1 0m6 1h0m21 0l1 1m6-2l1 0m7 1l-1 0m15 0h0m7-1l1 1m-114 5l0 1m7-1l-1 1m7 0l-1 0m15-1l0 1m5-1l1 0m13 1l0 1m28 0l-1 1m14-3l0 1m14-1l0 1m8 0l-1 0m9-1h0m-108 8l0 1m9-3h0m18 2l1 0m26-1l1 1m14-2h0m22-1l-1 0m14 0h0m-108 7l-1 0m15 0l-1 1m7 0l1 0m14 0l-1 0m44-2l0 1m11 0h0m9 1h0m7 1l-1 0m7-2l0 1m-107 7h0m7 0l0 1m20-4h0m8 3h0m35-1h0m6 1l1 0m5-3h0m8 2l0 1m8 0l1 1m6-1l-1 0m-92 5l1 0m39-1l-1 0m21 2l1 0m7-2h0m7 1h0m7-2l1 1m5 0l1 0m7 0l1 1m-108 6l1 0m32 0l1 0m5-1l0 1m36 0l-1 0m15 0h0m-106 7l-1 0m8-1l0 1m21-2l1 0m12 0l1 1m26-1l1 0m19 2l-1 0m8-1h0m21 0h0m-86 6l1 0m60-1l-1 1m16-1h0m6 2l0 1m-73 6h0m28-1l-1 0m10 0l0 1m7-3l1 0m13 2h0m5-2h0m-98 8h0m96-2l0 1m4 0l0 1m-50 7l1 0m41-2h0m6 1l-1 1m22-3l-1 0" stroke="#fdf1ea" stroke-width="3.1" stroke-linecap="round"/></svg>
<g font-family="'Liberation Sans', Arial, sans-serif" font-size="16.2" text-anchor="middle" fill="#111" stroke="#111" stroke-width="0.35">
<text x="1241.3" y="194.4" textLength="58" lengthAdjust="spacingAndGlyphs">CD (596)</text>
<text x="1386" y="194.4" textLength="58" lengthAdjust="spacingAndGlyphs">CD (597)</text>
<text x="1530.7" y="194.4" textLength="58" lengthAdjust="spacingAndGlyphs">CD (598)</text>
<text x="1675.4" y="194.4" textLength="58" lengthAdjust="spacingAndGlyphs">CD (599)</text>
<text x="1820.1" y="194.4" textLength="58" lengthAdjust="spacingAndGlyphs">CD (600)</text>
<text x="1964.8" y="194.4" textLength="58" lengthAdjust="spacingAndGlyphs">CD (601)</text>
<text x="2109.5" y="194.4" textLength="58" lengthAdjust="spacingAndGlyphs">CD (602)</text>
<text x="1241.3" y="349.4" textLength="58" lengthAdjust="spacingAndGlyphs">CD (603)</text>
<text x="1386" y="349.4" textLength="58" lengthAdjust="spacingAndGlyphs">CD (604)</text>
<text x="1530.7" y="349.4" textLength="58" lengthAdjust="spacingAndGlyphs">CD (605)</text>
<text x="1675.4" y="349.4" textLength="58" lengthAdjust="spacingAndGlyphs">CD (606)</text>
<text x="1820.1" y="349.4" textLength="58" lengthAdjust="spacingAndGlyphs">CD (607)</text>
<text x="1964.8" y="349.4" textLength="58" lengthAdjust="spacingAndGlyphs">CD (608)</text>
<text x="2109.5" y="349.4" textLength="58" lengthAdjust="spacingAndGlyphs">CD (609)</text>
<text x="1241.3" y="504.4" textLength="58" lengthAdjust="spacingAndGlyphs">CD (610)</text>
<text x="1386" y="504.4" textLength="56.9" lengthAdjust="spacingAndGlyphs">CD (611)</text>
<text x="1530.7" y="504.4" textLength="58" lengthAdjust="spacingAndGlyphs">CD (612)</text>
<text x="1675.4" y="504.4" textLength="58" lengthAdjust="spacingAndGlyphs">CD (613)</text>
<text x="1820.1" y="504.4" textLength="58" lengthAdjust="spacingAndGlyphs">CD (614)</text>
<text x="1964.8" y="504.4" textLength="58" lengthAdjust="spacingAndGlyphs">CD (615)</text>
<text x="2109.5" y="504.4" textLength="58" lengthAdjust="spacingAndGlyphs">CD (616)</text>
<text x="1241.3" y="659.4" textLength="58" lengthAdjust="spacingAndGlyphs">CD (617)</text>
<text x="1386" y="659.4" textLength="58" lengthAdjust="spacingAndGlyphs">CD (618)</text>
<text x="1530.7" y="659.4" textLength="58" lengthAdjust="spacingAndGlyphs">CD (619)</text>
<text x="1675.4" y="659.4" textLength="58" lengthAdjust="spacingAndGlyphs">CD (620)</text>
<text x="1820.1" y="659.4" textLength="58" lengthAdjust="spacingAndGlyphs">CD (621)</text>
<text x="1964.8" y="659.4" textLength="58" lengthAdjust="spacingAndGlyphs">CD (622)</text>
<text x="2109.5" y="659.4" textLength="58" lengthAdjust="spacingAndGlyphs">CD (623)</text>
<text x="1242.3" y="864.8" textLength="69.1" lengthAdjust="spacingAndGlyphs">SIC (1324)</text>
<text x="1387" y="864.8" textLength="69.1" lengthAdjust="spacingAndGlyphs">SIC (1325)</text>
<text x="1531.6" y="864.8" textLength="69.1" lengthAdjust="spacingAndGlyphs">SIC (1326)</text>
<text x="1676.2" y="864.8" textLength="69.1" lengthAdjust="spacingAndGlyphs">SIC (1327)</text>
<text x="1820.9" y="864.8" textLength="69.1" lengthAdjust="spacingAndGlyphs">SIC (1328)</text>
<text x="1965.5" y="864.8" textLength="69.1" lengthAdjust="spacingAndGlyphs">SIC (1329)</text>
<text x="2110.2" y="864.8" textLength="69.1" lengthAdjust="spacingAndGlyphs">SIC (1330)</text>
<text x="1242.3" y="1020" textLength="69.1" lengthAdjust="spacingAndGlyphs">SIC (1331)</text>
<text x="1387" y="1020" textLength="69.1" lengthAdjust="spacingAndGlyphs">SIC (1332)</text>
<text x="1531.6" y="1020" textLength="69.1" lengthAdjust="spacingAndGlyphs">SIC (1333)</text>
<text x="1676.2" y="1020" textLength="69.1" lengthAdjust="spacingAndGlyphs">SIC (1334)</text>
<text x="1820.9" y="1020" textLength="69.1" lengthAdjust="spacingAndGlyphs">SIC (1335)</text>
<text x="1965.5" y="1020" textLength="69.1" lengthAdjust="spacingAndGlyphs">SIC (1336)</text>
<text x="2110.2" y="1020" textLength="69.1" lengthAdjust="spacingAndGlyphs">SIC (1337)</text>
<text x="1242.3" y="1175.2" textLength="69.1" lengthAdjust="spacingAndGlyphs">SIC (1338)</text>
<text x="1387" y="1175.2" textLength="69.1" lengthAdjust="spacingAndGlyphs">SIC (1339)</text>
<text x="1531.6" y="1175.2" textLength="69.1" lengthAdjust="spacingAndGlyphs">SIC (1340)</text>
<text x="1676.2" y="1175.2" textLength="69.1" lengthAdjust="spacingAndGlyphs">SIC (1341)</text>
<text x="1820.9" y="1175.2" textLength="69.1" lengthAdjust="spacingAndGlyphs">SIC (1342)</text>
<text x="1965.5" y="1175.2" textLength="69.1" lengthAdjust="spacingAndGlyphs">SIC (1343)</text>
<text x="2110.2" y="1175.2" textLength="69.1" lengthAdjust="spacingAndGlyphs">SIC (1344)</text>
<text x="1242.3" y="1330.4" textLength="69.1" lengthAdjust="spacingAndGlyphs">SIC (1345)</text>
<text x="1387" y="1330.4" textLength="69.1" lengthAdjust="spacingAndGlyphs">SIC (1346)</text>
<text x="1531.6" y="1330.4" textLength="69.1" lengthAdjust="spacingAndGlyphs">SIC (1347)</text>
<text x="1676.2" y="1330.4" textLength="69.1" lengthAdjust="spacingAndGlyphs">SIC (1348)</text>
<text x="1820.9" y="1330.4" textLength="69.1" lengthAdjust="spacingAndGlyphs">SIC (1349)</text>
<text x="1965.5" y="1330.4" textLength="69.1" lengthAdjust="spacingAndGlyphs">SIC (1350)</text>
<text x="2110.2" y="1330.4" textLength="69.1" lengthAdjust="spacingAndGlyphs">SIC (1351)</text>
<text x="1244" y="1535.4" textLength="48.5" lengthAdjust="spacingAndGlyphs">TC (22)</text>
<text x="1388.2" y="1535.4" textLength="48.5" lengthAdjust="spacingAndGlyphs">TC (23)</text>
<text x="1532.3" y="1535.4" textLength="48.5" lengthAdjust="spacingAndGlyphs">TC (24)</text>
<text x="1676.5" y="1535.4" textLength="48.5" lengthAdjust="spacingAndGlyphs">TC (25)</text>
<text x="1820.6" y="1535.4" textLength="48.5" lengthAdjust="spacingAndGlyphs">TC (26)</text>
<text x="1964.8" y="1535.4" textLength="48.5" lengthAdjust="spacingAndGlyphs">TC (27)</text>
<text x="2108.9" y="1535.4" textLength="48.5" lengthAdjust="spacingAndGlyphs">TC (28)</text>
<text x="1244" y="1690.3" textLength="48.5" lengthAdjust="spacingAndGlyphs">TC (29)</text>
<text x="1388.2" y="1690.3" textLength="48.5" lengthAdjust="spacingAndGlyphs">TC (30)</text>
<text x="1532.3" y="1690.3" textLength="48.5" lengthAdjust="spacingAndGlyphs">TC (31)</text>
<text x="1676.5" y="1690.3" textLength="48.5" lengthAdjust="spacingAndGlyphs">TC (32)</text>
<text x="1820.6" y="1690.3" textLength="48.5" lengthAdjust="spacingAndGlyphs">TC (33)</text>
<text x="1964.8" y="1690.3" textLength="48.5" lengthAdjust="spacingAndGlyphs">TC (34)</text>
<text x="2108.9" y="1690.3" textLength="48.5" lengthAdjust="spacingAndGlyphs">TC (35)</text>
<text x="1244" y="1845.2" textLength="48.5" lengthAdjust="spacingAndGlyphs">TC (36)</text>
<text x="1388.2" y="1845.2" textLength="48.5" lengthAdjust="spacingAndGlyphs">TC (37)</text>
<text x="1532.3" y="1845.2" textLength="48.5" lengthAdjust="spacingAndGlyphs">TC (38)</text>
<text x="1676.5" y="1845.2" textLength="48.5" lengthAdjust="spacingAndGlyphs">TC (39)</text>
<text x="1820.6" y="1845.2" textLength="48.5" lengthAdjust="spacingAndGlyphs">TC (40)</text>
<text x="1964.8" y="1845.2" textLength="48.5" lengthAdjust="spacingAndGlyphs">TC (41)</text>
<text x="2108.9" y="1845.2" textLength="48.5" lengthAdjust="spacingAndGlyphs">TC (42)</text>
<text x="1244" y="2000.1" textLength="48.5" lengthAdjust="spacingAndGlyphs">TC (43)</text>
<text x="1388.2" y="2000.1" textLength="48.5" lengthAdjust="spacingAndGlyphs">TC (44)</text>
<text x="1532.3" y="2000.1" textLength="48.5" lengthAdjust="spacingAndGlyphs">TC (45)</text>
<text x="1676.5" y="2000.1" textLength="48.5" lengthAdjust="spacingAndGlyphs">TC (46)</text>
<text x="1820.6" y="2000.1" textLength="48.5" lengthAdjust="spacingAndGlyphs">TC (47)</text>
<text x="1964.8" y="2000.1" textLength="48.5" lengthAdjust="spacingAndGlyphs">TC (48)</text>
<text x="2108.9" y="2000.1" textLength="48.5" lengthAdjust="spacingAndGlyphs">TC (49)</text>
</g>
</svg>
</body></html>
